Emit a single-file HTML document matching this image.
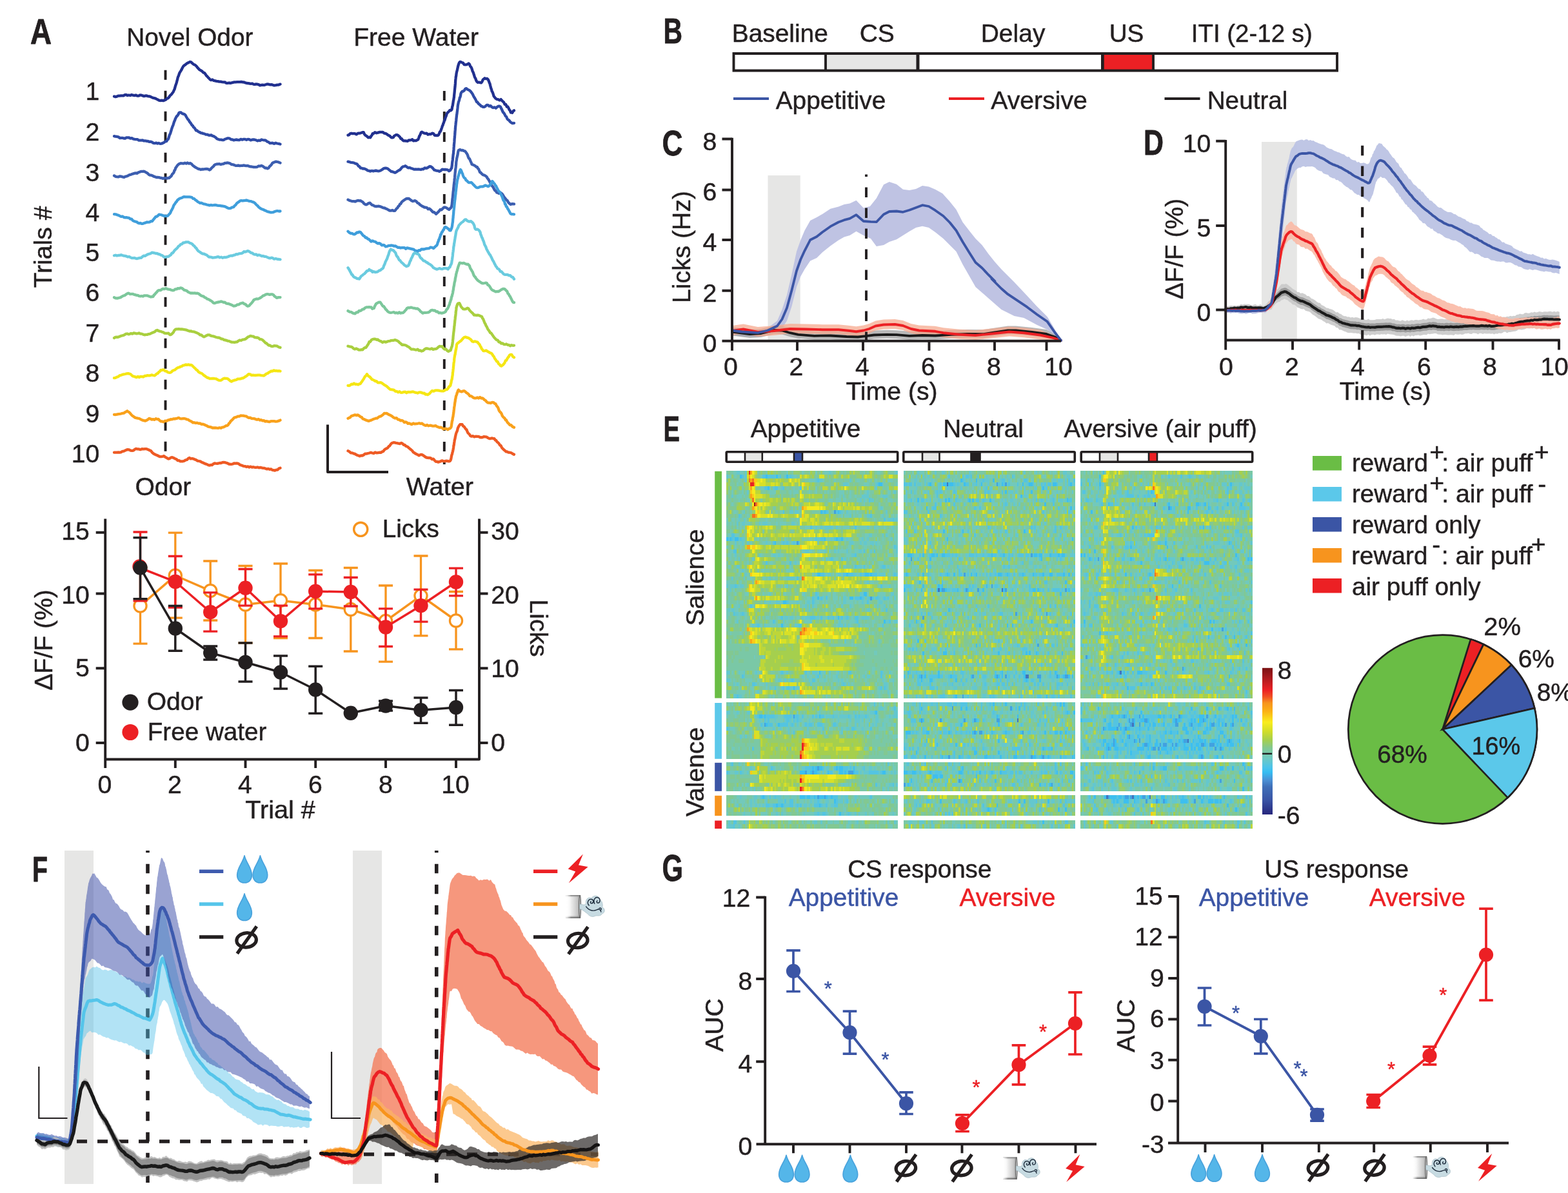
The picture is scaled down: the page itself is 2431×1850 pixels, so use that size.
<!DOCTYPE html>
<html lang="en"><head><meta charset="utf-8"><title>Figure</title>
<style>html,body{margin:0;padding:0;background:#fff;width:2431px;height:1850px}svg{display:block}</style>
</head><body>
<svg width="2431" height="1850" viewBox="0 0 2431 1850" font-family="'Liberation Sans', sans-serif" font-size="38" fill="#231f20" stroke-linejoin="round">
<rect width="2431" height="1850" fill="#fff"/>
<text x="47" y="67.5" font-size="55.8" font-weight="bold" textLength="33" lengthAdjust="spacingAndGlyphs" stroke="#231f20" stroke-width="0.8">A</text>
<text x="196.2" y="70.6" textLength="196.2" lengthAdjust="spacingAndGlyphs" stroke="#231f20" stroke-width="0.45">Novel Odor</text>
<text x="548.2" y="70.6" textLength="193.9" lengthAdjust="spacingAndGlyphs" stroke="#231f20" stroke-width="0.45">Free Water</text>
<text x="209.4" y="768.1" textLength="86.9" lengthAdjust="spacingAndGlyphs" stroke="#231f20" stroke-width="0.45">Odor</text>
<text x="629.7" y="768.1" textLength="104.2" lengthAdjust="spacingAndGlyphs" stroke="#231f20" stroke-width="0.45">Water</text>
<text transform="translate(80 383) rotate(-90)" x="-63.4" textLength="126.9" lengthAdjust="spacingAndGlyphs" stroke="#231f20" stroke-width="0.45">Trials #</text>
<text x="132.6" y="155.1" textLength="21.8" lengthAdjust="spacingAndGlyphs" stroke="#231f20" stroke-width="0.45">1</text>
<text x="132.6" y="218.1" textLength="21.8" lengthAdjust="spacingAndGlyphs" stroke="#231f20" stroke-width="0.45">2</text>
<text x="132.6" y="280.6" textLength="21.8" lengthAdjust="spacingAndGlyphs" stroke="#231f20" stroke-width="0.45">3</text>
<text x="132.6" y="343.1" textLength="21.8" lengthAdjust="spacingAndGlyphs" stroke="#231f20" stroke-width="0.45">4</text>
<text x="132.6" y="404.6" textLength="21.8" lengthAdjust="spacingAndGlyphs" stroke="#231f20" stroke-width="0.45">5</text>
<text x="132.6" y="467.1" textLength="21.8" lengthAdjust="spacingAndGlyphs" stroke="#231f20" stroke-width="0.45">6</text>
<text x="132.6" y="530.1" textLength="21.8" lengthAdjust="spacingAndGlyphs" stroke="#231f20" stroke-width="0.45">7</text>
<text x="132.6" y="592.1" textLength="21.8" lengthAdjust="spacingAndGlyphs" stroke="#231f20" stroke-width="0.45">8</text>
<text x="132.6" y="654.6" textLength="21.8" lengthAdjust="spacingAndGlyphs" stroke="#231f20" stroke-width="0.45">9</text>
<text x="110.8" y="717.1" textLength="43.5" lengthAdjust="spacingAndGlyphs" stroke="#231f20" stroke-width="0.45">10</text>
<line x1="256.5" y1="108.7" x2="256.5" y2="701.5" stroke="#231f20" stroke-width="3.9" stroke-dasharray="15 17"/>
<line x1="688.8" y1="141" x2="688.8" y2="720" stroke="#231f20" stroke-width="3.9" stroke-dasharray="15 17"/>
<path d="M508 658.5V732H602" fill="none" stroke="#231f20" stroke-width="4"/>
<polyline points="177,149.5 179.1,150.1 181.2,149.7 183.3,148.6 185.4,148.6 187.5,148.3 189.5,148.3 191.5,148.4 193.5,147.2 195.5,147 197.6,148 199.7,147.5 201.9,148 204.1,147 206.2,147.7 208.4,148.1 210.6,147.5 212.8,148.6 215,148.6 217.1,147.5 219.2,147.6 221.2,148.4 223.3,149.1 225.4,148.5 227.5,148.5 229.6,149.3 231.7,149.3 233.8,150.2 235.8,151.2 237.9,151.9 240,152.3 242.2,153.3 244.4,154.4 246.6,155.7 248.8,156 250.9,155.6 253.1,156.2 255.3,155.2 257.2,154.4 259,152.6 260.5,152.4 262,150.8 263.5,148.3 264.9,147.1 266.2,145.9 267.5,144 268.7,142.5 269.8,139.8 270.6,138.4 271.2,136.1 271.9,133.5 272.5,131.8 273.1,130.1 273.8,128 274.4,125.4 275,123.5 275.6,120.6 276.2,118.8 276.9,117.5 277.7,114.9 278.6,112.6 279.6,111.1 280.7,109.4 281.8,107.4 282.9,105 284,103.2 285.3,101.6 287,100.6 288.8,99.1 290.7,97.8 292.6,97 294.5,95.9 296.3,96.3 298.2,98.2 300,99.7 301.9,100.4 303.5,101.6 305.1,103.3 307.1,105.8 309.4,108.2 311.6,109.4 313.5,110.6 315.2,112.5 317,113.1 318.6,115.1 320,117.3 321.2,118.4 322.5,119.9 323.8,121.2 325.3,122.9 327.2,124.2 329.3,123.4 331.4,124.9 333.6,125.4 335.7,125.9 337.9,126.2 340,126.7 342.1,126.7 344.3,127.2 346.4,127.4 348.6,127.3 350.7,128.9 352.9,128.9 355,128.5 357.1,128.8 359.2,128.4 361.2,127.8 363.3,127.4 365.4,127.3 367.5,127.2 369.7,127.2 371.9,127.2 374.1,126.8 376.2,127.4 378.4,127.5 380.6,128.4 382.8,129 384.9,129.2 387,129.5 389,129.9 391,129.5 393,130.7 395,130.9 397,130.4 399,130.7 401,131.1 403,132.4 405.1,131.9 407.3,131.6 409.5,132 411.8,131.2 414,130.5 416.2,130.6 418.4,131.3 420.6,131.2 422.8,131.7 425.1,132.5 427.4,132.1 429.8,131.6 432.1,131.5 434.5,130.6" fill="none" stroke="#21308f" stroke-width="4.3" stroke-linejoin="round" stroke-linecap="round" />
<polyline points="177,211.1 179.2,211.7 181.3,211.9 183.5,212.3 185.7,214 187.8,213.9 189.9,213.8 192,214.5 194,214.6 196,213.4 198,213.3 200.1,213.5 202.2,214.6 204.3,214.2 206.4,215.4 208.6,215.9 210.7,216.1 212.9,216.1 215,217.6 217.1,217.7 219.2,217.6 221.2,217.5 223.3,218.4 225.4,218.3 227.5,218.9 229.6,219 231.7,219.9 233.8,219.6 235.8,220.5 237.9,221.9 240,222.1 242.1,221.6 244.2,222.5 246.2,221.9 248.3,222.9 250.4,222.6 252.4,221.9 254.4,220.8 256.2,219.3 258.1,219.2 259.6,216.6 260.6,216 261.4,214.3 262.1,211.8 262.8,209.3 263.5,208.3 264.2,206.5 264.9,204.2 265.6,202 266.2,199.8 266.9,197.8 267.6,195.7 268.3,194.4 269,192.1 269.7,189.8 270.4,187.8 271.1,186.6 271.8,184.2 272.7,182.6 273.8,180.5 275,179.5 276.2,177.8 277.5,175 279,174.3 280.7,174.5 282.5,176.1 284.3,176.6 286,177.2 287.5,178.5 288.8,181 290,183 291.2,185 292.5,186.1 293.8,188.7 295,190.2 296.2,191.7 297.5,194.1 298.8,194.8 300,197.2 301.2,198 302.5,199.8 304,202.3 305.7,202.5 307.5,204.2 309.4,204.9 311.2,206.1 313.1,206.4 315.1,207.1 317.1,207.5 319.2,208.7 321.2,208.6 323.3,209.5 325.4,209.8 327.4,209.3 329.2,210.7 331,211.1 332.8,212.2 334.5,213.3 336.4,215.3 338.5,216 340.6,216.7 342.8,216.6 344.9,217.1 346.9,217 348.8,215.7 350.6,215.2 352.5,214.4 354.5,214.3 356.5,215 358.5,216.4 360.5,216.5 362.6,217.4 364.7,216.8 366.9,216.5 369.1,217.1 371.2,217.1 373.4,215.8 375.6,216.7 377.8,215.8 380,215.8 382.1,216.9 384.3,215.8 386.4,216.2 388.6,217.4 390.7,216.7 392.9,216.4 395,216.7 397.1,217.3 399.2,218.4 401.2,217.6 403.3,218.1 405.4,216.5 407.4,217 409.3,217.3 411.1,217.4 412.9,218.4 414.6,219.8 416.4,220.3 418.3,222 420.3,221.8 422.5,221.7 425,222.8 427.4,221.7 429.8,222.5 432.2,222.9 434.5,223.5" fill="none" stroke="#2f4ba6" stroke-width="4.3" stroke-linejoin="round" stroke-linecap="round" />
<polyline points="177,272.4 179.2,273.8 181.4,274.1 183.6,274.3 185.9,273.3 188.1,273.7 190.3,274.4 192.4,274.8 194.5,273.7 196.5,273.3 198.5,272.5 200.5,271.2 202.5,270.9 204.5,270 206.5,269.4 208.5,268.7 210.5,268.4 212.6,268.8 214.7,267.2 216.9,266.6 219,265.8 221.1,265.9 223.1,265.6 225,266.5 226.9,267.6 228.8,268.7 230.6,270.6 232.5,271.7 234.5,271.7 236.5,272.5 238.5,273.6 240.5,274.3 242.5,275 244.5,275 246.5,275.1 248.5,275.8 250.5,276 252.5,276.9 254.5,276.2 256.5,276.1 258.5,276.7 260.5,276 262.3,276 264,274.3 265.6,273 267.1,270.1 268.5,268.7 269.6,267.2 270.5,264.2 271.4,263.5 272.3,260.4 273.2,259.3 274.2,257.7 275.6,255.9 277.6,254.2 280,253.2 282.3,253.3 284.6,253.6 286.7,252.7 288.8,253.6 290.8,252.5 292.9,253.7 294.9,252.9 296.9,254.3 298.8,256.4 300.6,257.7 302.5,259.2 304.2,260.2 306,261.1 307.8,262 309.5,262.2 311.4,263 313.4,262.3 315.4,262.5 317.7,262.1 320,261.8 322.4,262.2 324.6,263.5 326.4,262.5 327.9,260.7 329.4,259.2 330.8,258.1 332.3,256.1 334,255 336,254.5 338.1,254.4 340.3,254.2 342.4,255 344.5,254.3 346.5,254.1 348.5,252.9 350.5,252.9 352.6,252.4 354.7,252.8 356.8,253.6 358.9,255.1 361.1,255.2 363.2,255.9 365.4,256.9 367.5,256.8 369.6,256.5 371.7,257.1 373.8,256.9 375.8,256.9 377.9,256.4 380,256.8 382.1,257.2 384.2,257 386.2,257.9 388.3,258.4 390.4,258.5 392.5,259 394.6,259.1 396.7,259.2 398.8,258.8 400.8,257.5 402.9,257.7 405,256.9 407,257.5 409,259 411,260.5 413,260.3 414.8,261.3 416.4,260.6 417.9,258.2 419.4,256.9 420.8,255.3 422.3,252.9 424,252 425.9,251.3 427.9,250.6 430.1,251 432.3,251.6 434.5,252.6" fill="none" stroke="#3c5eb0" stroke-width="4.3" stroke-linejoin="round" stroke-linecap="round" />
<polyline points="177,332.1 179.2,332.3 181.3,333.1 183.5,333.7 185.7,334.9 187.8,335.9 189.9,335.5 192,336.8 194,337.3 196,337.1 198,337.7 200,337.8 202,339.5 204,339.7 206,342.1 208,343 210,343.7 211.9,344 213.8,345.6 215.7,346.3 217.6,345.8 219.5,346.9 221.5,346.8 223.5,346 225.5,345.4 227.6,344.5 229.7,344.7 231.9,344.4 234,343.1 235.9,343 237.4,341.2 238.8,339.3 240,338 241.3,336.1 242.8,335.8 244.6,334.7 246.7,332.6 248.8,333 250.8,333.4 252.9,334.2 255.2,335.1 257.5,334.9 259.9,334.9 261.9,332.6 263.3,331.2 264.4,329.6 265.3,327 266.2,325.8 267.2,323.7 268.1,322 269.1,319.1 270.1,317.3 271.3,315.9 272.5,313.8 273.8,312.6 275,310.5 276.3,309.5 277.8,308.3 279.5,307.4 281.5,307 283.5,305.8 285.5,305.1 287.5,305.4 289.5,305.3 291.5,305.3 293.5,305.4 295.5,305.6 297.4,306 299.3,307.9 301.1,308.1 302.9,310.1 304.6,311 306.4,312.8 308.2,313.7 310.1,314.9 312.2,314.6 314.3,315.7 316.4,316.4 318.6,316.7 320.7,317.5 322.8,317.9 324.9,318.5 327,317.9 329,318.4 331,318.2 333,317.9 335,318 337,318.7 339,318.9 341,318.9 343,319.4 345,319.5 347,319.9 349,320.3 351,321.4 353,322.5 355.2,323.2 357.5,322.8 359.9,321.5 362.1,321.1 363.9,318.9 365.5,317.7 367,315.4 368.5,314.2 370.2,313.2 372,311.6 374,311 376,311.4 378,311.1 380.1,310.8 382.3,310.5 384.6,311.3 386.9,311.8 389.2,312.1 391.4,313.2 393.4,313.6 395.2,315 396.7,316.7 398.1,318.1 399.6,319.3 401.1,321.2 402.7,322.4 404.5,323.6 406.5,324.5 408.5,325.1 410.5,326.3 412.6,327.1 414.7,328.2 416.9,328.6 419.1,329.3 421.2,329.4 423.3,329.2 425.4,328.3 427.6,327.5 429.8,327 432.2,327.5 434.5,327.5" fill="none" stroke="#3f9edb" stroke-width="4.3" stroke-linejoin="round" stroke-linecap="round" />
<polyline points="177,396.3 179.2,395.7 181.3,396.5 183.5,396 185.7,395.9 187.8,395.2 189.9,396 192,396.7 194,396.8 196,397.3 198,398.4 200.1,398 202.2,399.1 204.3,400.1 206.4,400.1 208.6,400 210.7,400.8 212.8,401 214.9,400.3 217,399.8 219,399.8 221,397.9 223,396.7 225,396.8 227.1,395.5 229.2,394.4 231.2,393.8 233.3,393.2 235.4,391.7 237.5,392 239.5,392.3 241.5,393 243.5,392.9 245.5,394 247.5,394.3 249.5,395.6 251.5,396 253.5,397.9 255.5,398.9 257.5,398.5 259.4,397.9 261.2,397.9 263.1,396.4 264.8,395.3 266.4,392.7 267.9,392.3 269.3,390.4 270.7,388.3 272.1,386.9 273.6,385.7 275.1,384.2 276.8,381.8 278.5,380.9 280.2,378.8 282,378.5 283.9,376.5 285.9,376.3 287.9,375.5 290,375.3 292,375.4 294,376.7 296,377.3 298,378.4 299.8,380.5 301.4,381.6 302.9,383.8 304.3,384.8 305.7,387.2 307.1,388.9 308.6,390 310.3,391.1 312.2,392.5 314.4,393.5 316.5,393.7 318.6,394.7 320.5,395.4 322.2,397.1 324,398.5 325.8,398.5 327.7,398.8 329.7,399.7 331.9,399.4 334.1,399.2 336.3,398.5 338.5,398.2 340.8,399.3 343,398.7 345.2,399.8 347.4,399 349.6,399.2 351.7,398.7 353.8,398 355.8,397 357.9,396.5 360,396.7 362.1,395.7 364.2,395.3 366.2,394.2 368.3,394.4 370.4,393.3 372.4,393.1 374.4,392.9 376.2,392.3 378.1,390.2 380,390.6 381.9,390.1 383.8,389.1 385.6,389.6 387.5,390.8 389.4,392.2 391.2,392.4 393.1,394 395.1,394.7 397.2,394.5 399.3,396.1 401.4,395.3 403.6,396 405.7,397.2 407.9,396.9 410,397.8 412.1,397.9 414.3,398.9 416.4,399.9 418.6,400.4 420.7,399.7 422.9,400.2 425.1,401.7 427.4,401 429.8,401.8 432.1,402 434.5,402.4" fill="none" stroke="#6acbdf" stroke-width="4.3" stroke-linejoin="round" stroke-linecap="round" />
<polyline points="177,461.3 179.7,462.4 182.2,462.5 184.3,461.9 186.2,461.5 188.1,460.5 190,459.2 191.9,458.5 193.8,457.9 195.6,456.4 197.5,455.2 199.5,454.7 201.5,456.1 203.5,455.9 205.5,455.8 207.5,456.6 209.5,457.1 211.5,457.8 213.5,457.9 215.5,459 217.5,459.4 219.5,459 221.5,459.5 223.5,458.4 225.5,458.3 227.6,458.3 229.7,458.9 231.9,459.7 234,460.5 235.9,459.9 237.4,460 238.8,457.3 240,456.6 241.3,454.8 242.8,453.3 244.6,451 246.7,450.1 248.8,450.2 250.8,448.8 252.9,447.8 255,448.2 257.1,447 259.2,448.2 261.2,448.7 263.3,448.8 265.4,449.7 267.5,450.3 269.6,450.2 271.7,448.4 273.8,448.4 275.8,447.1 277.9,447.5 279.9,446.3 281.9,446.8 283.8,448.2 285.6,449.8 287.5,450.2 289.5,450.9 291.5,452.7 293.5,453.6 295.5,454.5 297.6,454.3 299.7,454.7 301.9,454.4 304,454.8 306.1,454.7 308.1,455.5 310,457.1 311.9,458.5 313.8,459.1 315.6,459.6 317.5,461.3 319.4,462 321.2,463.6 323.1,464 325,465.2 326.9,466.3 328.8,467.5 330.6,469.4 332.5,470.2 334.5,469.5 336.5,468.8 338.5,468.5 340.5,468.2 342.5,467.4 344.5,468 346.5,468.8 348.5,468.7 350.5,470.4 352.5,470.8 354.4,471 356.2,471.7 358.1,472.5 360,473.3 361.9,474.5 363.9,474.3 366,473.8 368.1,472.3 370.3,472.3 372.5,470.6 374.6,470.2 376.7,469.7 378.7,471.4 380.7,471.9 382.6,474 384.3,474.8 386,474.3 387.5,472.6 389,471.1 390.5,469.4 392,467.5 393.6,465 395.4,464.3 397.6,463.5 400,463.6 402.2,462.6 404.2,461.5 406,460.3 407.8,458.6 409.5,458.2 411.4,456.9 413.5,456.2 415.8,456.2 418,456.9 420.2,456.4 422.2,456.3 424,457.3 425.6,459.4 427.3,460.5 429.2,461.9 431.7,461.1 434.5,461.1" fill="none" stroke="#7cc79b" stroke-width="4.3" stroke-linejoin="round" stroke-linecap="round" />
<polyline points="177,524.1 179,522.8 181,522.6 183,522.8 185,522 187,521.1 189,520.5 191,520.1 193,519.2 195,517.9 197.1,517.5 199.2,518.3 201.2,517.8 203.3,517 205.4,517.7 207.5,516.4 209.5,516.8 211.5,517.4 213.5,517.1 215.5,516.5 217.6,517.6 219.7,517.6 221.9,518.6 224.1,519.3 226.2,518.9 228.2,518.9 230.2,518.1 232.2,517.9 234.2,516.9 236.2,516 238.1,515.2 240,514.4 241.9,512.5 243.8,512 245.6,513 247.5,513.6 249.4,514 251.2,514.7 253.1,515.3 255.1,516.6 257.1,516.8 259.2,516.8 261.2,516.7 263.1,519 264.8,519.1 266.2,518.1 267.5,516.7 268.8,515.5 270,512.8 271.3,511.3 273,510.3 275,510.4 277.3,510.1 279.5,510.5 281.5,510.3 283.5,510.7 285.5,511 287.5,511.4 289.6,511.9 291.7,512.8 293.8,513.6 295.8,513.3 297.9,514.2 300,514.3 302.1,514.9 304.2,515.7 306.2,516.6 308.2,517.6 310.2,519.4 312.2,519.5 314.3,521.3 316.3,522.3 318.3,521.4 320.4,520.2 322.5,519.3 324.6,519.3 326.8,520.6 328.9,521.1 331.1,521.4 333.2,522.3 335.3,523 337.4,523.5 339.4,523.6 341.4,524.4 343.3,525.6 345.3,525.7 347.2,527 349.2,527.3 351.1,527.8 353.1,528.7 355.1,528.9 357.2,529.9 359.4,530.6 361.5,530.6 363.6,530.9 365.6,530.4 367.5,530.3 369.4,528.8 371.5,527.5 373.8,528 376.2,526.6 378.5,526.4 380.6,525.7 382.4,524.3 384.3,522.6 386.2,521.9 388.2,520.8 390.4,521.3 392.6,521.6 394.9,523.1 397,523.5 399,523.4 401,524.2 403,526.2 404.9,526.1 406.6,526.9 408.3,528.4 410,530 411.7,531.9 413.3,532.4 415,534.1 416.7,535.5 418.4,535.5 420.3,536.8 422.5,537.2 425,536.2 427.4,536.3 429.8,536.7 432.1,538.2 434.5,538.9" fill="none" stroke="#a9cf3f" stroke-width="4.3" stroke-linejoin="round" stroke-linecap="round" />
<polyline points="177,586.2 179.1,585.9 181.2,584.7 183.3,584.1 185.4,582.4 187.6,581.7 189.8,580.9 192,580.4 194.2,580 196.5,579.4 198.6,579.2 200.5,579.7 202.2,580 204,581.7 205.8,583.4 207.6,583.7 209.6,584.4 211.7,585.1 213.8,584 215.8,585 217.9,583.9 220,584.1 222.1,584.5 224.2,583 226.2,582.9 228.3,582.2 230.4,582.4 232.7,582.3 235,581.4 237.4,582 239.6,582.4 241.5,581.1 243.1,579.5 244.7,578.9 246.2,577 247.8,575.9 249.4,573.9 251,574.2 252.6,573.2 254.4,574.1 256.3,575.4 258.2,575.7 260.1,577.3 261.9,577.8 263.7,577.9 265.5,577.1 267.2,575.2 269,574.3 270.8,573.8 272.5,572.4 274.4,570.9 276.2,570 278.1,569.5 280,568.5 281.9,568 283.8,566.6 285.8,566.3 287.9,565.5 290,565.8 292.1,565.4 294.1,566 296.1,565.8 297.8,566.7 299.5,568.4 301.1,570.1 302.7,571.4 304.3,573.3 305.9,574.2 307.6,576.6 309.3,577.6 311,578.5 312.8,579 314.5,580.5 316.2,582.1 318,583.2 319.8,584.6 321.5,585.8 323.3,586 325.1,587.1 327,587.2 329,587 331,587 333,587.2 335,587.3 337.1,588.6 339.1,589.7 341.1,589.8 343,589.6 344.8,588.1 346.5,587.1 348.2,586.7 350,586.9 351.8,586.9 353.5,587.6 355.2,589 357,590.7 358.8,591.7 360.6,590.6 362.5,589.9 364.4,589.4 366.4,589 368.5,587.6 370.8,587.7 373,587.4 375.2,586.5 377.2,586.3 379,585 380.5,583.9 382,583.2 383.6,581.8 385.4,580.2 387.6,580.4 390,581.9 392.5,581.6 395,582 397.5,581.9 400,581.6 402.5,581.7 405,582.1 407.3,582.3 409.3,582.5 411.2,581.1 413.1,579.5 415,579 416.9,577.4 418.8,576.6 420.6,575.4 422.5,575.6 424.5,574.4 426.5,575.1 428.5,574.9 430.5,575.3 432.5,575.1 434.5,575.5" fill="none" stroke="#f5e614" stroke-width="4.3" stroke-linejoin="round" stroke-linecap="round" />
<polyline points="177,642.9 179.2,643 181.3,642.6 183.5,642.2 185.7,641.9 187.8,641.5 189.9,640.8 191.9,640.7 193.8,639.3 195.6,638.3 197.3,637.3 198.9,638.6 200.4,639.4 201.8,640.9 203.2,642.6 204.6,644.2 206.1,645.2 207.7,646.4 209.5,647.6 211.5,648.2 213.5,648.7 215.5,648.9 217.5,649.9 219.4,651 221.2,651.6 223.1,652.2 225.1,652.7 227.1,651.8 229.2,650.6 231.2,648.9 233.3,649.5 235.4,650.6 237.5,650.1 239.6,650.9 241.7,649.2 243.7,650.1 245.6,649.9 247.5,652.1 249.4,653.4 251.4,653.5 253.5,654.3 255.8,652.7 258,653 260.2,651.7 262.4,651.2 264.6,650.2 266.7,650.4 268.8,649.4 270.8,649.5 272.9,649.2 275,648.6 277.1,647.8 279.3,649.2 281.4,649.4 283.6,649.2 285.7,649 287.8,649.5 289.9,650.4 291.7,650.6 293.5,652.1 295.2,652.9 297,653.7 299,655.4 301.1,655.2 303.3,656 305.6,655.6 307.9,656.6 310.2,656.5 312.4,657.9 314.6,657.7 316.7,658.5 318.8,659.5 320.8,660.3 322.9,661.6 325,662 327.2,662.3 329.4,663.5 331.6,663.5 333.8,663.3 335.9,663.7 338.1,663.9 340.3,663.2 342.4,663.8 344.5,662.6 346.5,662.3 348.5,661.3 350.5,660.2 352.2,660.1 353.7,658.9 355,656.5 356.2,655.7 357.5,653.4 358.8,652.2 360,651.1 361.5,649.5 363.3,647.5 365.2,647.2 367.1,646.4 369.1,645.6 371.1,645.6 373,644.5 375.1,644.6 377.2,644.7 379.3,645.2 381.4,645.3 383.6,646.8 385.7,647.9 387.9,647.6 390,648.8 392.1,649.1 394.3,649.2 396.4,650.1 398.6,650.8 400.7,649.9 402.8,651.5 404.9,651.2 407,652.4 409,652.1 411,653.5 413,653.2 415.2,653.7 417.5,654.2 420,653.2 422.5,653.2 425,653.2 427.4,653.6 429.8,653.3 432.2,652.7 434.5,651.6" fill="none" stroke="#f9a11b" stroke-width="4.3" stroke-linejoin="round" stroke-linecap="round" />
<polyline points="177,701.6 179.2,701.7 181.3,701.6 183.5,701.4 185.7,701.6 187.8,701.2 189.9,699.8 192,699.6 194,698.6 196,697.7 198,697.2 200.2,697.3 202.5,698.6 204.8,698.8 206.8,698.6 208.8,697 210.7,695.8 212.7,696.4 215,696.4 217.5,697.2 220,696.2 222.5,696.4 224.9,696.2 227.2,696.1 229.1,697 230.8,697.6 232.5,698.6 234.2,699.3 235.9,701.7 237.6,703.2 239.5,704.3 241.5,705.2 243.5,706 245.5,707 247.7,708.2 250,708.1 252.2,707.8 254.2,707.1 256,708.7 257.8,709.7 259.5,710.6 261.2,711.5 262.9,711.1 264.6,709.8 266.3,709.2 268.1,709.6 270,710.5 271.9,711.6 273.8,712.3 275.6,714.2 277.6,714.1 279.6,715.4 281.7,715.3 283.7,715.3 285.7,714.7 287.8,713.4 289.8,713 291.8,710.9 293.8,710 295.8,711.4 297.9,711 300,711.6 302.1,712.4 304.2,713.3 306.2,714.6 308.3,715 310.4,715.4 312.5,716.7 314.6,717.5 316.7,718.5 318.8,719.4 320.8,720 322.9,721.2 324.9,721.6 326.9,721 328.8,721.1 330.6,719.5 332.6,718.5 334.5,718.7 336.6,718.8 338.6,718.5 340.6,718 342.7,718 344.7,717.2 346.7,716.8 348.7,717.1 350.7,717.7 352.8,718.4 354.8,719.5 356.8,719.8 358.8,719.9 360.8,719.5 362.9,718.5 364.9,718.7 366.9,718.5 368.8,718.6 370.6,719.7 372.5,721.1 374.4,721.5 376.2,722.3 378.1,722.8 380.1,723.1 382.2,724 384.3,723.4 386.4,724.5 388.6,723.6 390.7,724.6 392.9,724.2 395,724.8 397.1,724.9 399.3,724.5 401.4,725.3 403.6,724.9 405.7,725.4 407.8,725.8 409.9,725.9 412,726.7 414,727.4 416,726.8 418,727.8 420,727.4 422.1,728.8 424.2,729.2 426.2,729.7 428.3,728.6 430.4,728.6 432.4,726.5 434.5,725.7" fill="none" stroke="#ee5a24" stroke-width="4.3" stroke-linejoin="round" stroke-linecap="round" />
<polyline points="539.5,209.6 541.2,209.1 542.8,207.3 544.6,206.7 546.3,207.2 548.2,207.1 550.2,207.2 552.5,208.4 555,206.7 557.5,206.7 559.9,206 562,205.2 563.7,205.1 565,208.1 566.3,209.6 567.7,210.5 569.4,211.8 571.1,213.3 572.7,212.7 574.1,213.3 575.3,211.3 576.5,209.7 577.7,207.2 579.3,207 581.3,205.2 583.8,206.3 586.2,205.6 588.8,204.9 591.2,204.8 593.6,205 595.9,206.7 598.1,207 600.3,208.4 602.4,209.9 604.3,210.8 606.2,212.9 607.9,213.5 609.6,213.2 611.2,210.8 612.9,209.7 614.4,209.1 615.8,209.2 617.2,209.9 618.5,211.1 619.9,212.3 621.3,215 622.8,215.2 624.4,217.4 626,218.4 627.7,218.4 629.6,218.5 631.7,218.9 633.7,217.5 635.6,217.4 637.4,217.1 639.2,216.2 640.9,218.3 642.8,217.8 645,218.2 646.9,217 648.3,216.3 649.3,213.7 650.2,211 651.1,209.7 652,207.7 652.9,205.4 654.1,204.6 655.7,205.5 657.5,206.5 659.4,207 661.3,206.6 663.4,208.7 665.5,208 667.7,208.2 669.9,206.7 672,207.2 674,209.9 675.9,210 677.6,210 678.9,210 679.9,209.3 680.9,207.2 681.8,204.6 682.8,203.9 683.7,201.7 684.4,199.9 685.2,197.6 685.9,195.2 686.6,194.1 687.3,191.4 688,190.3 688.7,187.6 689.5,186.4 690.2,183.7 690.9,181.7 691.6,180.2 692.3,177.8 693.2,175.5 694.4,174.3 695.8,173 697.5,170.9 699.1,171.3 700.3,170.1 700.8,168.2 701.2,165.3 701.7,164.2 702.1,161.7 702.5,159.1 702.9,156.1 703.3,154.8 703.7,151.7 703.9,151.2 704.1,148.1 704.3,146.1 704.5,144.4 704.7,142.5 704.9,140.3 705.1,138.1 705.3,136.3 705.5,134.6 705.7,131.8 705.9,129.9 706,128.4 706.2,124.8 706.4,123.1 706.6,121.3 706.8,119 707.1,118.2 707.5,114.7 707.9,112.4 708.3,110.6 708.8,108.8 709.2,107.1 709.6,105.3 710.1,102.8 710.8,100.3 711.9,97.4 713.2,95.8 714.6,96.1 716.2,97 717.9,97.5 719.6,100.2 721.3,100.3 723.2,100.1 725,99.5 726.7,98.4 728,99.7 729.1,102.9 730.2,103.8 731.1,105.5 731.9,107.8 732.7,110.6 733.4,111.7 734.1,113.6 734.8,115.7 735.5,118 736.3,120.4 737.2,121.5 738.1,124.4 739.2,126.4 740.6,127.8 742.5,127.5 744.5,128.1 746.2,128.3 747.5,126.5 748.8,123.4 750.1,122.4 751.6,121.3 753.4,122.2 755.3,121.9 757,123.8 758.1,126.4 758.8,128.7 759.4,129.4 760.1,132.5 760.7,134.8 761.4,137.3 762,138.6 762.7,141.7 763.4,142.4 764.1,144.3 764.8,146.4 765.6,149.3 766.7,150.4 768.2,152.5 770.1,153.8 772.2,154.2 774.5,155.5 776.6,154.1 778.3,156.1 779.8,157.5 781.1,158.7 782.6,161.9 784.2,162 785.8,165.5 787.3,165.5 788.6,167.8 789.7,170.3 790.8,171.4 791.9,174.5 793.1,174.1 794.3,174.9 795.7,172.1 797,171.3" fill="none" stroke="#21308f" stroke-width="4.3" stroke-linejoin="round" stroke-linecap="round" />
<polyline points="539.5,250.7 541.9,251.2 544.2,251.9 546.5,252.1 548.8,252.5 550.9,253.7 552.7,253.9 554.2,255.2 555.8,257.5 557.3,258.2 558.9,260.5 560.6,260.6 562.5,261.5 564.4,261.4 566.2,262.1 568.1,263 570.1,264.5 572.2,264.9 574.4,265.6 576.6,264.8 578.8,265.4 580.9,264.8 583.1,264.5 585.3,265.1 587.4,265.3 589.4,264.7 591.2,263.8 593.2,262.4 595.2,261.1 597.5,260.7 599.6,261 601.5,261.8 603.1,263.3 604.7,264.4 606.4,266 608.4,266.2 610.4,267 612.4,267.8 614.4,266.9 616.2,265.5 618.1,264.3 619.9,263.5 621.5,261.7 623.1,259.6 624.7,258.3 626.5,258.1 628.5,257.2 630.6,258.7 632.8,260.3 635.1,259.9 637.5,260.9 640,261.8 642.3,262.7 644.5,262.5 646.5,262.6 648.5,262.4 650.5,262.6 652.5,263 654.5,262.1 656.5,262.3 658.5,260.3 660.5,261 662.5,260.4 664.6,259 666.6,257.9 668.5,258.6 670.2,260 671.8,261.8 673.2,263.6 674.8,263.9 676.6,264.7 678.8,264.8 681.2,265.9 683.5,264.6 685.6,262.7 687.6,262.8 689.6,263 691.8,263 694,263.4 696.1,265.2 698,264.1 699.4,261.7 700.1,260.9 700.5,258.3 700.8,256.4 701,253.9 701.2,251.7 701.5,249.9 701.8,248 702,245.8 702.2,244.4 702.5,240.9 702.7,239 703,238.3 703.1,235.7 703.3,233.7 703.5,231.7 703.6,228.9 703.8,227.2 703.9,224.8 704.1,222.7 704.2,222.2 704.4,219.7 704.5,217.9 704.7,214.3 704.9,213.6 705,210.8 705.2,209.2 705.3,207.5 705.5,204.3 705.6,202.9 705.8,201.2 705.9,199.7 706.1,197 706.3,194.7 706.5,193.2 706.7,191.1 707,188.5 707.2,187 707.4,184.4 707.7,181.9 707.9,180.4 708.1,178 708.4,176.7 708.6,174.7 708.8,173.3 709.1,171.1 709.3,169 709.5,167.4 709.8,164.1 710.1,162.3 710.6,159.9 711.1,157.6 711.7,156.3 712.2,154.2 712.8,151.4 713.3,150.8 713.9,148.8 714.5,145.1 715.4,143.1 716.7,141.7 718.2,141.5 719.8,140.3 721.4,137.7 723,137.1 724.7,138.6 726.3,139.4 727.9,140.2 729.6,141.6 731,143.5 732.3,145.2 733.4,147.3 734.5,149.7 735.5,151.2 736.6,153.1 737.7,155 738.9,158 740.2,158.4 741.6,160.5 743,161.7 744.5,162.9 745.9,164.5 747.4,165 748.9,165.8 750.7,165.9 752.6,164.8 754.5,162.9 756.5,162.8 758.5,164.7 760.5,164 762.5,166.1 764.6,167 766.7,166.4 768.8,167.8 770.8,165.8 772.9,164.6 774.6,164.7 776,165.8 777.1,168.1 778.1,169.9 779.2,172.6 780.2,174.4 781.3,175.4 782.5,177.4 783.8,180.2 785,180.8 786.3,184.1 787.6,185.6 789.1,186.4 790.6,188.4 792.3,190 794.4,191.2 797,190.8" fill="none" stroke="#2f4ba6" stroke-width="4.3" stroke-linejoin="round" stroke-linecap="round" />
<polyline points="539.5,309.7 541.8,310.9 544,311.5 546.2,312.2 548.5,312.2 550.8,312.5 553,311.5 555.2,310.9 557.3,311.3 559.1,311.2 560.8,312.4 562.5,313.3 564.2,315.6 565.9,316.8 567.7,317.4 569.6,316.5 571.6,315 573.6,314.6 575.4,316.6 577.1,318 578.9,318.4 580.8,319.7 582.8,320 584.8,320 586.7,319.6 588.7,320.1 590.6,320.6 592.5,321.5 594.4,322.4 596.2,322.5 598.1,323.5 600.1,324.2 602.1,325.5 604.2,326.5 606.2,326.6 608.3,326 610.4,326.9 612.2,326.9 613.7,325 615,323.3 616.2,322.5 617.5,320.1 618.8,319.2 620,316.6 621.3,316.1 622.6,313.5 624.1,312.1 625.7,310.8 627.3,309.9 628.9,308.7 630.6,307.9 632.3,308 634,308 635.8,309.4 637.6,310.8 639.6,312 641.6,311.7 643.6,311.2 645.5,312.4 647.3,314.7 649.1,315.2 650.9,317.2 652.7,318.5 654.5,319.7 656.3,320.5 658.1,321.5 660,321.7 661.9,322.1 663.8,324.3 665.6,323.5 667.5,324.9 669.2,326.8 671,328.8 672.8,329 674.5,330.3 676.2,331.9 677.8,330.2 679.4,328.8 681,327 682.6,324.9 684.4,325.3 686.2,323.7 688.1,321.6 690.1,321.5 692.1,322.2 694.2,323.7 696.2,325.1 698,323.1 699.4,321.8 700.1,320.1 700.4,318.4 700.7,317 700.9,314.3 701.1,312.9 701.3,310.2 701.5,308 701.8,306.7 702,304.1 702.2,301.9 702.4,299.9 702.6,297.5 702.9,295.6 703.1,292.9 703.3,291.1 703.5,290 703.7,286.8 704,284.9 704.2,282.7 704.4,281 704.6,278.4 704.8,276.8 705,275.2 705.2,273.2 705.4,271.5 705.6,268 705.8,266.9 706,264 706.2,262.2 706.5,260.6 706.7,258.9 706.9,256.6 707.1,255 707.3,251.2 707.6,249.7 707.9,247.9 708.3,245 708.8,242.9 709.2,241.4 709.6,239.7 710,236.8 710.4,234.6 710.9,233.2 711.8,232.7 713.3,232 715.2,233.1 717.2,232.9 719.2,234 720.9,234.4 722.1,235.7 723.1,237.3 724.1,238.6 725,240.5 725.9,243.4 726.9,245.6 727.8,246 728.8,248.2 729.7,250.3 730.6,252.2 731.6,254.9 732.9,255.3 734.7,256.2 736.6,257.1 738.4,258.8 739.8,259 740.9,261.3 742,262 743,264.5 744.1,267.2 745.3,267.6 746.8,269.4 748.8,271.1 751.2,271.8 753.2,273 754.8,274.6 755.9,276.6 757,277.8 758.1,279.7 759.2,281.7 760.3,283.8 761.4,285.7 762.6,288.1 763.8,289.1 765,291 766.2,293.5 767.5,295.5 768.8,296 770.1,298.5 771.6,298.7 773.4,299.9 775.4,298.5 777.2,299.6 778.7,300.9 780,302.9 781.2,305.1 782.5,306.8 783.8,308.2 785.1,310 786.6,311 788.1,313.8 789.8,315.6 791.7,317 794.2,316.1 797,316.4" fill="none" stroke="#3c5eb0" stroke-width="4.3" stroke-linejoin="round" stroke-linecap="round" />
<polyline points="539.5,358.7 541.6,360.8 543.7,361.8 545.8,361.9 547.9,363.1 549.9,363.3 551.7,362 553.5,360.5 555.2,360.6 556.9,359.5 558.6,359.8 560.2,361.6 561.8,363.8 563.4,365.6 565,366.3 566.7,368.5 568.3,368.4 570,370.4 571.7,370.9 573.4,372.5 575.3,374.5 577.5,373.3 579.8,374.5 582,374.9 584,376.6 586,377.6 588,377.1 590,378.2 592,380.4 594,379.9 596,380.4 598,382.4 600.2,382 602.5,380.9 604.8,380.8 607,380.5 609,380.9 611,381.6 613,381.4 615,382.7 617,383.8 619,383.7 621,384.5 623,384.1 625,384.2 627.1,384.1 629.2,385.9 631.2,384.3 633.3,384.8 635.4,385.3 637.5,385.8 639.5,386.3 641.5,386.9 643.5,388.6 645.5,388.8 647.5,389.9 649.4,388.1 651.2,388.5 653.2,386.5 655.2,386.5 657.5,386.5 660,385.7 662.5,385.3 665,385.2 667.5,383.5 669.9,383.9 672.2,385.1 674.1,383.1 675.8,381.5 677.1,380.6 678.1,378.5 678.9,375.5 679.6,374.3 680.3,371.6 681,370.8 681.7,368.4 682.4,366.9 683.1,363.7 683.9,363.3 684.8,360.3 685.8,359.6 686.9,357.1 687.9,356.2 689,353.2 690.5,352 692.3,352.7 694.1,354.4 695.6,355.2 696.8,357.1 697.8,357.4 698.6,357.4 699.3,355.6 699.9,354.5 700.6,352.3 701.1,349.9 701.4,347.3 701.7,345.2 701.9,344.6 702.1,341.9 702.3,339.1 702.5,338.1 702.7,334.9 702.9,333.3 703.1,331.9 703.3,328.5 703.5,326.4 703.8,324.2 704,322.3 704.2,320.6 704.4,318.4 704.6,316.3 704.8,313.7 705,312.5 705.2,310.4 705.5,308.9 705.7,306.1 705.9,304.5 706.2,302 706.4,300.8 706.6,297.7 706.9,296.2 707.1,294.1 707.3,292.1 707.6,290.2 707.8,288.2 708,285.8 708.3,284.6 708.5,282.8 708.9,280.1 709.3,278.2 709.9,276.4 710.4,273.7 711,272.2 711.5,269.9 712.1,268 712.6,265.8 713.2,264.3 713.9,263 714.6,263.7 715.4,265.4 716.2,268 717.1,269.4 717.9,272.3 718.9,274.4 720,275.9 721.2,276.8 722.5,279.5 723.8,280.1 725.1,281.7 726.7,283 728.8,283.2 730.8,282.9 732.4,284.5 733.8,286.3 735,287.2 736.3,288.8 737.9,290.3 739.7,291.2 741.9,290.9 744.1,289.7 746.2,289.4 748.3,289.4 750.4,288.5 752.5,287.4 754.6,288.2 756.6,289.2 758.3,288.3 759.5,287 760.5,286.2 761.3,283.8 762.2,282.6 763.1,281 764.2,281.9 765.4,284.1 766.5,284.6 767.7,287 768.9,288.3 770.1,290.8 771.3,293 772.5,295.4 773.8,297 775,297.9 776.2,300.4 777.3,302.5 778.3,304.6 779.1,306.6 779.8,309 780.6,310.8 781.4,311.4 782.2,313.1 783,316.5 783.9,316.9 784.8,320.3 785.9,320.7 787,323.5 788,324.7 789.1,326.7 790.2,328.9 791.6,331.3 793.2,332.1 795.1,332.1 797,332.3" fill="none" stroke="#3f9edb" stroke-width="4.3" stroke-linejoin="round" stroke-linecap="round" />
<polyline points="539.5,415.2 540.6,416.8 541.8,418.8 542.9,421.2 544.1,423.1 545.2,425.7 546.4,426.1 547.8,428.6 549.6,430.1 551.5,430.6 553.5,432.1 555.3,432 557.1,432.6 558.7,430.1 560.2,428 561.8,427 563.4,425.5 565.1,424.5 566.9,422.6 568.8,420.1 570.6,420 572.4,417.8 574.2,419.5 575.9,419.6 577.6,421.9 579.5,421.1 581.5,422 583.5,421.8 585.5,421.4 587.7,419.6 589.9,419.1 591.9,417.1 593.2,416.5 594.2,415.2 595,412.5 595.8,410.8 596.7,409 597.5,406.2 598.3,404.7 599.2,402.8 600,401.6 600.8,398.9 601.6,396.7 602.4,394.9 603.1,392.1 603.9,389.8 604.8,388.1 605.9,386.5 607.5,387.6 609.3,387.9 610.9,389.4 612.2,391 613.3,392.1 614.4,395.6 615.4,397.7 616.5,398.2 617.7,400.9 619,403.2 620.5,404.1 622,406.4 623.5,407.6 625.1,409 626.8,410.9 628.5,412.1 630.2,413 631.6,412.4 632.7,412.3 633.6,411.1 634.4,408.9 635.1,407.1 635.9,404.8 636.7,403.8 637.6,400.8 638.5,399.7 639.5,397.4 640.5,395.1 641.6,393.2 642.9,392.3 644.7,392.6 646.6,393.7 648.4,394 649.9,395.4 651.2,398.4 652.5,400.4 653.8,401 655.1,402.7 656.6,404.4 658.5,404.6 660.6,406.3 662.8,407.5 664.8,409.1 666.6,409.9 668.3,411.2 670,412.6 671.7,415.1 673.4,415.8 675.2,416.8 677.1,417.6 679.2,417 681.2,416.1 683.3,416.8 685.4,417.2 687.7,416.2 690,416 692.4,416.2 694.5,417.5 696.2,415 697.5,414.4 698.5,411.4 699.4,410 700.1,408.3 700.6,404.7 701,402.6 701.2,401 701.5,398.9 701.8,396.8 702,394.4 702.2,391.7 702.5,390.6 702.8,387.9 703,386.5 703.2,384.1 703.5,381.7 703.8,380.9 704.1,377.6 704.4,376.8 704.8,373.8 705.1,371.9 705.5,369.4 705.8,367.1 706.1,366.1 706.5,363.6 706.8,361.7 707.2,359 707.7,357.5 708.5,355.8 709.5,354 710.5,351.8 711.5,349.4 712.7,348.1 714.2,346.5 715.8,345 717.5,344 719.2,342.2 720.8,340.6 722.5,340.3 724.2,342.3 725.9,343.1 727.8,343.7 729.9,343 731.8,344.5 733.1,345.6 733.9,346.9 734.6,348.3 735.4,349.9 736.1,353.4 736.9,355.1 738.2,355.9 740,355.5 741.8,356.4 743.1,357.8 743.9,359 744.6,360.2 745.3,363.6 746,364.8 746.7,367.2 747.4,368.8 748.1,369.8 748.8,372.4 749.5,373.5 750.3,375.8 751.1,379 751.9,380.3 752.7,382 753.4,383.1 754.2,386 755.2,387.7 756.3,389.8 757.5,391.8 758.8,394.3 760,395.4 761.1,397.7 762.1,399.5 763,401.6 763.9,403.7 764.8,404.8 765.7,406.5 766.6,408.6 767.6,410.3 768.8,412.9 770,414 771.3,416.4 772.7,416.9 774.2,418.3 775.8,421.1 777.5,421.1 779.2,423.1 780.9,425.1 782.7,425.9 784.7,425.9 786.9,426 789,427 791.1,427.1 793.1,429.4 795.1,429.9 797,432.8" fill="none" stroke="#6acbdf" stroke-width="4.3" stroke-linejoin="round" stroke-linecap="round" />
<polyline points="539.5,482.1 542.2,483.7 544.5,483.8 546.5,485.2 548.3,485.9 550.4,486.3 552.6,484.3 554.8,484.3 556.7,481.9 558.5,482 560.2,481.3 562,479.6 563.9,479.4 566,477.4 568.1,476.4 570.3,476.4 572.3,476.2 574,476.4 575.6,476.5 577.2,478.8 578.6,478.1 579.8,478 580.8,475.3 581.9,473.2 582.9,471.4 584,470.4 585.5,469.7 587.5,468.6 589.5,468.6 591.2,471.1 592.5,473.2 593.8,474.9 595.1,475.2 596.5,477.3 597.9,479.5 599.4,480.7 600.8,482.6 602.3,483.8 604,484.6 606,484.9 608.2,484.5 610.5,484 612.7,485.4 614.9,484.9 617,485.7 619,484.3 621,485.6 623,485.2 624.8,485.1 626.5,483.7 628,481.7 629.5,480.2 631,478 632.7,477.2 634.7,477.4 636.8,476.7 638.9,477.2 641.1,477.8 643.2,477.9 645.3,478.7 647.3,478.4 649,479.7 650.5,480.9 652,483 653.6,484.1 655.4,485.7 657.6,484.8 660,484.8 662.3,484.7 664.3,484.4 666.2,483.2 668.1,481.3 670.1,480.8 672.1,481.5 674.2,481.4 676.2,483.3 678.3,483.1 680.4,485.4 682.5,484.9 684.7,485.7 686.9,485.1 689,484.5 690.8,483.3 692.2,480.2 693.2,479.6 694.2,478.2 695.2,476.1 696.1,473.6 696.9,472.2 697.5,469.3 698.1,468.2 698.8,465.5 699.4,464.4 700,460.7 700.6,459.7 701.2,456.8 701.6,455.9 702,454.1 702.4,451.1 702.8,449.7 703.2,446.4 703.6,444 703.9,443.2 704.3,440.4 704.7,437.7 705.1,436.7 705.5,435 705.9,431.4 706.3,430.2 706.8,427.7 707.2,425.2 707.8,423.2 708.2,421.2 708.8,419.7 709.2,417.7 709.8,416.1 710.2,414.2 710.8,412.6 711.5,410.7 712.6,407.7 714.2,407.7 716.3,408.3 718.8,407.8 721.2,408.9 723.6,409.8 725.6,409.7 727,411.2 728,412.3 728.9,415.5 729.8,417.2 730.7,418.3 731.6,420.2 732.6,421.6 733.6,424.3 734.6,426.9 735.6,428.6 736.7,429.4 737.8,431.4 739.1,433 740.7,434.7 742.5,436.1 744.4,437.3 746.5,438.8 748.8,439.4 751.2,439 753.3,438.6 754.9,439.1 756.2,441.7 757.5,442.2 758.8,443.7 760.1,445.7 761.6,448.3 763.1,449.7 764.7,450.5 766.5,451.3 768.5,452.3 770.6,451.9 772.8,452 774.9,450.9 776.9,449.4 778.8,448.4 780.6,447.8 782.3,448.1 783.7,449.4 785,450.8 786.2,451.7 787.5,455.2 788.7,456.2 789.7,458.3 790.8,459.7 791.8,461.8 792.8,463.7 794,466.3 795.4,468.6 797,469.1" fill="none" stroke="#7cc79b" stroke-width="4.3" stroke-linejoin="round" stroke-linecap="round" />
<polyline points="539.5,536.7 541.6,537.3 543.7,537.6 545.8,538.2 547.9,540.3 550,541.4 552.2,540.5 554.4,541.4 556.5,542.7 558.6,542.7 560.5,542.2 562.2,542.4 564,540.2 565.7,539.1 567.3,539.1 568.7,536.9 570,535.1 571.2,533.1 572.6,530 574.1,530 576,526.9 578.1,526.1 580.3,525.7 582.3,526 584,526.8 585.6,526.4 587.2,527.9 589,528.7 591,529.4 593.2,531 595.5,529.7 597.7,530.6 599.9,529.9 602.1,529.1 604.2,528.9 606.2,528.1 608.3,527.8 610.4,527.8 612.4,527.1 614.3,527.8 616.1,528.5 617.9,529.6 619.6,531.5 621.4,532.7 623.3,534.8 625.3,534.6 627.5,535 629.8,535.8 631.8,537.2 633.8,538.2 635.6,539.7 637.5,541.5 639.5,541.7 641.5,541.7 643.5,542.3 645.5,542.6 647.5,541.6 649.6,543.6 651.6,543.5 653.6,544.5 655.5,544 657.2,542.7 659,541.1 660.8,540.3 662.7,540.5 664.8,541 667,541.4 669.2,540.4 671.5,541.9 673.7,541.2 675.7,541.2 677.8,540.1 679.8,538.1 681.7,536.9 683.7,537.3 685.6,537.2 687.5,540 689.4,541.6 691.4,541.4 693.5,544 695.6,544.9 697.4,543.5 698.5,543.4 699.3,541.3 699.9,538.6 700.6,537.7 701.1,535.1 701.4,533.5 701.7,531.7 701.9,529.7 702.1,527.1 702.4,525.4 702.6,521.9 702.8,520.3 703,518.5 703.2,516.5 703.5,514.2 703.7,512.9 703.9,510.4 704.1,508.9 704.3,506.1 704.6,504.9 704.8,501.8 705,500.9 705.2,498.1 705.5,495.7 705.7,494.2 705.9,491.2 706.2,490.2 706.4,488.1 706.6,486.4 706.8,483.1 707.1,481.7 707.3,480 707.5,477 707.8,476.2 708.3,474.5 709.1,472.1 710.2,470.6 711.2,470.3 712.3,470.2 713.3,472 714.4,474.7 715.4,476.3 716.5,477.4 718,479.1 720.1,479.5 722.4,479.1 724.6,477.7 726.3,478.5 727.8,480.8 729.2,482.4 730.6,483.9 732,485 733.4,486.3 734.9,488.7 736.5,488.5 738.3,489 740.2,488.6 742.2,488.8 744.2,489.8 745.8,490.5 747.1,491 748.1,493.7 749,494.5 749.9,496.7 750.8,499.1 751.7,501.2 752.6,502.5 753.5,505 754.4,506.2 755.4,508.4 756.4,510.6 757.5,511.9 758.8,513.7 760,516.1 761.2,516.3 762.5,518.1 763.8,519.9 765.2,522 766.7,524 768.3,525.6 770,527.2 771.7,527.5 773.4,530.4 775.1,530.5 777,532.7 779,532.3 781,533.8 783,534.2 785,533.5 787,534.8 789,534.9 791,536.3 793,535.2 795,535.8 797,535.7" fill="none" stroke="#a9cf3f" stroke-width="4.3" stroke-linejoin="round" stroke-linecap="round" />
<polyline points="539.5,597.9 541.4,598 543.2,597.3 545,595.6 546.9,596 548.9,594.5 551,595.8 553.1,595.7 555.3,596.5 557.1,595.4 558.7,595.1 560,593.1 561.2,591.7 562.5,589.5 563.8,587.8 565,585.4 566.2,583.5 567.5,582.6 568.9,580.2 570.3,582.2 571.9,583.7 573.4,584.5 575.1,586.5 576.8,588.5 578.5,589 580.2,590 582,591 583.8,591.2 585.8,593.4 587.8,593.4 589.8,593.1 591.7,593.8 593.7,595.2 595.5,596.7 597.2,597.6 599,598.6 600.8,600.2 602.6,601.9 604.6,603.6 606.7,604.2 608.8,604.3 610.8,604.8 612.9,606.8 615,606.8 617.2,608.3 619.4,607.2 621.6,608.9 623.8,608.7 625.9,607.8 628.1,607.6 630.3,609.2 632.4,607.9 634.5,608 636.5,608.2 638.5,607.7 640.5,607.5 642.7,608.3 645,608.8 647.5,609.5 649.8,608.4 652.1,608.4 654.1,609.1 656.1,609.8 657.9,609.7 659.6,611.6 661.3,611.3 663,612.2 664.8,611 666.5,609.7 668.3,607.5 670.1,605.9 672.1,606.7 674.2,605.7 676.2,605.4 678.3,605.3 680.4,605.7 682.7,606.1 685,606.3 687.2,606.4 689.2,605.6 691,604.1 692.8,604.2 694.5,602.7 696.2,599.5 697.5,598.8 698.4,597.6 698.9,595 699.4,593.7 699.9,590.3 700.3,589.3 700.8,587.6 701.2,584.3 701.5,582.5 701.7,581.8 701.9,578.5 702.1,577.2 702.3,575.7 702.5,573.4 702.8,571.5 703,568.6 703.2,567.6 703.4,564.3 703.6,562.8 703.9,561 704.1,559.4 704.3,556.2 704.6,554.2 704.9,552.8 705.2,550.4 705.6,549.8 705.9,547 706.3,545.3 706.6,543 707,541.8 707.3,539.9 707.7,537.9 708,534.5 708.5,533.5 709.4,532.2 710.9,531.2 712.9,529.6 714.8,528.4 716.5,526.4 718.1,524.5 719.7,523 721.6,522.6 723.8,523.5 726,523.8 728.1,525.4 730,526.5 731.9,529.2 734,530.1 736.2,529.3 738.4,530 740.4,530.6 742,532.7 743.5,534.2 744.7,537 745.8,538.4 746.8,541.1 747.8,541.9 749.3,544.2 751.3,544.2 753.5,543.4 755.5,544.6 757.2,545.7 759,546.7 760.7,547.4 762.2,548.2 763.5,549.9 764.6,551.9 765.7,552.8 766.8,555.5 767.9,557.1 769,558.6 770.2,560.5 771.5,560.9 773,564.1 774.5,565.2 776,567.1 777.4,567.7 778.7,566.6 780,565.7 781.2,564.1 782.5,562.6 783.8,559.1 785,558.9 786.2,556.7 787.5,554.5 788.8,553 790,550.6 791.5,549.9 793.2,549.8 795.1,552.9 797,554.3" fill="none" stroke="#f5e614" stroke-width="4.3" stroke-linejoin="round" stroke-linecap="round" />
<polyline points="539.5,648.8 541.2,647.9 543,647.2 544.8,645 546.5,644.7 548.3,644 550.3,643.3 552.5,644.1 554.9,643.4 557.2,645.1 559.1,646.5 560.8,647.1 562.5,649.5 564.2,650 565.9,650.8 567.6,651.7 569.5,652.2 571.5,652.9 573.5,652.2 575.5,651.7 577.5,650.7 579.4,649.8 581.2,649.3 583.1,648.6 585,648.5 586.9,646.7 588.7,645.9 590.5,645.4 592.2,644.3 594,642.9 595.8,640.8 597.6,641.2 599.5,641 601.5,642.1 603.5,643.3 605.5,644.1 607.7,645.4 610,647.4 612.5,648.5 614.8,648.1 617,650.6 619,650.7 621,652.3 623,651.9 625,652.9 626.9,655 628.8,654.4 630.6,655 632.5,656.9 634.4,656.4 636.4,657.4 638.6,658.1 640.8,656.5 643.1,657.4 645.4,657.1 647.7,656.8 649.9,656.2 652,657 654,656.5 656,658 658,659.3 660.1,659.9 662.2,659 664.4,660.3 666.6,659.7 668.8,660 670.9,660.7 673.1,660.6 675.3,660.1 677.4,661.5 679.5,662.3 681.5,663.1 683.5,662.7 685.5,663.6 687.6,665.3 689.8,664.7 692,664.8 694.2,666.2 696.4,664.6 698,664.3 699,663 699.5,662.2 699.9,660.2 700.2,657.8 700.6,655.2 701,652.5 701.4,652 701.8,648.6 702.1,647.3 702.5,645.5 702.8,642.9 703.1,641.5 703.4,639.4 703.7,636.3 703.9,634.8 704.2,631.6 704.5,630.1 704.8,628.4 705.1,625.6 705.4,623.6 705.7,622.2 706,619.1 706.4,618.3 706.9,614.9 707.5,613.1 708.1,611.8 708.7,609.2 709.3,608.3 710,605.7 710.9,604.6 712.2,606.3 713.9,606.9 715.9,607.5 717.9,606.3 719.8,606.2 721.6,607.5 723.3,609.2 725,610.1 726.7,611.6 728.4,614.1 730.1,614.2 732,615.2 734,616.7 736,617.4 738,617.4 740,616.5 742.1,617.5 744.1,616 746.1,617.5 747.9,617.3 749.6,618.5 751.2,620.2 752.9,621.1 754.6,623.3 756.5,624.6 758.5,624.7 760.8,625 763,623.9 765.2,624.2 767,625.8 768.4,626.1 769.5,628.5 770.5,630 771.5,631.1 772.5,633 773.5,636.1 774.5,637.8 775.5,639.1 776.5,639.8 777.6,641.6 778.8,644.9 780,646.3 781.2,647.7 782.5,648.6 783.8,651.4 785,651.5 786.2,654.2 787.5,655.8 788.8,656.9 790.4,659.1 792.4,659.2 794.7,661.7 797,662.8" fill="none" stroke="#f9a11b" stroke-width="4.3" stroke-linejoin="round" stroke-linecap="round" />
<polyline points="539.5,699.2 541.8,700.4 544,702.3 546.2,702.4 548.3,703.4 550.4,703.9 552.3,705.1 554.1,706 555.9,706.5 557.7,707.3 559.6,706.4 561.7,706.5 563.8,705.5 566,703.7 568.2,703.6 570.5,703 572.7,702.5 575,701.7 577.2,702.5 579.4,703 581.6,701.4 583.8,702.3 585.9,702.2 588.1,701.6 590.3,701.9 592.3,700.6 594.2,699.9 596,697.5 597.8,696.1 599.5,695.4 601.1,694.4 602.7,692.2 604.2,691.4 605.6,689.1 607.1,687.4 608.6,686.7 610.2,686.2 611.9,686.4 613.8,686.9 615.7,687.1 617.7,687.7 620,688 622.2,686.9 624.1,687.9 625.8,689.8 627.5,689.9 629.2,691.8 630.8,692.3 632.5,693.2 634.2,694.9 635.8,696.2 637.5,697.5 639.2,699 640.8,701.4 642.5,702.2 644.2,703.5 645.9,704.3 647.7,705.2 649.6,706.3 651.7,705.2 653.8,704.9 655.9,706 658.1,707.6 660.3,709.1 662.6,709.9 665,710 667.5,710.1 669.8,712.2 671.9,711.7 673.8,713.9 675.7,715.8 677.6,715.8 679.5,716.7 681.3,716 683.2,715.4 685.1,714.3 687.2,715.1 689.3,715.4 691.5,714.7 693.7,714.8 695.7,715.3 697.4,715.1 698.4,714 699,712.6 699.5,710.2 700,707.3 700.5,705.2 701,704 701.5,701.4 701.9,700.5 702.3,698.4 702.7,696.4 703.1,694 703.4,691.1 703.8,690.1 704.1,687.1 704.5,684.8 704.8,682.5 705.2,681.1 705.5,680 705.9,677.4 706.4,675.3 707,672.6 707.7,670.6 708.4,669.3 709.1,667.3 709.8,664 710.6,662.3 711.7,660.2 713.2,658.2 714.9,658.2 716.5,658.1 718,660.7 719.5,661.6 721,663.7 722.3,665.6 723.5,666.4 724.6,669.6 725.6,671.5 726.7,672.5 727.8,673.5 729.2,675.9 731,676.7 733.1,676.2 735.3,677.4 737.5,676.7 739.7,676.9 741.9,676.8 744.1,678 746.2,678.3 748.3,678 750.4,677.1 752.5,677.3 754.6,677.7 756.7,679.1 758.8,680.1 760.8,680 762.9,679.4 764.8,680.1 766.4,680.2 767.9,682.5 769.3,683.1 770.7,685.3 772.1,686.3 773.6,687.9 775.1,690.5 776.6,691.1 778.1,694.3 779.7,695.9 781.3,697.5 782.9,698.8 784.6,700.4 786.4,700.5 788.4,701.7 790.5,701.7 792.7,702.3 794.9,703.7 797,704.7" fill="none" stroke="#ee5a24" stroke-width="4.3" stroke-linejoin="round" stroke-linecap="round" />
<path d="M217.5 880V998.2M206.5 880h22M206.5 998.2h22" stroke="#f7941e" stroke-width="3.3" fill="none"/>
<path d="M271.8 826.2V958.2M260.8 826.2h22M260.8 958.2h22" stroke="#f7941e" stroke-width="3.3" fill="none"/>
<path d="M326.2 870V962M315.2 870h22M315.2 962h22" stroke="#f7941e" stroke-width="3.3" fill="none"/>
<path d="M380.5 877.5V997M369.5 877.5h22M369.5 997h22" stroke="#f7941e" stroke-width="3.3" fill="none"/>
<path d="M435 874V989.5M424 874h22M424 989.5h22" stroke="#f7941e" stroke-width="3.3" fill="none"/>
<path d="M489.2 884.5V989.5M478.2 884.5h22M478.2 989.5h22" stroke="#f7941e" stroke-width="3.3" fill="none"/>
<path d="M543.8 880.5V1010M532.8 880.5h22M532.8 1010h22" stroke="#f7941e" stroke-width="3.3" fill="none"/>
<path d="M598 908V1026.2M587 908h22M587 1026.2h22" stroke="#f7941e" stroke-width="3.3" fill="none"/>
<path d="M652.5 862V985.8M641.5 862h22M641.5 985.8h22" stroke="#f7941e" stroke-width="3.3" fill="none"/>
<path d="M707 917.5V1006.8M696 917.5h22M696 1006.8h22" stroke="#f7941e" stroke-width="3.3" fill="none"/>
<polyline points="217.5,939.5 271.8,892.5 326.2,916.2 380.5,937.5 435,931.2 489.2,937.5 543.8,945 598,963 652.5,923.8 707,962.5" fill="none" stroke="#f7941e" stroke-width="3.5" stroke-linejoin="round" stroke-linecap="round" />
<circle cx="217.5" cy="939.5" r="9.6" fill="#fff" stroke="#f7941e" stroke-width="3.2"/>
<circle cx="271.8" cy="892.5" r="9.6" fill="#fff" stroke="#f7941e" stroke-width="3.2"/>
<circle cx="326.2" cy="916.2" r="9.6" fill="#fff" stroke="#f7941e" stroke-width="3.2"/>
<circle cx="380.5" cy="937.5" r="9.6" fill="#fff" stroke="#f7941e" stroke-width="3.2"/>
<circle cx="435" cy="931.2" r="9.6" fill="#fff" stroke="#f7941e" stroke-width="3.2"/>
<circle cx="489.2" cy="937.5" r="9.6" fill="#fff" stroke="#f7941e" stroke-width="3.2"/>
<circle cx="543.8" cy="945" r="9.6" fill="#fff" stroke="#f7941e" stroke-width="3.2"/>
<circle cx="598" cy="963" r="9.6" fill="#fff" stroke="#f7941e" stroke-width="3.2"/>
<circle cx="652.5" cy="923.8" r="9.6" fill="#fff" stroke="#f7941e" stroke-width="3.2"/>
<circle cx="707" cy="962.5" r="9.6" fill="#fff" stroke="#f7941e" stroke-width="3.2"/>
<path d="M217.5 825V931.8M206.5 825h22M206.5 931.8h22" stroke="#ec2024" stroke-width="3.3" fill="none"/>
<path d="M271.8 862.5V942M260.8 862.5h22M260.8 942h22" stroke="#ec2024" stroke-width="3.3" fill="none"/>
<path d="M326.2 918.8V979.2M315.2 918.8h22M315.2 979.2h22" stroke="#ec2024" stroke-width="3.3" fill="none"/>
<path d="M380.5 882.5V939.2M369.5 882.5h22M369.5 939.2h22" stroke="#ec2024" stroke-width="3.3" fill="none"/>
<path d="M435 939.2V986.8M424 939.2h22M424 986.8h22" stroke="#ec2024" stroke-width="3.3" fill="none"/>
<path d="M489.2 890.8V943.8M478.2 890.8h22M478.2 943.8h22" stroke="#ec2024" stroke-width="3.3" fill="none"/>
<path d="M543.8 895.5V940M532.8 895.5h22M532.8 940h22" stroke="#ec2024" stroke-width="3.3" fill="none"/>
<path d="M598 943.8V1002.5M587 943.8h22M587 1002.5h22" stroke="#ec2024" stroke-width="3.3" fill="none"/>
<path d="M652.5 914.2V964.2M641.5 914.2h22M641.5 964.2h22" stroke="#ec2024" stroke-width="3.3" fill="none"/>
<path d="M707 881.2V923.8M696 881.2h22M696 923.8h22" stroke="#ec2024" stroke-width="3.3" fill="none"/>
<polyline points="215.5,880 271.8,902 326.2,949.2 380.5,911.8 435,963.2 489.2,917 543.8,918 598,972.5 652.5,939.2 707,902.5" fill="none" stroke="#ec2024" stroke-width="3.5" stroke-linejoin="round" stroke-linecap="round" />
<circle cx="216.5" cy="878.5" r="11.2" fill="#ec2024" />
<circle cx="271.8" cy="902" r="11.2" fill="#ec2024" />
<circle cx="326.2" cy="949.2" r="11.2" fill="#ec2024" />
<circle cx="380.5" cy="911.8" r="11.2" fill="#ec2024" />
<circle cx="435" cy="963.2" r="11.2" fill="#ec2024" />
<circle cx="489.2" cy="917" r="11.2" fill="#ec2024" />
<circle cx="543.8" cy="918" r="11.2" fill="#ec2024" />
<circle cx="598" cy="972.5" r="11.2" fill="#ec2024" />
<circle cx="652.5" cy="939.2" r="11.2" fill="#ec2024" />
<circle cx="707" cy="902.5" r="11.2" fill="#ec2024" />
<path d="M217.5 833.8V928.8M206.5 833.8h22M206.5 928.8h22" stroke="#231f20" stroke-width="3.5" fill="none"/>
<path d="M271.8 939.5V1009.2M260.8 939.5h22M260.8 1009.2h22" stroke="#231f20" stroke-width="3.5" fill="none"/>
<path d="M326.2 1002V1023M315.2 1002h22M315.2 1023h22" stroke="#231f20" stroke-width="3.5" fill="none"/>
<path d="M380.5 997V1057M369.5 997h22M369.5 1057h22" stroke="#231f20" stroke-width="3.5" fill="none"/>
<path d="M435 1017V1068M424 1017h22M424 1068h22" stroke="#231f20" stroke-width="3.5" fill="none"/>
<path d="M489.2 1033.2V1106.2M478.2 1033.2h22M478.2 1106.2h22" stroke="#231f20" stroke-width="3.5" fill="none"/>
<path d="M598 1087V1102M587 1087h22M587 1102h22" stroke="#231f20" stroke-width="3.5" fill="none"/>
<path d="M652.5 1082V1121.2M641.5 1082h22M641.5 1121.2h22" stroke="#231f20" stroke-width="3.5" fill="none"/>
<path d="M707 1070.5V1124.2M696 1070.5h22M696 1124.2h22" stroke="#231f20" stroke-width="3.5" fill="none"/>
<polyline points="217.5,880.5 271.8,974.5 326.2,1012.5 380.5,1027 435,1042.5 489.2,1069.5 543.8,1105.8 598,1094.5 652.5,1101.2 707,1097" fill="none" stroke="#231f20" stroke-width="3.5" stroke-linejoin="round" stroke-linecap="round" />
<circle cx="217.5" cy="880.5" r="11.2" fill="#231f20" />
<circle cx="271.8" cy="974.5" r="11.2" fill="#231f20" />
<circle cx="326.2" cy="1012.5" r="11.2" fill="#231f20" />
<circle cx="380.5" cy="1027" r="11.2" fill="#231f20" />
<circle cx="435" cy="1042.5" r="11.2" fill="#231f20" />
<circle cx="489.2" cy="1069.5" r="11.2" fill="#231f20" />
<circle cx="543.8" cy="1105.8" r="11.2" fill="#231f20" />
<circle cx="598" cy="1094.5" r="11.2" fill="#231f20" />
<circle cx="652.5" cy="1101.2" r="11.2" fill="#231f20" />
<circle cx="707" cy="1097" r="11.2" fill="#231f20" />
<path d="M163.2 804.5V1191M161.5 1177.5H743V804.5" fill="none" stroke="#231f20" stroke-width="3.9"/>
<path d="M163.2 825.8h-14.5M743 825.8h13.5M163.2 920.5h-14.5M743 920.5h13.5M163.2 1036.2h-14.5M743 1036.2h13.5M163.2 1152h-14.5M743 1152h13.5M271.8 1177.5v13.5M380.5 1177.5v13.5M489.2 1177.5v13.5M598 1177.5v13.5M707 1177.5v13.5" fill="none" stroke="#231f20" stroke-width="3.9"/>
<text x="95.3" y="836.6" textLength="43.5" lengthAdjust="spacingAndGlyphs" stroke="#231f20" stroke-width="0.45">15</text>
<text x="95.3" y="935.6" textLength="43.5" lengthAdjust="spacingAndGlyphs" stroke="#231f20" stroke-width="0.45">10</text>
<text x="117.1" y="1049.1" textLength="21.8" lengthAdjust="spacingAndGlyphs" stroke="#231f20" stroke-width="0.45">5</text>
<text x="117.1" y="1164.9" textLength="21.8" lengthAdjust="spacingAndGlyphs" stroke="#231f20" stroke-width="0.45">0</text>
<text x="761.2" y="836.6" textLength="43.5" lengthAdjust="spacingAndGlyphs" stroke="#231f20" stroke-width="0.45">30</text>
<text x="761.2" y="935.6" textLength="43.5" lengthAdjust="spacingAndGlyphs" stroke="#231f20" stroke-width="0.45">20</text>
<text x="761.2" y="1050.1" textLength="43.5" lengthAdjust="spacingAndGlyphs" stroke="#231f20" stroke-width="0.45">10</text>
<text x="761.2" y="1165.1" textLength="21.8" lengthAdjust="spacingAndGlyphs" stroke="#231f20" stroke-width="0.45">0</text>
<text x="151.6" y="1230.2" textLength="21.8" lengthAdjust="spacingAndGlyphs" stroke="#231f20" stroke-width="0.45">0</text>
<text x="260.1" y="1230.2" textLength="21.8" lengthAdjust="spacingAndGlyphs" stroke="#231f20" stroke-width="0.45">2</text>
<text x="369.1" y="1230.2" textLength="21.8" lengthAdjust="spacingAndGlyphs" stroke="#231f20" stroke-width="0.45">4</text>
<text x="478.1" y="1230.2" textLength="21.8" lengthAdjust="spacingAndGlyphs" stroke="#231f20" stroke-width="0.45">6</text>
<text x="587.1" y="1230.2" textLength="21.8" lengthAdjust="spacingAndGlyphs" stroke="#231f20" stroke-width="0.45">8</text>
<text x="684.2" y="1230.2" textLength="43.5" lengthAdjust="spacingAndGlyphs" stroke="#231f20" stroke-width="0.45">10</text>
<text x="380.2" y="1269.2" textLength="108.7" lengthAdjust="spacingAndGlyphs" stroke="#231f20" stroke-width="0.45">Trial #</text>
<text transform="translate(81 992.5) rotate(-90)" x="-78.3" textLength="156.6" lengthAdjust="spacingAndGlyphs" stroke="#231f20" stroke-width="0.45">ΔF/F (%)</text>
<text transform="translate(821.5 974) rotate(90)" x="-44.6" textLength="89.2" lengthAdjust="spacingAndGlyphs" stroke="#231f20" stroke-width="0.45">Licks</text>
<circle cx="559.2" cy="820.8" r="10.6" fill="#fff" stroke="#f7941e" stroke-width="3.4"/>
<text x="592.7" y="832.9" textLength="88.2" lengthAdjust="spacingAndGlyphs" stroke="#231f20" stroke-width="0.45">Licks</text>
<circle cx="202" cy="1089.2" r="12.6" fill="#231f20" />
<text x="227.7" y="1100.6" textLength="86.9" lengthAdjust="spacingAndGlyphs" stroke="#231f20" stroke-width="0.45">Odor</text>
<circle cx="202" cy="1135.5" r="12.6" fill="#ec2024" />
<text x="228.7" y="1147.6" textLength="184.7" lengthAdjust="spacingAndGlyphs" stroke="#231f20" stroke-width="0.45">Free water</text>
<text x="1028.5" y="67" font-size="55.1" font-weight="bold" textLength="29.5" lengthAdjust="spacingAndGlyphs" stroke="#231f20" stroke-width="0.8">B</text>
<text x="1134.7" y="65.1" textLength="149.2" lengthAdjust="spacingAndGlyphs" stroke="#231f20" stroke-width="0.45">Baseline</text>
<text x="1332.7" y="65.1" textLength="54.2" lengthAdjust="spacingAndGlyphs" stroke="#231f20" stroke-width="0.45">CS</text>
<text x="1520.7" y="65.1" textLength="99.7" lengthAdjust="spacingAndGlyphs" stroke="#231f20" stroke-width="0.45">Delay</text>
<text x="1719.7" y="65.1" textLength="53.7" lengthAdjust="spacingAndGlyphs" stroke="#231f20" stroke-width="0.45">US</text>
<text x="1846.7" y="65.1" textLength="188.2" lengthAdjust="spacingAndGlyphs" stroke="#231f20" stroke-width="0.45">ITI (2-12 s)</text>
<rect x="1280" y="83" width="143" height="26.5" fill="#e6e6e5" />
<rect x="1709" y="83" width="79" height="26.5" fill="#ec2024" />
<path d="M1137.5 83H2073V109.5H1137.5ZM1280 83V109.5M1709 83V109.5M1788 83V109.5" fill="none" stroke="#231f20" stroke-width="3.9" stroke-linejoin="miter"/>
<line x1="1423" y1="83" x2="1423" y2="109.5" stroke="#231f20" stroke-width="5" />
<line x1="1709.5" y1="83" x2="1709.5" y2="109.5" stroke="#231f20" stroke-width="4.5" />
<line x1="1137" y1="153" x2="1192" y2="153" stroke="#3b55a5" stroke-width="3.8" />
<text x="1202.7" y="169.1" textLength="170.7" lengthAdjust="spacingAndGlyphs" stroke="#231f20" stroke-width="0.45">Appetitive</text>
<line x1="1471" y1="153" x2="1526" y2="153" stroke="#ec2024" stroke-width="3.8" />
<text x="1536.2" y="169.1" textLength="149.7" lengthAdjust="spacingAndGlyphs" stroke="#231f20" stroke-width="0.45">Aversive</text>
<line x1="1805.5" y1="153" x2="1860.5" y2="153" stroke="#231f20" stroke-width="3.8" />
<text x="1871.7" y="169.1" textLength="124.7" lengthAdjust="spacingAndGlyphs" stroke="#231f20" stroke-width="0.45">Neutral</text>
<text x="1026.5" y="240.5" font-size="55.8" font-weight="bold" textLength="32" lengthAdjust="spacingAndGlyphs" stroke="#231f20" stroke-width="0.8">C</text>
<rect x="1190.5" y="272" width="50.2" height="256.8" fill="#e6e6e5" />
<polygon points="1135,507.5 1150,508.8 1175,511.2 1190,508.8 1205,497.5 1212.5,480 1220,457.5 1227.5,425 1235,390 1241.2,372.5 1247.5,357.5 1256.2,342 1266.2,337 1275,332 1287.5,323.8 1300,320.5 1308.8,317 1317.5,315.5 1327.5,310.8 1338.8,322.5 1348.8,320 1358.8,307.5 1370,286.2 1378.8,282 1390,285.8 1400,293.8 1410,295 1420,293 1430,288 1440,289.5 1450,293.8 1461.2,300 1472.5,312.5 1482.5,325 1492.5,344.5 1502.5,357.5 1512.5,370 1522.5,380 1532.5,393.8 1542.5,406.2 1552.5,417.5 1572.5,437.5 1592.5,458.8 1607.5,475 1623.8,491.2 1635,510 1645,527.5 1645,528 1635,521.2 1623.8,511.2 1607.5,503.8 1587.5,493 1572.5,490 1552.5,480 1542.5,471.2 1532.5,462.5 1522.5,453.8 1512.5,445 1502.5,427.5 1492.5,410 1482.5,390 1472.5,380 1462.5,370 1450,360 1440,353 1430,350.8 1420,353 1410,358.8 1400,365 1390,371.2 1378.8,375 1370,380 1358.8,382 1350,370 1338.8,365 1327.5,358.8 1317.5,365 1308.8,367.5 1300,372.5 1287.5,381.2 1275,391.2 1266.2,400 1256.2,404.5 1247.5,417.5 1241.2,428.8 1235,445 1227.5,475 1220,497.5 1212.5,508.8 1205,514.5 1190,518.8 1175,522.5 1150,521.2 1135,518.8" fill="#bcc0e2" fill-opacity="0.95"/>
<polygon points="1135,507.5 1162.5,511 1180,510 1200,505 1212.5,505.5 1225,509.2 1237.5,511.8 1262.5,513.8 1287.5,513.5 1312.5,515 1330,515.5 1342.5,514.2 1355,512.5 1375,511.8 1390,512.2 1410,513.8 1430,513 1450,513.5 1475,511.8 1500,511 1525,511.2 1537.5,509.2 1562.5,505.5 1575,505.5 1600,508 1622.5,511 1635,519 1645,528 1645,528 1635,525.5 1622.5,524 1600,521 1575,518.5 1562.5,518.5 1537.5,522.2 1525,524.2 1500,524 1475,524.8 1450,526.5 1430,526 1410,526.8 1390,525.2 1375,524.8 1355,525.5 1342.5,527.2 1330,528.5 1312.5,528 1287.5,526.5 1262.5,526.8 1237.5,524.8 1225,522.2 1212.5,518.5 1200,518 1180,523 1162.5,524 1135,520.5" fill="#9a9a9a" fill-opacity="0.7"/>
<polygon points="1135,505 1152.5,502.5 1175,507 1200,505 1225,502 1250,502.5 1275,503.2 1300,503.2 1317.5,505 1327.5,506.2 1338.8,504.5 1347.5,502 1357.5,497.5 1370,495.5 1387.5,495 1400,497 1412.5,502 1425,504.5 1450,505.8 1462.5,508.2 1487.5,510.8 1512.5,512 1532.5,510 1537.5,509.5 1565,506.5 1587.5,508.2 1612.5,511.5 1632.5,519.8 1645,528 1645,528 1632.5,527.2 1612.5,526.5 1587.5,523.2 1565,521.5 1537.5,524.5 1532.5,525 1512.5,527 1487.5,525.8 1462.5,523.2 1450,520.8 1425,519.5 1412.5,517 1400,512 1387.5,510 1370,510.5 1357.5,512.5 1347.5,517 1338.8,519.5 1327.5,521.2 1317.5,520 1300,518.2 1275,518.2 1250,517.5 1225,517 1200,520 1175,522 1152.5,517.5 1135,520" fill="#f6a98f" fill-opacity="0.75"/>
<line x1="1343" y1="270.5" x2="1343" y2="528.8" stroke="#231f20" stroke-width="3.9" stroke-dasharray="15.5 16.5" stroke-dashoffset="12"/>
<polyline points="1135,514.5 1162.5,518 1180,517 1200,512 1212.5,512.5 1225,516.2 1237.5,518.8 1262.5,520.8 1287.5,520.5 1312.5,522 1330,522.5 1342.5,521.2 1355,519.5 1375,518.8 1390,519.2 1410,520.8 1430,520 1450,520.5 1475,518.8 1500,518 1525,518.2 1537.5,516.2 1562.5,512.5 1575,512.5 1600,515 1622.5,518 1635,522.5 1645,528" fill="none" stroke="#1a1a1a" stroke-width="3.8" stroke-linejoin="round" stroke-linecap="round" />
<polyline points="1135,513 1152.5,510.5 1175,515 1200,513 1225,510 1250,510.5 1275,511.2 1300,511.2 1317.5,513 1327.5,514.2 1338.8,512.5 1347.5,510 1357.5,505.5 1370,503.5 1387.5,503 1400,505 1412.5,510 1425,512.5 1450,513.8 1462.5,516.2 1487.5,518.8 1512.5,520 1532.5,518 1537.5,517.5 1565,514.5 1587.5,516.2 1612.5,519.5 1632.5,523.8 1645,528" fill="none" stroke="#ec2024" stroke-width="3.9" stroke-linejoin="round" stroke-linecap="round" />
<polyline points="1135,512.5 1150,514.5 1175,516.2 1190,512.5 1205,505.5 1212.5,495 1220,477.5 1227.5,450 1235,420 1241.2,402.5 1247.5,388.8 1256.2,372 1266.2,367 1275,360 1287.5,351.2 1300,344.5 1308.8,341.2 1317.5,338.8 1327.5,333.2 1338.8,343 1350,343.8 1358.8,344.2 1370,332.5 1378.8,328 1390,327.5 1400,328.8 1410,325.8 1420,322 1430,318.2 1440,320 1450,326.2 1462.5,335 1472.5,345 1482.5,357.5 1492.5,375 1502.5,391.2 1512.5,407 1522.5,415.5 1532.5,426.2 1542.5,436.2 1537.5,432.5 1552.5,447.5 1562.5,456.2 1577.5,466.2 1592.5,476.2 1607.5,487.5 1623.8,498.8 1635,515 1645,528" fill="none" stroke="#3b55a5" stroke-width="3.8" stroke-linejoin="round" stroke-linecap="round" />
<path d="M1135 213.8V543.75M1119.5 528.8H1645" fill="none" stroke="#231f20" stroke-width="3.9"/>
<path d="M1135 215.5h-15.5M1135 294.5h-15.5M1135 372h-15.5M1135 450.8h-15.5M1236 528.8v15M1338 528.8v15M1440.5 528.8v15M1542 528.8v15M1622.5 528.8v15" fill="none" stroke="#231f20" stroke-width="3.9"/>
<text x="1089.6" y="232.6" textLength="21.8" lengthAdjust="spacingAndGlyphs" stroke="#231f20" stroke-width="0.45">8</text>
<text x="1089.6" y="311.1" textLength="21.8" lengthAdjust="spacingAndGlyphs" stroke="#231f20" stroke-width="0.45">6</text>
<text x="1089.6" y="389.1" textLength="21.8" lengthAdjust="spacingAndGlyphs" stroke="#231f20" stroke-width="0.45">4</text>
<text x="1089.6" y="467.6" textLength="21.8" lengthAdjust="spacingAndGlyphs" stroke="#231f20" stroke-width="0.45">2</text>
<text x="1089.6" y="545.6" textLength="21.8" lengthAdjust="spacingAndGlyphs" stroke="#231f20" stroke-width="0.45">0</text>
<text x="1122.1" y="581.6" textLength="21.8" lengthAdjust="spacingAndGlyphs" stroke="#231f20" stroke-width="0.45">0</text>
<text x="1223.6" y="581.6" textLength="21.8" lengthAdjust="spacingAndGlyphs" stroke="#231f20" stroke-width="0.45">2</text>
<text x="1326.1" y="581.6" textLength="21.8" lengthAdjust="spacingAndGlyphs" stroke="#231f20" stroke-width="0.45">4</text>
<text x="1428.1" y="581.6" textLength="21.8" lengthAdjust="spacingAndGlyphs" stroke="#231f20" stroke-width="0.45">6</text>
<text x="1530.1" y="581.6" textLength="21.8" lengthAdjust="spacingAndGlyphs" stroke="#231f20" stroke-width="0.45">8</text>
<text x="1619.2" y="581.6" textLength="43.5" lengthAdjust="spacingAndGlyphs" stroke="#231f20" stroke-width="0.45">10</text>
<text x="1311.4" y="619.6" textLength="142.2" lengthAdjust="spacingAndGlyphs" stroke="#231f20" stroke-width="0.45">Time (s)</text>
<text transform="translate(1069.5 383) rotate(-90)" x="-87" textLength="174" lengthAdjust="spacingAndGlyphs" stroke="#231f20" stroke-width="0.45">Licks (Hz)</text>
<text x="1773" y="240" font-size="55.1" font-weight="bold" textLength="31" lengthAdjust="spacingAndGlyphs" stroke="#231f20" stroke-width="0.8">D</text>
<rect x="1956" y="220" width="54.8" height="307.5" fill="#e6e6e5" />
<polygon points="1900.2,475.7 1902.9,475.5 1905.5,476.2 1908.1,475.8 1910.7,475.7 1913.3,476.4 1915.9,477.5 1918.5,477.3 1921.2,477.3 1923.8,476.3 1926.4,477 1929,476.5 1931.5,476.3 1934,476.1 1936.5,476.3 1939,477.6 1941.5,477.4 1944,477.3 1946.5,477.2 1949,475.9 1951.5,476.1 1954,476.7 1956.5,476.8 1959,477 1961.3,476.6 1963.2,473.5 1964.8,472.7 1966.5,471 1968.2,468.8 1969.8,466.2 1971.2,464.8 1971.8,461.7 1972.1,460.9 1972.4,458.2 1972.7,455.1 1972.9,452.1 1973.2,450.8 1973.5,447.6 1973.8,445.8 1974.1,443.2 1974.4,440 1974.7,437.3 1975,435.2 1975.2,432.4 1975.5,429.3 1975.8,427.1 1976.1,425.6 1976.4,421.6 1976.7,419.1 1977,417.8 1977.3,414.6 1977.6,412.6 1977.8,409.9 1978.1,407.2 1978.4,406 1978.7,401.9 1979,399.8 1979.2,396.9 1979.5,395.3 1979.7,392.1 1979.9,389.7 1980.2,388 1980.4,384.6 1980.6,382.6 1980.9,380.8 1981.1,376.7 1981.3,374.1 1981.6,372 1981.8,370.5 1982,367.7 1982.3,364.5 1982.5,362.2 1982.8,359.4 1983,357.4 1983.2,354.1 1983.5,352.9 1983.7,350.8 1983.9,348.4 1984.2,345.5 1984.4,343.4 1984.6,339 1984.9,337.1 1985.1,335.9 1985.3,333.1 1985.6,329.8 1985.8,328.4 1986,325.2 1986.3,323.1 1986.5,319.6 1986.8,316.9 1987.2,314.9 1987.5,311.8 1987.8,309.8 1988.1,308.4 1988.5,304.7 1988.8,301.5 1989.1,299.1 1989.4,296.8 1989.8,295.6 1990.1,292.2 1990.4,289.6 1990.7,286.7 1991.1,286 1991.4,282.3 1991.7,279.4 1992,276.6 1992.4,274.1 1992.7,271.8 1993,270.4 1993.3,266.8 1993.7,264.1 1994.1,262.5 1994.6,259.5 1995.2,258.5 1995.9,254.2 1996.5,252.6 1997.1,250.5 1997.8,247.3 1998.4,246 1999,242.5 1999.6,239.5 2000.2,237.3 2000.9,234.1 2001.7,232.3 2003,229.5 2004.5,228.3 2006,225.7 2007.5,222.5 2009.2,219.4 2011.5,218.5 2014,217.5 2016.5,216.7 2019,216.5 2021.5,217.7 2024,216.3 2026.5,216.1 2029,217.9 2031.5,217.1 2034,218.3 2036.5,217.9 2039,220.1 2041.5,220.7 2044,222.1 2046.5,223.1 2049,223.8 2051.5,224.2 2054,225.7 2056.5,228.2 2059,229.5 2061.5,230.8 2064,230.9 2066.5,232.6 2069,233.9 2071.5,234.7 2074,236 2076.5,236.5 2079,237.9 2081.5,239.1 2084,239.5 2086.5,242.1 2089,243.4 2091.5,243 2094,246.2 2096.5,247.7 2099,248.6 2101.5,248.8 2104,251.8 2106.5,250.9 2109,253.1 2111.5,252.9 2114,252.2 2116.5,253 2119,254.6 2121.1,254.3 2122.6,253 2123.6,250.9 2124.7,246.9 2125.8,244 2126.9,243.3 2127.9,239 2129,238.3 2130,234.4 2131.1,233.5 2132.1,231.2 2133.2,229.1 2134.2,226.1 2135.6,224.8 2137.8,221.9 2140.1,222.4 2142.3,223 2144.4,226.2 2146.4,228 2148.2,229.5 2149.8,231.7 2151.5,232.8 2153.2,234.9 2154.8,238.1 2156.5,240 2158.2,242.8 2159.8,244.4 2161.5,245.5 2163.2,248.1 2164.8,251 2166.5,252.6 2168.1,253.7 2169.6,257.6 2171.2,259.7 2172.8,260.4 2174.3,263.5 2175.9,265.4 2177.4,268.4 2179.1,269.6 2180.8,271.6 2182.6,274.3 2184.4,277.4 2186.1,277.8 2187.9,279.9 2189.7,283.1 2191.6,285.7 2193.6,286.9 2195.7,288.6 2197.8,291.3 2199.8,293.1 2201.9,293.5 2203.9,297 2205.8,297.6 2207.6,299.8 2209.4,302.8 2211.1,304 2212.9,306.7 2214.7,307.4 2216.6,310.7 2218.6,311 2220.7,312.6 2222.8,315 2224.8,316.3 2226.9,318.4 2229.1,320.8 2231.5,321.9 2234,322 2236.5,324.1 2239,326.1 2241.5,327.3 2244,328.7 2246.5,329 2249,328.9 2251.5,330 2254,332.1 2256.5,332.2 2259,334.3 2261.5,336 2264,336.5 2266.5,337.9 2269,339.2 2271.5,340.1 2274,342.8 2276.5,343.4 2279,345.6 2281.5,345.4 2284,347.2 2286.5,347.8 2289,348.2 2291.4,348.9 2293.6,349.9 2295.7,353 2297.8,354.1 2299.8,356.6 2301.9,357.4 2304.1,359 2306.5,360.5 2309,363.1 2311.5,363.1 2314,365.8 2316.4,366 2318.6,367.9 2320.7,368.9 2322.8,370.9 2324.8,371.3 2326.9,373.3 2329.1,375.8 2331.5,375.6 2334,377.8 2336.5,378.4 2339,379.6 2341.5,380.3 2344,381.5 2346.5,384.6 2349,385.7 2351.5,386.9 2354,388.1 2356.5,389.7 2359,389.3 2361.5,391.4 2364,392.3 2366.5,393.1 2369,394.2 2371.5,394.3 2374,395.1 2376.5,393.8 2379,395.4 2381.5,396.4 2384,397.5 2386.5,398.2 2389,399.7 2391.5,399.5 2394,401.4 2396.5,400.8 2399,401.7 2401.5,402.8 2404.1,402.9 2406.8,402.6 2409.5,403 2412.2,403.7 2415,404.8 2417.8,406 2417.8,425.1 2415,423.9 2412.2,423 2409.5,423.6 2406.8,422.9 2404.1,421.5 2401.5,421.6 2399,420.9 2396.5,420.6 2394,421.5 2391.5,420.8 2389,420.6 2386.5,419.8 2384,419.1 2381.5,418.3 2379,418.1 2376.5,419.1 2374,418.2 2371.5,417.2 2369,418.4 2366.5,417.9 2364,417.4 2361.5,416.5 2359,414.4 2356.5,413.8 2354,413.5 2351.5,411.5 2349,411.3 2346.5,409.6 2344,408.1 2341.5,406.9 2339,407.1 2336.5,407.5 2334,407.3 2331.5,405.6 2329,405.5 2326.5,405.9 2324,405.5 2321.5,405.4 2319,405 2316.5,404.1 2314,403.8 2311.5,403.4 2309,401.6 2306.5,400.1 2304,400 2301.5,399.9 2299,398.5 2296.5,397.7 2294,395.4 2291.5,394.1 2289,393.4 2286.5,394 2284,391.7 2281.5,390.4 2279.1,390.7 2276.9,388.5 2274.8,386 2272.8,384.1 2270.7,382.7 2268.6,380 2266.4,379.1 2264,377 2261.5,375.7 2259,374.3 2256.5,372.8 2254,373.1 2251.5,372.4 2249,371.5 2246.5,370 2244,369.6 2241.5,368.7 2239,367.2 2236.5,365 2234,363.6 2231.5,362 2229.1,361.9 2226.9,360.1 2224.8,358.7 2222.8,357.7 2220.7,354.5 2218.6,354.9 2216.5,352.9 2214.4,351.9 2212.3,350.5 2210.2,347.6 2208.2,346 2206.1,346.2 2204.1,343.4 2202.2,342 2200.4,340.8 2198.6,337.5 2196.9,335.5 2195.1,333 2193.3,331.4 2191.5,329.4 2189.7,328.6 2187.9,325.1 2186.1,324.5 2184.4,321.5 2182.6,320.9 2180.8,317.4 2179.1,317 2177.4,314.5 2175.9,312.3 2174.3,309.7 2172.8,309.1 2171.2,305.3 2169.6,304.7 2168.1,301.5 2166.5,299.3 2164.8,298.7 2163.2,295.3 2161.5,292.8 2159.8,290.1 2158.2,288.5 2156.4,287.1 2154.5,284.6 2152.5,283.1 2150.5,279.7 2148.5,277.4 2146.2,275.8 2143.4,276 2140.5,273.8 2138.2,276.3 2136.1,277.2 2134.4,280.9 2133.4,282.1 2132.8,284.5 2132.1,286.6 2131.5,290 2130.9,292 2130.2,295.2 2129.6,297.1 2128.9,300.6 2128,302.5 2126.9,304.4 2125.9,307.4 2124.8,308.7 2123.8,312.3 2122.5,313.5 2120.6,310.9 2118.4,309.3 2116.2,308 2113.9,306.8 2111.5,305.6 2109,304.1 2106.5,302.1 2104.1,301.9 2101.9,300.3 2099.8,299.3 2097.8,296.7 2095.7,294.5 2093.6,294.2 2091.5,292.2 2089.4,290.4 2087.3,289.8 2085.2,288 2083.2,286.6 2081.1,283.9 2078.9,281.9 2076.5,281.2 2074,279.1 2071.5,279.2 2069,276.5 2066.5,276.5 2064,275.2 2061.5,274.2 2059,271.1 2056.5,270.6 2054,269.8 2051.5,268.7 2049,265.5 2046.5,265.3 2044,264.3 2041.5,262.7 2039,259.9 2036.5,258.8 2034,257.9 2031.5,258.3 2029,258.3 2026.5,258.3 2024,258.9 2021.5,257.7 2019,258.3 2016.5,260 2014,260.1 2011.5,261.5 2009.3,263.2 2007.8,265.3 2006.5,268.3 2005.2,270.8 2004,273.3 2002.8,275.7 2001.7,277.2 2001,280.3 2000.4,283.3 1999.9,284.6 1999.4,287.8 1998.8,290.7 1998.3,292 1997.8,295.3 1997.2,296.6 1996.7,300.2 1996.1,303.3 1995.6,305.3 1995.1,307.1 1994.5,310.8 1994.1,312.7 1993.7,314.2 1993.4,317.7 1993.2,320.7 1992.9,323.2 1992.6,324.8 1992.3,328.4 1992.1,330.8 1991.8,332.9 1991.5,336 1991.2,338.2 1990.9,339.4 1990.7,342.9 1990.4,345 1990.1,347.6 1989.8,349.5 1989.6,353.1 1989.3,355.7 1989,356.8 1988.7,359.3 1988.4,363.4 1988.2,364 1987.9,368.3 1987.6,369.1 1987.3,372.3 1987.1,374.8 1986.8,377.2 1986.5,380.7 1986.2,382.9 1986,384.8 1985.7,387 1985.4,390.7 1985.2,391.8 1984.9,394.1 1984.6,397.5 1984.4,400.7 1984.1,401.8 1983.8,405 1983.6,407.6 1983.3,410.4 1983,412.9 1982.8,415.1 1982.5,417.9 1982.2,420.8 1981.9,423.4 1981.7,425.3 1981.4,428 1981.1,430.4 1980.9,433.3 1980.6,434.6 1980.3,438.5 1980.1,439.1 1979.8,441.7 1979.5,444.6 1979.3,446.6 1978.9,449.2 1978.2,451.8 1977.5,455 1976.8,457 1976,460.9 1975.2,462.6 1974.5,465.4 1973.8,468.1 1973,469.3 1972.2,473.4 1971.2,474.5 1969.5,476.5 1967.5,478.3 1965.5,481.6 1963.5,483.8 1961.4,485.4 1959,484.5 1956.5,484.7 1954,484.5 1951.5,485 1949,485.7 1946.5,486.4 1944,486.6 1941.5,486.7 1939,485 1936.5,485.3 1934,486.3 1931.5,487.1 1929,485.9 1926.4,486.4 1923.8,486.4 1921.2,486 1918.5,485.2 1915.9,484.7 1913.3,485.4 1910.7,485 1908.1,486 1905.5,485 1902.9,484.9 1900.2,485.8" fill="#bcc3e4" fill-opacity="0.95"/>
<polygon points="1900.2,475.8 1903,475 1905.8,474.5 1908.5,473.8 1911.2,474.2 1913.9,473.6 1916.5,474.3 1919,473.4 1921.5,473.4 1924,471.5 1926.5,472.5 1929,471.4 1931.5,471.7 1934,471.8 1936.5,471.7 1939,472.8 1941.5,473.6 1944,472.6 1946.5,472.1 1949,473.6 1951.5,473.4 1954,472.1 1956.5,473.8 1959,474.4 1961.5,472.9 1964,470.7 1966.5,467.6 1969,465.6 1971.2,463.9 1973,461.7 1974.5,458.2 1976,454.9 1977.5,452.7 1979.2,449.2 1981.5,447.6 1984,443.9 1986.5,440.8 1989,440.5 1991.5,440.7 1994,440 1996.5,441.4 1999,443.4 2001.5,445.5 2004,447.8 2006.5,449.3 2009,450.5 2011.5,452.9 2014,453.1 2016.5,455 2019,454.2 2021.5,455.5 2024,456.4 2026.5,459 2028.9,459 2031.1,460.7 2033.2,463 2035.2,463.6 2037.3,464.7 2039.4,466.1 2041.6,468 2044,469.5 2046.5,469.8 2049,473.1 2051.5,473.9 2054,475.6 2056.5,477.4 2059,477.7 2061.5,478.9 2064,479.6 2066.5,480.6 2069,482.2 2071.5,484.4 2074,483.9 2076.5,486.3 2079,486.9 2081.5,488.9 2084,490.2 2086.5,490.2 2089,491.4 2091.5,491.2 2094,492.4 2096.5,491.8 2099,492.8 2101.5,492.1 2104,492.3 2106.5,492.9 2109,493.9 2111.5,495.1 2114,494.3 2116.5,495.9 2119,496 2121.5,494.5 2124,496.3 2126.5,496.3 2129,496.3 2131.5,496 2134,494.9 2136.5,495 2139,495.1 2141.5,495 2144,494.1 2146.5,495.2 2149,494.3 2151.5,493.6 2154,493.9 2156.5,493.9 2159,495.3 2161.5,494.8 2164,496.7 2166.5,496.6 2169,497.3 2171.5,497.8 2174,496.2 2176.5,497.3 2179,497.9 2181.5,496.5 2184,497.7 2186.5,496.7 2189,496.3 2191.5,497.1 2194,495.9 2196.5,496 2199,496.4 2201.5,495.9 2204,495.7 2206.5,494.4 2209,495.6 2211.5,495.6 2214,493.4 2216.5,493.9 2219,493.6 2221.5,492.5 2224,493 2226.5,494.2 2229,494.9 2231.5,494.7 2234,494.5 2236.5,494.5 2239,495.2 2241.5,494.9 2244,495.4 2246.5,495.1 2249,494.2 2251.5,495.6 2254,495.6 2256.5,495.4 2259,495.3 2261.5,495 2264,494 2266.5,493.9 2269,494.4 2271.5,494.2 2274,494.6 2276.5,494.3 2279,493.3 2281.5,493.4 2284,494 2286.5,492.6 2289,493.3 2291.5,493.6 2294,493.7 2296.5,493.1 2299,492.6 2301.5,493.5 2304,492.5 2306.5,493.5 2309,492.4 2311.5,493.5 2314,494 2316.5,493.5 2319,492.6 2321.5,492.8 2324,492.6 2326.5,491.9 2329,491.7 2331.5,491.5 2334,491.8 2336.5,490.7 2339,491 2341.5,489.7 2344,490.6 2346.5,489.7 2349,490 2351.5,488 2354,487.7 2356.5,486.6 2359,487.3 2361.5,487.3 2364,485.3 2366.5,484.9 2369,485.8 2371.5,485.4 2374,484.3 2376.5,484.7 2379,483.5 2381.5,484.4 2384,483.9 2386.5,482.9 2389,483.6 2391.5,483.9 2394,483.2 2396.5,483.3 2399,483.5 2401.5,483.1 2404.1,482.8 2406.8,483.7 2409.5,482.8 2412.2,483.8 2415,482.7 2417.8,483.7 2417.8,508.1 2415,507.1 2412.2,507.1 2409.5,507 2406.8,508 2404.1,506.7 2401.5,507.6 2399,506.5 2396.5,507.5 2394,506.3 2391.5,506.8 2389,507.8 2386.5,507.9 2384,508.1 2381.5,508.4 2379,507.8 2376.5,509.6 2374,508.6 2371.5,509.5 2369,509.3 2366.5,509 2364,510.5 2361.5,510.9 2359,511.6 2356.5,511.1 2354,510.9 2351.5,513.1 2349,513.7 2346.5,514 2344,514.5 2341.5,515.1 2339,515 2336.5,516.4 2334,514.6 2331.5,514.8 2329,516.4 2326.5,517.1 2324,516.4 2321.5,517.7 2319,517.2 2316.5,518.4 2314,517.2 2311.5,517.8 2309,517.2 2306.5,517.4 2304,517.4 2301.5,516.9 2299,517.9 2296.5,517 2294,516.8 2291.5,518.4 2289,516.9 2286.5,516.7 2284,516.4 2281.5,518 2279,517.7 2276.5,516.8 2274,517.3 2271.5,517.2 2269,518.6 2266.5,519 2264,518.3 2261.5,518.7 2259,518.8 2256.5,518.1 2254,519.9 2251.5,519.4 2249,519.3 2246.5,519.5 2244,519.6 2241.5,519.1 2239,518.9 2236.5,519.6 2234,518.7 2231.5,518.8 2229,518.4 2226.5,516.9 2224,516.9 2221.5,517.6 2219,517.8 2216.5,518.3 2214,517.5 2211.5,519.5 2209,518.9 2206.5,519.2 2204,519.9 2201.5,520.5 2199,519.4 2196.5,520.1 2194,519.9 2191.5,521.5 2189,520.3 2186.5,521.9 2184,520.2 2181.5,520.9 2179,522 2176.5,520.7 2174,520.7 2171.5,521.4 2169,520.8 2166.5,520.7 2164,520.4 2161.5,519.3 2159,518.8 2156.5,518.6 2154,518.2 2151.5,517.6 2149,519.1 2146.5,518.3 2144,518.5 2141.5,518.2 2139,519.1 2136.5,518.5 2134,518.5 2131.5,519.7 2129,518.8 2126.5,519 2124,520.6 2121.5,518.7 2119,520.2 2116.5,519.6 2114,519.2 2111.5,519.1 2109,518.5 2106.5,516.9 2104,517.3 2101.5,516.5 2099,516.8 2096.5,516.2 2094,516.1 2091.5,516.3 2089,515.7 2086.5,514.4 2084,513.7 2081.5,512.5 2079,511.2 2076.5,511.6 2074,508.3 2071.5,507.9 2069,505.3 2066.5,504.4 2064,503.7 2061.5,502.4 2059,501.1 2056.5,501.5 2054,499.3 2051.5,497.9 2049,496.1 2046.5,494.9 2044,494.3 2041.6,492.3 2039.4,490.6 2037.3,489.1 2035.2,488 2033.2,485.9 2031.1,484 2028.9,482.9 2026.5,482.4 2024,481.8 2021.5,479.3 2019,479.6 2016.5,478.7 2014,477.5 2011.5,476.7 2009,473.9 2006.5,472.5 2004,472.3 2001.5,469.4 1999,468.1 1996.5,465.5 1994,464.7 1991.5,463.4 1989,464.7 1986.5,465.6 1984,468.1 1981.5,468.3 1979.2,470 1977.5,470.9 1976,473.2 1974.5,474.3 1973,476.9 1971.2,479.9 1969,480.3 1966.5,480.8 1964,481 1961.5,482 1959,483.4 1956.5,482.9 1954,482.5 1951.5,482 1949,482.6 1946.5,482.5 1944,481.8 1941.5,481.3 1939,480.1 1936.5,482.4 1934,482.2 1931.5,480.5 1929,480.8 1926.5,480.4 1924,481.8 1921.5,482.6 1919,481.6 1916.5,482.9 1913.9,481.3 1911.2,483.4 1908.5,483.1 1905.8,483 1903,484.1 1900.2,484.1" fill="#c9c9c9" fill-opacity="0.9"/>
<polygon points="1900.2,477.3 1903,476.8 1905.8,477 1908.5,476 1911.2,476 1913.9,475.4 1916.5,475.8 1919,475.3 1921.5,475.4 1924,474.2 1926.5,474.5 1929,474.2 1931.5,473.7 1934,474.6 1936.5,474.8 1939,474.2 1941.5,475.2 1944,475.2 1946.5,475.2 1949,475.3 1951.5,475.1 1954,475 1956.5,475.5 1959,476 1961.5,475 1964,473.7 1966.5,471.4 1969,469.7 1971.2,467.8 1973,465.3 1974.5,462.2 1976,459.9 1977.5,457 1979.2,455 1981.5,452.8 1984,450.3 1986.5,447.7 1989,447.1 1991.5,446.2 1994,446.5 1996.5,448.2 1999,449.5 2001.5,451.8 2004,453.6 2006.5,455.2 2009,456.1 2011.5,458.2 2014,459.4 2016.5,460.7 2019,460.9 2021.5,461.9 2024,463.2 2026.5,464.3 2028.9,465.3 2031.1,466.3 2033.2,468.3 2035.2,469.8 2037.3,471.2 2039.4,472.6 2041.6,474.1 2044,475.7 2046.5,476.6 2049,478.4 2051.5,479.6 2054,481 2056.5,482.8 2059,483.3 2061.5,484.3 2064,485.3 2066.5,486.7 2069,487.6 2071.5,489.6 2074,490.6 2076.5,493 2079,493.5 2081.5,495 2084,495.5 2086.5,496.2 2089,496.8 2091.5,497.5 2094,498.3 2096.5,498.3 2099,498.5 2101.5,498.5 2104,499.2 2106.5,499.1 2109,499.8 2111.5,500.4 2114,500.7 2116.5,501.2 2119,501.5 2121.5,501.1 2124,501.8 2126.5,501.5 2129,501.5 2131.5,501.7 2134,501.1 2136.5,500.9 2139,500.9 2141.5,500.8 2144,500.7 2146.5,500.5 2149,500.3 2151.5,500.4 2154,500.2 2156.5,500.6 2159,501.4 2161.5,501.6 2164,502.6 2166.5,502.9 2169,502.7 2171.5,503.3 2174,502.7 2176.5,502.8 2179,503.8 2181.5,502.9 2184,502.9 2186.5,503.6 2189,502.5 2191.5,502.9 2194,502.6 2196.5,502 2199,501.7 2201.5,502.2 2204,501.4 2206.5,500.9 2209,500.8 2211.5,500.7 2214,500 2216.5,499.4 2219,499.9 2221.5,499.3 2224,499.6 2226.5,499.8 2229,501 2231.5,500.7 2234,501.2 2236.5,501.1 2239,501.5 2241.5,500.8 2244,500.8 2246.5,501.2 2249,500.5 2251.5,500.9 2254,501.2 2256.5,500.9 2259,500.7 2261.5,501.1 2264,500.4 2266.5,500.6 2269,500.1 2271.5,499.7 2274,499.9 2276.5,499.6 2279,499.3 2281.5,499.4 2284,499.1 2286.5,499.4 2289,499.6 2291.5,499.5 2294,499.6 2296.5,498.9 2299,499.2 2301.5,499.5 2304,499.1 2306.5,499.7 2309,498.9 2311.5,499.8 2314,499.8 2316.5,499.7 2319,499.2 2321.5,498.8 2324,498.3 2326.5,498.3 2329,498.1 2331.5,497.6 2334,497.5 2336.5,497.5 2339,496.7 2341.5,496.5 2344,495.9 2346.5,496.3 2349,495.4 2351.5,494.8 2354,493.7 2356.5,493.1 2359,492.8 2361.5,492.8 2364,492 2366.5,491.7 2369,491.4 2371.5,491.5 2374,490.5 2376.5,490.9 2379,489.8 2381.5,490.2 2384,490.1 2386.5,489.6 2389,489.7 2391.5,489 2394,488.7 2396.5,488.9 2399,488.8 2401.5,489.2 2404.1,489.1 2406.8,489.2 2409.5,489.5 2412.2,489.3 2415,489.3 2417.8,489.5 2417.8,501.5 2415,501.3 2412.2,501.3 2409.5,501.5 2406.8,501.2 2404.1,501.1 2401.5,501.2 2399,500.8 2396.5,500.9 2394,500.7 2391.5,501 2389,501.7 2386.5,501.6 2384,502.1 2381.5,502.2 2379,501.8 2376.5,502.9 2374,502.5 2371.5,503.5 2369,503.4 2366.5,503.7 2364,504 2361.5,504.8 2359,504.8 2356.5,505.1 2354,505.7 2351.5,506.8 2349,507.4 2346.5,508.3 2344,507.9 2341.5,508.5 2339,508.7 2336.5,509.5 2334,509.5 2331.5,509.6 2329,510.1 2326.5,510.3 2324,510.3 2321.5,510.8 2319,511.2 2316.5,511.7 2314,511.8 2311.5,511.8 2309,510.9 2306.5,511.7 2304,511.1 2301.5,511.5 2299,511.2 2296.5,510.9 2294,511.6 2291.5,511.5 2289,511.6 2286.5,511.4 2284,511.1 2281.5,511.4 2279,511.3 2276.5,511.6 2274,511.9 2271.5,511.7 2269,512.1 2266.5,512.6 2264,512.4 2261.5,513.1 2259,512.7 2256.5,512.9 2254,513.2 2251.5,512.9 2249,512.5 2246.5,513.2 2244,512.8 2241.5,512.8 2239,513.5 2236.5,513.1 2234,513.2 2231.5,512.7 2229,513 2226.5,511.8 2224,511.6 2221.5,511.3 2219,511.9 2216.5,511.4 2214,512 2211.5,512.7 2209,512.8 2206.5,512.9 2204,513.4 2201.5,514.2 2199,513.7 2196.5,514 2194,514.6 2191.5,514.9 2189,514.5 2186.5,515.6 2184,514.9 2181.5,514.9 2179,515.8 2176.5,514.8 2174,514.7 2171.5,515.3 2169,514.7 2166.5,514.9 2164,514.6 2161.5,513.6 2159,513.4 2156.5,512.6 2154,512.2 2151.5,512.4 2149,512.3 2146.5,512.5 2144,512.7 2141.5,512.8 2139,512.9 2136.5,512.9 2134,513.1 2131.5,513.7 2129,513.5 2126.5,513.5 2124,513.8 2121.5,513.1 2119,513.5 2116.5,513.2 2114,512.7 2111.5,512.4 2109,511.8 2106.5,511.1 2104,511.2 2101.5,510.5 2099,510.5 2096.5,510.3 2094,510.3 2091.5,509.5 2089,508.8 2086.5,508.2 2084,507.5 2081.5,507 2079,505.5 2076.5,505 2074,502.6 2071.5,501.6 2069,499.6 2066.5,498.7 2064,497.3 2061.5,496.3 2059,495.3 2056.5,494.8 2054,493 2051.5,491.6 2049,490.4 2046.5,488.6 2044,487.7 2041.6,486.1 2039.4,484.6 2037.3,483.2 2035.2,481.8 2033.2,480.3 2031.1,478.3 2028.9,477.3 2026.5,476.3 2024,475.2 2021.5,473.9 2019,472.9 2016.5,472.7 2014,471.4 2011.5,470.2 2009,468.1 2006.5,467.2 2004,465.6 2001.5,463.8 1999,461.5 1996.5,460.2 1994,458.5 1991.5,458.2 1989,459.1 1986.5,459.7 1984,462 1981.5,463.7 1979.2,465.1 1977.5,466.5 1976,468.9 1974.5,470.8 1973,473.4 1971.2,475.3 1969,476.5 1966.5,477.4 1964,478.9 1961.5,479.5 1959,480.5 1956.5,480 1954,479.5 1951.5,479.6 1949,479.8 1946.5,479.7 1944,479.7 1941.5,479.7 1939,478.7 1936.5,479.3 1934,479.1 1931.5,478.2 1929,478.7 1926.5,479 1924,478.7 1921.5,479.9 1919,479.8 1916.5,480.3 1913.9,479.9 1911.2,480.5 1908.5,480.5 1905.8,481.5 1903,481.3 1900.2,481.8" fill="#8f8f8f" fill-opacity="0.8"/>
<polygon points="1900.2,476.3 1902.8,476.6 1905.4,477.1 1907.9,476.6 1910.5,476.4 1913,476 1915.6,475.7 1918.1,477.1 1920.7,477 1923.2,476.5 1925.8,476.5 1928.3,476.7 1930.9,476.8 1933.4,476.4 1936,476.1 1938.5,477.1 1941.1,477.1 1943.6,476.9 1946.2,476.7 1948.7,476.6 1951.3,476.4 1953.8,477.2 1956.4,477.3 1958.9,476.6 1961.4,476.5 1963.5,474.7 1965.5,471.8 1967.5,469 1969.5,465.8 1971.1,463.6 1972,460.6 1972.6,458.5 1973.1,454.8 1973.6,453.3 1974.2,450.1 1974.7,446.8 1975.2,444.3 1975.8,440.6 1976.3,439 1976.9,436.6 1977.4,433.5 1977.9,430.4 1978.5,427.2 1979,424.3 1979.4,422.6 1979.8,419.4 1980.1,417.3 1980.5,414.3 1980.9,411.1 1981.2,409.5 1981.6,406.8 1982,404.2 1982.4,401 1982.8,398.9 1983.1,394.9 1983.5,392.7 1983.9,390.1 1984.2,387.4 1984.6,385.2 1985,382.9 1985.4,379.9 1985.8,377 1986.1,375.3 1986.6,373.2 1987.3,370 1988.2,367.3 1989,365.7 1989.8,361.8 1990.7,359.7 1991.5,357.9 1992.3,355.4 1993.2,352.6 1994.3,349.4 1995.9,348.7 1997.8,345.9 1999.6,344.7 2001.5,343.3 2003.4,344.3 2005.2,346.7 2007.1,349.2 2009.2,349.8 2011.5,351.2 2014,353.5 2016.5,355.5 2019,356.2 2021.5,357.1 2024,359.2 2026.5,359.2 2029,360.6 2031.5,361.7 2033.7,362.3 2035.2,364 2036.5,366.9 2037.8,368.1 2039,370.9 2040.2,374.2 2041.5,376 2042.8,377 2044,379.7 2045.1,383 2046.3,385 2047.4,386.4 2048.5,388.2 2049.7,391.7 2050.8,393.5 2052,396.3 2053.1,398.9 2054.2,400.4 2055.4,402 2056.7,404.8 2058.3,406.2 2060.1,408.5 2061.9,410.9 2063.6,411.8 2065.4,414.7 2067.2,416.2 2069,417.8 2070.7,420.2 2072.3,420.6 2074,422.5 2075.7,424.6 2077.3,426.5 2079.2,429.5 2081.5,430.9 2084,432.6 2086.5,433.2 2089,435.5 2091.4,436.7 2093.6,438.8 2095.7,440.6 2097.8,442 2099.8,442.7 2101.9,445.4 2104.1,446.8 2106.5,449 2109,450.8 2111.5,452.6 2113.6,452.1 2114.7,451.5 2115.4,447.7 2116.1,446.4 2116.9,442.5 2117.6,440.3 2118.3,437.6 2119,434.4 2119.6,432.8 2120.2,430 2120.9,427.4 2121.5,424 2122.1,422.4 2122.8,419.3 2123.4,417.2 2124.2,414.3 2125.2,412.8 2126.5,409.7 2127.8,407.2 2129,404.1 2130.2,402.3 2131.9,400.5 2134.4,399.2 2137.3,397.6 2140.3,398.2 2143.4,398.5 2146.2,399.9 2148.5,402.8 2150.5,404.4 2152.5,405.2 2154.5,407.7 2156.5,410 2158.5,412.5 2160.5,414.1 2162.5,414.5 2164.5,416 2166.4,418.8 2168.3,420.8 2170.1,421.8 2171.9,424.2 2173.6,425.3 2175.4,427.4 2177.2,429.2 2179.1,431.6 2181.1,433.3 2183.2,434.5 2185.2,435.5 2187.3,438 2189.4,439.9 2191.5,441.2 2193.6,442.4 2195.7,445.1 2197.8,446.1 2199.8,447.4 2201.9,449.4 2204.1,450.8 2206.5,450.7 2209,452.7 2211.5,452.7 2214,453.9 2216.5,454.4 2219,455.7 2221.5,457.9 2224,458.7 2226.5,460.5 2229,461.9 2231.5,462.5 2234,464.1 2236.5,465.5 2239,466.1 2241.5,467.6 2244,469.2 2246.5,469.5 2249,470.8 2251.5,471 2254,471.8 2256.5,472.9 2259,474 2261.5,475.3 2264,475 2266.5,476.8 2269,477.7 2271.5,477.3 2274,478.6 2276.5,478 2279,478.4 2281.5,478.7 2284,479.1 2286.5,480.3 2289,481.7 2291.5,482.1 2294,481.9 2296.5,482 2299,482.3 2301.5,483.1 2304,484 2306.5,484.4 2309,485.2 2311.5,487.1 2314,487.2 2316.5,487.2 2319,489.4 2321.5,488.8 2324,491 2326.5,490.3 2329,491.9 2331.5,492 2334,492.6 2336.5,492.6 2339,494.3 2341.5,493.9 2344,494.5 2346.5,494.3 2349,493.2 2351.5,493.3 2354,493 2356.5,493.6 2359,493.1 2361.5,492.9 2364,492.3 2366.5,492.1 2369,493.1 2371.5,492.2 2374,492.1 2376.5,491.9 2379,492.6 2381.5,492.7 2384,492.1 2386.5,493 2389,492.5 2391.5,492.8 2394,492.9 2396.5,493 2399,493.6 2401.5,493.1 2404.1,494.5 2406.8,493 2409.5,492.2 2412.2,492.2 2415,491 2417.8,491.3 2417.8,508.4 2415,508.9 2412.2,508.4 2409.5,509.2 2406.8,509.3 2404.1,511 2401.5,510.1 2399,510.8 2396.5,509.7 2394,510.3 2391.5,510.7 2389,510.7 2386.5,509.4 2384,510.2 2381.5,510.5 2379,508.9 2376.5,508.9 2374,509.3 2371.5,509.1 2369,508.8 2366.5,509.2 2364,509.4 2361.5,509 2359,509.8 2356.5,510.3 2354,510.4 2351.5,510.9 2349,511.3 2346.5,512.1 2344,511.7 2341.5,511.4 2339,512.3 2336.5,510.7 2334,512 2331.5,511.1 2329,511 2326.5,510.1 2324,509.9 2321.5,509.6 2319,509 2316.5,507.9 2314,508.5 2311.5,507 2309,507.2 2306.5,506.9 2304,505.9 2301.5,504.6 2299,504.6 2296.5,505.5 2294,504.3 2291.5,504.4 2289,505.1 2286.5,504.4 2284,504 2281.5,502.9 2279,503.3 2276.5,503 2274,502.5 2271.5,502.5 2269,501.3 2266.5,501.4 2264,501.3 2261.5,500.4 2259,499.8 2256.5,500.2 2254,498.9 2251.5,498.4 2249,497.8 2246.5,496.6 2244,495.9 2241.5,494.3 2239,492.7 2236.5,492 2234,490.9 2231.5,489.5 2229,487.9 2226.5,486.1 2224,485.2 2221.5,484.6 2219,483.7 2216.5,481.7 2214,480.3 2211.5,479.8 2209,479.6 2206.5,478.4 2204.1,476.6 2201.9,476.4 2199.8,474.4 2197.8,472.6 2195.7,471.5 2193.6,470.3 2191.5,467.9 2189.4,466.4 2187.3,464.9 2185.2,463.1 2183.2,461.5 2181.1,460.5 2179.1,457.4 2177.2,456.5 2175.4,453.7 2173.6,452.7 2171.9,451.5 2170.1,449.7 2168.3,447.1 2166.4,445.8 2164.5,443.9 2162.5,442.8 2160.5,440 2158.5,439.1 2156.5,437.8 2154.5,434.1 2152.5,432.8 2150.5,430.8 2148.5,429.6 2146.2,426.8 2143.4,424.9 2140.3,424.8 2137.3,424.9 2134.4,426.8 2131.9,427.7 2130.2,430.3 2129,431.2 2127.8,435 2126.5,436.7 2125.2,439.1 2124.2,442.5 2123.4,444.8 2122.8,446.3 2122.1,448.5 2121.5,452 2120.9,455.1 2120.2,456.2 2119.6,460.4 2119,461.8 2118.3,464.9 2117.6,467.9 2116.9,469.8 2116.1,472.2 2115.4,475.5 2114.7,477 2113.6,479.8 2111.5,479.4 2109,477.5 2106.5,476.2 2104.1,474.2 2101.9,472.7 2099.8,471 2097.8,468.3 2095.7,466.3 2093.6,465.1 2091.4,463 2089,462.3 2086.5,459.7 2084,459 2081.5,458 2079.2,456.1 2077.3,453.3 2075.7,452.7 2074,450.8 2072.3,447.6 2070.7,446.9 2069,444.5 2067.2,443.5 2065.4,441.5 2063.6,438.3 2061.9,437.6 2060.1,435.9 2058.3,433.8 2056.7,431.8 2055.4,429.6 2054.2,427.1 2053.1,426 2052,423.4 2050.8,421.6 2049.7,418.4 2048.5,415 2047.4,413.6 2046.3,411.3 2045.1,408.8 2044,407.2 2042.8,404.5 2041.5,402.7 2040.2,400.1 2039,398 2037.8,395.3 2036.5,394.6 2035.2,392.1 2033.7,390 2031.5,388.9 2029,387.3 2026.5,385.5 2024,385.9 2021.5,383.3 2019,383.3 2016.5,382.6 2014,379.5 2011.5,378.9 2009.2,378 2007.1,374.8 2005.2,373.9 2003.4,370.9 2001.5,370.8 1999.6,371.9 1997.8,372.7 1995.9,374.9 1994.3,377.6 1993.2,378.5 1992.3,382.4 1991.5,384.8 1990.7,387.1 1989.8,389.3 1989,391.6 1988.2,394.8 1987.3,397.3 1986.6,400.3 1986.1,401.7 1985.8,403.9 1985.4,407.6 1985,410 1984.6,412.3 1984.2,413.7 1983.9,416.6 1983.5,420 1983.1,421.5 1982.8,423.9 1982.4,425.8 1982,429.6 1981.6,431 1981.2,433.9 1980.9,434.9 1980.5,437.5 1980.1,440.7 1979.8,442.3 1979.4,444.6 1979,447.1 1978.5,448.8 1977.9,452.4 1977.4,453.4 1976.9,456.8 1976.3,458.6 1975.8,460.1 1975.2,463 1974.7,465.9 1974.2,467.4 1973.6,469.7 1973.1,471.3 1972.6,473.4 1972,476.3 1971.1,478.5 1969.5,479.1 1967.5,481 1965.5,480.5 1963.5,482.4 1961.4,482.3 1958.9,482.1 1956.4,482.6 1953.8,483.5 1951.3,482.1 1948.7,482.2 1946.2,483.4 1943.6,482.4 1941.1,483.2 1938.5,482.6 1936,482.1 1933.4,482.6 1930.9,481.7 1928.3,482.1 1925.8,481.6 1923.2,482.8 1920.7,483.2 1918.1,482.6 1915.6,482.9 1913,482.7 1910.5,482.6 1907.9,482.9 1905.4,483.1 1902.8,482.5 1900.2,482.7" fill="#f9b9a5" fill-opacity="0.9"/>
<line x1="2112.2" y1="225.8" x2="2112.2" y2="527.5" stroke="#231f20" stroke-width="4.2" stroke-dasharray="15.5 16.3"/>
<polyline points="1900.2,479.5 1903,479.1 1905.8,479.3 1908.5,478.3 1911.2,478.3 1913.9,477.6 1916.5,478.1 1919,477.5 1921.5,477.6 1924,476.5 1926.5,476.8 1929,476.5 1931.5,476 1934,476.9 1936.5,477.1 1939,476.5 1941.5,477.5 1944,477.5 1946.5,477.4 1949,477.5 1951.5,477.4 1954,477.3 1956.5,477.8 1959,478.3 1961.5,477.3 1964,476.3 1966.5,474.4 1969,473.1 1971.2,471.6 1973,469.4 1974.5,466.5 1976,464.4 1977.5,461.8 1979.2,460.1 1981.5,458.3 1984,456.2 1986.5,453.7 1989,453.1 1991.5,452.2 1994,452.5 1996.5,454.2 1999,455.5 2001.5,457.8 2004,459.6 2006.5,461.2 2009,462.1 2011.5,464.2 2014,465.4 2016.5,466.7 2019,466.9 2021.5,467.9 2024,469.2 2026.5,470.3 2028.9,471.3 2031.1,472.3 2033.2,474.3 2035.2,475.8 2037.3,477.2 2039.4,478.6 2041.6,480.1 2044,481.7 2046.5,482.6 2049,484.4 2051.5,485.6 2054,487 2056.5,488.8 2059,489.3 2061.5,490.3 2064,491.3 2066.5,492.7 2069,493.6 2071.5,495.6 2074,496.6 2076.5,499 2079,499.5 2081.5,501 2084,501.5 2086.5,502.2 2089,502.8 2091.5,503.5 2094,504.3 2096.5,504.3 2099,504.5 2101.5,504.5 2104,505.2 2106.5,505.1 2109,505.8 2111.5,506.4 2114,506.7 2116.5,507.2 2119,507.5 2121.5,507.1 2124,507.8 2126.5,507.5 2129,507.5 2131.5,507.7 2134,507.1 2136.5,506.9 2139,506.9 2141.5,506.8 2144,506.7 2146.5,506.5 2149,506.3 2151.5,506.4 2154,506.2 2156.5,506.6 2159,507.4 2161.5,507.6 2164,508.6 2166.5,508.9 2169,508.7 2171.5,509.3 2174,508.7 2176.5,508.8 2179,509.8 2181.5,508.9 2184,508.9 2186.5,509.6 2189,508.5 2191.5,508.9 2194,508.6 2196.5,508 2199,507.7 2201.5,508.2 2204,507.4 2206.5,506.9 2209,506.8 2211.5,506.7 2214,506 2216.5,505.4 2219,505.9 2221.5,505.3 2224,505.6 2226.5,505.8 2229,507 2231.5,506.7 2234,507.2 2236.5,507.1 2239,507.5 2241.5,506.8 2244,506.8 2246.5,507.2 2249,506.5 2251.5,506.9 2254,507.2 2256.5,506.9 2259,506.7 2261.5,507.1 2264,506.4 2266.5,506.6 2269,506.1 2271.5,505.7 2274,505.9 2276.5,505.6 2279,505.3 2281.5,505.4 2284,505.1 2286.5,505.4 2289,505.6 2291.5,505.5 2294,505.6 2296.5,504.9 2299,505.2 2301.5,505.5 2304,505.1 2306.5,505.7 2309,504.9 2311.5,505.8 2314,505.8 2316.5,505.7 2319,505.2 2321.5,504.8 2324,504.3 2326.5,504.3 2329,504.1 2331.5,503.6 2334,503.5 2336.5,503.5 2339,502.7 2341.5,502.5 2344,501.9 2346.5,502.3 2349,501.4 2351.5,500.8 2354,499.7 2356.5,499.1 2359,498.8 2361.5,498.8 2364,498 2366.5,497.7 2369,497.4 2371.5,497.5 2374,496.5 2376.5,496.9 2379,495.8 2381.5,496.2 2384,496.1 2386.5,495.6 2389,495.7 2391.5,495 2394,494.7 2396.5,494.9 2399,494.8 2401.5,495.2 2404.1,495.1 2406.8,495.2 2409.5,495.5 2412.2,495.3 2415,495.3 2417.8,495.5" fill="none" stroke="#1a1a1a" stroke-width="4.2" stroke-linejoin="round" stroke-linecap="round" />
<polyline points="1900.2,481.4 1902.8,481.1 1905.4,481 1907.9,481.4 1910.5,481.2 1913,481 1915.6,480.9 1918.1,481.4 1920.7,481.4 1923.2,481.5 1925.8,480.9 1928.3,481.2 1930.9,481 1933.4,481.3 1936,481 1938.5,481 1941.1,481.3 1943.6,481 1946.2,481.5 1948.7,481 1951.3,481.1 1953.8,481.5 1956.4,481.1 1958.9,481.1 1961.4,481 1963.5,479.6 1965.5,478 1967.5,476.3 1969.5,474.6 1971.1,472 1972,469.9 1972.6,467.5 1973.1,464.8 1973.6,462.8 1974.2,459.9 1974.7,457.8 1975.2,454.7 1975.8,452.5 1976.3,450.1 1976.9,447.7 1977.4,445 1977.9,442.8 1978.5,439.8 1979,437.4 1979.4,434.8 1979.8,432.3 1980.1,430 1980.5,427.7 1980.9,424.8 1981.2,422.5 1981.6,419.9 1982,417.9 1982.4,415 1982.8,412.7 1983.1,409.8 1983.5,407.8 1983.9,404.6 1984.2,402.2 1984.6,400.1 1985,397.5 1985.4,395 1985.8,392.6 1986.1,389.9 1986.6,387.6 1987.3,384.9 1988.2,382.6 1989,380.2 1989.8,377.3 1990.7,375.2 1991.5,372.8 1992.3,370.4 1993.2,367.2 1994.3,365.1 1995.9,363 1997.8,361.2 1999.6,359.7 2001.5,359.1 2003.4,359.5 2005.2,361.7 2007.1,363.5 2009.2,365.3 2011.5,366.8 2014,367.9 2016.5,369.9 2019,371.2 2021.5,372.1 2024,373.6 2026.5,374.2 2029,375.7 2031.5,376.8 2033.7,377.7 2035.2,379.4 2036.5,382.1 2037.8,383.8 2039,385.9 2040.2,388.7 2041.5,390.4 2042.8,392.6 2044,394.9 2045.1,397.5 2046.3,399.3 2047.4,401.7 2048.5,403.7 2049.7,406.2 2050.8,408.8 2052,411 2053.1,413.3 2054.2,415.8 2055.4,417.4 2056.7,419.7 2058.3,421.9 2060.1,423.5 2061.9,425.7 2063.6,426.9 2065.4,429.3 2067.2,430.9 2069,432.7 2070.7,434.7 2072.3,436.2 2074,438 2075.7,439.9 2077.3,442.1 2079.2,443.9 2081.5,445.4 2084,447 2086.5,448.4 2089,450 2091.4,451 2093.6,453.4 2095.7,455 2097.8,456.7 2099.8,458.5 2101.9,460.7 2104.1,462.2 2106.5,464 2109,465.7 2111.5,467 2113.6,467.5 2114.7,465.7 2115.4,463.3 2116.1,461 2116.9,457.8 2117.6,455.2 2118.3,452.4 2119,450.1 2119.6,447.7 2120.2,444.7 2120.9,442.8 2121.5,439.6 2122.1,437.2 2122.8,434.7 2123.4,432.7 2124.2,429.7 2125.2,427.7 2126.5,424.8 2127.8,422.3 2129,419.7 2130.2,417.7 2131.9,415.3 2134.4,414.3 2137.3,413.2 2140.3,412.7 2143.4,413.5 2146.2,415.2 2148.5,417.1 2150.5,419.4 2152.5,420.8 2154.5,422.7 2156.5,425.3 2158.5,426.9 2160.5,428.6 2162.5,430.2 2164.5,431.6 2166.4,433.5 2168.3,435.8 2170.1,437.1 2171.9,439.2 2173.6,440.9 2175.4,442.4 2177.2,444.1 2179.1,445.9 2181.1,448.1 2183.2,449.4 2185.2,451.3 2187.3,453 2189.4,454.8 2191.5,455.9 2193.6,457.6 2195.7,459.4 2197.8,460.8 2199.8,462.1 2201.9,463.7 2204.1,465.1 2206.5,466.3 2209,467 2211.5,467.7 2214,468.7 2216.5,470.2 2219,471.4 2221.5,472.5 2224,473.9 2226.5,474.8 2229,476.2 2231.5,477.4 2234,478.9 2236.5,480.4 2239,481.1 2241.5,482.1 2244,483.4 2246.5,484.8 2249,485.9 2251.5,486.1 2254,487.3 2256.5,488.1 2259,489 2261.5,489.4 2264,489.8 2266.5,490.8 2269,491 2271.5,491.4 2274,491.6 2276.5,492.1 2279,492.2 2281.5,492.7 2284,493 2286.5,493.6 2289,494.4 2291.5,494.8 2294,495.2 2296.5,495.3 2299,495.5 2301.5,495.8 2304,496.3 2306.5,497.4 2309,497.9 2311.5,498.7 2314,499.4 2316.5,499.6 2319,500.5 2321.5,500.9 2324,501.9 2326.5,502.2 2329,502.4 2331.5,502.9 2334,503.6 2336.5,503.8 2339,504.3 2341.5,504.5 2344,504.7 2346.5,504.7 2349,503.8 2351.5,503.6 2354,503.3 2356.5,503.2 2359,502.6 2361.5,502.5 2364,502.6 2366.5,502.3 2369,502.4 2371.5,502.2 2374,502 2376.5,502.7 2379,502.2 2381.5,502.8 2384,502.5 2386.5,503 2389,503 2391.5,503 2394,503.1 2396.5,503.1 2399,503.8 2401.5,503.6 2404.1,504 2406.8,502.9 2409.5,502.4 2412.2,502 2415,501.6 2417.8,501.6" fill="none" stroke="#ec2024" stroke-width="4.2" stroke-linejoin="round" stroke-linecap="round" />
<polyline points="1900.2,481.5 1902.9,481.6 1905.5,481.2 1908.1,481.8 1910.7,481.9 1913.3,481.6 1915.9,482.2 1918.5,481.7 1921.2,482 1923.8,482.4 1926.4,482.6 1929,482.8 1931.5,482.5 1934,482.5 1936.5,482.6 1939,482.5 1941.5,481.9 1944,481.9 1946.5,482 1949,481.7 1951.5,481.3 1954,481.9 1956.5,481.4 1959,481.1 1961.3,480.7 1963.2,479 1964.8,477.8 1966.5,475.3 1968.2,473.4 1969.8,472.2 1971.2,469.7 1971.9,467.6 1972.3,464.9 1972.8,462.4 1973.2,460.3 1973.6,457.7 1974,454.9 1974.4,452.8 1974.8,450.2 1975.2,447.8 1975.7,444.9 1976.1,442.4 1976.5,440.3 1976.9,437.5 1977.3,434.9 1977.8,432.6 1978.2,430.2 1978.6,427.5 1979,424.7 1979.2,422.9 1979.5,419.7 1979.8,417.6 1980,414.9 1980.2,412.1 1980.5,409.8 1980.8,407.4 1981,404.6 1981.2,402.2 1981.5,400 1981.8,397.4 1982,394.6 1982.2,392.4 1982.5,389.8 1982.8,387.8 1983,385.3 1983.2,382.8 1983.5,380.3 1983.8,377.5 1984,374.8 1984.2,372.6 1984.5,369.8 1984.8,367.8 1985,364.8 1985.2,362.6 1985.5,360.1 1985.8,357.2 1986,355.2 1986.2,352.5 1986.5,350.2 1986.8,347.5 1987.1,345.2 1987.4,342.2 1987.7,339.8 1988,337.6 1988.3,334.7 1988.6,332.4 1988.9,330.2 1989.2,327.2 1989.5,324.9 1989.8,322.7 1990.1,319.8 1990.4,317.3 1990.7,315 1991,312.8 1991.3,310 1991.6,307.8 1991.9,305 1992.2,302.2 1992.5,300.3 1992.8,297.4 1993.1,294.7 1993.4,292.6 1993.7,290 1994.1,287.1 1994.6,284.8 1995.2,282.2 1995.7,279.9 1996.3,277.4 1996.9,275.4 1997.5,272.1 1998,269.8 1998.6,267.1 1999.2,264.9 1999.8,262.4 2000.3,259.9 2000.9,257.3 2001.7,254.9 2003,252.8 2004.5,250.3 2006,247.5 2007.5,245.1 2009.2,242.5 2011.5,241.4 2014,239.1 2016.5,238.4 2019,237.9 2021.5,237.9 2024,238.1 2026.5,237.8 2029,237.3 2031.5,237.3 2034,237.9 2036.5,238.4 2039,239.9 2041.5,241.5 2044,242.5 2046.5,244.1 2049,245 2051.5,246.3 2054,247.6 2056.5,249.3 2059,250.8 2061.5,252.5 2064,253.7 2066.5,255.1 2069,255.8 2071.5,256.8 2074,257.6 2076.5,259.2 2079,260 2081.5,261.5 2084,263.1 2086.5,264.5 2089,265.7 2091.5,267.6 2094,268.7 2096.5,270.8 2099,272.4 2101.5,273.9 2104,274.9 2106.5,276.1 2109,277.6 2111.5,279 2113.9,279.8 2116.2,281.4 2118.4,282.4 2120.6,283.7 2122.5,283.7 2123.8,282.7 2124.8,279.9 2125.9,277.5 2126.9,275 2128,272.8 2128.9,270.1 2129.8,267.5 2130.7,264.9 2131.5,262.1 2132.3,258.9 2133.2,256.8 2134.3,254.2 2136.1,251.4 2138.2,249.4 2140.5,248.7 2143.4,249.7 2146.1,250.9 2148.2,253.3 2149.8,255.3 2151.5,256.8 2153.2,258.5 2154.8,260.4 2156.5,262.3 2158.2,264.9 2159.8,266.9 2161.5,268.6 2163.2,271 2164.8,273.2 2166.5,274.8 2168.1,277.5 2169.6,279.5 2171.2,281.2 2172.8,283.7 2174.3,285.8 2175.9,287.9 2177.4,290.4 2179.1,292.4 2180.8,295 2182.6,296.7 2184.4,299 2186.1,301.4 2187.9,302.8 2189.7,305.2 2191.5,307.7 2193.3,309.4 2195.1,311.3 2196.9,312.5 2198.6,314.9 2200.4,316.2 2202.2,318.1 2204.1,319.9 2206.1,321.7 2208.2,323.6 2210.2,325.1 2212.3,326.8 2214.4,328.1 2216.5,330.2 2218.6,331.6 2220.7,333.6 2222.8,335.1 2224.8,336.4 2226.9,338.2 2229.1,340.1 2231.5,341.6 2234,342.8 2236.5,344.3 2239,346.2 2241.5,347 2244,348.3 2246.5,349.2 2249,349.5 2251.5,350.1 2254,351.7 2256.5,352.8 2259,353.9 2261.5,355.2 2264,356.5 2266.5,357.5 2269,359.3 2271.5,360.9 2274,362.2 2276.5,363.7 2279,364.6 2281.5,366 2284,367.5 2286.5,369 2289,369.6 2291.5,371.6 2294,373.1 2296.5,373.9 2299,375.9 2301.5,377.4 2304,378.5 2306.5,380.1 2309,381 2311.5,382.4 2314,384.1 2316.5,384.9 2319,386 2321.5,386.9 2324,388.1 2326.5,389 2329,389.8 2331.5,390.8 2334,391.6 2336.5,392.6 2339,392.8 2341.5,393.6 2344,394.8 2346.5,396.1 2349,397.5 2351.5,398.4 2354,399.7 2356.5,401.2 2359,402.1 2361.5,403.7 2364,405.1 2366.5,405.2 2369,405.9 2371.5,406.4 2374,406.8 2376.5,407.5 2379,407.6 2381.5,408 2384,409.2 2386.5,409.5 2389,410.4 2391.5,410.8 2394,411.3 2396.5,411.6 2399,412.1 2401.5,412.6 2404.1,412.2 2406.8,413.4 2409.5,413.4 2412.2,413.8 2415,414.1 2417.8,414.8" fill="none" stroke="#3b55a5" stroke-width="4" stroke-linejoin="round" stroke-linecap="round" />
<path d="M1900.2 216.9V542.5M1900.2 527.5H2418.7" fill="none" stroke="#231f20" stroke-width="3.9"/>
<path d="M1900.2 218.8h-15M1900.2 350h-15M1900.2 480.5h-15M2004 527.5v15M2107.2 527.5v15M2210.2 527.5v15M2314.5 527.5v15M2417 527.5v15" fill="none" stroke="#231f20" stroke-width="3.9"/>
<text x="1833.8" y="235.6" textLength="43.5" lengthAdjust="spacingAndGlyphs" stroke="#231f20" stroke-width="0.45">10</text>
<text x="1855.6" y="367.1" textLength="21.8" lengthAdjust="spacingAndGlyphs" stroke="#231f20" stroke-width="0.45">5</text>
<text x="1855.6" y="497.6" textLength="21.8" lengthAdjust="spacingAndGlyphs" stroke="#231f20" stroke-width="0.45">0</text>
<text x="1890.1" y="581.6" textLength="21.8" lengthAdjust="spacingAndGlyphs" stroke="#231f20" stroke-width="0.45">0</text>
<text x="1992.1" y="581.6" textLength="21.8" lengthAdjust="spacingAndGlyphs" stroke="#231f20" stroke-width="0.45">2</text>
<text x="2094.1" y="581.6" textLength="21.8" lengthAdjust="spacingAndGlyphs" stroke="#231f20" stroke-width="0.45">4</text>
<text x="2197.1" y="581.6" textLength="21.8" lengthAdjust="spacingAndGlyphs" stroke="#231f20" stroke-width="0.45">6</text>
<text x="2299.1" y="581.6" textLength="21.8" lengthAdjust="spacingAndGlyphs" stroke="#231f20" stroke-width="0.45">8</text>
<text x="2388.2" y="581.6" textLength="43.5" lengthAdjust="spacingAndGlyphs" stroke="#231f20" stroke-width="0.45">10</text>
<text x="2076.7" y="619.6" textLength="142.2" lengthAdjust="spacingAndGlyphs" stroke="#231f20" stroke-width="0.45">Time (s)</text>
<text transform="translate(1834 386) rotate(-90)" x="-78.3" textLength="156.6" lengthAdjust="spacingAndGlyphs" stroke="#231f20" stroke-width="0.45">ΔF/F (%)</text>
<text x="1028.5" y="683.8" font-size="56.2" font-weight="bold" textLength="25.5" lengthAdjust="spacingAndGlyphs" stroke="#231f20" stroke-width="0.8">E</text>
<text x="1163.7" y="677.9" textLength="170.7" lengthAdjust="spacingAndGlyphs" stroke="#231f20" stroke-width="0.45">Appetitive</text>
<text x="1462.2" y="677.9" textLength="124.7" lengthAdjust="spacingAndGlyphs" stroke="#231f20" stroke-width="0.45">Neutral</text>
<text x="1649.4" y="677.9" textLength="299.4" lengthAdjust="spacingAndGlyphs" stroke="#231f20" stroke-width="0.45">Aversive (air puff)</text>
<rect x="1155" y="700.8" width="26.8" height="15.5" fill="#e6e6e5" />
<rect x="1231.5" y="700.8" width="12" height="15.5" fill="#3b55a5" />
<rect x="1126.2" y="700.8" width="265.5" height="15.5" rx="1.5" fill="none" stroke="#231f20" stroke-width="3.6"/>
<path d="M1155 700.8V716.2M1181.8 700.8V716.2M1231 700.8V716.2M1244 700.8V716.2" fill="none" stroke="#231f20" stroke-width="2.6"/>
<rect x="1430" y="700.8" width="26.5" height="15.5" fill="#e6e6e5" />
<rect x="1506" y="700.8" width="13" height="15.5" fill="#231f20" />
<rect x="1400.8" y="700.8" width="265.5" height="15.5" rx="1.5" fill="none" stroke="#231f20" stroke-width="3.6"/>
<path d="M1430 700.8V716.2M1456.5 700.8V716.2M1505.5 700.8V716.2M1519.5 700.8V716.2" fill="none" stroke="#231f20" stroke-width="2.6"/>
<rect x="1705" y="700.8" width="28" height="15.5" fill="#e6e6e5" />
<rect x="1781.5" y="700.8" width="12" height="15.5" fill="#ec2024" />
<rect x="1676.2" y="700.8" width="265.5" height="15.5" rx="1.5" fill="none" stroke="#231f20" stroke-width="3.6"/>
<path d="M1705 700.8V716.2M1733 700.8V716.2M1781 700.8V716.2M1794 700.8V716.2" fill="none" stroke="#231f20" stroke-width="2.6"/>
<g transform="translate(1126.2 733.04) scale(2.6550 6.0776)" shape-rendering="crispEdges" fill="none" stroke-width="1.03" stroke-linejoin="miter">
<path d="M0 28.5H100" stroke="#7ac8a6" stroke-width="58"/>
<path d="M63 10h1M41 18h1M84 32h1" stroke="#42a1e0"/>
<path d="M8 1h1m14 0h1m5 0h1m5 0h1M89 3h2M24 4h1M55 10h1m1 0h1m7 0h1M0 17h1m1 0h1m2 0h2m50 0h1m6 0h1m2 0h1M28 18h1M53 26h2m15 0h1m10 0h2m1 0h1M80 31h2M53 32h1m18 0h2m4 0h1M33 33h2M65 37h1M92 38h1M32 39h1M54 51h1M39 55h1" stroke="#3dbfef"/>
<path d="M9 1h1m11 0h2m1 0h4m3 0h1m5 0h1M53 2h1M88 3h1M22 4h2m4 0h2m3 0h1m9 0h1M83 7h1M33 10h1m22 0h1m1 0h1m5 0h1m1 0h1M7 11h1m76 0h1M92 12h1m4 0h1M49 14h1m25 0h1M3 16h2M1 17h1m1 0h1m4 0h1m43 0h1m2 0h2m6 0h1m1 0h2M27 18h1m5 0h1m1 0h1m3 0h1m2 0h1M98 19h1M4 20h2m74 0h1m5 0h1M75 21h1M61 22h1m5 0h1M23 23h1m13 0h1M75 24h1m4 0h1m10 0h2M55 26h2m11 0h2m1 0h3m4 0h1m1 0h1m2 0h1m1 0h3m10 0h1M41 27h1M5 29h1m84 0h1M52 31h1M50 32h1m4 0h1m2 0h1m16 0h3m1 0h1m3 0h1m1 0h1m1 0h2m3 0h1m1 0h1M35 33h1m14 0h1m31 0h1M14 34h1M93 35h1M4 36h1m4 0h1M32 37h1m16 0h3m3 0h1m3 0h1m2 0h1m4 0h1m2 0h1m4 0h2M27 38h1m48 0h1m18 0h1M18 39h1m23 0h2m33 0h1m13 0h1M32 51h1m13 0h1m24 0h2m17 0h1M9 52h1m43 0h1m36 0h1M38 53h1m11 0h2M15 54h2m51 0h1M28 55h1m4 0h1m1 0h2m53 0h1m1 0h1M6 57h1" stroke="#54c4e1"/>
<path d="M6 0h2m3 0h1m48 0h1m38 0h1M0 1h1m10 0h1m16 0h1m1 0h1m3 0h1m1 0h1m1 0h1M11 2h1m40 0h1m1 0h2m16 0h1M68 3h3m16 0h1m3 0h1M27 4h1m4 0h1m54 0h1M12 5h1m69 0h1m15 0h1M3 6h1m64 0h1m10 0h4m8 0h3M78 7h1m1 0h1m3 0h2M90 9h1M10 10h1m26 0h2m1 0h2m17 0h1m7 0h1m2 0h1m22 0h1M8 11h1m63 0h1m9 0h2m7 0h1M7 12h1m2 0h1m83 0h3m1 0h2M6 13h1m2 0h2m8 0h1m1 0h3m14 0h2M52 14h1m2 0h1m1 0h5m2 0h1m17 0h1m3 0h1m10 0h1M83 16h2m6 0h1m1 0h1M4 17h1m2 0h1m1 0h2m40 0h1m1 0h2m6 0h1m6 0h1m1 0h1m8 0h1m2 0h1m13 0h1M5 18h1m3 0h1m2 0h1m10 0h1m8 0h1m1 0h1m1 0h1m1 0h1m1 0h1m31 0h2m4 0h1m1 0h2m2 0h2m1 0h1M99 19h1M46 20h2m9 0h1m5 0h1m1 0h1m4 0h1m6 0h2m5 0h1m14 0h1M5 21h1m13 0h1m7 0h2m1 0h1m42 0h2M7 22h1m7 0h1m42 0h1m1 0h1m1 0h1m6 0h1M40 23h1M6 24h2m68 0h3m4 0h1m6 0h1m3 0h1M9 25h1M11 26h1m40 0h1m4 0h1m1 0h2m4 0h2m7 0h2m3 0h1m9 0h4m4 0h1m1 0h1M3 27h1m6 0h1m14 0h1m9 0h5M82 28h1M0 29h1m1 0h3m1 0h1m1 0h2m25 0h1m59 0h1M2 30h1M25 31h1m19 0h1m7 0h1m24 0h2m16 0h2M51 32h2m1 0h1m1 0h1m11 0h2m10 0h1m1 0h1m6 0h1m1 0h1m1 0h1m4 0h1M22 33h1m2 0h1m3 0h2m1 0h1m3 0h1m4 0h1m5 0h2m2 0h1m16 0h2m9 0h1m9 0h2M7 34h1m38 0h1m1 0h1m1 0h1m16 0h1m4 0h1m15 0h1m3 0h1M1 35h1m1 0h2m43 0h1m33 0h2m7 0h1M5 36h2m1 0h1m1 0h1M31 37h1m2 0h2m1 0h2m5 0h1m1 0h3m3 0h2m6 0h2m2 0h1m1 0h1m2 0h1m1 0h1m7 0h4M6 38h1m21 0h1m4 0h1m15 0h1m16 0h1m8 0h1m17 0h2m3 0h2M15 39h1m1 0h1m1 0h1m2 0h1m10 0h1m6 0h2m23 0h3m1 0h1m1 0h1M69 43h1m19 0h1M0 51h2m5 0h1m2 0h1m6 0h1m13 0h1m1 0h1m1 0h1m12 0h1m1 0h3m2 0h1m1 0h1m2 0h1m4 0h1m25 0h1m3 0h1M10 52h1m33 0h1m2 0h1m4 0h1m2 0h1m8 0h1m15 0h1m1 0h2M0 53h2m28 0h2m2 0h1m2 0h1m1 0h1m8 0h1m8 0h1m7 0h1m1 0h1m23 0h1m5 0h1M4 54h1m1 0h1m10 0h1m5 0h1m25 0h1m17 0h1m1 0h1m1 0h1m20 0h2M25 55h1m6 0h1m4 0h2m1 0h2m47 0h1m3 0h1M18 56h1m75 0h1M4 57h2m1 0h2" stroke="#64c7ce"/>
<path d="M4 0h2m2 0h2m25 0h1m8 0h1m7 0h1m4 0h3m1 0h1m18 0h1m7 0h2m8 0h1M1 1h2m2 0h1m4 0h1m9 0h1m18 0h2M7 2h1m40 0h4m4 0h1m6 0h1m12 0h2m5 0h1m3 0h1m6 0h3M6 3h1m64 0h1m8 0h3m16 0h1M20 4h2m3 0h1m4 0h2m7 0h1m2 0h1m9 0h1m41 0h1M3 5h1m5 0h1m15 0h4m8 0h1m1 0h3m6 0h1m3 0h1m4 0h1m1 0h1m6 0h3m3 0h1m8 0h1m1 0h1m10 0h2m1 0h1M6 6h3m1 0h1m55 0h1m5 0h1m2 0h1m14 0h1m3 0h1M7 7h1m4 0h2m46 0h2m2 0h3m1 0h2m6 0h2m3 0h1m12 0h3M3 8h1m76 0h1m8 0h1M42 9h1m46 0h1m1 0h1M4 10h2m3 0h1m21 0h2m9 0h1m19 0h1m5 0h1m2 0h2m1 0h1m1 0h1M12 11h1m54 0h1m1 0h3m2 0h1m2 0h2m11 0h1m2 0h1m3 0h1m1 0h1M0 12h1m2 0h2m1 0h1m4 0h1m11 0h1m17 0h1m44 0h1m6 0h1M0 13h1m1 0h1m1 0h1m3 0h1m2 0h3m6 0h1m3 0h2m3 0h1m1 0h4m5 0h1m1 0h1M6 14h1m1 0h1m1 0h1m35 0h3m1 0h2m1 0h2m1 0h1m5 0h1m2 0h2m1 0h4m2 0h1m1 0h1m1 0h4m1 0h1m3 0h2m3 0h1m3 0h1M2 15h1m91 0h2m1 0h2M1 16h2m2 0h2m74 0h2m11 0h1m3 0h2M18 17h1m15 0h1m13 0h2m8 0h3m1 0h1m6 0h1m1 0h2m5 0h1m2 0h1m6 0h1m2 0h1m3 0h1m2 0h2M7 18h2m1 0h1m3 0h1m6 0h2m1 0h2m48 0h1m4 0h1m2 0h2m2 0h1m1 0h2m9 0h1M0 19h1m4 0h1m2 0h1m62 0h2m7 0h2m6 0h1m1 0h1m6 0h1M2 20h2m40 0h2m2 0h2m4 0h3m3 0h1m3 0h1m1 0h4m2 0h1m2 0h2m2 0h1m14 0h1m3 0h1M1 21h2m1 0h1m15 0h1m5 0h1m2 0h1m1 0h2m37 0h3m10 0h1m10 0h2m2 0h2M2 22h1m2 0h1m50 0h1m2 0h1m3 0h2m3 0h1m2 0h1m5 0h1m4 0h1M12 23h1m12 0h2m8 0h2m2 0h1m1 0h2m42 0h1m3 0h3M1 24h1m35 0h1m31 0h1m4 0h1m4 0h1m1 0h1m2 0h1m4 0h1m3 0h1m1 0h1m1 0h1m1 0h1M7 25h2m1 0h1m10 0h1m13 0h4m49 0h1m8 0h2M7 26h1m4 0h1m37 0h1m7 0h1m3 0h1m1 0h1m2 0h1m8 0h2m10 0h1m6 0h1M12 27h3m6 0h2m1 0h1m2 0h1m5 0h2m5 0h1M0 28h2m6 0h1m72 0h1m2 0h2M1 29h1m5 0h1m26 0h1m54 0h1m1 0h4m3 0h1M1 30h1m2 0h1M5 31h1m5 0h2m8 0h1m2 0h1m9 0h1m9 0h1m14 0h2m1 0h2m4 0h1m13 0h1m6 0h4M1 32h1m45 0h2m10 0h1m2 0h3m1 0h1m3 0h1m3 0h1m11 0h1m3 0h1m4 0h2M1 33h1m4 0h1m1 0h2m13 0h2m1 0h3m2 0h1m5 0h4m1 0h2m2 0h1m2 0h1m2 0h2m2 0h1m1 0h1m4 0h1m2 0h1m3 0h4m1 0h1m1 0h2m1 0h2m1 0h1m4 0h1m2 0h1m2 0h1m1 0h1M5 34h2m6 0h1m1 0h1m28 0h2m5 0h2m8 0h1m2 0h1m8 0h1m12 0h1m3 0h2m2 0h1m3 0h2M0 35h1m1 0h1m2 0h2m51 0h1m2 0h1m8 0h1m19 0h1m8 0h1M0 36h2m5 0h1m3 0h1m13 0h1m70 0h1M0 37h1m5 0h2m3 0h1m7 0h1m3 0h2m5 0h1m2 0h1m2 0h1m2 0h1m1 0h2m2 0h1m8 0h1m1 0h3m4 0h1m4 0h1m4 0h1m3 0h2m4 0h1m6 0h1M5 38h1m4 0h1m14 0h2m8 0h1m10 0h3m16 0h1m2 0h2m2 0h3m10 0h2m10 0h1M10 39h1m3 0h1m1 0h1m3 0h1m2 0h6m1 0h2m2 0h1m29 0h1m7 0h1m5 0h1m2 0h2m2 0h1m2 0h3M83 40h1m14 0h1M2 41h1m5 0h1m74 0h1m1 0h1m5 0h1M98 42h1M2 43h1m57 0h1M73 44h1m1 0h1M80 46h1m5 0h2M16 47h1m4 0h1M85 50h2M3 51h1m4 0h2m6 0h1m1 0h2m14 0h1m12 0h1m5 0h1m2 0h1m7 0h1m3 0h1m12 0h1m3 0h1m10 0h1M0 52h1m7 0h1m20 0h1m15 0h1m2 0h2m8 0h1m1 0h1m1 0h2m15 0h1m12 0h1M2 53h1m1 0h1m6 0h4m3 0h1m10 0h1m2 0h1m3 0h1m8 0h1m3 0h1m2 0h1m1 0h3m1 0h1m3 0h3m1 0h1m1 0h1m1 0h1m10 0h1m6 0h1m3 0h1m2 0h2M5 54h1m1 0h1m4 0h1m6 0h3m39 0h1m3 0h1m7 0h1m8 0h1m4 0h1m6 0h1m2 0h1M7 55h1m6 0h2m7 0h1m2 0h2m1 0h1m4 0h1m7 0h1m20 0h1m24 0h1m5 0h1M6 56h5m4 0h1m1 0h1m63 0h1m3 0h1m2 0h2m1 0h1m3 0h1m3 0h1M9 57h1m15 0h1m1 0h1m12 0h1m17 0h1m15 0h1m14 0h1m5 0h1" stroke="#72c9bb"/>
<path d="M1 0h1m17 0h1m1 0h2m5 0h1m1 0h2m5 0h1m5 0h1m2 0h2m5 0h1m12 0h1m1 0h1m1 0h2m9 0h1m4 0h1m4 0h1m2 0h1M18 1h1m32 0h1m1 0h1m7 0h1m4 0h1m5 0h4m3 0h1m6 0h1m1 0h2M0 2h1m1 0h1m1 0h2m3 0h1m34 0h2m11 0h3m1 0h1m6 0h1m11 0h1M5 3h1m26 0h1m19 0h1m1 0h1m2 0h1m3 0h2m3 0h1m5 0h2m1 0h2m7 0h1m9 0h1m1 0h2M1 4h1m4 0h1m3 0h1m6 0h2m7 0h1m7 0h1m2 0h1m15 0h1m1 0h1m4 0h1m3 0h1m11 0h1M2 5h1m1 0h1m1 0h1m3 0h1m9 0h1m2 0h1m11 0h1m6 0h1m1 0h3m3 0h1m2 0h2m1 0h1m4 0h3m5 0h1m1 0h1m2 0h1m1 0h1m2 0h1m11 0h1m1 0h1m2 0h1M1 6h1m26 0h2m3 0h4m1 0h1m1 0h1m18 0h2m2 0h1m6 0h1m14 0h3m8 0h1m1 0h2M3 7h1m6 0h1m21 0h1m8 0h2m2 0h2m2 0h3m1 0h1m3 0h2m8 0h1m7 0h1m10 0h1m2 0h1m1 0h1m1 0h1M0 8h1m4 0h1m37 0h1m13 0h1m17 0h1m1 0h2m2 0h2m3 0h3m1 0h3m1 0h1m1 0h1M1 9h5m7 0h1m23 0h1m50 0h1m3 0h4m2 0h1M0 10h1m2 0h1m4 0h1m2 0h1m1 0h1m9 0h2m1 0h1m1 0h1m1 0h1m3 0h3m12 0h1m10 0h1m18 0h2m3 0h1m2 0h3m1 0h1m2 0h2m1 0h3M0 11h4m1 0h1m4 0h1m32 0h1m16 0h1m3 0h1m3 0h1m4 0h1m12 0h4M2 12h1m9 0h1m6 0h1m5 0h1m2 0h1m4 0h2m2 0h1m19 0h1m24 0h1m1 0h1m3 0h1M7 13h1m6 0h1M3 14h1m1 0h1m23 0h3m40 0h1m12 0h1m8 0h1M0 15h2m5 0h1m2 0h2m16 0h1m8 0h1m1 0h1m17 0h1m9 0h1m10 0h3m5 0h2m5 0h1M9 16h1m68 0h1m9 0h2m2 0h1m3 0h1M11 17h1m7 0h1m1 0h2m1 0h1m7 0h1m3 0h2m46 0h2m3 0h1m3 0h1m3 0h1M1 18h1m9 0h1m3 0h1m3 0h1m46 0h1m3 0h1m22 0h1m2 0h1M2 19h1m1 0h1m2 0h1m2 0h1m52 0h1m2 0h1m1 0h2m4 0h1m2 0h2m5 0h1m1 0h1m4 0h2m1 0h1M7 20h1m1 0h1m3 0h1m11 0h1m3 0h2m12 0h1m7 0h1m35 0h1m3 0h3M0 21h1m7 0h1m9 0h1m3 0h4m8 0h1m1 0h2m1 0h1m1 0h1m19 0h3m3 0h2m8 0h2m2 0h1m2 0h1m4 0h2m6 0h1M8 22h1m1 0h2m2 0h1m1 0h1m11 0h1m1 0h2m7 0h1m2 0h1m10 0h3m10 0h1m5 0h2m4 0h2m1 0h1m3 0h1M2 23h1m1 0h1m3 0h1m4 0h1m14 0h1m41 0h2m3 0h1m1 0h2m2 0h1m2 0h1m2 0h1m4 0h4m2 0h1M0 24h1m3 0h1m3 0h1m2 0h1m10 0h1m11 0h1m17 0h1m13 0h1m6 0h1m13 0h2M1 25h3m8 0h1m12 0h2m3 0h1m1 0h1m1 0h1m4 0h1m2 0h1m43 0h1m3 0h1m2 0h1M5 26h1m2 0h1m4 0h1m49 0h1M0 27h1m3 0h1m2 0h3m1 0h1m4 0h1m15 0h1m30 0h1m4 0h1M9 28h2m67 0h1m12 0h3m2 0h1M29 29h1m1 0h1m4 0h1m4 0h2M0 30h1m4 0h1m3 0h1m10 0h2m1 0h1m13 0h1m3 0h1m28 0h1m4 0h1m3 0h4m2 0h1m11 0h1m1 0h1M3 31h1m2 0h1m2 0h1m8 0h1m1 0h1m7 0h1m2 0h1m8 0h1m6 0h2m1 0h1m3 0h2m5 0h1m3 0h2m3 0h1m4 0h3m8 0h1m6 0h2M0 32h1m3 0h1m1 0h2m1 0h1m1 0h2m1 0h1m21 0h1m7 0h1m16 0h1m3 0h1m1 0h1m29 0h1M16 33h4m1 0h1m23 0h1m39 0h3M0 34h1m11 0h1m3 0h1m32 0h1m3 0h3m1 0h1m5 0h1m2 0h1m2 0h3m3 0h2m6 0h1m9 0h1m1 0h1m1 0h1M7 35h1m3 0h1m6 0h1m8 0h1m1 0h2m2 0h1m1 0h1m8 0h1m5 0h1m1 0h1m1 0h2m1 0h1m1 0h2m1 0h1m6 0h1m1 0h1m1 0h1m1 0h3m2 0h1m3 0h1m12 0h1M2 36h1m9 0h1m4 0h1m4 0h3m2 0h3m3 0h2m1 0h1m1 0h2m1 0h1m8 0h1m2 0h1m7 0h1m7 0h2m2 0h1m15 0h1m3 0h2m4 0h1M3 37h2m4 0h1m3 0h1m2 0h1m1 0h1m3 0h1m3 0h1m1 0h1m14 0h1m40 0h1m7 0h2M3 38h2m2 0h1m4 0h2m5 0h2m1 0h1m1 0h1m7 0h1m5 0h1m1 0h1m11 0h2m1 0h1m1 0h1m6 0h1m14 0h1m1 0h1m7 0h1M0 39h4m1 0h2m1 0h2m1 0h1m9 0h1m16 0h2m22 0h1m11 0h2m10 0h2m7 0h1m1 0h2M1 40h1m2 0h4m76 0h3m1 0h1m2 0h1m1 0h3m3 0h1M0 41h1m76 0h2m3 0h1m4 0h1m1 0h1m3 0h4M1 42h3m2 0h2m1 0h1m12 0h1m2 0h1m15 0h2m34 0h1m4 0h1m4 0h3m1 0h6M1 43h1m1 0h2m1 0h1m49 0h3m3 0h1m2 0h3m4 0h1m1 0h1m5 0h3m1 0h1m1 0h2m4 0h3m2 0h1M18 44h1m41 0h1m20 0h2m1 0h4m2 0h1m5 0h4M8 45h1m2 0h2m5 0h1m57 0h1M0 46h4m1 0h2m11 0h1m47 0h3m3 0h3m21 0h1m1 0h2M1 47h2m1 0h1m17 0h1m55 0h3M0 48h1m2 0h1m3 0h3m9 0h1m56 0h2m7 0h1m6 0h1m4 0h1m1 0h1M0 49h1m72 0h1m1 0h5m7 0h1m10 0h2M18 50h1m57 0h1m13 0h2m1 0h1m2 0h1M2 51h1m8 0h1m1 0h1m6 0h1m4 0h1m2 0h2m8 0h1m10 0h1m9 0h1m7 0h1m2 0h1m3 0h1m1 0h2m4 0h1m11 0h1m4 0h1M5 52h3m7 0h1m2 0h1m11 0h1m1 0h2m23 0h1m9 0h1m2 0h1m4 0h1m9 0h1m1 0h2m5 0h1m1 0h2M6 53h1m1 0h1m1 0h1m6 0h1m24 0h2m9 0h1m5 0h1m12 0h2m2 0h2m1 0h1m3 0h5m11 0h1M8 54h1m4 0h1m12 0h4m17 0h2m5 0h1m3 0h1m1 0h1m1 0h1m12 0h5m6 0h1m1 0h1m1 0h1m4 0h2m1 0h2M3 55h1m1 0h2m5 0h2m5 0h2m29 0h1m5 0h1m8 0h2m7 0h2m11 0h1m7 0h2m2 0h1M1 56h1m14 0h1m3 0h1m9 0h1m2 0h1m3 0h1m32 0h1m7 0h3m1 0h1m3 0h1m9 0h1M11 57h1m1 0h1m2 0h1m7 0h1m3 0h2m4 0h1m4 0h1m2 0h1m1 0h1m3 0h1m8 0h1m4 0h1m3 0h2m7 0h1m1 0h2m4 0h2m1 0h1m4 0h3" stroke="#82c892"/>
<path d="M20 0h1m4 0h1m1 0h1m1 0h1m6 0h1m2 0h4m7 0h2m3 0h1m8 0h1m8 0h1m1 0h3m5 0h1m1 0h1m6 0h1M3 1h1m13 0h1m31 0h1m7 0h2m1 0h1m1 0h1m2 0h1m2 0h2m6 0h2m7 0h1m1 0h1m2 0h2M24 2h1m2 0h1m6 0h2m7 0h1m30 0h1m6 0h1m3 0h1m4 0h1m2 0h1M1 3h1m9 0h1m19 0h1m8 0h2m7 0h1m1 0h1m3 0h2m7 0h1m30 0h1M7 4h1m3 0h2m32 0h2m2 0h3m2 0h1m4 0h1m12 0h3m2 0h2m3 0h2m4 0h3m6 0h1M0 5h1m4 0h1m7 0h1m15 0h2m44 0h1m1 0h1m8 0h3m3 0h1M31 6h1m9 0h1m3 0h1m11 0h2m2 0h1m35 0h1M19 7h1m1 0h2m14 0h1m2 0h1m7 0h1m3 0h1m37 0h1M1 8h1m4 0h1m1 0h3m2 0h2m15 0h5m1 0h1m2 0h1m2 0h1m1 0h1m14 0h1m1 0h1m2 0h1m5 0h1m5 0h1m7 0h2m9 0h1m1 0h1M0 9h1m8 0h2m13 0h3m2 0h2m4 0h2m2 0h1m1 0h1m18 0h2m6 0h1m16 0h3m8 0h2M1 10h1m5 0h1m7 0h2m10 0h1m18 0h3m37 0h1m3 0h1m5 0h1M49 11h1m5 0h3m4 0h2m15 0h1m15 0h1M1 12h1m15 0h2m16 0h2m17 0h3m3 0h1m1 0h2m1 0h1m1 0h5m1 0h1m3 0h1m2 0h2M15 13h2m70 0h1m11 0h1M18 14h1M4 15h1m1 0h1m10 0h1m6 0h2m1 0h1m1 0h2m10 0h1m3 0h2m4 0h3m2 0h1m3 0h2m3 0h2m9 0h2m3 0h5m3 0h2m1 0h1M8 16h1m2 0h1m55 0h1m5 0h3m21 0h1M25 17h1m4 0h1m2 0h1m5 0h1m3 0h1m30 0h3m10 0h1M0 18h1m15 0h1m1 0h1m24 0h2m11 0h1m2 0h1m5 0h1m1 0h2m25 0h1M22 19h1m35 0h1m1 0h1m1 0h1m1 0h1m8 0h1m19 0h1M0 20h1m5 0h1m11 0h1m1 0h3m1 0h1m1 0h1m5 0h3m4 0h1m12 0h1m29 0h1m12 0h2M11 21h1m4 0h1m21 0h1m1 0h1m18 0h2m19 0h1m4 0h2m1 0h1m2 0h1m1 0h1M0 22h1m12 0h1m12 0h2m4 0h2m3 0h2m8 0h1m1 0h2m1 0h1m4 0h1m16 0h2m12 0h4m3 0h1m2 0h2M1 23h1m5 0h1m1 0h1m5 0h1m4 0h1m8 0h3m34 0h1m5 0h1m6 0h2m2 0h1m2 0h1m10 0h1M3 24h1m6 0h1m13 0h1m4 0h1m6 0h1m3 0h2m9 0h1m2 0h3m29 0h1M0 25h1m5 0h1m7 0h1m2 0h1m1 0h1m9 0h1m3 0h1m28 0h1m11 0h1m1 0h1m8 0h1m8 0h1M0 26h5m24 0h1m13 0h1m1 0h1m1 0h3m43 0h1M20 27h1m9 0h1m30 0h1m5 0h1m27 0h1M6 28h1m5 0h3m61 0h2m1 0h1m9 0h1m4 0h2M12 29h1m6 0h1m13 0h1m5 0h2m45 0h2M11 30h1m10 0h1m1 0h1m2 0h1m1 0h3m3 0h2m2 0h1m2 0h1m4 0h2m3 0h2m3 0h1m3 0h2m6 0h1m3 0h1m2 0h1m6 0h2m5 0h2M7 31h2m5 0h1m2 0h1m9 0h1m10 0h2m2 0h2m28 0h3m8 0h3m1 0h1M5 32h1m2 0h1m4 0h1m21 0h1m1 0h1m1 0h1m2 0h2M10 33h1m4 0h1M10 34h2m12 0h1m1 0h1m4 0h1m5 0h1m21 0h1m21 0h2m2 0h1m10 0h1M16 35h2m3 0h4m9 0h1m1 0h2m2 0h2m9 0h1m1 0h1m13 0h1m10 0h1m6 0h1m1 0h1m1 0h1M19 36h1m6 0h1m3 0h1m4 0h1m1 0h1m2 0h1m1 0h1m4 0h3m1 0h1m2 0h4m2 0h1m3 0h1m6 0h1m4 0h1m1 0h1m2 0h1m4 0h2m2 0h1m1 0h1m4 0h2M15 37h1m4 0h1m64 0h1m13 0h1M0 38h1m13 0h1m6 0h1m1 0h1m6 0h2m7 0h1m1 0h1m2 0h1m5 0h1m3 0h1m1 0h1m3 0h2M13 39h1m33 0h1m3 0h1m4 0h3m2 0h1m37 0h1M8 40h1m2 0h1m8 0h1m50 0h1m10 0h1m7 0h1M10 41h1m1 0h2m78 0h1m4 0h3M0 42h1m7 0h1m1 0h2m6 0h2m1 0h1m1 0h1m4 0h1m44 0h3m8 0h2m4 0h1M5 43h1m2 0h1m2 0h2m12 0h1m15 0h1m5 0h1m1 0h2m2 0h2m6 0h1m1 0h2m3 0h1m7 0h3m6 0h1m5 0h1m7 0h1M33 44h1m2 0h3m18 0h3M28 45h1m1 0h5m3 0h1m34 0h3M62 46h4M76 47h2M37 48h2m34 0h3M19 49h1m12 0h11m29 0h1m1 0h1M73 50h1m1 0h1M5 51h1m6 0h1m1 0h1m9 0h1m14 0h1m1 0h1m16 0h1m28 0h1M28 52h1m5 0h1m2 0h1m1 0h1m2 0h1m29 0h1m4 0h1m15 0h1M20 53h1m4 0h1m1 0h1m47 0h1m18 0h1M0 54h1m29 0h1m10 0h1m4 0h1m16 0h1m16 0h1m3 0h2M0 55h1m9 0h1m5 0h1m1 0h1m32 0h1m6 0h1m1 0h1m15 0h1m1 0h1m7 0h1M13 56h1m13 0h1m3 0h2m3 0h1m3 0h1m1 0h1m25 0h2m1 0h1m3 0h1M2 57h2m18 0h2m9 0h1m1 0h2m8 0h2m6 0h1m1 0h1m5 0h1m1 0h3m4 0h1m2 0h1m8 0h1m2 0h1m11 0h1" stroke="#94cc70"/>
<path d="M24 0h1m1 0h1m22 0h1m15 0h1m6 0h1m20 0h1M44 1h1m3 0h1m1 0h1m13 0h1m5 0h1m7 0h1m14 0h2m2 0h3M1 2h1m21 0h1m1 0h2m1 0h1m1 0h1m1 0h2M0 3h1m9 0h1m1 0h1m23 0h2m5 0h1m4 0h1m1 0h1m14 0h1M0 4h1m1 0h1m5 0h1m54 0h1m1 0h2m1 0h1m2 0h1m3 0h1m4 0h2m2 0h2m9 0h2M89 5h1M13 6h1m9 0h2m21 0h2m1 0h1m1 0h5M17 7h2m4 0h2m2 0h2m1 0h2m3 0h1m8 0h1M7 8h1m18 0h4m5 0h1m1 0h1m11 0h2m5 0h1m3 0h1m4 0h1m1 0h1m4 0h1m1 0h1m23 0h1M6 9h3m5 0h1m5 0h1m2 0h1m9 0h2m23 0h2m3 0h2m13 0h1m2 0h2m16 0h1M22 10h1m58 0h1m1 0h1m1 0h1M14 11h1m15 0h2m4 0h4m2 0h1m5 0h1m1 0h2m2 0h1m3 0h2m1 0h1M14 12h3m31 0h1m3 0h1m6 0h1m1 0h1m2 0h1m1 0h1m5 0h1m1 0h1m4 0h1M44 13h3m7 0h2m13 0h2m3 0h1m11 0h1m11 0h1M11 14h1m4 0h1m3 0h1m6 0h2m3 0h1m2 0h1m5 0h1M5 15h1m3 0h1m6 0h1m1 0h1m1 0h1m1 0h1m3 0h1m4 0h6m3 0h1m1 0h1m1 0h1m17 0h1m1 0h1m3 0h2m5 0h1m15 0h1M15 16h2m2 0h1m1 0h1m1 0h3m2 0h2m6 0h1m15 0h1m12 0h2M26 17h2m1 0h1m1 0h1m6 0h1m1 0h3M17 18h1m27 0h1m8 0h2m4 0h3M3 19h1m17 0h1m4 0h2m3 0h1m4 0h1m22 0h1m1 0h1M14 20h1m2 0h1m1 0h1m3 0h1m4 0h1m7 0h1m1 0h1m2 0h1m17 0h1M12 21h1m2 0h1m41 0h1M20 22h2m2 0h2m8 0h1m8 0h1m2 0h1m4 0h1m44 0h2M6 23h1m12 0h1m29 0h1m3 0h2m2 0h1m4 0h2m3 0h1m8 0h1M9 24h1m7 0h1m2 0h2m1 0h1m1 0h2m3 0h4m1 0h1m3 0h1m2 0h1m6 0h1m3 0h1m7 0h1m5 0h1m17 0h1M16 25h1m14 0h1m8 0h2m14 0h1m4 0h1m1 0h1m11 0h1m1 0h2m1 0h2M9 26h1m12 0h1m2 0h1m1 0h2m2 0h1m2 0h3m3 0h2m4 0h1M18 27h2m36 0h1m2 0h1m2 0h1m1 0h1m6 0h2m1 0h1m1 0h1m1 0h1m15 0h1m2 0h1m1 0h1M29 28h1m4 0h2m4 0h1m1 0h2m14 0h3m14 0h1m14 0h1M18 29h1m1 0h1m1 0h4m1 0h2m14 0h1m9 0h1m1 0h1m16 0h1m12 0h1M28 30h1m4 0h1m4 0h1m10 0h2m3 0h1m1 0h1m1 0h1m7 0h3m2 0h2m1 0h1m3 0h1m10 0h1m2 0h3m1 0h1M13 31h1m15 0h2m1 0h1m16 0h1M20 32h1m1 0h1m8 0h1m2 0h1m3 0h1M12 33h1M3 34h1m21 0h1m1 0h1m11 0h1m1 0h1m14 0h1m27 0h1M12 35h1m7 0h1m10 0h1m6 0h1m4 0h1m1 0h1m18 0h1M14 36h1m1 0h1m1 0h1m1 0h2m9 0h2m19 0h1m6 0h1m5 0h1m2 0h1m3 0h1m2 0h1m3 0h2m2 0h2m6 0h1M17 37h1m78 0h3M16 38h1m34 0h1m7 0h1m2 0h1M37 39h1m6 0h1m1 0h1m3 0h1m1 0h4m3 0h2M2 40h2m23 0h1m1 0h2m1 0h2m8 0h2m9 0h2m8 0h1m1 0h1m1 0h1m7 0h1m1 0h1m1 0h1m1 0h1m7 0h1M20 41h2m4 0h1m6 0h1m8 0h1m23 0h1m5 0h1m3 0h1M12 42h1m7 0h1m3 0h1m7 0h4m47 0h1M7 43h1m2 0h1m9 0h1m3 0h1m3 0h1m1 0h1m15 0h1m1 0h1m2 0h2m30 0h1M21 44h12m1 0h2m3 0h4m13 0h1M23 45h5m1 0h1m5 0h3m1 0h4m8 0h1m1 0h3m2 0h2m1 0h3m5 0h4M22 46h1m3 0h17m8 0h1m1 0h2m2 0h3m1 0h1M25 47h5m1 0h1m1 0h11m30 0h2M23 48h5m1 0h8m2 0h4m27 0h3M22 49h10m11 0h1m8 0h1m9 0h1m6 0h3M23 50h3m1 0h4m5 0h4m1 0h1m1 0h1m28 0h1m1 0h1M40 51h1m1 0h3m38 0h1M22 52h1m12 0h1m2 0h1m1 0h2M22 53h1M43 54h1M1 55h2m8 0h1m5 0h1m27 0h1m1 0h1m1 0h1m4 0h1m2 0h1m1 0h1m7 0h1m1 0h1m2 0h1m4 0h1m7 0h1M24 56h2m2 0h1m5 0h2m2 0h2m12 0h1m8 0h2m1 0h2m1 0h1M19 57h3m29 0h2m1 0h1m14 0h1m1 0h2m6 0h2m15 0h1" stroke="#a5cf4e"/>
<path d="M12 0h1m4 0h1m56 0h1m9 0h1M16 1h1m28 0h1m1 0h1m15 0h1m3 0h1m3 0h1m8 0h1m1 0h3m7 0h1M12 2h1m16 0h1m1 0h1m4 0h1m1 0h2m1 0h1M23 3h3m2 0h1m1 0h1m2 0h3m3 0h1m6 0h2m15 0h1M47 4h1m8 0h3m2 0h2m4 0h1m2 0h1m27 0h2M17 5h3M21 6h2m25 0h1m1 0h1M14 7h1m10 0h2m2 0h1m3 0h2m1 0h1m1 0h2m3 0h1M12 8h1m12 0h1m12 0h1m1 0h2m3 0h3m3 0h1m2 0h2m7 0h1m2 0h1m2 0h1m3 0h1M18 9h1m3 0h1m8 0h2m29 0h1m4 0h1m1 0h5m1 0h1m3 0h2m2 0h2M2 10h1m17 0h2m23 0h1M27 11h3m2 0h1m1 0h2m4 0h1m4 0h1m7 0h1M13 12h1m33 0h1m3 0h1m1 0h1m4 0h1m16 0h2m1 0h1M47 13h3m1 0h1m1 0h1m2 0h1m3 0h1m1 0h2m2 0h3m2 0h1m4 0h3m5 0h2m2 0h1m2 0h1m5 0h1M17 14h1m1 0h1m1 0h2m1 0h1m8 0h2m1 0h5m1 0h1M14 15h1m4 0h1m3 0h1m23 0h2m5 0h1m8 0h1m6 0h4M17 16h1m4 0h1m4 0h1m2 0h3m1 0h2m2 0h1m1 0h5m11 0h1m2 0h1m2 0h2m4 0h2M13 17h2m13 0h1M46 18h1m10 0h1m5 0h2M11 19h1m8 0h1m2 0h2m3 0h3m1 0h4m1 0h6m5 0h1m2 0h5m1 0h1M27 20h1m7 0h1m1 0h1m2 0h1m1 0h1M13 21h2m2 0h1m38 0h1m1 0h1M19 22h1m3 0h1M5 23h1m10 0h3m25 0h5m2 0h2m5 0h1m6 0h1m2 0h2M12 24h1m2 0h2m2 0h1m7 0h2m16 0h1m4 0h1m6 0h4m1 0h3M43 25h1m3 0h2m2 0h1m1 0h3m1 0h2m1 0h1m6 0h2m4 0h1m5 0h1m2 0h2M21 26h1m1 0h2m1 0h1m3 0h1m1 0h2m5 0h1m2 0h1m1 0h1M17 27h1m32 0h1m6 0h1m2 0h1m5 0h1m2 0h2m2 0h1m3 0h1m1 0h4m2 0h1m1 0h1m8 0h1m1 0h1M16 28h1m5 0h4m2 0h1m1 0h4m2 0h4m5 0h1m1 0h1m2 0h1m1 0h3m2 0h1m3 0h1m1 0h1m9 0h2M15 29h1m1 0h1m3 0h1m23 0h2m1 0h1m5 0h1m1 0h3m5 0h1m9 0h1m4 0h3m2 0h1M12 30h1m4 0h3m5 0h2m5 0h1m1 0h1m16 0h1m3 0h1m3 0h1m3 0h3m11 0h1m8 0h3m6 0h1M15 31h2M21 32h1m3 0h3m1 0h1m2 0h2M13 33h2M23 34h1m5 0h2m4 0h2m3 0h1m1 0h1m15 0h1M42 35h1m22 0h2m19 0h1M13 36h1m1 0h1m28 0h2m12 0h1m3 0h2m2 0h2m14 0h1m5 0h1M42 38h1m15 0h1M12 39h1m32 0h1m2 0h1M15 40h2m1 0h1m2 0h2m3 0h1m4 0h1m2 0h1m1 0h1m4 0h1m13 0h1m4 0h1m3 0h1m3 0h3m3 0h1m1 0h1m3 0h1M18 41h2m2 0h2m3 0h5m6 0h1m1 0h2m16 0h1m4 0h3m1 0h1m2 0h1m3 0h2M16 42h2m8 0h2m1 0h3m4 0h2m2 0h1m25 0h1m9 0h1M9 43h1m3 0h1m7 0h1m4 0h1m2 0h1m5 0h2m3 0h1m1 0h2m1 0h1m29 0h1M20 44h1m34 0h1M20 45h3m24 0h4m1 0h1m3 0h2m2 0h1m3 0h5M20 46h2m1 0h3m20 0h5m1 0h1m2 0h2m3 0h1M24 47h1m5 0h1m1 0h1m12 0h3m1 0h5m2 0h16m1 0h1M20 48h3m5 0h1m18 0h8m2 0h4m1 0h8M20 49h2m26 0h4m1 0h9m1 0h6M20 50h3m3 0h1m4 0h5m4 0h1m1 0h1m25 0h4M23 51h1M21 52h1m1 0h5m8 0h1m36 0h1m21 0h1M23 53h2m1 0h1M36 54h1m8 0h1M9 55h1m34 0h1m1 0h1m1 0h1m4 0h1m1 0h1m12 0h1m1 0h2m1 0h1m5 0h4m1 0h1M23 56h1m2 0h1m14 0h1m11 0h1m1 0h1m2 0h1m4 0h1m2 0h1M68 57h1" stroke="#bdd639"/>
<path d="M16 0h1M12 1h1m2 0h1m27 0h1m2 0h1m7 0h3m24 0h1m13 0h2M18 2h2m1 0h2m17 0h1m1 0h1M13 3h1m5 0h4m3 0h2m1 0h1m8 0h1m3 0h1M13 4h1m2 0h1m27 0h1m34 0h1M43 5h1M17 6h4m23 0h1M11 8h1m9 0h1m1 0h2m23 0h1m3 0h2m8 0h1m5 0h1m2 0h1M19 9h1m1 0h1m32 0h1m1 0h2m8 0h1m7 0h1m1 0h2M19 10h1m5 0h1M20 11h4m1 0h1m7 0h1m12 0h2m4 0h1M44 12h3m2 0h2M50 13h1m1 0h1m4 0h3m1 0h1m2 0h2m6 0h2m1 0h1m3 0h5m6 0h1m1 0h5M15 14h1m7 0h1m1 0h2M15 15h1m27 0h1m5 0h2m4 0h1m18 0h1M14 16h1m5 0h1m5 0h1m6 0h1m3 0h1m1 0h1m6 0h2m1 0h2m2 0h1m1 0h1m1 0h2m1 0h2m2 0h1m5 0h3M12 17h1m2 0h1M47 18h2m1 0h1m1 0h1m5 0h1M18 19h2m5 0h1m21 0h1m1 0h2m5 0h1M16 20h1M49 21h3m1 0h2M17 22h1m4 0h1m21 0h2M50 23h1m4 0h2m2 0h3m2 0h1M46 24h3m16 0h1M13 25h1m1 0h1m28 0h3m2 0h2m1 0h1m6 0h1m4 0h1m1 0h1m2 0h1m1 0h1m12 0h1M19 26h1m17 0h2M47 27h3m1 0h1m3 0h1m2 0h1m16 0h1m7 0h1m2 0h1m5 0h1M20 28h2m4 0h2m13 0h1m2 0h1m1 0h1m1 0h2m1 0h1m3 0h2m5 0h1m1 0h3m1 0h5M16 29h1m9 0h1m17 0h1m2 0h1m1 0h2m1 0h1m6 0h5m2 0h2m1 0h1m3 0h1m1 0h1m1 0h2m3 0h2M16 30h1m27 0h1m1 0h1m13 0h1M16 32h1m2 0h1m3 0h2m3 0h1m1 0h1m9 0h2M19 34h2m1 0h1m5 0h1m3 0h3m3 0h1M14 35h2M43 36h1m2 0h1M14 37h1M15 38h1M14 40h1m2 0h1m1 0h1m3 0h3m2 0h1m8 0h1m12 0h3m3 0h2m1 0h1m1 0h2m3 0h1m5 0h2m4 0h1M16 41h2m6 0h2m6 0h1m1 0h4m1 0h1m14 0h1m1 0h2m1 0h1m8 0h2m1 0h1m1 0h1M15 42h1m22 0h1m8 0h1m1 0h1m1 0h11m3 0h1m3 0h1m1 0h2M18 43h2m2 0h2m3 0h1m4 0h3m2 0h3m4 0h1M19 44h1m28 0h7M19 45h1m25 0h2M19 46h1m25 0h1M23 47h1m20 0h1m3 0h1m5 0h2m16 0h1M43 48h4m8 0h2m4 0h1M46 49h2M19 50h1m29 0h19M22 51h1M21 53h1M34 54h2m1 0h4m1 0h1m1 0h1M21 56h2m23 0h6m4 0h2m1 0h2M17 57h2" stroke="#d8e027"/>
<path d="M15 0h1M14 1h1M20 2h1m16 0h1M17 3h2m25 0h1M15 4h1m53 0h1M15 5h2M16 6h1m26 0h1M16 7h1M15 8h1m3 0h2m1 0h1M17 9h1m29 0h7m1 0h1m9 0h1M17 10h1m26 0h1M18 11h2m4 0h1m1 0h1m14 0h1M43 12h1M43 13h1m45 0h1M13 14h2M12 15h2M13 16h1m4 0h1m26 0h1m2 0h1m2 0h1m2 0h1M49 18h1m1 0h1M14 19h1m2 0h1m26 0h3M15 20h1M45 21h4m3 0h1m2 0h1M18 22h1M43 23h1M14 24h1m3 0h1m25 0h1M65 25h1m4 0h1m1 0h1M15 26h4m1 0h1M46 27h1m5 0h3m10 0h1m18 0h1m3 0h3m2 0h1M19 28h1m47 0h1M14 29h1m36 0h1m13 0h1m2 0h1m1 0h2m4 0h1M14 30h2m27 0h1M18 32h1M17 34h2m2 0h1M43 38h1M49 39h1M35 40h1m2 0h3m17 0h1M15 41h1m33 0h2m2 0h1m1 0h1m4 0h2M14 42h1m24 0h1m4 0h3m1 0h1m1 0h1m11 0h3m2 0h2m1 0h1M17 43h1m13 0h1M45 44h3M43 45h2M43 46h2M45 49h1M45 50h4M21 51h1M20 52h1M32 54h1M43 55h1m39 0h1M45 56h1m8 0h1" stroke="#f4eb1e"/>
<path d="M16 2h2M45 3h1M14 5h1M15 6h1M18 8h1M16 9h1m28 0h2M18 10h1M44 11h1M12 14h1M12 16h1M15 19h2m26 0h1M44 21h1M13 24h1M14 26h1M91 27h1M18 28h1M13 29h1M13 30h1m31 0h1M13 35h1M13 40h1m33 0h3M14 41h1m31 0h3m2 0h2m9 0h1M13 42h1m29 0h1M15 43h2M43 44h2M44 49h1M44 50h1M19 52h1M31 54h1m1 0h1M44 56h1" stroke="#facc19"/>
<path d="M14 0h1M13 1h1M14 2h1M16 3h1M14 4h1M14 6h1M15 9h1m28 0h1M17 11h1M12 19h2M43 24h1M45 27h1M17 28h1M17 32h1M12 40h1m31 0h1m1 0h1M44 41h2M14 43h1M43 56h1" stroke="#f9a518"/>
<path d="M13 2h1m1 0h1M15 7h1M17 8h1M15 11h2M44 27h1M45 40h1M43 41h1" stroke="#f37121"/>
<path d="M13 0h1M14 3h2" stroke="#e92024"/>
<path d="M16 8h1" stroke="#98171a"/>
</g>
<g transform="translate(1401.2 733.04) scale(2.6575 6.0776)" shape-rendering="crispEdges" fill="none" stroke-width="1.03" stroke-linejoin="miter">
<path d="M0 28.5H100" stroke="#7ac8a6" stroke-width="58"/>
<path d="M25 3h1M20 30h1m36 0h1M71 52h2" stroke="#4174bd"/>
<path d="M54 3h1m4 0h1M74 21h1M4 22h1M35 26h1M51 29h1M22 30h2m12 0h1m6 0h1m15 0h1m34 0h1M65 36h1m17 0h1M11 37h1M78 44h1M10 52h1m29 0h1m13 0h1m4 0h1m18 0h2m9 0h1m4 0h2M34 57h1" stroke="#42a1e0"/>
<path d="M33 2h1m8 0h1m9 0h1M15 3h1m7 0h2m1 0h3m6 0h1m9 0h1m11 0h1m11 0h1m3 0h2m12 0h2m8 0h1M81 4h1M59 5h1m14 0h1M68 6h1M8 7h1m15 0h1m1 0h1m11 0h1m1 0h1m9 0h1m44 0h1M82 8h1M13 9h1m83 0h1M23 15h1m10 0h1m35 0h1M25 17h1m72 0h1M2 21h3m6 0h1m4 0h2m1 0h1m2 0h2m27 0h1m6 0h1m17 0h2m1 0h2m4 0h1m4 0h1m1 0h2M15 22h1m64 0h1M1 26h1m9 0h1m13 0h1m3 0h1m9 0h1m2 0h1m12 0h2m3 0h1m8 0h1m5 0h1m5 0h1m3 0h2m6 0h1m2 0h1M9 28h1m84 0h1M11 29h1m8 0h1m1 0h1m25 0h1M0 30h1m9 0h1m8 0h1m1 0h1m2 0h1m6 0h1m5 0h1m8 0h1m11 0h1m16 0h2m1 0h1m17 0h1M91 31h1M26 35h1M7 38h1m66 0h1m24 0h1M10 39h1m33 0h1m15 0h1m2 0h1m25 0h1M8 43h1M42 44h1M11 46h1m11 0h2m30 0h1m15 0h1m1 0h1m3 0h1m14 0h1M2 51h1m17 0h1m36 0h1m11 0h2m17 0h1M9 52h1m2 0h1m7 0h1m6 0h1m11 0h1m13 0h1m1 0h1m1 0h1m12 0h1m19 0h1m2 0h1m2 0h1m1 0h1M10 53h1m4 0h2m13 0h1m40 0h1m7 0h1M30 57h1m52 0h1" stroke="#3dbfef"/>
<path d="M26 1h1m7 0h1m1 0h2m1 0h1m23 0h1M34 2h1m11 0h1m10 0h2m11 0h2m24 0h1m2 0h1M0 3h2m1 0h2m1 0h1m7 0h1m6 0h1m7 0h1m1 0h1m4 0h2m4 0h1m12 0h1m2 0h1m2 0h1m4 0h1m5 0h1m2 0h1m4 0h1m1 0h1m1 0h2m3 0h1m6 0h1M25 4h1m22 0h1m34 0h1M4 5h1m14 0h1m1 0h1m7 0h1m17 0h1m1 0h1m7 0h1M19 6h1M4 7h1m5 0h2m18 0h1m6 0h1m4 0h2m2 0h1m30 0h1m2 0h1m6 0h1m8 0h2M18 8h1m10 0h1m29 0h1m27 0h1M17 9h2m22 0h1m2 0h1m45 0h1M0 10h2m12 0h1m66 0h1m14 0h1M21 11h1M49 14h1m24 0h1m1 0h1m11 0h1m2 0h1M1 15h1m4 0h1m30 0h1m21 0h1m28 0h1M41 16h1m49 0h1M15 18h1M55 20h1M5 21h1m3 0h1m5 0h1m2 0h1m5 0h3m1 0h1m1 0h1m7 0h3m1 0h1m3 0h1m2 0h2m1 0h2m2 0h2m3 0h1m1 0h1m3 0h3m1 0h2m2 0h1m2 0h1m7 0h4m1 0h1M8 22h1m23 0h1m28 0h1m17 0h1m9 0h1m1 0h1M3 23h1m65 0h1M15 24h1m15 0h1m26 0h1m2 0h1M32 25h1M2 26h1m5 0h1m5 0h1m6 0h1m2 0h1m1 0h1m5 0h2m3 0h1m3 0h1m6 0h1m1 0h1m2 0h1m3 0h1m1 0h1m1 0h1m2 0h1m2 0h2m1 0h1m5 0h2m1 0h2m8 0h4m5 0h1M22 28h1m59 0h2M0 29h4m17 0h1m16 0h1m1 0h1m12 0h2m18 0h1M7 30h1m8 0h1m8 0h2m1 0h3m4 0h1m3 0h1m23 0h1m9 0h2m4 0h1m1 0h1m2 0h1m2 0h4m1 0h1m2 0h1m2 0h2M44 31h1M42 34h1m6 0h1m35 0h1m2 0h1M79 35h1M10 36h1m3 0h1m9 0h1m9 0h1m21 0h2m27 0h1m11 0h1M16 37h1m20 0h1m57 0h1M3 39h1m20 0h1m63 0h1m8 0h1M75 40h1M12 43h1m42 0h1m21 0h1M10 44h1m14 0h1m18 0h1m21 0h1m19 0h2m1 0h1M3 45h1m1 0h1m1 0h1m16 0h1m27 0h1m3 0h1m12 0h3M29 46h1m31 0h1m7 0h1m8 0h1m5 0h1M80 49h1M3 51h1m3 0h1m4 0h1m20 0h2m8 0h1m9 0h1m2 0h1m3 0h1m4 0h1m8 0h1m10 0h1m3 0h1m4 0h1M0 52h1m1 0h1m2 0h1m2 0h1m2 0h1m3 0h5m1 0h2m3 0h1m1 0h3m3 0h1m11 0h2m13 0h1m2 0h1m2 0h1m17 0h1m2 0h1m3 0h1M8 53h1m24 0h1m2 0h1m17 0h1m1 0h1m3 0h1m9 0h1m1 0h1m1 0h2M8 54h2m5 0h1m12 0h1m5 0h1m12 0h1m6 0h2m1 0h2m1 0h1m2 0h1m12 0h1m1 0h1m2 0h1m7 0h2m1 0h1m2 0h1M15 55h3m1 0h1m34 0h1m18 0h1m15 0h1m8 0h1M75 56h1M7 57h1m5 0h1m2 0h1m4 0h3m5 0h1m7 0h1m12 0h1m1 0h1m15 0h1m9 0h2m6 0h2m2 0h1m6 0h1" stroke="#54c4e1"/>
<path d="M8 0h1m9 0h1m3 0h2m14 0h1m31 0h1m6 0h1m15 0h2M7 1h1m3 0h1m2 0h1m23 0h1m4 0h1m4 0h1m5 0h1m5 0h1m3 0h1m30 0h2M6 2h2m4 0h1m3 0h1m18 0h1m3 0h1m4 0h2m1 0h3m6 0h1m4 0h1m13 0h1m11 0h2m1 0h3m1 0h1M2 3h1m5 0h2m2 0h1m3 0h1m3 0h1m9 0h1m1 0h1m7 0h2m2 0h1m4 0h1m6 0h1m3 0h1m10 0h1m9 0h1m12 0h1m3 0h2M7 4h1m12 0h2m4 0h2m1 0h1m3 0h1m13 0h1m2 0h2m16 0h1m1 0h1m5 0h2m2 0h1m1 0h1m10 0h1m1 0h1M1 5h1m4 0h1m5 0h1m1 0h1m3 0h1m1 0h1m1 0h1m7 0h1m17 0h1m1 0h1m10 0h3m1 0h1m4 0h1m1 0h1m7 0h1m3 0h1m4 0h1m2 0h1m5 0h1M1 6h1m29 0h1m2 0h1m35 0h2m14 0h1M1 7h1m1 0h1m2 0h1m6 0h1m1 0h1m4 0h2m3 0h1m1 0h1m3 0h2m14 0h1m3 0h2m4 0h1m1 0h1m2 0h2m8 0h1m2 0h1m3 0h1m1 0h1m1 0h1m1 0h2m3 0h3m1 0h1M8 8h1m12 0h1m13 0h1m22 0h1m1 0h1m3 0h1m2 0h1m7 0h1M10 9h1m5 0h1m13 0h1m11 0h1m15 0h1m11 0h1m6 0h1m15 0h1m5 0h1M50 10h1m43 0h1m2 0h1M3 11h1m18 0h1m33 0h1M7 12h1m40 0h1m20 0h1m7 0h1M5 13h1m74 0h1m1 0h1M13 14h1m1 0h1m26 0h1m7 0h1m24 0h1m16 0h1m1 0h1M7 15h1m25 0h1m11 0h1m7 0h2m1 0h1m3 0h1m10 0h1m4 0h1m1 0h1m4 0h1m3 0h1m4 0h1M3 16h1m7 0h1m14 0h1m5 0h2m14 0h1m11 0h1m4 0h2m12 0h1m6 0h1M0 17h2m22 0h1m9 0h1m10 0h1m8 0h1m7 0h1m12 0h1m12 0h1m1 0h1m2 0h1M1 18h1m8 0h1m14 0h1m6 0h1m11 0h1m5 0h1m44 0h1M16 19h1M7 20h1m73 0h1m4 0h1m11 0h1M0 21h2m12 0h1m6 0h1m5 0h1m1 0h1m1 0h1m4 0h1m4 0h1m1 0h3m1 0h2m6 0h1m3 0h1m2 0h1m3 0h1m6 0h1m8 0h3m9 0h1m2 0h3M6 22h1m20 0h1m5 0h1m23 0h1m2 0h1m10 0h1m20 0h1M22 23h1m4 0h2m39 0h1m4 0h2m8 0h1M1 24h1m12 0h1m11 0h1m32 0h2m4 0h1m10 0h2m1 0h1m3 0h1m12 0h1m2 0h1M25 25h1m11 0h1m2 0h2m10 0h2m17 0h1m21 0h1M0 26h1m14 0h1m6 0h2m12 0h1m3 0h1m3 0h1m1 0h1m4 0h2m1 0h1m3 0h1m3 0h1m10 0h2m3 0h1m3 0h3m2 0h1m6 0h1m4 0h1M16 27h1m32 0h1m11 0h1m1 0h1M8 28h1m9 0h1m42 0h1m3 0h1m33 0h1M4 29h1m14 0h1m7 0h1m5 0h1m7 0h2m4 0h1m1 0h1m2 0h1m2 0h1m2 0h1m2 0h1m2 0h2m3 0h1m1 0h1m23 0h1M1 30h1m1 0h2m22 0h1m4 0h1m5 0h1m1 0h1m3 0h2m2 0h1m4 0h1m2 0h1m5 0h1m6 0h1m10 0h1m5 0h1m4 0h1m1 0h1M48 31h1M4 32h1m4 0h1m17 0h1m8 0h1m10 0h1m9 0h1m33 0h1M10 33h1m18 0h1m9 0h1M15 34h1m16 0h1m3 0h1m54 0h1M27 35h1m15 0h1M6 36h1m5 0h1m2 0h1m7 0h1m6 0h2m9 0h2m1 0h1m1 0h2m4 0h1m2 0h1m6 0h2m2 0h1m1 0h1m11 0h1m1 0h1m1 0h1m2 0h1m5 0h1M21 37h1m17 0h1m20 0h1M4 38h2m2 0h1m16 0h1m1 0h1m1 0h1m25 0h1m17 0h1m1 0h1m6 0h1M9 39h1m1 0h1m5 0h1m20 0h1m3 0h2m11 0h1m29 0h1m13 0h1M27 40h1m23 0h1m2 0h2m35 0h2M7 42h1m73 0h2m5 0h1M53 43h1m6 0h1m7 0h1m11 0h1m8 0h1M0 44h1m26 0h1m36 0h2m1 0h1m9 0h1m5 0h2M2 45h1m10 0h1m2 0h3m2 0h1m7 0h1m9 0h1m8 0h1m6 0h1m3 0h1m8 0h1m7 0h1m2 0h1m17 0h1M15 46h1m5 0h1m5 0h1m14 0h1m4 0h1m4 0h3m4 0h1m4 0h1m5 0h1m1 0h1m3 0h1m4 0h1m8 0h1M60 48h1m16 0h1M2 49h1m4 0h1m35 0h1m39 0h1m1 0h1M5 51h2m1 0h2m6 0h1m5 0h1m6 0h1m5 0h1m1 0h1m7 0h1m3 0h1m11 0h3m4 0h1m2 0h3m5 0h1m2 0h1M14 52h1m9 0h2m11 0h1m3 0h1m1 0h1m4 0h1m7 0h1m3 0h1m7 0h2m10 0h1m3 0h1m1 0h2m3 0h1M9 53h1m1 0h1m1 0h1m3 0h1m8 0h1m2 0h1m9 0h1m2 0h1m3 0h2m13 0h1m3 0h1m1 0h1m1 0h1m6 0h1m9 0h2m1 0h1m4 0h1m1 0h1m2 0h1M2 54h1m8 0h4m8 0h2m1 0h2m4 0h1m2 0h1m5 0h1m4 0h1m1 0h1m4 0h1m11 0h1m3 0h1m2 0h1m11 0h1m6 0h1M3 55h1m25 0h2m9 0h3m3 0h3m9 0h2m1 0h1m7 0h1m8 0h1m5 0h1m1 0h1m3 0h1M2 57h1m6 0h1m2 0h1m7 0h1m3 0h1m10 0h2m2 0h1m1 0h2m3 0h2m3 0h1m1 0h1m6 0h1m5 0h1m13 0h1m1 0h1m2 0h1m2 0h1" stroke="#64c7ce"/>
<path d="M0 0h1m4 0h1m3 0h3m1 0h1m17 0h1m7 0h1m14 0h1m2 0h1m18 0h1m2 0h1m5 0h1m1 0h2m6 0h2m2 0h1M2 1h1m1 0h1m4 0h1m3 0h1m11 0h1m4 0h1m4 0h1m11 0h1m1 0h3m4 0h1m1 0h1m2 0h1m6 0h2m11 0h2m11 0h1m2 0h1M0 2h1m3 0h2m2 0h1m4 0h3m1 0h1m6 0h1m2 0h1m1 0h1m1 0h1m5 0h1m2 0h1m2 0h1m15 0h1m2 0h1m3 0h2m1 0h1m2 0h1m1 0h1m11 0h1m10 0h2M5 3h1m1 0h1m2 0h1m6 0h1m4 0h1m10 0h2m8 0h1m2 0h1m1 0h1m3 0h2m8 0h4m1 0h2m1 0h1m5 0h1m1 0h1m7 0h1m3 0h3M0 4h1m2 0h4m21 0h1m1 0h1m6 0h1m2 0h1m3 0h1m1 0h1m18 0h2M3 5h1m3 0h1m3 0h1m1 0h1m10 0h1m3 0h1m7 0h1m1 0h2m1 0h1m1 0h1m7 0h4m11 0h1m4 0h1m15 0h2m1 0h1m2 0h1m1 0h1M0 6h1m3 0h2m12 0h1m9 0h1m32 0h1m1 0h2m1 0h2m4 0h1m4 0h1m7 0h1m2 0h1M0 7h1m1 0h1m2 0h1m3 0h1m2 0h1m1 0h1m2 0h3m3 0h1m4 0h1m4 0h1m2 0h1m8 0h1m2 0h2m6 0h1m1 0h1m2 0h1m2 0h2m2 0h2m3 0h1m10 0h1m3 0h1m4 0h1M1 8h1m4 0h2m1 0h1m9 0h1m24 0h2m6 0h3m1 0h1m5 0h1m2 0h1m26 0h1m4 0h1m1 0h1M5 9h1m1 0h3m4 0h1m10 0h1m17 0h1m1 0h1m5 0h1m14 0h1m9 0h1m2 0h1m6 0h1m9 0h1m1 0h1M7 10h1m1 0h1m25 0h1m15 0h1m4 0h1m1 0h1m9 0h1m3 0h1m4 0h1m4 0h1m9 0h1M1 11h1m4 0h2m8 0h1m7 0h1m6 0h1m6 0h1m1 0h1m33 0h1m7 0h1m15 0h1M8 12h1m1 0h2m9 0h1m13 0h2m5 0h1m7 0h3M12 13h1m27 0h1m7 0h1M4 14h1m1 0h2m6 0h1m2 0h1m5 0h1m2 0h2m1 0h2m2 0h2m1 0h1m3 0h2m1 0h1m9 0h1m3 0h1m4 0h2m3 0h1m2 0h1m6 0h2m1 0h2m3 0h1m1 0h1m2 0h1m4 0h1M18 15h2m1 0h2m1 0h1m10 0h2m1 0h1m7 0h1m2 0h1m2 0h1m4 0h1m5 0h1m1 0h1m6 0h1m2 0h1m3 0h1m13 0h1m2 0h1M15 16h1m11 0h1m1 0h1m8 0h1m3 0h1m4 0h1m2 0h1m3 0h1m1 0h1m4 0h3m14 0h1m1 0h1m1 0h1m7 0h1m2 0h2M11 17h1m3 0h1m3 0h1m8 0h2m2 0h1m2 0h1m2 0h1m1 0h1m10 0h1m3 0h1m1 0h1m1 0h1m9 0h1m14 0h2m3 0h1m4 0h2m1 0h1M0 18h1m13 0h1m8 0h1m5 0h1m5 0h1m5 0h1m11 0h1m4 0h1m8 0h1m3 0h1m3 0h4m12 0h2M8 19h1m56 0h1m10 0h2m14 0h1M17 20h1m5 0h1m21 0h1m1 0h1m8 0h1m6 0h2m23 0h1M6 21h3m1 0h1m22 0h1m3 0h1m16 0h1m5 0h1m3 0h1m16 0h1M0 22h1m1 0h2m3 0h1m8 0h3m6 0h1m4 0h1m3 0h1m6 0h2m21 0h1m8 0h3m2 0h1m7 0h1m3 0h1m2 0h1m2 0h1M2 23h1m11 0h1m6 0h1m15 0h1m10 0h1m7 0h1m4 0h1m5 0h1m14 0h1m2 0h1M2 24h1m2 0h4m14 0h1m8 0h2m2 0h1m4 0h1m7 0h2m6 0h1m5 0h2m8 0h2m3 0h1m1 0h1m3 0h2m2 0h4m2 0h1M5 25h1m1 0h1m16 0h1m3 0h1m1 0h1m2 0h1m5 0h1m2 0h2m3 0h1m19 0h3m6 0h1m6 0h2m9 0h1m2 0h1m1 0h1M3 26h4m3 0h1m5 0h2m2 0h1m6 0h2m1 0h1m3 0h1m3 0h1m4 0h1m3 0h1m1 0h1m15 0h1m5 0h2m15 0h1m6 0h1M17 27h1m4 0h1m31 0h1m2 0h1m4 0h1m10 0h2m17 0h1m4 0h1M23 28h1m5 0h2m11 0h1m6 0h1m3 0h2m4 0h1m2 0h1m3 0h1m5 0h2m4 0h1m8 0h2m1 0h1M5 29h1m19 0h1m3 0h1m5 0h1m3 0h1m10 0h1m12 0h1m2 0h1m3 0h1m1 0h1m4 0h2m5 0h1m2 0h5m1 0h1m2 0h1m1 0h1M5 30h1m2 0h2m4 0h2m1 0h1m15 0h1m7 0h1m18 0h2m2 0h2m1 0h2m2 0h2m24 0h1M1 31h1m4 0h1m4 0h1m2 0h1m1 0h1m3 0h1m7 0h1m23 0h4m2 0h1m14 0h2m6 0h1m6 0h1m5 0h1M1 32h1m15 0h1m3 0h1m9 0h2m4 0h2m1 0h1m2 0h1m7 0h1m7 0h2m3 0h1m5 0h1m2 0h1m6 0h1M6 33h1m1 0h1m17 0h1m3 0h1m6 0h1m17 0h2m8 0h1m17 0h1m3 0h1m10 0h1M1 34h1m2 0h1m17 0h2m6 0h2m1 0h1m1 0h1m12 0h1m16 0h1m1 0h1m8 0h1m5 0h2m3 0h1M9 35h2m8 0h1m1 0h1m3 0h1m3 0h1m1 0h1m3 0h2m2 0h2m3 0h1m2 0h1m1 0h1m6 0h1m10 0h2m9 0h1m14 0h2M0 36h1m2 0h1m3 0h1m1 0h1m1 0h1m4 0h1m5 0h1m9 0h1m3 0h1m2 0h1m3 0h1m6 0h1m7 0h2m1 0h1m9 0h1m6 0h2m8 0h1m3 0h1m3 0h1m2 0h1M2 37h1m14 0h3m5 0h1m1 0h1m2 0h1m5 0h1m1 0h1m5 0h1m4 0h2m12 0h1m4 0h1m30 0h1M0 38h1m2 0h1m5 0h1m4 0h1m4 0h2m3 0h1m1 0h1m3 0h1m9 0h1m2 0h1m3 0h1m1 0h1m2 0h1m6 0h1m1 0h1m5 0h2m2 0h2m16 0h1m2 0h1m5 0h1M0 39h1m3 0h3m16 0h1m1 0h1m5 0h1m3 0h1m11 0h1m9 0h1m3 0h1m2 0h1m7 0h1m11 0h1m1 0h2m3 0h4M3 40h2m11 0h1m11 0h1m8 0h2m4 0h1m1 0h1m14 0h1m15 0h1m17 0h4M5 42h2m13 0h2m23 0h1m4 0h1m1 0h1m15 0h1m10 0h1m4 0h1m6 0h1M7 43h1m13 0h4m21 0h1m1 0h1m3 0h1m1 0h1m1 0h2m17 0h1m2 0h1m6 0h3m7 0h1m2 0h2M1 44h1m3 0h2m6 0h1m2 0h2m22 0h1m18 0h1m2 0h1m8 0h2m1 0h1m6 0h1m11 0h1m2 0h1M0 45h1m3 0h1m1 0h1m16 0h1m2 0h2m4 0h3m5 0h2m4 0h2m2 0h1m2 0h2m5 0h1m11 0h1m4 0h1m2 0h2m3 0h1m8 0h3m1 0h1M2 46h1m7 0h1m8 0h2m4 0h1m2 0h1m4 0h1m1 0h2m12 0h2m5 0h3m8 0h1m6 0h1m8 0h1M11 47h1M4 49h2m6 0h1m7 0h1m5 0h2m4 0h1m5 0h2m4 0h1m3 0h1m1 0h1m6 0h1m2 0h1m13 0h1m4 0h1m1 0h1M69 50h1m20 0h1m3 0h1M4 51h1m8 0h2m4 0h1m3 0h1m3 0h1m4 0h1m11 0h1m9 0h2m2 0h1m5 0h1m1 0h1m9 0h2m2 0h2m2 0h1m2 0h1m2 0h1m2 0h1m4 0h1M33 52h1m1 0h2m1 0h1m6 0h1m3 0h1m2 0h1m5 0h1m3 0h2m1 0h2m9 0h2m3 0h1m1 0h1m13 0h1M1 53h1m3 0h1m1 0h1m4 0h1m1 0h1m3 0h1m6 0h1m11 0h2m1 0h1m3 0h2m5 0h1m7 0h1m4 0h1m8 0h1m6 0h6m2 0h1m1 0h1m2 0h1m1 0h1m1 0h2M6 54h1m3 0h1m6 0h2m2 0h2m6 0h3m1 0h1m2 0h1m1 0h1m1 0h1m2 0h2m4 0h1m1 0h2m3 0h1m5 0h1m3 0h2m3 0h1m3 0h1m1 0h1m1 0h1m2 0h1m3 0h2m5 0h2m1 0h1m1 0h2M1 55h1m4 0h1m2 0h1m1 0h2m5 0h1m3 0h2m3 0h2m5 0h1m2 0h1m1 0h1m10 0h1m5 0h2m2 0h1m13 0h2m1 0h1m9 0h1m4 0h4m3 0h1M45 56h1M8 57h1m5 0h1m10 0h1m2 0h1m2 0h3m4 0h1m6 0h1m2 0h2m4 0h1m3 0h2m3 0h3m3 0h1m3 0h1m1 0h1m1 0h1m16 0h3m1 0h1" stroke="#72c9bb"/>
<path d="M1 0h1m2 0h1m2 0h1m4 0h1m20 0h1m1 0h1m1 0h1m3 0h1m5 0h1m5 0h1m6 0h2m3 0h1m1 0h1m3 0h2m1 0h1m7 0h1m1 0h1m4 0h1m7 0h2M0 1h2m16 0h1m21 0h1m4 0h1m7 0h1m8 0h1m2 0h2m4 0h1m1 0h1m17 0h1M3 2h1m5 0h1m9 0h1m1 0h1m1 0h1m2 0h1m1 0h1m25 0h1m8 0h1m1 0h1m2 0h1m12 0h4m10 0h1M19 3h1m19 0h1m10 0h1m26 0h1M1 4h1m7 0h1m1 0h1m1 0h1m5 0h1m21 0h1m16 0h1m12 0h2m2 0h1m11 0h1m9 0h1M8 5h1m8 0h1m5 0h1m11 0h1m4 0h1m5 0h1m8 0h1m4 0h1m6 0h2m7 0h2m3 0h1m12 0h1m4 0h1M2 6h2m7 0h1m12 0h1m2 0h1m5 0h1m9 0h1m3 0h1m2 0h1m1 0h1m5 0h2m2 0h1m27 0h1m3 0h1m1 0h1m1 0h2M29 7h1m14 0h1m8 0h3m15 0h1m6 0h1m3 0h1m15 0h1M2 8h2m1 0h1m8 0h3m3 0h1m3 0h1m6 0h1m2 0h1m3 0h1m4 0h1m2 0h1m10 0h1m3 0h1m4 0h1m1 0h2m1 0h1m4 0h1m2 0h1m1 0h1m1 0h2m1 0h1m1 0h2m6 0h1M0 9h1m1 0h1m12 0h1m5 0h1m5 0h1m1 0h1m3 0h1m1 0h1m2 0h1m8 0h1m5 0h2m5 0h2m2 0h2m2 0h1m2 0h1m2 0h1m5 0h1m2 0h3m3 0h1M3 10h1m2 0h1m6 0h1m1 0h1m5 0h1m3 0h1m1 0h2m7 0h1m5 0h2m11 0h1m5 0h1m4 0h2m2 0h1m2 0h1m6 0h1m2 0h1m2 0h3m1 0h1M8 11h1m16 0h1m13 0h1m4 0h1m1 0h1m4 0h1m1 0h1m9 0h1m3 0h1m7 0h1m1 0h2m7 0h2m2 0h1m5 0h1m2 0h1M14 12h3m3 0h1m1 0h2m1 0h1m2 0h1m4 0h2m9 0h2m1 0h1m1 0h1m7 0h2m4 0h1m3 0h2m3 0h2m1 0h1m7 0h1m2 0h2m2 0h1m6 0h2M0 13h1m2 0h1m3 0h1m1 0h1m27 0h1m21 0h1m7 0h1m8 0h2m7 0h1m2 0h1m8 0h1m1 0h1M1 14h1m3 0h1m10 0h1m2 0h1m11 0h1m3 0h1m2 0h1m9 0h1m2 0h1m2 0h3m3 0h2m7 0h1m3 0h1m9 0h1m14 0h2M8 15h1m1 0h1m2 0h3m10 0h1m4 0h1m18 0h1m13 0h1m3 0h1m5 0h1m2 0h1m4 0h1m1 0h1m4 0h1m8 0h1M2 16h1m6 0h1m4 0h1m8 0h1m10 0h1m4 0h1m4 0h1m4 0h1m3 0h1m1 0h1m8 0h1m5 0h2m1 0h1m2 0h1m4 0h1m1 0h1m3 0h2m8 0h1M12 17h1m1 0h1m1 0h1m4 0h1m20 0h1m4 0h1m1 0h1m10 0h1m2 0h1m1 0h1m1 0h1m4 0h1m3 0h1m1 0h1m7 0h1M4 18h1m12 0h1m2 0h1m3 0h1m3 0h1m1 0h1m5 0h1m1 0h1m4 0h1m1 0h1m3 0h1m1 0h1m3 0h1m6 0h1m5 0h2m10 0h3m2 0h2m7 0h1m1 0h1m2 0h1M6 19h1m2 0h1m1 0h1m3 0h1m1 0h1m2 0h1m3 0h1m5 0h5m3 0h1m5 0h2m3 0h1m4 0h1m1 0h1m7 0h1m1 0h1m5 0h2m7 0h1m3 0h1m4 0h1m2 0h1m1 0h1m3 0h1M13 20h2m5 0h1m4 0h1m15 0h2m3 0h1m1 0h1m2 0h1m5 0h2m8 0h1m9 0h1m1 0h1m4 0h1m7 0h1m2 0h2M12 21h2M1 22h1m3 0h1m13 0h2m1 0h1m5 0h1m11 0h1m2 0h2m2 0h2m1 0h2m2 0h2m3 0h1m2 0h1m3 0h1m1 0h1m1 0h1m1 0h1m4 0h1m3 0h2m2 0h1m1 0h1M4 23h1m5 0h1m7 0h1m4 0h2m4 0h3m1 0h1m9 0h1m1 0h1m5 0h1m6 0h1m5 0h1m5 0h3m3 0h1m1 0h1m5 0h1m3 0h1m2 0h1m4 0h2M4 24h1m14 0h1m2 0h1m6 0h1m7 0h2m5 0h2m1 0h2m2 0h2m1 0h3m12 0h1m1 0h1m9 0h2m3 0h1m6 0h1M1 25h1m6 0h2m1 0h2m1 0h2m2 0h1m4 0h1m3 0h1m1 0h1m1 0h1m2 0h2m12 0h1m6 0h2m2 0h1m13 0h2m3 0h1m7 0h3m3 0h1m2 0h1M12 26h1m6 0h1m11 0h1m34 0h1m30 0h1M0 27h1m4 0h1m12 0h2m7 0h1m2 0h1m4 0h1m2 0h1m2 0h1m2 0h3m3 0h1m1 0h1m5 0h3m6 0h1m4 0h1m7 0h1m4 0h1m2 0h2m3 0h1m1 0h1m2 0h1M6 28h1m3 0h1m5 0h1m2 0h1m16 0h3m5 0h1m6 0h1m3 0h1m4 0h1m7 0h1m5 0h1m5 0h2m9 0h2m2 0h1M6 29h1m1 0h1m4 0h1m9 0h2m5 0h1m1 0h1m3 0h1m6 0h2m1 0h1m27 0h1m1 0h1m2 0h2M6 30h1m5 0h1m5 0h1m31 0h1m4 0h1m21 0h1M3 31h3m1 0h1m17 0h3m1 0h1m1 0h1m5 0h1m8 0h1m2 0h2m5 0h1m2 0h1m1 0h3m4 0h1m1 0h1m18 0h2m1 0h1m4 0h1M0 32h1m2 0h1m2 0h1m4 0h2m1 0h1m5 0h1m13 0h1m9 0h1m4 0h2m1 0h2m11 0h1m1 0h2m2 0h1m2 0h2m3 0h1m3 0h1m1 0h1m1 0h1m5 0h4m2 0h1M2 33h1m1 0h1m2 0h1m1 0h1m6 0h2m1 0h1m2 0h1m5 0h1m12 0h1m3 0h1m3 0h1m1 0h2m9 0h2m9 0h2m1 0h1m7 0h1m1 0h1m1 0h1M0 34h1m4 0h1m2 0h2m7 0h1m6 0h1m1 0h2m1 0h1m7 0h1m1 0h2m6 0h1m4 0h2m2 0h1m2 0h1m4 0h1m1 0h1m2 0h3m1 0h1m18 0h1m1 0h2m1 0h2M2 35h1m1 0h2m6 0h1m1 0h1m3 0h1m4 0h2m13 0h1m2 0h1m4 0h1m3 0h2m2 0h2m2 0h1m3 0h2m1 0h1m10 0h2m2 0h1m1 0h1m3 0h2m8 0h1M2 36h1m14 0h2m6 0h2m2 0h1m18 0h1m18 0h1m7 0h1m5 0h1m9 0h1M3 37h1m1 0h1m3 0h2m2 0h1m1 0h1m4 0h1m13 0h1m10 0h2m4 0h1m7 0h1m4 0h3m4 0h1m2 0h1m4 0h1m1 0h1m1 0h1m1 0h1m1 0h1m2 0h1m5 0h3M2 38h1m3 0h1m6 0h1m1 0h1m2 0h1m9 0h1m5 0h2m1 0h2m6 0h1m4 0h1m2 0h1m2 0h3m20 0h1m11 0h1M8 39h1m4 0h1m4 0h4m7 0h1m7 0h1m3 0h1m4 0h1m5 0h2m2 0h1m1 0h1m6 0h1m2 0h1m1 0h1m2 0h1m1 0h1m2 0h1m3 0h1m12 0h1m2 0h1M0 40h3m2 0h1m3 0h1m1 0h1m1 0h3m6 0h2m2 0h1m4 0h3m8 0h1m3 0h1m1 0h3m8 0h1m1 0h1m4 0h1m2 0h1m1 0h1m2 0h1m10 0h1m7 0h1m4 0h1M7 41h1m13 0h1m13 0h1m12 0h1m3 0h1m4 0h1m9 0h1m10 0h1m19 0h1M2 42h2m5 0h1m4 0h1m3 0h1m5 0h1m2 0h1m7 0h2m2 0h1m1 0h1m2 0h1m4 0h1m14 0h1m9 0h1m2 0h2m4 0h1m5 0h2m5 0h2m1 0h1M2 43h2m27 0h1m3 0h3m5 0h2m16 0h1m2 0h1m11 0h1m13 0h1m1 0h1M4 44h1m2 0h1m1 0h1m9 0h2m1 0h2m9 0h1m1 0h2m1 0h2m1 0h1m4 0h2m1 0h1m5 0h1m17 0h1m1 0h1m14 0h1m3 0h2M10 45h1m8 0h1m16 0h1m6 0h3m17 0h1m11 0h1m2 0h1m4 0h2m1 0h1m2 0h2m2 0h1m5 0h1M0 46h2m1 0h1m2 0h1m2 0h1m3 0h2m11 0h1m3 0h2m2 0h1m3 0h1m1 0h1m22 0h1m4 0h1m13 0h1m2 0h1m10 0h1M0 47h1m16 0h1m15 0h1m6 0h1m3 0h1m5 0h1m5 0h1m9 0h1m1 0h1m6 0h1m7 0h1m7 0h1M0 48h3m4 0h1m1 0h1m1 0h1m23 0h1m9 0h2m5 0h2m1 0h2m2 0h1m6 0h1m3 0h1M10 49h1m3 0h1m6 0h1m2 0h2m2 0h1m2 0h1m2 0h2m9 0h2m12 0h1m4 0h2m4 0h1m4 0h2m9 0h1m3 0h2m1 0h1m2 0h1M3 50h1m16 0h1m12 0h1m3 0h1m1 0h2m11 0h1m10 0h1m7 0h2m14 0h1m3 0h1m1 0h1m3 0h1M15 51h1m1 0h2m9 0h1m9 0h2m1 0h1m5 0h2m3 0h1m22 0h1m2 0h1m12 0h1m7 0h1M3 52h2m8 0h1m37 0h1m21 0h2M6 53h1m15 0h1m4 0h1m3 0h1m17 0h1m3 0h1m3 0h1m8 0h1M16 54h1m2 0h2m18 0h1m5 0h1m15 0h1m2 0h1m9 0h1m10 0h1M8 55h1m5 0h1m29 0h1m4 0h1m2 0h2m8 0h1m8 0h1m7 0h1m1 0h1m14 0h2M12 56h1m9 0h1m33 0h1m8 0h1m1 0h2m3 0h1m14 0h1m8 0h2M1 57h1m3 0h1m5 0h1m6 0h1m25 0h1m12 0h1m3 0h1m5 0h1m8 0h1" stroke="#82c892"/>
<path d="M6 0h1m8 0h1m9 0h1m4 0h1m11 0h1m6 0h1m1 0h1m6 0h1m16 0h1m5 0h1m1 0h1M21 1h2m1 0h1m16 0h1m28 0h1m5 0h2m5 0h1m1 0h2m1 0h2m2 0h1M1 2h2m17 0h1m1 0h1m30 0h1m19 0h1m3 0h1m1 0h2m4 0h1M2 4h1m9 0h1m1 0h2m26 0h1m2 0h1m3 0h1m2 0h2m3 0h1m3 0h3m5 0h1m8 0h2m4 0h1m1 0h1m1 0h1m9 0h2M0 5h1m9 0h1m4 0h2m10 0h1m4 0h3m7 0h1m1 0h2m33 0h1m2 0h1M13 6h1m2 0h1m15 0h1m2 0h2m7 0h1m4 0h1m3 0h1m2 0h1m17 0h1m7 0h1m1 0h1m6 0h2M16 7h1m53 0h1m18 0h1M0 8h1m24 0h1m7 0h1m3 0h1m2 0h1m8 0h1m5 0h1m16 0h1m1 0h1m15 0h1m2 0h3M1 9h1m1 0h1m2 0h1m5 0h1m7 0h1m1 0h1m1 0h1m6 0h1m4 0h1m26 0h1m9 0h1m21 0h1M4 10h1m3 0h1m7 0h3m4 0h2m4 0h2m2 0h1m5 0h2m3 0h1m8 0h2m4 0h1m4 0h2m8 0h2m2 0h1m6 0h1M10 11h1m1 0h2m1 0h1m2 0h1m14 0h3m5 0h1m1 0h1m4 0h1m5 0h1m3 0h2m5 0h1m5 0h1m1 0h1m5 0h1m1 0h1m1 0h1m4 0h1m2 0h1M0 12h2m1 0h3m7 0h1m3 0h1m1 0h1m4 0h1m5 0h1m1 0h1m6 0h1m3 0h1m10 0h2m6 0h1m2 0h2m3 0h2m8 0h1m14 0h1M1 13h1m4 0h1m11 0h3m8 0h2m1 0h1m6 0h1m1 0h1m15 0h1m5 0h3m4 0h2m2 0h1m4 0h1m4 0h1m5 0h1m1 0h1M0 14h1m1 0h1m6 0h2m7 0h1m2 0h1m2 0h1m14 0h1m42 0h1m13 0h1M3 15h1m1 0h1m3 0h1m18 0h1m1 0h1m1 0h1m10 0h1m17 0h1m4 0h1m14 0h1m15 0h1M6 16h2m20 0h1m8 0h1m2 0h1m4 0h1m11 0h1m9 0h2m23 0h1m3 0h1m2 0h1M9 17h1m8 0h1m3 0h2m12 0h1m11 0h1m1 0h1m7 0h1m2 0h1m6 0h1m11 0h1m6 0h1m4 0h1M3 18h1m1 0h1m5 0h1m6 0h1m3 0h1m3 0h2m9 0h1m9 0h2m10 0h1m1 0h1m2 0h3m3 0h1m2 0h1m13 0h1m9 0h1M1 19h1m1 0h2m14 0h1m2 0h1m5 0h1m11 0h1m2 0h1m2 0h1m6 0h1m1 0h1m1 0h3m1 0h3m10 0h1m4 0h1m4 0h1m1 0h4m6 0h1m1 0h1M1 20h2m6 0h2m8 0h1m2 0h1m5 0h1m4 0h5m1 0h1m9 0h1m4 0h1m5 0h1m9 0h2m3 0h1m2 0h1m1 0h1m1 0h1m4 0h1m1 0h1m3 0h2M10 22h3m18 0h1m3 0h1m2 0h1m6 0h1m3 0h1m6 0h1m8 0h1m28 0h2m1 0h2M7 23h1m8 0h1m8 0h1m6 0h1m2 0h1m8 0h1m14 0h1m2 0h2m1 0h1m24 0h1m1 0h3m4 0h1M39 24h2m1 0h1m3 0h1M0 25h1m15 0h1m2 0h1m1 0h1m24 0h1m2 0h1m1 0h1m2 0h1m8 0h1m13 0h1m1 0h2m8 0h2m5 0h1m1 0h1M1 27h2m3 0h3m6 0h1m4 0h1m5 0h1m2 0h1m2 0h1m22 0h1m8 0h1m10 0h1m2 0h1m8 0h1m2 0h2m2 0h1m4 0h1M3 28h1m11 0h1m10 0h1m4 0h1m3 0h1m4 0h1m11 0h1m3 0h1m7 0h1m6 0h1M9 29h1m4 0h1m1 0h3m38 0h1m1 0h2m14 0h1m5 0h1m10 0h1m1 0h1M2 31h1m5 0h1m9 0h1m2 0h1m2 0h1m8 0h2m32 0h1m1 0h1m1 0h1m5 0h1m2 0h1m2 0h4m8 0h1m2 0h1M5 32h1m1 0h1m7 0h2m2 0h1m6 0h1m1 0h1m13 0h1m11 0h2m5 0h2m6 0h1m8 0h1m5 0h1m3 0h1m1 0h1m6 0h1M0 33h1m2 0h1m1 0h1m7 0h2m3 0h1m15 0h1m1 0h1m3 0h1m1 0h2m2 0h1m1 0h1m1 0h1m3 0h1m4 0h2m7 0h1m1 0h1m6 0h1m3 0h2m6 0h1m1 0h1M7 34h1m6 0h1m3 0h1m2 0h1m6 0h1m9 0h1m18 0h2m2 0h1m12 0h1m9 0h1m4 0h1m6 0h1M0 35h1m7 0h1m4 0h1m31 0h1m6 0h1m11 0h1m6 0h3m9 0h1m1 0h1m4 0h1m7 0h2M13 36h1m5 0h2m12 0h1m1 0h1m1 0h1m26 0h1m4 0h1m2 0h1m1 0h1m14 0h1M1 37h1m5 0h1m14 0h3m4 0h1m3 0h1m7 0h1m6 0h1m6 0h1m6 0h1m6 0h2m5 0h1m5 0h1m5 0h1m3 0h3M12 38h1m3 0h2m3 0h2m13 0h1m11 0h1m2 0h1m2 0h1m5 0h1m2 0h1m12 0h3m1 0h1m7 0h1m4 0h1M15 39h1m6 0h1m7 0h1m1 0h1m3 0h1m8 0h1m13 0h1m2 0h1m8 0h1m2 0h1M8 40h1m9 0h1m5 0h2m9 0h1m3 0h2m3 0h1m2 0h1m5 0h1m2 0h3m3 0h2m6 0h1m1 0h1m4 0h1m1 0h1m1 0h2m1 0h1m14 0h1M1 41h1m4 0h1m7 0h1m5 0h1m1 0h2m9 0h1m2 0h2m1 0h1m3 0h1m2 0h2m5 0h2m1 0h1m5 0h1m3 0h1m2 0h1m2 0h1m2 0h2m5 0h1m2 0h1m2 0h1m1 0h1m2 0h1m3 0h1m1 0h1M0 42h1m10 0h1m1 0h1m5 0h1m3 0h1m5 0h1m1 0h3m3 0h2m9 0h1m4 0h1m1 0h1m1 0h2m2 0h2m2 0h1m5 0h2m2 0h1m18 0h2M13 43h1m1 0h1m1 0h1m7 0h3m5 0h2m6 0h1m3 0h1m1 0h1m1 0h1m1 0h1m17 0h1m1 0h2m8 0h1m2 0h1m6 0h1m2 0h1m2 0h1M2 44h2m4 0h1m2 0h1m22 0h1m15 0h1m17 0h2m12 0h1m2 0h1m6 0h1m5 0h1M11 45h1m23 0h1m15 0h1m9 0h1m30 0h1M44 46h1m1 0h1m41 0h1m5 0h1m3 0h2M1 47h1m2 0h1m2 0h2m1 0h1m7 0h1m2 0h2m2 0h2m2 0h2m1 0h1m6 0h1m3 0h1m3 0h1m3 0h1m2 0h2m3 0h1m2 0h1m6 0h2m3 0h1m2 0h2m2 0h1m2 0h1m2 0h1m1 0h1m3 0h2M3 48h3m2 0h1m4 0h1m9 0h1m5 0h3m1 0h1m6 0h1m8 0h1m15 0h1m2 0h1m2 0h1m2 0h2m4 0h1m2 0h2m1 0h1m2 0h1m3 0h1m2 0h2M11 49h1m3 0h1m1 0h1m4 0h2m13 0h1m4 0h1m4 0h1m10 0h1m10 0h1m1 0h1m5 0h1m4 0h1m5 0h2M5 50h3m3 0h2m5 0h1m4 0h1m1 0h1m2 0h1m2 0h1m3 0h2m6 0h1m4 0h4m5 0h1m2 0h2m6 0h1m5 0h1m3 0h1m1 0h1m4 0h1m3 0h1m5 0h1M42 51h1m8 0h1m43 0h2M44 52h1M41 53h1m50 0h1M0 54h1m2 0h1M2 55h1m7 0h1m52 0h3m19 0h1M2 56h1m2 0h1m5 0h1m9 0h1m2 0h1m9 0h1m7 0h1m1 0h1m17 0h1m3 0h1m9 0h2m3 0h1m3 0h1m4 0h1m3 0h1M43 57h1m26 0h1" stroke="#94cc70"/>
<path d="M27 0h2m19 0h1m1 0h1m1 0h1m2 0h2m2 0h1m8 0h1m21 0h1M3 1h1m6 0h1m6 0h1m5 0h1m9 0h1m10 0h1m1 0h1m8 0h1m22 0h1m5 0h1m14 0h1M76 2h1M18 3h1M22 4h1m31 0h1m4 0h1m30 0h2M31 5h1m37 0h1m8 0h1m6 0h1M21 6h2m6 0h1m8 0h1m3 0h1m30 0h1m5 0h3m7 0h1m3 0h1M13 8h1m8 0h2m17 0h2m4 0h2m1 0h1m26 0h2M19 9h1m3 0h1m4 0h1m20 0h2m1 0h1m22 0h1m6 0h1m4 0h1M31 10h2m8 0h1m3 0h1m2 0h1m13 0h1m26 0h1m5 0h1m3 0h1M11 11h1m5 0h1m1 0h2m6 0h1m2 0h1m5 0h1m8 0h1m14 0h2m7 0h2m9 0h1m8 0h1m2 0h1m1 0h2m1 0h1M9 12h1m17 0h1m18 0h1m12 0h3m17 0h1m2 0h1m1 0h1m6 0h2M2 13h1m1 0h1m5 0h1m3 0h1m1 0h1m4 0h2m2 0h1m2 0h1m2 0h1m2 0h2m7 0h1m5 0h3m1 0h1m1 0h2m3 0h3m3 0h1m1 0h2m8 0h1m10 0h1m4 0h2m2 0h1M25 14h1m32 0h1M2 15h1m1 0h1m20 0h1m13 0h1m2 0h1m24 0h1M8 16h1m1 0h1m6 0h1m2 0h1m14 0h2m15 0h1m42 0h1m2 0h1M3 17h2m1 0h2m31 0h1m12 0h2M7 18h1m44 0h1m7 0h1m2 0h1m8 0h1m11 0h1m13 0h1M5 19h1m4 0h1m12 0h1m2 0h1m2 0h1m5 0h3m3 0h1m8 0h2m18 0h1m12 0h1m7 0h1M0 20h1m2 0h1m1 0h1m2 0h1m7 0h1m4 0h1m2 0h1m2 0h1m1 0h2m1 0h1m7 0h1m3 0h1m5 0h1m8 0h1m2 0h1m3 0h1m1 0h1m4 0h1M53 22h1m9 0h1m19 0h2M0 23h1m5 0h1m1 0h1m3 0h1m21 0h1m6 0h1m15 0h1m2 0h1m34 0h1M9 24h3m1 0h1M2 25h2m6 0h1m11 0h1m39 0h1m2 0h1M3 27h1m7 0h1m9 0h1m1 0h3m5 0h1m7 0h2m12 0h1m16 0h2m10 0h1m1 0h1M0 28h1m1 0h1m1 0h1m7 0h1m8 0h1m5 0h1m4 0h3m10 0h1m1 0h1m2 0h1m7 0h1m4 0h1m13 0h1m1 0h1m16 0h1M45 29h1M66 30h1M15 31h1m1 0h1m22 0h1m10 0h1m12 0h1m7 0h1m3 0h1m2 0h1m7 0h1m11 0h1M13 32h1m4 0h1m62 0h1M11 33h1m11 0h1m1 0h1m1 0h1m3 0h3m10 0h1m16 0h1m2 0h1m2 0h1m1 0h1m5 0h1m2 0h1m11 0h1m2 0h1m1 0h2m2 0h1M6 34h1m4 0h2m47 0h1m1 0h2m15 0h1M42 35h1m31 0h1m6 0h1m2 0h1M1 36h1m19 0h1m6 0h1m48 0h1m12 0h1m7 0h1M0 37h1m3 0h1m7 0h1m19 0h1m7 0h1m11 0h2m13 0h1M10 38h2m19 0h1m1 0h1m35 0h1m14 0h1m1 0h2m7 0h1M34 39h1m13 0h1m1 0h1m16 0h1m13 0h1M29 40h1m11 0h1m41 0h1m4 0h2M2 41h1m2 0h1m2 0h3m2 0h1m3 0h2m6 0h2m3 0h1m18 0h3m6 0h1m1 0h2m2 0h1m5 0h2m1 0h2m2 0h1m2 0h1m3 0h1m1 0h1m5 0h1M12 42h1m12 0h1m8 0h1m7 0h2m10 0h1m1 0h1m16 0h1m18 0h2M0 43h1m3 0h1m4 0h1m1 0h1m2 0h1m4 0h1m9 0h1m10 0h1m1 0h1m15 0h1m7 0h2m6 0h1M12 44h1m11 0h1m1 0h1m5 0h1m12 0h1m7 0h1m43 0h1M20 45h1m16 0h1M37 46h1m1 0h1m57 0h1M2 47h1m9 0h1m3 0h1m6 0h2m3 0h1m2 0h1m2 0h1m1 0h1m4 0h1m10 0h2m9 0h1m1 0h1m1 0h1m4 0h1m3 0h1m2 0h2m4 0h2m3 0h1m5 0h4M10 48h1m1 0h1m5 0h1m8 0h1m9 0h1m3 0h1m6 0h1m2 0h1m2 0h1m3 0h1m2 0h2m9 0h2m7 0h1m13 0h1M0 49h2m7 0h1m3 0h1m2 0h1m2 0h1m9 0h1m23 0h1m2 0h1m9 0h2m5 0h1m20 0h2M1 50h1m6 0h1m4 0h5m1 0h1m1 0h2m6 0h1m2 0h1m5 0h1m5 0h2m7 0h3m2 0h1m3 0h1m3 0h2m8 0h1m4 0h1m1 0h2m1 0h1m1 0h1m9 0h2M52 53h1m38 0h1M55 55h1M0 56h2m4 0h3m7 0h3m1 0h1m12 0h1m1 0h1m5 0h1m1 0h1m7 0h2m2 0h1m3 0h2m10 0h1m6 0h2m2 0h1m3 0h1m1 0h2m3 0h1m4 0h2" stroke="#a5cf4e"/>
<path d="M14 0h1M79 1h1m10 0h1M12 6h1m27 0h1m5 0h1m4 0h1m13 0h1m12 0h1M26 8h1M47 10h1m31 0h1M9 11h1m18 0h1m20 0h2m17 0h1m3 0h1m11 0h2m7 0h1M12 12h1m16 0h1m26 0h1m17 0h1m18 0h1m5 0h1M13 13h1m12 0h1m6 0h1m4 0h1m6 0h3m4 0h1m1 0h1m36 0h1m1 0h1m2 0h1M3 14h1m4 0h1M51 15h1M12 16h1m5 0h1m2 0h1m52 0h1m9 0h1M5 17h1m7 0h1M19 18h1M0 19h1m1 0h1m15 0h1m6 0h1m13 0h1m7 0h2m22 0h1m8 0h1M15 20h1m15 0h1m11 0h1m8 0h2m15 0h1m13 0h1m6 0h1M46 22h1M36 23h1m2 0h2m8 0h1M85 25h1M10 27h1m22 0h2M57 28h1m9 0h1M13 30h1M57 31h1m2 0h1m14 0h1M2 32h1M58 33h1m20 0h1M16 34h1M73 36h1M8 37h1m38 0h1m8 0h1m15 0h1m4 0h2m5 0h1M64 38h2m30 0h1M12 39h1m27 0h1m39 0h1M12 40h1m7 0h1m44 0h1m20 0h1M0 41h1m2 0h2m7 0h1m3 0h1m2 0h1m4 0h1m2 0h2m2 0h2m5 0h1m2 0h1m2 0h1m10 0h1m3 0h1m3 0h1m1 0h1m2 0h1m10 0h1m7 0h1m1 0h1m4 0h2M15 42h1m1 0h1m8 0h1m1 0h1m18 0h1m18 0h1m31 0h1M1 43h1m8 0h1m5 0h1m1 0h1m9 0h1m3 0h1m29 0h1m7 0h1m2 0h1M21 44h1m26 0h1m3 0h1m4 0h1M3 47h1m1 0h2m2 0h1m5 0h1m11 0h1m14 0h1m3 0h1m1 0h2m7 0h2m1 0h2m9 0h1m1 0h1m8 0h1m5 0h1m6 0h1M25 48h2m1 0h1m5 0h1m1 0h1m10 0h1m16 0h1m4 0h1m8 0h2m10 0h1m1 0h1m1 0h1m3 0h1M18 49h1m49 0h1M2 50h1m6 0h2m13 0h1m1 0h1m7 0h1m6 0h2m13 0h1m2 0h1m13 0h1m5 0h1m2 0h1m13 0h1M97 51h1M3 56h2m4 0h2m14 0h1m2 0h2m1 0h2m3 0h1m1 0h1m1 0h1m8 0h1m3 0h2m2 0h1m3 0h1m2 0h1m15 0h1m3 0h1m10 0h1" stroke="#bdd639"/>
<path d="M23 4h1M39 6h1m1 0h1m3 0h1m2 0h1m5 0h2M48 9h1m32 0h1M46 10h1m13 0h1m15 0h1M37 11h1m14 0h1m4 0h1M17 13h1m5 0h1m18 0h1m15 0h1m14 0h1M20 14h1m38 0h1M12 15h1m60 0h1M13 16h1m5 0h1M13 18h1M13 19h1M4 20h1m1 0h1m65 0h1m18 0h1M52 22h1M13 23h1M9 27h1m3 0h1M5 28h1m40 0h1m50 0h1M13 31h1m24 0h2m38 0h1M80 37h1M85 38h1m8 0h1M51 39h1M11 41h1m3 0h1m18 0h1m5 0h1m1 0h1m2 0h1m45 0h1m4 0h1M82 43h2M51 44h1M35 47h1M6 48h1m10 0h1m2 0h2m2 0h1m7 0h1m5 0h2m4 0h1m12 0h1m5 0h1m12 0h1m8 0h1m13 0h1M0 50h1m26 0h1m2 0h1m15 0h2M13 56h3m11 0h1m2 0h1m8 0h1m10 0h1m18 0h1m3 0h2m8 0h1m8 0h1" stroke="#d8e027"/>
<path d="M14 11h1M27 13h1m16 0h1M12 19h1M13 25h1M12 27h1M12 31h1M12 33h1M10 34h1m2 0h1M29 41h1m53 0h1M14 48h3M26 56h1m10 0h1m20 0h1m4 0h1m27 0h1" stroke="#f4eb1e"/>
<path d="M12 20h1M13 28h1" stroke="#facc19"/>
</g>
<g transform="translate(1675 733.04) scale(2.6700 6.0776)" shape-rendering="crispEdges" fill="none" stroke-width="1.03" stroke-linejoin="miter">
<path d="M0 28.5H100" stroke="#7ac8a6" stroke-width="58"/>
<path d="M43 8h1M23 51h1" stroke="#4174bd"/>
<path d="M51 9h1M10 22h1m48 0h1M40 30h1M82 40h1M3 47h1M59 50h1" stroke="#42a1e0"/>
<path d="M13 0h1M11 1h1M11 3h1m75 0h1M41 5h1M16 8h1m34 0h1m15 0h2m3 0h1m12 0h1m7 0h1M52 9h1m9 0h2m10 0h1M6 10h1m55 0h1M30 14h1m40 0h1M49 18h1m36 0h1M29 19h1m20 0h1M8 20h1M0 21h1m1 0h1m87 0h1M5 22h1m23 0h1m19 0h1m8 0h1m38 0h1m1 0h1M35 23h1m36 0h3M26 26h1m13 0h1M53 29h1M69 34h1M2 38h1m72 0h1m1 0h1M76 40h1M11 41h1M74 42h1m9 0h1m4 0h1M91 44h1m4 0h1M22 51h1m2 0h1m7 0h3m13 0h1M86 52h1M35 54h1m5 0h1M27 55h1" stroke="#3dbfef"/>
<path d="M51 1h1m6 0h1m4 0h1M4 2h1m6 0h1M0 3h1m4 0h1M11 4h1m19 0h1m53 0h1m1 0h1M1 5h2m24 0h1m11 0h1m2 0h1m42 0h1M27 6h4m2 0h1m3 0h1m1 0h2M3 7h2m4 0h1m69 0h1m14 0h1m3 0h1M12 8h1m4 0h2m11 0h1m3 0h1m2 0h1m4 0h1m7 0h1m5 0h1m12 0h1m1 0h1m2 0h1m13 0h1M48 9h1m5 0h1m12 0h1m7 0h1m3 0h1m2 0h1m9 0h4M73 10h1m2 0h1M19 12h1M8 14h2m22 0h1m11 0h1m1 0h1m22 0h1m5 0h1m7 0h1m1 0h1M90 15h2M23 16h1m13 0h1m1 0h4m50 0h1M49 17h1M29 18h1m15 0h2m7 0h1m32 0h1M5 19h1m12 0h1m7 0h2m39 0h1m5 0h1m1 0h1m12 0h1M98 20h1M4 21h1m20 0h1m57 0h1m14 0h1M6 22h1m1 0h1m11 0h1m1 0h1m1 0h2m4 0h1m15 0h1m1 0h1m2 0h1m8 0h1m3 0h2m1 0h1m2 0h2m3 0h1m2 0h1m12 0h1m6 0h1M53 23h1m23 0h1m5 0h2M45 24h1m5 0h1m5 0h2m22 0h2m7 0h1M11 25h1m30 0h1M3 26h1m5 0h2m18 0h1m9 0h1m1 0h1m30 0h1m19 0h1M9 27h1m21 0h1M43 28h1m13 0h1m17 0h1M81 29h1M19 30h3m4 0h1m4 0h1m4 0h1m4 0h1m7 0h1m5 0h1m8 0h1m33 0h1M9 31h1m1 0h1M7 32h1M5 33h1m93 0h1M5 34h1m2 0h2M66 35h1m9 0h1m4 0h2m7 0h1m3 0h2M2 36h1m21 0h1m5 0h1m4 0h1M92 38h1m4 0h1M2 39h1m2 0h2m28 0h1m24 0h2M51 40h1m3 0h1m9 0h1m14 0h1m3 0h1M15 41h1m76 0h1m6 0h1M1 42h1m63 0h1m30 0h1M65 43h1m1 0h1M1 44h1m88 0h1M68 45h1m17 0h1m5 0h1M25 46h1m1 0h1m5 0h1m61 0h1M4 47h1m13 0h1m5 0h1M52 48h1m11 0h2m21 0h1m6 0h1M15 49h1m4 0h1m6 0h2m11 0h1M6 50h1m53 0h1m27 0h1m3 0h1m3 0h1M15 51h1m2 0h1m2 0h1m2 0h1m2 0h1m2 0h1m5 0h3m4 0h1m12 0h1m2 0h1m14 0h1m12 0h1M23 52h1m1 0h2m13 0h1M7 54h1m2 0h1m4 0h1m5 0h1m4 0h1m11 0h1m3 0h1m42 0h2M19 55h1m9 0h3m14 0h1m2 0h1m1 0h1m4 0h1m3 0h1m5 0h1m2 0h1M52 56h1m15 0h1m27 0h1" stroke="#54c4e1"/>
<path d="M7 0h1M35 1h1m11 0h1m14 0h1m1 0h1m4 0h1M0 2h1m4 0h1M9 3h1m2 0h2m15 0h1m5 0h1m3 0h1m23 0h1m6 0h1m11 0h3m1 0h1m1 0h1m3 0h2m1 0h1M67 4h1m4 0h1m13 0h1m5 0h1m2 0h4M6 5h1m3 0h1m2 0h1m7 0h3m2 0h1m3 0h1m3 0h1m29 0h1m6 0h1m2 0h1m9 0h1m5 0h1m1 0h2m2 0h1m1 0h1M9 6h1m9 0h2m1 0h3m1 0h1m9 0h1m1 0h1m3 0h2m19 0h1m3 0h1m26 0h1M0 7h1m4 0h2m3 0h2m8 0h1m40 0h1m12 0h1m2 0h2m2 0h1m3 0h1m1 0h4m4 0h1m1 0h1M11 8h1m8 0h2m2 0h1m16 0h1m13 0h1m7 0h1m6 0h1m12 0h2m4 0h1m2 0h1m1 0h1M0 9h1m26 0h1m2 0h1m1 0h1m11 0h1m4 0h1m3 0h1m6 0h1m4 0h1m5 0h1m6 0h1m4 0h1m6 0h1m5 0h2M31 10h1m18 0h5m17 0h1m1 0h1m4 0h1m8 0h1m6 0h1M43 11h1m12 0h1m38 0h1M0 12h1m3 0h2M34 14h1m1 0h1m4 0h1m3 0h1m2 0h1m4 0h1m16 0h1m2 0h1m20 0h1m2 0h3M2 15h1m26 0h1m46 0h1M0 16h1m5 0h1m11 0h1m2 0h2m3 0h1m4 0h1m3 0h1m2 0h1m18 0h1m22 0h1m2 0h1m1 0h1m4 0h3M8 17h2m1 0h2m67 0h1m7 0h1m4 0h1m2 0h1M2 18h1m1 0h1m4 0h1m16 0h2m2 0h1m1 0h1m7 0h1m6 0h2m1 0h1m7 0h2m12 0h1m4 0h4m4 0h1m4 0h1m8 0h1M1 19h1m17 0h1m5 0h1m2 0h1m1 0h3m4 0h1m2 0h1m12 0h1m16 0h2m10 0h3m6 0h1M33 20h2m1 0h1m8 0h2m7 0h1m13 0h1m3 0h1m3 0h1m12 0h1m3 0h2M1 21h1m14 0h1m26 0h2m3 0h1m42 0h1m4 0h1M4 22h1m4 0h1m1 0h1m15 0h2m2 0h1m6 0h3m2 0h3m6 0h3m6 0h2m5 0h2m11 0h1m7 0h2m5 0h1M1 23h1m6 0h1m2 0h1m21 0h2m9 0h1m1 0h1m3 0h1m3 0h1m1 0h2m3 0h1m4 0h3m2 0h1m3 0h2m2 0h1m2 0h1m3 0h1m4 0h2m3 0h2M3 24h1m3 0h1m41 0h1m2 0h1m30 0h1m3 0h1m1 0h1M0 25h1m23 0h1m10 0h1m4 0h1m9 0h1m19 0h1m6 0h1m12 0h1m4 0h3M2 26h1m1 0h1m11 0h1m1 0h2m2 0h1m9 0h1m1 0h1m29 0h1m4 0h1M3 27h1m32 0h2m1 0h1m9 0h1m1 0h1m3 0h1m42 0h1M21 28h1m1 0h1m12 0h1m7 0h3m2 0h1m21 0h1m27 0h1M51 29h2m3 0h1m5 0h1M0 30h1m17 0h1m8 0h1m2 0h1m1 0h1m2 0h1m2 0h2m2 0h1m10 0h2m41 0h1M5 31h2m1 0h1m1 0h1m10 0h1m10 0h1m14 0h1m1 0h1m2 0h3m4 0h1m4 0h1m15 0h2m1 0h3m1 0h1m3 0h1M71 32h1m5 0h3M0 33h1m1 0h1m27 0h1m31 0h1m8 0h1m9 0h1m2 0h3M1 34h1m8 0h1m80 0h1M1 35h2m1 0h1m2 0h1m1 0h2m3 0h1m10 0h1m14 0h2m5 0h2m6 0h2m1 0h1m1 0h1m8 0h2m3 0h2m1 0h1m6 0h2m1 0h2m10 0h1M1 36h1m1 0h2m20 0h2m4 0h1m4 0h1m2 0h2m13 0h1m24 0h2m16 0h1M7 37h2m63 0h1m1 0h1M10 38h1m21 0h1m2 0h1m1 0h2m1 0h1m6 0h1m5 0h1m6 0h1m15 0h1m1 0h2m8 0h1m1 0h1m2 0h1M0 39h1m33 0h1m27 0h1m6 0h1m14 0h1m6 0h1m6 0h1M50 40h1m1 0h1m5 0h1m8 0h1m4 0h1m1 0h2m2 0h2m1 0h1m1 0h1m4 0h1m3 0h1M14 41h1m2 0h1m2 0h1m6 0h3m4 0h2m51 0h1m1 0h1m1 0h1m5 0h1M35 42h1m31 0h1m8 0h2m7 0h1m2 0h1m6 0h1M9 43h1m52 0h1m30 0h1m5 0h1M0 44h1m2 0h1m21 0h1m6 0h1m1 0h1m5 0h1m1 0h1m42 0h1m6 0h1m5 0h1M12 45h1m56 0h1m15 0h1m3 0h1M31 46h1m3 0h1m2 0h2M5 47h1m11 0h1m5 0h1m18 0h1M0 48h1m41 0h1m5 0h1m8 0h1m2 0h1m6 0h1m10 0h1m1 0h1m18 0h1M21 49h1m4 0h1m6 0h1m1 0h1m3 0h1m13 0h2m18 0h1m10 0h1m3 0h1m5 0h1m3 0h1M7 50h2m1 0h1m1 0h1m7 0h1m8 0h1m15 0h2m30 0h1m13 0h1m2 0h1M4 51h1m8 0h1m2 0h2m21 0h4m7 0h1m9 0h1m11 0h2m3 0h1m10 0h1m1 0h1M4 52h1m15 0h2m7 0h1m2 0h2m4 0h1m2 0h1M46 53h1m37 0h1M3 54h1m1 0h1m10 0h1m1 0h3m6 0h1m4 0h3m1 0h2m1 0h1m5 0h1m20 0h1M24 55h2m2 0h1m11 0h1m2 0h1m8 0h1m4 0h1m3 0h1m1 0h1m6 0h2m22 0h1M27 56h1m2 0h1m16 0h1m7 0h1m13 0h1m4 0h1m5 0h1M9 57h2m85 0h1" stroke="#64c7ce"/>
<path d="M2 0h1m1 0h1m5 0h1m1 0h1m15 0h1m53 0h1m1 0h4M33 1h2m5 0h1m7 0h1m1 0h1m1 0h1m4 0h1m2 0h2m3 0h2m3 0h2m4 0h1m2 0h1m19 0h1M1 2h2m3 0h1m1 0h2m12 0h1m10 0h1m3 0h1m19 0h1m15 0h3m3 0h1m5 0h1m10 0h1M2 3h1m4 0h2m1 0h1m11 0h2m13 0h1m16 0h1m2 0h1m1 0h1m1 0h2m4 0h1m12 0h1m8 0h3m2 0h1m1 0h1m1 0h2M1 4h1m1 0h1m1 0h1m3 0h1m2 0h2m8 0h2m6 0h1m29 0h1m8 0h2m7 0h2m3 0h2m6 0h1m2 0h1M0 5h1m2 0h1m3 0h1m23 0h3m1 0h3m2 0h1m22 0h1m1 0h1m9 0h1m2 0h1m12 0h1m3 0h1m3 0h1M0 6h3m2 0h1m12 0h1m2 0h1m3 0h1m5 0h1m2 0h2m5 0h1m14 0h1m7 0h3m2 0h2m1 0h1M2 7h1m4 0h1m4 0h1m9 0h1m24 0h1m3 0h1m3 0h2m7 0h1m7 0h2m1 0h2m3 0h1m1 0h3m1 0h1m5 0h2M1 8h1m5 0h4m4 0h1m6 0h1m6 0h1m1 0h1m4 0h1m1 0h3m3 0h1m7 0h2m21 0h1m3 0h1m2 0h1m3 0h1m4 0h1M1 9h1m24 0h1m4 0h1m11 0h1m6 0h1m7 0h2m4 0h1m1 0h1m3 0h1m2 0h1m3 0h1m2 0h1m3 0h3m1 0h1M1 10h1m1 0h1m3 0h1m16 0h2m4 0h1m2 0h1m2 0h1m2 0h1m5 0h2m1 0h2m7 0h1m1 0h1m1 0h1m2 0h1m10 0h1m1 0h1m2 0h1m2 0h1m6 0h1m1 0h1m6 0h1M0 11h2m2 0h1m40 0h1m11 0h1m9 0h1m16 0h1m9 0h1M7 12h1m3 0h2m10 0h3m2 0h1m3 0h1m18 0h1M4 13h1m1 0h1m1 0h1m1 0h1M1 14h1m1 0h1m3 0h1m21 0h1m3 0h1m6 0h1m11 0h1m1 0h1m3 0h1m2 0h1m2 0h1m1 0h1m7 0h1m4 0h1M8 15h4m18 0h1m10 0h1m8 0h1m13 0h1m3 0h1m9 0h1m10 0h1M4 16h2m2 0h3m1 0h1m6 0h2m3 0h1m9 0h1m14 0h1m23 0h1m2 0h1m9 0h2m1 0h1m5 0h1M1 17h4m5 0h1m14 0h1m24 0h1m8 0h1m1 0h2m2 0h2m20 0h1m2 0h1m1 0h1M3 18h1m4 0h1m2 0h1m6 0h1m9 0h1m4 0h3m3 0h1m11 0h2m3 0h2m8 0h1m8 0h2m4 0h2m1 0h1m7 0h1m2 0h1m2 0h1M0 19h1m1 0h2m19 0h1m9 0h1m2 0h1m1 0h1m12 0h1m5 0h2m3 0h4m6 0h1m1 0h1m3 0h4m4 0h2m4 0h1m1 0h1M9 20h1m8 0h1m10 0h1m7 0h1m6 0h1m2 0h1m1 0h1m17 0h1m5 0h1m22 0h1M3 21h1m1 0h2m1 0h1m2 0h2m13 0h1m7 0h1m3 0h1m1 0h1m4 0h1m1 0h1m1 0h1m10 0h1m31 0h1m2 0h1M3 22h1m10 0h1m1 0h1m4 0h1m4 0h1m10 0h1m9 0h1m15 0h1m2 0h1m9 0h2m2 0h1m7 0h1m3 0h1M4 23h1m2 0h1m1 0h2m13 0h1m3 0h1m3 0h1m3 0h1m3 0h3m4 0h2m2 0h2m10 0h1m6 0h1m7 0h1m1 0h1m6 0h4m2 0h1m1 0h1m3 0h1M0 24h1m1 0h1m1 0h1m41 0h1m1 0h1m1 0h1m2 0h1m1 0h1m5 0h1m1 0h1m1 0h1m9 0h1m4 0h1m7 0h1m2 0h2M5 25h1m3 0h1m13 0h1m9 0h1m2 0h2m1 0h1m1 0h1m9 0h1m9 0h1m16 0h1m9 0h1m10 0h1M0 26h1m10 0h1m2 0h2m5 0h1m2 0h2m1 0h1m3 0h1m1 0h1m1 0h1m1 0h1m4 0h1m27 0h1m2 0h1m8 0h1m7 0h2M4 27h1m2 0h1m25 0h1m4 0h1m11 0h1m1 0h2m3 0h2m21 0h3m1 0h2m7 0h2M7 28h1m3 0h1m14 0h2m5 0h3m2 0h1m3 0h1m4 0h2m1 0h1m1 0h1m5 0h1m4 0h1m1 0h1m3 0h2m20 0h2m3 0h2M29 29h1m19 0h1m4 0h2m4 0h2m1 0h1m5 0h1m6 0h1m3 0h1m10 0h1m6 0h1M1 30h1m3 0h2m8 0h3m5 0h3m2 0h1m5 0h1m13 0h1m7 0h1m2 0h1m3 0h1m2 0h2m4 0h3m1 0h1m7 0h1m2 0h1m11 0h1M0 31h1m3 0h1m2 0h1m5 0h1m6 0h1m3 0h5m1 0h1m3 0h2m7 0h1m4 0h1m14 0h1m3 0h3m2 0h1m4 0h3m6 0h1m5 0h1m4 0h1m1 0h1M6 32h1m14 0h1m31 0h1m18 0h1m1 0h3m3 0h2m5 0h4m2 0h2M1 33h1m1 0h1m2 0h1m1 0h1m6 0h1m15 0h2m1 0h1m2 0h1m19 0h2m4 0h2m13 0h1m13 0h1m3 0h3M0 34h1m1 0h3m21 0h2m4 0h1m16 0h1m10 0h1m2 0h1m6 0h3m2 0h2m1 0h2m1 0h1m7 0h2m1 0h1m2 0h1m1 0h1M3 35h1m1 0h1m2 0h1m2 0h1m11 0h1m2 0h1m4 0h2m1 0h1m10 0h2m2 0h1m7 0h1m7 0h1m2 0h1m2 0h2m5 0h1m4 0h1m2 0h1m5 0h1M5 36h1m1 0h1m2 0h1m8 0h1m13 0h1m9 0h1m8 0h2m6 0h1m3 0h1m1 0h1m4 0h2m8 0h2m4 0h2m5 0h1m1 0h1m2 0h1M2 37h1m6 0h2m22 0h1m13 0h1m10 0h1m16 0h1m6 0h1m13 0h2M3 38h1m5 0h1m12 0h1m10 0h2m4 0h1m2 0h2m2 0h1m14 0h1m8 0h1m9 0h2m12 0h1m3 0h1M1 39h1m1 0h1m15 0h1m2 0h2m12 0h1m8 0h1m4 0h1m6 0h3m11 0h1m2 0h1m2 0h1m14 0h2m5 0h1M2 40h1m39 0h1m4 0h1m1 0h1m3 0h1m3 0h1m1 0h6m1 0h1m1 0h1m4 0h1m3 0h1m7 0h3m1 0h2m4 0h1m1 0h2M3 41h1m3 0h3m6 0h1m1 0h2m2 0h1m3 0h1m9 0h2m1 0h3m10 0h1m3 0h1m1 0h1m11 0h1m5 0h2m1 0h1m3 0h2m1 0h1m1 0h1m1 0h1m2 0h2m3 0h1M5 42h1m4 0h1m5 0h1m8 0h1m18 0h1m10 0h1m8 0h1m5 0h1m2 0h1m1 0h1m6 0h2m10 0h1m3 0h1M0 43h1m3 0h1m13 0h1m24 0h1m9 0h1m1 0h1m12 0h1m4 0h1m2 0h1m3 0h1m2 0h1m7 0h1m2 0h1M2 44h1m2 0h1m4 0h1m1 0h2m7 0h1m2 0h1m10 0h2m4 0h1m5 0h1m32 0h1m3 0h1m1 0h1m1 0h2m4 0h1M8 45h1m11 0h2m11 0h2m6 0h1m23 0h1m21 0h1m2 0h1m5 0h1m1 0h2M5 46h1m3 0h1m13 0h2m1 0h1m1 0h2m2 0h1m1 0h1m6 0h1m1 0h1m8 0h1m23 0h1m2 0h1m6 0h2M2 47h1m4 0h1m17 0h2m1 0h1m3 0h1m10 0h1M2 48h1m4 0h1m35 0h1m2 0h2m1 0h1m1 0h1m1 0h1m4 0h1m4 0h1m2 0h1m1 0h2m4 0h1m1 0h2m1 0h1m1 0h1m9 0h1m4 0h1m1 0h1M7 49h1m1 0h1m7 0h1m5 0h1m1 0h1m8 0h1m2 0h1m3 0h2m8 0h1m5 0h2m9 0h1m26 0h3M1 50h1m3 0h1m3 0h1m8 0h1m5 0h1m19 0h1m3 0h1m2 0h2m9 0h1m15 0h1m3 0h1m3 0h1m3 0h1m2 0h1m1 0h1m1 0h1m1 0h1M2 51h2m3 0h2m2 0h2m1 0h1m5 0h1m5 0h1m1 0h1m3 0h1m13 0h1m4 0h2m2 0h1m5 0h2m3 0h1m8 0h2m3 0h1m1 0h2m5 0h1m3 0h3M6 52h1m10 0h2m3 0h1m1 0h1m2 0h2m1 0h1m3 0h1m2 0h1m61 0h1M1 53h1m6 0h1m16 0h1m5 0h2m3 0h2m3 0h2m1 0h1m2 0h1m14 0h3m2 0h1m22 0h1m1 0h2m5 0h1M4 54h1m6 0h1m1 0h2m8 0h1m4 0h4m8 0h1m8 0h1m2 0h1m1 0h1m2 0h1m1 0h1m5 0h1m1 0h1m9 0h1m1 0h2m10 0h1M17 55h2m2 0h3m8 0h1m2 0h1m2 0h1m3 0h1m5 0h1m10 0h1m5 0h1m2 0h1m3 0h1m11 0h1m1 0h1m1 0h1m9 0h1M13 56h1m8 0h1m6 0h1m13 0h1m1 0h1m11 0h1m1 0h1m1 0h1m11 0h1m1 0h2m6 0h1m7 0h1m3 0h1m1 0h1M11 57h1m67 0h1m15 0h1" stroke="#72c9bb"/>
<path d="M3 0h1m5 0h1m1 0h1m17 0h3m1 0h1m1 0h1m1 0h3m1 0h1m23 0h1m12 0h1m9 0h1m1 0h2m3 0h1m1 0h1M0 1h1m2 0h2m1 0h1m1 0h2m10 0h1m4 0h1m1 0h1m1 0h1m1 0h2m5 0h1m2 0h1m1 0h2m22 0h1m5 0h1m3 0h2m4 0h1m3 0h1m3 0h2m4 0h1M3 2h1m3 0h1m9 0h2m4 0h2m1 0h1m4 0h2m7 0h2m1 0h1m1 0h1m1 0h3m2 0h2m7 0h1m1 0h1m1 0h1m3 0h1m7 0h1m2 0h3m1 0h1m2 0h3m5 0h1m3 0h1M3 3h1m2 0h1m9 0h2m8 0h1m1 0h1m4 0h1m30 0h1m1 0h1m1 0h1m3 0h1m1 0h4m1 0h1m1 0h1m3 0h1M2 4h1m11 0h1m5 0h2m6 0h1m5 0h1m1 0h1m17 0h1m1 0h1m7 0h2m2 0h1m5 0h2m5 0h1m7 0h2M4 5h2m8 0h1m5 0h1m3 0h1m21 0h1m2 0h1m18 0h1m1 0h1m1 0h1m3 0h2m2 0h1m1 0h1m3 0h1M13 6h1m2 0h1m41 0h1m1 0h1m12 0h1m2 0h1m1 0h2m2 0h3m4 0h2m7 0h2M1 7h1m16 0h1m6 0h1m10 0h1m1 0h1m2 0h1m8 0h1m7 0h1m1 0h1m1 0h1m4 0h1M0 8h1m1 0h1m3 0h1m6 0h1m5 0h1m8 0h1m4 0h1m14 0h1m9 0h1m1 0h1m1 0h1m32 0h1M4 9h3m2 0h1m24 0h1m1 0h4m1 0h1m4 0h1m8 0h3m3 0h1m10 0h1m25 0h1M0 10h1m9 0h1m1 0h1m10 0h1m5 0h1m2 0h1m7 0h1m2 0h2m15 0h1m4 0h2m3 0h1m10 0h1m5 0h1m5 0h1m2 0h1M3 11h1m1 0h4m21 0h1m10 0h2m1 0h1m2 0h3m4 0h1m3 0h2m2 0h2m1 0h1m7 0h1m3 0h2m6 0h3m2 0h1m2 0h1M21 12h2m3 0h1m4 0h1m1 0h1m5 0h1m1 0h1m4 0h1m3 0h1m1 0h1m10 0h1m28 0h1m1 0h1M1 13h2m2 0h1m24 0h2m1 0h1m4 0h2m1 0h2m2 0h3m4 0h2m6 0h1m10 0h1m3 0h2m3 0h2m1 0h1m10 0h1m3 0h2M0 14h1m10 0h1m9 0h1m2 0h1m10 0h1m3 0h1m3 0h1m11 0h1m6 0h2m1 0h1m1 0h1m4 0h1m3 0h1m1 0h1m3 0h1m1 0h1m3 0h1m6 0h2M0 15h1m11 0h1m3 0h1m1 0h1m3 0h2m4 0h1m2 0h2m2 0h3m11 0h1m1 0h1m3 0h1m1 0h1m1 0h1m1 0h3m3 0h1m7 0h1m12 0h1m3 0h4M7 16h1m3 0h1m4 0h1m11 0h1m1 0h1m1 0h1m13 0h2m2 0h1m3 0h1m4 0h1m2 0h3m1 0h4m1 0h2m1 0h1m2 0h1m1 0h1m1 0h2m5 0h1M6 17h1m20 0h1m3 0h1m3 0h2m1 0h1m6 0h1m1 0h1m3 0h2m10 0h1m6 0h1m1 0h1m2 0h1m3 0h1m2 0h1m2 0h2m8 0h1M1 18h1m4 0h2m11 0h1m16 0h1m4 0h2m17 0h1m1 0h1m7 0h1m18 0h1m4 0h1m2 0h1M8 19h1m2 0h2m3 0h2m2 0h2m2 0h1m17 0h1m11 0h1m4 0h2m7 0h2m7 0h1m20 0h2M1 20h1m1 0h1m6 0h2m4 0h2m6 0h1m16 0h1m6 0h1m1 0h1m1 0h1m3 0h1m2 0h1m4 0h2m4 0h2m3 0h1m1 0h1m1 0h2m4 0h1m1 0h1m4 0h1M7 21h1m1 0h1m5 0h1m4 0h1m3 0h1m2 0h2m10 0h1m1 0h2m8 0h1m6 0h1m9 0h1m2 0h1m5 0h2m2 0h2m1 0h1m3 0h1m4 0h2m4 0h1M1 22h1m13 0h1m17 0h1m1 0h1m14 0h1m5 0h1m16 0h2m8 0h1m1 0h3m5 0h1M12 23h1m6 0h2m2 0h1m1 0h1m1 0h1m10 0h2m29 0h1M5 24h1m4 0h1m1 0h1m5 0h1m5 0h1m4 0h1m6 0h1m3 0h1m23 0h1m9 0h1m1 0h1m8 0h1m9 0h1m1 0h1M1 25h3m4 0h1m7 0h1m2 0h1m7 0h2m23 0h1m9 0h2m7 0h1m2 0h1m5 0h1m3 0h3m5 0h1M12 26h1m4 0h1m10 0h1m7 0h1m23 0h1m4 0h2m10 0h2m6 0h2m1 0h1m6 0h1m3 0h1M6 27h1m12 0h2m2 0h2m4 0h1m15 0h1m1 0h1m6 0h1m1 0h1m8 0h1m2 0h2m7 0h1m5 0h1m4 0h1M1 28h1m1 0h1m1 0h2m3 0h1m5 0h1m1 0h1m3 0h1m1 0h1m4 0h1m21 0h1m1 0h3m6 0h1m1 0h1m8 0h2m2 0h3m3 0h1m1 0h1m7 0h1m4 0h1M7 29h1m1 0h1m10 0h1m9 0h1m1 0h1m6 0h2m6 0h1m11 0h1m6 0h3m4 0h2m8 0h3m2 0h1m1 0h1m1 0h4m1 0h1M2 30h2m4 0h1m1 0h1m1 0h1m1 0h1m32 0h1m2 0h1m30 0h1m1 0h1m1 0h1m3 0h1m1 0h1m1 0h1m1 0h1M12 31h1m5 0h1m4 0h1m7 0h1m6 0h3m1 0h1m3 0h1m14 0h1m4 0h1m4 0h1m23 0h1M1 32h1m6 0h1m11 0h1m8 0h4m1 0h1m1 0h1m4 0h1m1 0h1m8 0h1m1 0h1m9 0h1m1 0h2m15 0h1m1 0h1m10 0h2m1 0h1M14 33h1m1 0h1m2 0h2m5 0h2m16 0h1m10 0h1m3 0h1m5 0h1m6 0h1m1 0h1m2 0h1m16 0h1M18 34h3m2 0h1m1 0h1m4 0h1m3 0h2m1 0h4m5 0h2m7 0h1m2 0h2m5 0h1m2 0h1m4 0h2m5 0h1m1 0h3m14 0h1M6 35h1m5 0h2m6 0h2m5 0h2m1 0h1m4 0h1m1 0h1m14 0h1m6 0h1m3 0h2m8 0h1m6 0h1M6 36h1m1 0h2m7 0h1m3 0h1m5 0h1m1 0h1m4 0h1m7 0h1m19 0h1m6 0h1m5 0h1m2 0h1m4 0h1m1 0h1m6 0h1M0 37h2m1 0h1m14 0h1m2 0h1m1 0h1m2 0h4m7 0h3m1 0h1m2 0h1m3 0h3m2 0h1m11 0h1m2 0h1m2 0h1m5 0h1m2 0h1m2 0h3m4 0h1m3 0h1M11 38h1m5 0h1m6 0h2m15 0h1m8 0h1m1 0h1m1 0h3m7 0h1m7 0h3m7 0h3m14 0h1M4 39h1m10 0h4m5 0h1m2 0h1m3 0h2m4 0h1m9 0h1m1 0h1m1 0h1m2 0h2m7 0h1m1 0h1m2 0h1m4 0h1m4 0h1m1 0h1m1 0h2m5 0h2m4 0h1m1 0h1M3 40h2m4 0h1m10 0h1m8 0h2m1 0h1m2 0h1m2 0h1m1 0h2m4 0h1m1 0h1m21 0h1m25 0h1M1 41h1m2 0h2m7 0h1m16 0h1m1 0h1m9 0h1m6 0h1m4 0h1m4 0h1m8 0h1m9 0h1m1 0h1M3 42h2m2 0h1m11 0h1m4 0h1m2 0h1m4 0h1m4 0h1m2 0h2m8 0h1m3 0h1m7 0h1m3 0h1m2 0h1m2 0h1m5 0h2m1 0h1m4 0h1m6 0h1M17 43h1m3 0h1m1 0h1m4 0h1m5 0h4m3 0h1m2 0h1m2 0h1m1 0h1m1 0h2m3 0h1m1 0h4m7 0h1m1 0h1m17 0h1m5 0h1M4 44h1m4 0h1m9 0h2m1 0h1m31 0h1m13 0h1m8 0h1m4 0h1M2 45h1m2 0h2m2 0h1m1 0h1m1 0h1m2 0h1m5 0h1m4 0h2m10 0h2m3 0h1m1 0h1m2 0h1m8 0h1m1 0h1m6 0h1m7 0h1m8 0h1m8 0h1M0 46h1m1 0h2m2 0h3m9 0h3m1 0h1m13 0h2m2 0h1m5 0h1m3 0h2m6 0h1m5 0h1m2 0h1m1 0h1m1 0h1m5 0h1m4 0h3m3 0h1m1 0h1m3 0h1m1 0h1M6 47h1m1 0h1m6 0h2m2 0h2m14 0h1m5 0h1m7 0h1m2 0h1m6 0h2m8 0h1m3 0h2m19 0h3M4 48h1m3 0h1m9 0h3m3 0h1m9 0h3m1 0h1m1 0h1m29 0h2m1 0h1m8 0h1m1 0h2m3 0h1m2 0h2m3 0h1M4 49h1m1 0h1m1 0h1m5 0h1m4 0h1m9 0h1m13 0h1m11 0h1m4 0h1m2 0h1m7 0h1m3 0h1m4 0h1m2 0h1m2 0h1m4 0h2m6 0h1M4 50h1m10 0h1m17 0h1m6 0h1m6 0h1m7 0h1m1 0h1m8 0h1m2 0h1m15 0h1M1 51h1m8 0h1m18 0h1m23 0h1m9 0h1m4 0h1m15 0h1m6 0h1m5 0h2M3 52h1m1 0h1m5 0h1m3 0h1m3 0h1m15 0h1m29 0h3m7 0h2m3 0h1m2 0h1m3 0h1m1 0h3m3 0h1m1 0h1M3 53h1m3 0h1m3 0h2m4 0h1m20 0h2m3 0h1m7 0h3m2 0h2m1 0h2m5 0h1m4 0h1m1 0h1m5 0h1m3 0h1m13 0h1M8 54h2m2 0h1m11 0h1m21 0h1m1 0h1m6 0h1m2 0h1m12 0h1m1 0h1m2 0h1m4 0h1m1 0h1m3 0h3m5 0h1m1 0h1M0 55h1m3 0h1m2 0h1m1 0h1m31 0h1m5 0h1m7 0h1m20 0h1m3 0h1m4 0h1m10 0h1M15 56h1m1 0h2m9 0h1m2 0h1m6 0h2m2 0h1m5 0h1m15 0h1m2 0h1m2 0h1m18 0h1m4 0h1M0 57h1m1 0h4m1 0h2m15 0h3m2 0h1m3 0h2m2 0h2m10 0h1m10 0h1m20 0h2m4 0h1m3 0h3" stroke="#82c892"/>
<path d="M6 0h1m14 0h1m3 0h3m4 0h1m7 0h1m10 0h1m1 0h1m1 0h1m7 0h1m12 0h2m1 0h1m14 0h1M12 1h1m8 0h1m1 0h2m20 0h2m27 0h1m9 0h1m1 0h1m1 0h1m1 0h1m2 0h1m1 0h2M12 2h1m3 0h1m3 0h2m5 0h2m5 0h1m9 0h1m1 0h1m8 0h1m6 0h1m1 0h1m1 0h1m1 0h1m1 0h1M14 3h1m9 0h1m15 0h1m4 0h1m1 0h2m1 0h1m7 0h1M7 4h1m9 0h2m5 0h2m3 0h1m5 0h1m1 0h1m9 0h3m3 0h1m1 0h1m1 0h3m1 0h1m9 0h1m1 0h1M17 5h1m1 0h1m27 0h1m4 0h3m4 0h1m2 0h1m3 0h1m14 0h1m1 0h1m4 0h1M4 6h1m44 0h2m4 0h1m3 0h1m1 0h2m11 0h1m12 0h2m7 0h2M23 7h1m2 0h1m1 0h2m3 0h1m1 0h1m4 0h1m16 0h1M3 8h1m10 0h1m8 0h1m33 0h1m1 0h1m1 0h1m2 0h1m32 0h1M17 9h2m5 0h2m14 0h1m1 0h1M4 10h1m16 0h1m19 0h2m4 0h1m8 0h1m1 0h1m25 0h2m11 0h1M27 11h1m3 0h1m3 0h1m1 0h1m13 0h1m1 0h1m6 0h1m3 0h1m4 0h1m1 0h1m3 0h1m3 0h1m3 0h1m5 0h1M13 12h1m2 0h1m18 0h3m4 0h1m11 0h1m14 0h1m3 0h1m5 0h2m9 0h1m2 0h1m1 0h2M3 13h1m8 0h1m9 0h1m3 0h1m1 0h1m6 0h1m4 0h1m3 0h1m4 0h2m7 0h2m2 0h3m3 0h1m1 0h1m6 0h3m2 0h1m1 0h3m1 0h1m1 0h1m2 0h1m3 0h1M15 14h1m1 0h4m4 0h2m11 0h1m8 0h1m9 0h1m1 0h1m8 0h1m11 0h1m8 0h1M3 15h2m1 0h1m12 0h2m3 0h1m8 0h1m5 0h1m3 0h1m2 0h1m11 0h1m6 0h2m4 0h1m2 0h1m8 0h3m1 0h1m8 0h1m2 0h1M13 16h2m10 0h1m22 0h1m4 0h1m16 0h1m7 0h1M7 17h1m5 0h1m4 0h6m4 0h1m1 0h1m6 0h1m3 0h1m12 0h2m1 0h2m12 0h1m1 0h2m3 0h1m15 0h1M20 18h2m1 0h2m12 0h2m32 0h1m21 0h1M9 19h2m2 0h1m1 0h1m27 0h2m1 0h1m1 0h1m6 0h1m5 0h1m31 0h1m3 0h1M23 20h1m4 0h1m3 0h1m6 0h1m2 0h1m8 0h1m5 0h1m23 0h2m3 0h1m4 0h1m3 0h1M17 21h1m1 0h1m9 0h2m25 0h2m6 0h1m1 0h2m2 0h1m1 0h1m2 0h2m8 0h1M12 22h1m4 0h3m12 0h1m3 0h1m4 0h1m42 0h1m9 0h2M17 23h2m2 0h1m59 0h1m3 0h1m8 0h1M19 24h2m1 0h1m2 0h3m2 0h1m2 0h2m2 0h2m29 0h1m29 0h2M4 25h1m1 0h1m14 0h2m26 0h1m4 0h1m2 0h1m9 0h1m8 0h1m2 0h1m13 0h1M7 26h1m5 0h1m6 0h1m34 0h1m5 0h2m24 0h1M8 27h1m1 0h1m7 0h1m6 0h3m2 0h1m3 0h2m8 0h1m15 0h1m1 0h1m1 0h1m5 0h1m24 0h2M2 28h1m1 0h1m3 0h1m6 0h1m14 0h2m7 0h2m25 0h3m3 0h1m7 0h1m1 0h1M21 29h3m2 0h2m3 0h1m4 0h1m4 0h1m3 0h1m2 0h1m8 0h1m13 0h2m6 0h1m16 0h1M4 30h1m8 0h1m31 0h2m15 0h1m29 0h1M15 31h3m1 0h1m2 0h1m13 0h2m6 0h2m28 0h1M10 32h2m5 0h1m1 0h1m3 0h2m1 0h1m1 0h1m6 0h1m4 0h1m21 0h1m2 0h1m2 0h1m13 0h1m1 0h1m1 0h1M10 33h3m4 0h1m18 0h1m4 0h1m4 0h1m2 0h1m3 0h2m11 0h1m8 0h1m13 0h2M11 34h1m3 0h1m1 0h1m4 0h1m8 0h1m20 0h1m4 0h1m8 0h1m31 0h1M44 35h1m9 0h1m6 0h2m16 0h1m17 0h2M16 36h1m11 0h1m3 0h1m13 0h1m2 0h1m8 0h1m6 0h1m1 0h2m1 0h1m5 0h2m12 0h1M4 37h2m5 0h1m5 0h1m2 0h1m4 0h1m14 0h1m5 0h1m4 0h2m3 0h1m2 0h2m2 0h1m2 0h1m11 0h2m6 0h1m1 0h2m3 0h1m1 0h1M12 38h1m1 0h2m2 0h1m4 0h1m2 0h1m9 0h1m11 0h2m13 0h1m1 0h1m2 0h1m26 0h1M7 39h1m5 0h2m6 0h1m3 0h2m2 0h1m3 0h1m5 0h3m1 0h1m26 0h1m5 0h1m4 0h1M7 40h1m2 0h1m5 0h1m4 0h1M31 41h1m1 0h1m11 0h3m7 0h1m1 0h1m2 0h2m1 0h1m3 0h1m1 0h1m4 0h1m10 0h1M6 42h1m8 0h1m1 0h2m3 0h1m8 0h1m2 0h1m1 0h1m5 0h1m2 0h1m2 0h1m7 0h1m4 0h1m29 0h1m7 0h1M8 43h1m10 0h1m4 0h1m6 0h2m5 0h3m1 0h1m5 0h1m1 0h1m3 0h1m2 0h1m8 0h1m3 0h1m1 0h1m5 0h1m3 0h1m5 0h1m3 0h1m5 0h1M18 44h1m25 0h1m3 0h1m3 0h2m1 0h1m5 0h1m4 0h1m2 0h1m1 0h2m2 0h1m2 0h2m1 0h1M0 45h1m17 0h1m5 0h3m2 0h2m1 0h1m5 0h1m4 0h1m4 0h1m1 0h1m1 0h2m1 0h1m6 0h2m2 0h1m4 0h1m1 0h2m1 0h1m3 0h2m1 0h1M10 46h1m4 0h3m3 0h1m22 0h1m2 0h1m7 0h3m1 0h2m5 0h1m6 0h3m4 0h2m7 0h1m3 0h1m3 0h1M1 47h1m8 0h3m24 0h1m1 0h1m8 0h1m1 0h2M5 48h1m3 0h3m4 0h2m7 0h1m2 0h1m3 0h2m3 0h1m3 0h1m2 0h1m9 0h2M1 49h1m10 0h2m30 0h1m2 0h3m26 0h1m2 0h1m1 0h2m6 0h1M11 50h1m10 0h2m2 0h2m6 0h1m4 0h1m2 0h1m6 0h1m4 0h1m13 0h1m2 0h1m3 0h1m3 0h1M5 51h1m61 0h1m11 0h1m12 0h1m3 0h1M8 52h1m4 0h1m2 0h1m30 0h1m4 0h1m1 0h2m12 0h6m4 0h1m6 0h1m6 0h2m4 0h1M0 53h1m13 0h2m5 0h1m5 0h2m5 0h2m9 0h1m3 0h1m4 0h1m10 0h1m2 0h2m2 0h1m2 0h1m4 0h1m5 0h1m1 0h1m2 0h1m3 0h1M25 54h1m17 0h1m12 0h1m4 0h1m1 0h1m6 0h1m3 0h1m18 0h2m3 0h1M1 55h2m2 0h1m5 0h1m3 0h1m17 0h1m19 0h2m9 0h1m10 0h1m3 0h1m1 0h1m11 0h1m3 0h1m1 0h1M6 56h3m11 0h1m3 0h1m7 0h1m1 0h3m21 0h1m4 0h1m2 0h1m31 0h1M12 57h1m15 0h1m2 0h2m2 0h2m8 0h1m1 0h1m2 0h2m1 0h1m2 0h4m1 0h1m2 0h2m2 0h1m2 0h1m4 0h1m6 0h3m8 0h1m4 0h1" stroke="#94cc70"/>
<path d="M17 0h2m5 0h1m9 0h1m7 0h1m1 0h6m8 0h2m2 0h1m1 0h1m7 0h1m7 0h1m11 0h2m2 0h1M18 1h1m3 0h1m71 0h1M19 2h1m15 0h1m31 0h1M4 3h1m10 0h1m2 0h3m11 0h1m11 0h1m1 0h1m9 0h1m8 0h1m7 0h1M52 4h1m23 0h1m3 0h1M16 5h1m33 0h2m5 0h2M14 6h1m33 0h1m2 0h2m1 0h1m25 0h2M19 7h1m4 0h1m2 0h1m2 0h2m5 0h1m1 0h1m3 0h2M3 9h1m8 0h1m6 0h1m2 0h1m12 0h1M9 10h1m6 0h1m1 0h2m6 0h2m40 0h1M14 11h1m3 0h1m3 0h1m2 0h2m1 0h1m4 0h2m1 0h1m2 0h1m12 0h1m19 0h1m3 0h1m20 0h1M6 12h1m2 0h1m20 0h1m3 0h1m9 0h2m2 0h2m7 0h1m4 0h1m1 0h2m6 0h1m1 0h1m2 0h1m8 0h1m10 0h1M29 13h1m4 0h1m1 0h2m18 0h2m9 0h1m1 0h1m17 0h1M14 14h1m13 0h1M21 15h1m5 0h1m10 0h1m8 0h2m3 0h1m16 0h2m1 0h2M15 16h1m35 0h2m46 0h1M5 17h1m9 0h2m7 0h1m19 0h1m31 0h1m6 0h2M14 18h2m6 0h1m2 0h1m5 0h1M47 19h1M0 20h1m4 0h1m9 0h1m6 0h1m35 0h1M13 21h1m7 0h2m9 0h1m17 0h1m11 0h2m1 0h1m3 0h1m16 0h1M16 23h1m5 0h1M28 24h1m2 0h2m2 0h1m3 0h1m29 0h1m7 0h1M7 25h1m4 0h1m4 0h1m2 0h1m4 0h1m8 0h1m13 0h1m6 0h1m3 0h2m5 0h1m1 0h1m12 0h2M5 26h1m45 0h2m1 0h1m2 0h2m17 0h1m6 0h1M1 27h1m9 0h1m5 0h1m3 0h2m5 0h1m11 0h2m17 0h1m1 0h1m1 0h1m27 0h1M9 28h1m3 0h1m3 0h1m1 0h2m4 0h1m2 0h1m30 0h1m1 0h1M17 29h2m5 0h1m3 0h1m4 0h2m2 0h2m5 0h1m1 0h1m31 0h1M79 30h1M16 32h1m1 0h1m3 0h1m10 0h1m3 0h1m18 0h1m1 0h1m2 0h1m1 0h1M21 33h1m17 0h2m2 0h1m4 0h1m2 0h1m9 0h1m5 0h2m7 0h1M16 34h1m26 0h1m9 0h1M16 35h2m15 0h1m16 0h2M48 36h1m7 0h2m31 0h1M13 37h1m2 0h1m18 0h1m9 0h1m9 0h1m1 0h1M13 38h1m13 0h1m2 0h2m13 0h1M64 39h1m1 0h1M12 40h1m5 0h2m2 0h1m1 0h1m2 0h1m3 0h1m1 0h2m1 0h2m5 0h2M44 41h1m5 0h1m11 0h1m8 0h1m3 0h1M14 42h1m13 0h2m13 0h1m3 0h1m1 0h1m3 0h1m5 0h2m19 0h1M1 43h3m1 0h1m1 0h1m2 0h1m5 0h1m9 0h1m18 0h1m41 0h1m2 0h1m5 0h1M16 44h2m5 0h1m4 0h3m14 0h1m4 0h1m5 0h1m1 0h1m1 0h1m1 0h3m2 0h1m5 0h1m2 0h1m10 0h1M4 45h1m2 0h1m6 0h1m8 0h1m7 0h1m5 0h1m9 0h1m3 0h1m4 0h1m2 0h1m22 0h1M14 46h1m33 0h1m4 0h2m6 0h2m2 0h1m4 0h1m21 0h1M0 47h1m33 0h1m3 0h1m25 0h1m1 0h1m3 0h1m1 0h1m3 0h2m1 0h1m1 0h4m13 0h1M6 48h1m8 0h1m6 0h1m3 0h1m61 0h1M46 49h1m18 0h1m12 0h1M3 50h1m10 0h1m1 0h2m38 0h1m26 0h1M45 51h1M0 52h2m5 0h1m38 0h1m1 0h1m25 0h1m7 0h1m13 0h1M16 53h1m6 0h2m36 0h1m8 0h1m11 0h1M99 54h1M12 55h1m1 0h1m1 0h1m56 0h1m18 0h1M14 56h1m6 0h1m11 0h1m12 0h1m6 0h1m17 0h1m5 0h1m14 0h1m6 0h1M18 57h3m9 0h1m8 0h2m5 0h1m5 0h1m2 0h1m6 0h1m3 0h2m4 0h2m16 0h1" stroke="#a5cf4e"/>
<path d="M19 0h1m3 0h1m28 0h1m1 0h1m5 0h1m5 0h1m3 0h2m1 0h2M16 1h2m24 0h1M15 2h1m26 0h1M21 3h1m9 0h1M19 4h1m6 0h1m19 0h1m4 0h1M48 5h1m7 0h1m3 0h2M15 6h1m37 0h1m32 0h1m4 0h1M14 7h1m27 0h1m16 0h1M2 9h1M14 10h2m1 0h1m2 0h1m1 0h1m5 0h1m8 0h2m47 0h1M19 11h1m3 0h1m8 0h1m5 0h1m1 0h1m29 0h1m3 0h1M10 12h1m3 0h2m24 0h1m14 0h1m3 0h1m7 0h1m8 0h1m5 0h1m1 0h2m2 0h2m1 0h1m7 0h1M16 13h1m3 0h2m1 0h1m1 0h1m6 0h1m10 0h1m4 0h1m6 0h1m16 0h1m16 0h1M12 14h1m3 0h1m10 0h1M40 15h1m4 0h1m7 0h2m43 0h1M17 17h1m21 0h1m3 0h1M12 18h1M45 19h1M12 20h1M14 21h1m16 0h1m1 0h1M13 22h1M14 23h1M15 24h1m1 0h1m3 0h1m1 0h1M46 25h2m5 0h1m2 0h1m18 0h1M46 26h2m2 0h1M5 27h1m6 0h1m3 0h1m26 0h1m42 0h2M14 28h1M15 29h2m2 0h1m5 0h1m17 0h1M11 30h1m32 0h1M15 32h1m9 0h1m12 0h2m7 0h1m1 0h3m3 0h1M18 33h1m19 0h1m3 0h1m2 0h1m14 0h1M13 34h2m6 0h1m23 0h1M29 35h1M13 36h2m44 0h1m26 0h1M12 37h1m2 0h1m18 0h1m34 0h1M28 38h1M12 39h1m29 0h1M14 40h2m1 0h1m10 0h1M72 41h1M33 42h1m12 0h1m4 0h1M11 43h1m3 0h1m6 0h1m6 0h1m56 0h1M14 44h1m12 0h1m21 0h1m1 0h1m5 0h1m1 0h1m5 0h1m4 0h1M15 45h1m1 0h1m17 0h1m18 0h1m2 0h1m3 0h1m8 0h1M11 46h1m56 0h1m9 0h1M14 47h1m32 0h1m5 0h1m1 0h2m1 0h1m2 0h1m1 0h1m1 0h1m1 0h2m2 0h1m3 0h1m4 0h1m18 0h1M14 48h1m12 0h1m2 0h1M11 49h1M30 50h1m7 0h1M12 52h1m31 0h1m8 0h1m2 0h1m24 0h1M87 53h1M74 55h1m7 0h2M10 56h2m25 0h1M15 57h3m3 0h1m1 0h1m19 0h1m4 0h1m20 0h2m4 0h1m1 0h1m2 0h1" stroke="#bdd639"/>
<path d="M15 0h2m3 0h1m22 0h1m6 0h1m5 0h2m3 0h1m5 0h3m5 0h1M13 1h1m5 0h1M43 3h1M16 4h1m22 0h1m1 0h1m3 0h1m4 0h1M43 5h1m1 0h1m9 0h1M46 6h2M13 7h1M14 9h1m1 0h1m3 0h2M13 10h1M17 11h1m2 0h2m2 0h1M17 12h1m25 0h1m12 0h1m3 0h2m4 0h1m1 0h1m1 0h1m4 0h1m2 0h1m2 0h1m1 0h1m3 0h1m10 0h1M14 13h1m2 0h3m4 0h1m36 0h1m11 0h2M13 14h1M14 15h2M45 16h1M13 18h1M14 20h1M15 23h1M14 24h1M13 25h2m30 0h1M48 26h2m3 0h1M13 27h1m1 0h1M12 29h2M43 30h1M12 32h2m34 0h1m11 0h1M12 34h1M47 36h1M14 37h1M16 38h1M44 39h1m3 0h1M73 41h1M12 42h2m6 0h2m30 0h1M12 43h1m1 0h1M36 45h1M13 46h1M46 47h1m15 0h1m15 0h1m8 0h4m1 0h2M13 48h1m15 0h1M35 50h1M44 51h1M42 52h2m13 0h2m2 0h2m1 0h1M91 55h1M42 57h1m11 0h1m19 0h1m3 0h1" stroke="#d8e027"/>
<path d="M22 0h1M14 1h2M15 4h1m22 0h1m1 0h1m3 0h1M15 5h1m28 0h1M13 9h1M15 11h2M47 12h1m10 0h1m12 0h1M15 13h1M13 15h1M43 16h2M14 17h1M13 24h1m2 0h1M44 25h1M14 27h1M14 29h1M14 32h1m31 0h1m10 0h1m1 0h1M44 34h1M45 36h1M43 37h1M13 40h1M43 41h1M13 43h1M46 44h1M12 46h1M13 47h1m30 0h2m8 0h1m2 0h1m27 0h2m4 0h1M12 48h1M45 52h1m13 0h2m2 0h1M14 57h1m29 0h1" stroke="#f4eb1e"/>
<path d="M13 2h2M42 3h1M43 4h1M45 6h1M13 13h1M42 17h1M13 20h1M13 23h1M45 26h1M42 29h1M45 32h1M44 36h1M13 57h1" stroke="#facc19"/>
<path d="M44 6h1M44 15h1M43 25h1M44 26h1M42 37h1" stroke="#f9a518"/>
<path d="M42 4h1M43 26h1M44 32h1" stroke="#f37121"/>
</g>
<g transform="translate(1126.2 1092.38) scale(2.6550 6.2500)" shape-rendering="crispEdges" fill="none" stroke-width="1.03" stroke-linejoin="miter">
<path d="M0 6.5H100" stroke="#7ac8a6" stroke-width="14"/>
<path d="M39 3h1M22 5h1" stroke="#42a1e0"/>
<path d="M87 2h1M19 3h2m1 0h1m31 0h1M23 5h1m6 0h1" stroke="#3dbfef"/>
<path d="M86 0h1M98 1h1M86 2h1M18 3h1m2 0h1m1 0h5m6 0h4m2 0h2m2 0h1m5 0h1m1 0h1m2 0h2m5 0h1m8 0h1m3 0h1m1 0h1m3 0h1M22 4h1m1 0h1m10 0h2m2 0h1m1 0h1M20 5h1m3 0h3m4 0h5m2 0h1m7 0h1m1 0h2m3 0h3m6 0h2M0 6h1m55 0h1m16 0h2m9 0h1M39 7h1M15 11h1" stroke="#54c4e1"/>
<path d="M45 0h1M89 1h3m5 0h1M0 2h2m4 0h1m5 0h2m40 0h1m19 0h1m9 0h2m12 0h2M17 3h1m10 0h2m3 0h1m4 0h1m3 0h1m10 0h1m4 0h4m1 0h2m1 0h5m1 0h1m3 0h1m1 0h3m1 0h1m4 0h2m6 0h1m1 0h3M19 4h1m3 0h1m4 0h1m5 0h1m2 0h1m2 0h1m1 0h2m4 0h1m16 0h1m6 0h1m2 0h3m1 0h1m3 0h1m3 0h2M21 5h1m7 0h1m7 0h1m1 0h1m1 0h1m3 0h1m1 0h1m2 0h1m5 0h1m7 0h1m10 0h1m1 0h1m4 0h1m2 0h1m1 0h1m3 0h1m6 0h1M1 6h1m19 0h1m5 0h1m3 0h1m4 0h1m10 0h1m19 0h1m2 0h2m3 0h1m3 0h1M36 7h1m30 0h1M8 8h1m2 0h1" stroke="#64c7ce"/>
<path d="M1 0h1m1 0h1m3 0h1m4 0h1m14 0h1m33 0h1m3 0h1m11 0h1m6 0h2m1 0h1m1 0h1m2 0h1M4 1h1m77 0h1m9 0h1m3 0h1m2 0h1M4 2h2m1 0h1m33 0h1m11 0h1m9 0h3m1 0h1m8 0h1m1 0h2m2 0h2m4 0h1M0 3h1m4 0h1m10 0h1m13 0h3m10 0h1m1 0h2m1 0h2m1 0h1m5 0h1m7 0h1m7 0h2m8 0h3m7 0h2m1 0h1M11 4h1m1 0h1m4 0h1m1 0h1m4 0h3m1 0h4m5 0h1m5 0h1m2 0h1m1 0h1m12 0h1m1 0h1m1 0h4m1 0h1m6 0h1m2 0h2m2 0h2m2 0h1m2 0h3M19 5h1m7 0h1m8 0h1m5 0h1m1 0h1m7 0h1m18 0h2m5 0h2m1 0h1m2 0h1m1 0h1m5 0h1m1 0h2m1 0h1M2 6h3m6 0h1m8 0h1m1 0h5m1 0h1m1 0h1m1 0h1m2 0h1m2 0h6m7 0h1m1 0h3m4 0h2m3 0h1m2 0h2m6 0h3m1 0h4m5 0h4M4 7h1m9 0h1m23 0h1m8 0h1m7 0h1m1 0h1m8 0h1m13 0h1m2 0h1m11 0h2M9 8h1m4 0h1m10 0h1m56 0h1m4 0h2m8 0h3M3 11h2m2 0h1m5 0h1m67 0h1m5 0h1" stroke="#72c9bb"/>
<path d="M4 0h2m2 0h1m1 0h1m10 0h1m2 0h1m1 0h1m2 0h1m8 0h1m3 0h1m5 0h1m3 0h1m1 0h2m1 0h1m1 0h2m1 0h1m1 0h1m5 0h1m1 0h1m1 0h1m6 0h2m5 0h1m6 0h1m1 0h1M1 1h1m1 0h1m5 0h1m12 0h1m1 0h1m4 0h1m2 0h1m1 0h2m4 0h1m11 0h1m9 0h1m1 0h1m15 0h1m4 0h1m1 0h1M8 2h1m1 0h1m7 0h3m1 0h2m2 0h2m9 0h2m5 0h1m1 0h1m5 0h1m5 0h1m1 0h1m16 0h1m11 0h3m1 0h2m1 0h1M7 3h1m2 0h1m79 0h2M0 4h1m3 0h3m3 0h1m41 0h1m2 0h1m2 0h1m1 0h1m19 0h1m3 0h1m12 0h1m1 0h1M1 5h1m2 0h1m2 0h1m8 0h1m26 0h1m7 0h1m7 0h1m6 0h1m3 0h1m28 0h1M6 6h1m1 0h1m10 0h1m9 0h1m3 0h1m11 0h2m10 0h1m6 0h1m21 0h1m1 0h1m6 0h1m3 0h1M2 7h1m3 0h2m7 0h1m4 0h2m2 0h1m8 0h2m5 0h1m7 0h1m4 0h1m2 0h1m2 0h3m8 0h1m1 0h2m2 0h1m1 0h1m2 0h1m2 0h2m1 0h2m2 0h1m2 0h1m3 0h2M0 8h6m16 0h1m3 0h1m2 0h1m7 0h1m1 0h1m3 0h1m2 0h1m2 0h4m6 0h1m6 0h3m1 0h1m1 0h2m1 0h1m5 0h1m2 0h3m4 0h1m2 0h1M0 9h2m3 0h3m1 0h4m1 0h2m3 0h1m60 0h1m1 0h3m5 0h1m5 0h1m2 0h1M4 10h1m6 0h1m7 0h1m61 0h4m8 0h1m1 0h1m1 0h2M0 11h1m1 0h1m5 0h1m3 0h1m1 0h1m14 0h1m5 0h1m1 0h1m47 0h1m2 0h1m1 0h4m4 0h1M0 12h2m1 0h1m11 0h1m3 0h1m63 0h2m1 0h1m1 0h1m3 0h2M3 13h5m2 0h4m1 0h3m1 0h1m60 0h3m14 0h2" stroke="#82c892"/>
<path d="M6 0h1m12 0h1m2 0h1m5 0h1m4 0h3m13 0h2m18 0h1m3 0h1m6 0h1m10 0h1m4 0h1m2 0h1M0 1h1m4 0h2m1 0h1m1 0h1m6 0h1m3 0h1m1 0h1m4 0h1m1 0h1m6 0h1m3 0h1m2 0h4m1 0h1m1 0h1m4 0h2m1 0h3m5 0h1m4 0h5m1 0h1m15 0h1M14 2h1m10 0h1m3 0h1m5 0h1m4 0h1m1 0h1m5 0h4m9 0h1M16 4h1m40 0h1m1 0h1m38 0h1M0 5h1m1 0h2m1 0h2m1 0h2m1 0h1m1 0h1m1 0h1m44 0h1m22 0h1M7 6h1m1 0h1m5 0h1m1 0h1m41 0h1m36 0h2M8 7h1m2 0h2m6 0h1m2 0h2m1 0h2m2 0h1m2 0h1m16 0h1m2 0h1m1 0h1m7 0h4m2 0h2m1 0h1m2 0h1m11 0h1m6 0h1m3 0h1M15 8h1m5 0h1m6 0h1m1 0h3m3 0h1m3 0h1m1 0h1m1 0h1m11 0h1m3 0h2m7 0h1m6 0h4M24 9h14m4 0h2m33 0h1m1 0h1m1 0h1M23 10h1m1 0h1m4 0h1m3 0h1m3 0h2m33 0h1m5 0h2M21 11h2m5 0h1m1 0h1m11 0h1m46 0h1m4 0h2m1 0h1M27 12h1m1 0h2m5 0h4m37 0h3m1 0h2M25 13h6m1 0h1m2 0h3m1 0h4m12 0h6m4 0h1m1 0h1m2 0h1m5 0h4" stroke="#94cc70"/>
<path d="M13 0h1m3 0h1m2 0h1m2 0h1m6 0h1m1 0h1m3 0h2m20 0h1m4 0h1m3 0h1m3 0h1m7 0h1M7 1h1m3 0h1m14 0h2m14 0h2m9 0h1m9 0h1m1 0h2m1 0h1m2 0h1m7 0h1m1 0h1M16 2h1m4 0h1m6 0h1m1 0h2m7 0h1m7 0h1M14 3h2M56 4h1M10 5h1M0 7h1m29 0h1m10 0h4m5 0h2m6 0h1m16 0h1m6 0h1M20 8h1m6 0h1m5 0h1m1 0h1m2 0h1m2 0h1m11 0h3m6 0h2m1 0h1m8 0h1M21 9h3m14 0h4m11 0h13m3 0h8m1 0h1M21 10h2m1 0h1m1 0h4m1 0h3m1 0h3m2 0h4m10 0h1m2 0h1m4 0h11m1 0h5M20 11h1m2 0h3m1 0h1m3 0h1m1 0h1m2 0h1m2 0h1m1 0h1m1 0h1m10 0h3m3 0h2m1 0h1m8 0h3m4 0h1m3 0h1m15 0h1M22 12h5m1 0h1m2 0h5m4 0h3m8 0h13m1 0h12m3 0h1M21 13h4m6 0h1m1 0h2m3 0h1m13 0h3m6 0h4m1 0h1m1 0h2m1 0h5" stroke="#a5cf4e"/>
<path d="M15 0h2m14 0h1M12 1h2m4 0h3m12 0h1m24 0h1M17 2h1m15 0h2m1 0h1M15 4h1M14 5h1M16 6h1M27 7h1m3 0h1M19 8h1m14 0h1m29 0h1M20 9h1m28 0h4m13 0h3M20 10h1m30 0h1m1 0h1m1 0h2m1 0h4M26 11h1m5 0h1m1 0h1m3 0h1m1 0h1m12 0h1m5 0h1m2 0h1m4 0h1m7 0h1m2 0h1m5 0h1m11 0h1M20 12h2m26 0h3m13 0h1M20 13h1m29 0h2" stroke="#bdd639"/>
<path d="M14 0h1m3 0h1M16 1h1m52 0h2M32 2h1M16 7h3M17 8h2M48 9h1M49 10h2m1 0h1M48 11h1m1 0h3m4 0h2m5 0h3m1 0h4m4 0h2M46 12h2M48 13h2" stroke="#d8e027"/>
<path d="M14 1h2M15 2h1M46 9h2M48 10h1M49 11h1M45 12h1M47 13h1" stroke="#f4eb1e"/>
<path d="M16 8h1M45 9h1M47 10h1M45 11h3M45 13h2" stroke="#facc19"/>
<path d="M44 9h1M46 10h1M44 12h1M44 13h1" stroke="#f9a518"/>
<path d="M45 10h1M43 12h1" stroke="#f37121"/>
<path d="M44 10h1M44 11h1M43 13h1" stroke="#e92024"/>
</g>
<g transform="translate(1401.2 1092.38) scale(2.6575 6.2500)" shape-rendering="crispEdges" fill="none" stroke-width="1.03" stroke-linejoin="miter">
<path d="M0 6.5H100" stroke="#72c9bb" stroke-width="14"/>
<path d="M66 4h1" stroke="#4174bd"/>
<path d="M28 1h1m33 0h1M10 4h1m10 0h1m13 0h1m5 0h1m12 0h2M41 7h1m2 0h2m23 0h1M26 13h1m47 0h1m6 0h1" stroke="#42a1e0"/>
<path d="M52 0h1m6 0h1m31 0h1m1 0h1M10 1h1m22 0h1m2 0h1m30 0h1M95 2h1m3 0h1M54 3h1m11 0h1M9 4h1m1 0h1m30 0h1M33 5h1m21 0h1M1 7h3m9 0h2m11 0h1m13 0h1m1 0h1m8 0h1m7 0h1m8 0h1m13 0h1m5 0h2m1 0h1m2 0h1M13 9h1m41 0h1M19 10h1m10 0h1M81 11h1m4 0h1M7 12h1m33 0h2m12 0h1M12 13h1m9 0h1m9 0h1m14 0h2m7 0h1m7 0h2m9 0h2m3 0h1m3 0h1m6 0h1m6 0h1" stroke="#3dbfef"/>
<path d="M9 0h1m6 0h1m2 0h1m5 0h3m1 0h2m2 0h4m8 0h1m4 0h1m17 0h1m1 0h1m7 0h1m10 0h1M9 1h1m9 0h1m22 0h1m2 0h1m17 0h1m1 0h1m4 0h1m1 0h1m10 0h1M2 2h2m5 0h1m42 0h1m28 0h1m12 0h1m1 0h1M3 3h1m30 0h1m20 0h1M4 4h3m15 0h1m11 0h1m5 0h1m2 0h1m2 0h1m16 0h1m15 0h1m3 0h1m8 0h1M68 5h1m9 0h1m3 0h1M11 6h1m83 0h1M5 7h1m1 0h1m3 0h2m8 0h1m1 0h2m2 0h1m2 0h1m2 0h1m2 0h1m1 0h1m7 0h1m1 0h1m3 0h1m5 0h1m1 0h2m10 0h2m11 0h1m6 0h1m3 0h1M1 8h1M45 9h1m22 0h1m22 0h1M12 10h1m22 0h1m1 0h1m35 0h1M0 11h1m2 0h1m1 0h1m2 0h1m9 0h1m21 0h2m4 0h1m4 0h1m11 0h5m14 0h1m1 0h2M29 12h1m4 0h1m30 0h1M0 13h2m2 0h3m9 0h1m4 0h1m2 0h2m3 0h1m3 0h2m2 0h2m10 0h2m1 0h1m7 0h1m7 0h3m2 0h1m3 0h1m1 0h1m2 0h2m1 0h1m7 0h2m4 0h1" stroke="#54c4e1"/>
<path d="M5 0h2m4 0h3m1 0h1m1 0h2m2 0h4m7 0h1m15 0h2m1 0h1m2 0h1m1 0h1m1 0h1m1 0h1m4 0h1m5 0h1m15 0h1m2 0h1m3 0h1M3 1h1m7 0h1m11 0h1m11 0h1m1 0h2m8 0h1m1 0h2m1 0h1m4 0h1m17 0h1m1 0h1m8 0h1m3 0h1m3 0h1M0 2h2m2 0h1m6 0h2m15 0h1m15 0h1m6 0h1m1 0h1m2 0h2m2 0h1m1 0h1m4 0h1m6 0h2m7 0h1m9 0h1M2 3h1m16 0h1m8 0h1m12 0h1m5 0h1m3 0h3m20 0h1m1 0h1M32 4h2m2 0h1m10 0h1m9 0h2m2 0h2m14 0h1m3 0h2m2 0h3M5 5h1m12 0h2m7 0h1m2 0h3m20 0h1m15 0h1m9 0h1m11 0h1m1 0h1M9 6h1m2 0h1m10 0h2m2 0h1m1 0h1m7 0h1m1 0h1m19 0h1m2 0h1m10 0h1m20 0h1M4 7h1m1 0h1m1 0h1m11 0h1m4 0h1m5 0h2m1 0h2m1 0h1m12 0h1m2 0h1m3 0h1m4 0h2m2 0h1m8 0h2m2 0h1m1 0h1m4 0h2m2 0h1m4 0h1m3 0h1M13 8h1m5 0h1m8 0h1m11 0h2m49 0h1m5 0h1M9 9h1m8 0h2m1 0h1m11 0h1m10 0h1m28 0h1m7 0h2m10 0h1M0 10h2m9 0h1m6 0h1m1 0h1m6 0h2m2 0h1m2 0h1m11 0h1m10 0h3m8 0h1m2 0h1m2 0h1m3 0h1m9 0h2m3 0h2m1 0h1M1 11h1m21 0h1m8 0h1m1 0h1m8 0h1m3 0h2m12 0h1m11 0h1m6 0h1m2 0h1m4 0h1m2 0h1M8 12h1m4 0h1m42 0h1m1 0h1m1 0h1m9 0h1m2 0h1m2 0h1M7 13h1m1 0h1m1 0h1m2 0h1m4 0h1m3 0h1m3 0h2m7 0h1m6 0h4m4 0h1m1 0h3m1 0h2m3 0h1m3 0h2m3 0h2m5 0h1m8 0h1m1 0h1m5 0h3" stroke="#64c7ce"/>
<path d="M0 0h3m7 0h1m26 0h1m2 0h1m6 0h1m5 0h1m9 0h2m4 0h1m4 0h1m1 0h1m2 0h2m3 0h1m3 0h1M1 1h1m13 0h1m1 0h2m6 0h1m5 0h2m11 0h1m3 0h1m7 0h1m1 0h1m7 0h1m4 0h1m1 0h2m6 0h2m6 0h1m9 0h1M5 2h2m3 0h1m3 0h1m1 0h1m3 0h2m2 0h1m4 0h1m1 0h1m1 0h1m8 0h1m2 0h1m2 0h1m1 0h1m3 0h1m8 0h1m2 0h1m6 0h1m3 0h4m1 0h1m1 0h1m4 0h2m1 0h1M4 3h2m2 0h1m2 0h2m3 0h3m1 0h1m1 0h2m5 0h1m1 0h1m3 0h2m2 0h1m10 0h1m5 0h1m1 0h1m1 0h1m1 0h1m1 0h1m2 0h2m1 0h1m2 0h1m3 0h1m2 0h1m2 0h2m1 0h1m6 0h2m3 0h1M0 4h2m6 0h1m4 0h1m4 0h1m7 0h1m4 0h1m5 0h1m10 0h1m3 0h1m11 0h2m5 0h2m1 0h2m23 0h1M0 5h3m23 0h1m2 0h1m17 0h2m2 0h1m2 0h1m2 0h2m6 0h1m7 0h2m5 0h2m1 0h1m2 0h1m1 0h1m9 0h2M4 6h1m10 0h1m2 0h1m1 0h1m1 0h1m10 0h1m2 0h1m8 0h1m1 0h2m2 0h1m8 0h1m4 0h1m1 0h1m6 0h1m6 0h1m1 0h1m2 0h1m10 0h1M0 7h1m9 0h1m6 0h1m1 0h1m27 0h1m6 0h1m9 0h1m2 0h1m10 0h1M0 8h1m3 0h1m5 0h1m5 0h1m3 0h1m1 0h1m2 0h1m1 0h1m5 0h1m9 0h2m10 0h1m5 0h1m8 0h1m1 0h1m6 0h1m2 0h1m4 0h2m10 0h1M4 9h1m1 0h1m9 0h1m3 0h1m3 0h1m3 0h1m2 0h1m2 0h1m3 0h1m3 0h1m3 0h2m9 0h1m2 0h1m2 0h1m10 0h1m1 0h1m6 0h1m4 0h1m1 0h1m3 0h1M4 10h1m8 0h2m6 0h2m1 0h3m2 0h1m13 0h1m1 0h1m2 0h1m3 0h1m2 0h1m19 0h1m1 0h1m2 0h1m1 0h1m12 0h1m2 0h1M9 11h1m1 0h1m2 0h1m1 0h2m1 0h3m2 0h1m4 0h1m1 0h1m1 0h1m1 0h1m8 0h2m12 0h2m10 0h1m3 0h1m4 0h1m14 0h3M3 12h1m6 0h1m1 0h1m2 0h3m12 0h3m10 0h1m3 0h1m14 0h1m4 0h2m2 0h1m5 0h1m12 0h1m6 0h1M8 13h1m11 0h1m10 0h1m7 0h2m1 0h1m18 0h1" stroke="#7ac8a6"/>
<path d="M7 0h1m12 0h1m20 0h1m15 0h1m27 0h1m10 0h2M4 1h2m10 0h1m3 0h1m1 0h1m7 0h1m8 0h1m6 0h1m4 0h1m3 0h1m3 0h2m19 0h1m15 0h2M8 2h1m9 0h1m4 0h1m3 0h1m6 0h2m10 0h2m20 0h1m2 0h1m16 0h1m8 0h1M0 3h2m11 0h1m1 0h1m8 0h1m7 0h2m10 0h2m3 0h1m9 0h1m3 0h1m8 0h1m6 0h1m8 0h2m1 0h1m3 0h1M3 4h1m3 0h1m4 0h1m3 0h1m6 0h1m3 0h4m13 0h1m6 0h1m4 0h1m11 0h1m9 0h1m15 0h1M3 5h1m7 0h5m9 0h1m13 0h1m1 0h3m2 0h1m3 0h1m12 0h1m6 0h3m2 0h3m7 0h1m1 0h1m4 0h1M5 6h1m2 0h1m4 0h1m16 0h1m10 0h1m1 0h2m1 0h1m9 0h1m4 0h1m1 0h1m2 0h1m2 0h1m1 0h1m8 0h1m4 0h1m3 0h1m3 0h1m5 0h1M16 7h1m5 0h1m61 0h1m8 0h1M5 8h3m3 0h1m2 0h2m2 0h1m11 0h3m3 0h1m1 0h2m2 0h1m3 0h1m3 0h1m5 0h1m2 0h1m2 0h3m4 0h1m1 0h1m4 0h1m3 0h1m2 0h1m5 0h1m6 0h1M2 9h2m8 0h1m10 0h1m2 0h1m2 0h1m2 0h1m15 0h2m1 0h1m6 0h1m8 0h1m1 0h1m5 0h1m8 0h1m1 0h2m7 0h1m1 0h1m1 0h1M5 10h1m3 0h2m12 0h1m15 0h1m1 0h1m7 0h3m2 0h1m7 0h1m1 0h1m5 0h1m10 0h1m1 0h1m13 0h1M25 11h1m16 0h1m7 0h1m2 0h1m2 0h1m11 0h1m2 0h1m4 0h1m1 0h1m8 0h1M0 12h1m5 0h1m2 0h1m4 0h1m4 0h2m3 0h1m1 0h1m6 0h1m1 0h2m2 0h2m9 0h1m1 0h2m7 0h1m2 0h1m9 0h1m6 0h2m1 0h3m1 0h1" stroke="#82c892"/>
<path d="M42 0h1m34 0h1m3 0h1M2 1h1m26 0h1m13 0h1m10 0h1m23 0h2m7 0h2m3 0h1M7 3h1m1 0h1m4 0h1m6 0h1m3 0h2m10 0h1m5 0h1m13 0h1m11 0h1m20 0h1m1 0h1m3 0h1M2 4h1m12 0h1m1 0h1m1 0h1m25 0h1m21 0h1m16 0h1m3 0h1m7 0h2M8 5h2m7 0h1m5 0h1m21 0h1m3 0h1m9 0h1m6 0h1m22 0h1m4 0h1m1 0h1M0 6h1m1 0h2m3 0h1m2 0h1m8 0h1m6 0h1m8 0h1m4 0h1m12 0h2m9 0h1m3 0h1m1 0h1m1 0h1m3 0h1m13 0h2M12 8h1m13 0h1m2 0h1m15 0h1m6 0h2m12 0h1m6 0h1m3 0h1m3 0h1m2 0h3m3 0h1m1 0h1M15 9h1m14 0h1m4 0h3m15 0h1m11 0h2m3 0h2m13 0h1m3 0h1m6 0h1M3 10h1m12 0h1m15 0h1m9 0h1m10 0h1m18 0h1m3 0h1m2 0h1m4 0h1m1 0h1m5 0h1M13 11h1m46 0h1M4 12h1m13 0h1m3 0h2m1 0h1m1 0h1m10 0h1m5 0h1m1 0h1m16 0h1m5 0h1m8 0h1m8 0h1m1 0h1m1 0h1m1 0h1m4 0h1" stroke="#94cc70"/>
<path d="M24 1h1m16 0h1m11 0h1m44 0h1M17 2h1m8 0h1M6 3h1M73 4h1m21 0h1M24 5h1m10 0h1m8 0h1m15 0h1m3 0h1m32 0h1M14 6h1m1 0h1m4 0h1m9 0h1m2 0h1m15 0h1m4 0h1m32 0h1m3 0h1m3 0h1m1 0h1M21 8h1m26 0h1m25 0h1m19 0h1m3 0h1M5 9h1m4 0h1m14 0h1m14 0h1m23 0h1m12 0h1M15 10h1m71 0h1m3 0h1M49 12h1m29 0h1m3 0h1m11 0h2" stroke="#a5cf4e"/>
<path d="M14 1h1m6 0h1M82 3h1M90 4h1M22 5h1m13 0h1m24 0h1m33 0h1M1 6h1m50 0h1M47 8h1m9 0h2m8 0h1m7 0h1M14 9h1m2 0h1m9 0h1m11 0h1m58 0h1M65 10h1M66 12h1m8 0h1m16 0h1m1 0h1" stroke="#bdd639"/>
<path d="M21 5h1m40 0h1M42 6h1m44 0h1M54 8h1m13 0h1M17 10h1m15 0h1" stroke="#d8e027"/>
<path d="M20 5h1M49 8h1M59 9h1" stroke="#f4eb1e"/>
</g>
<g transform="translate(1675 1092.38) scale(2.6700 6.2500)" shape-rendering="crispEdges" fill="none" stroke-width="1.03" stroke-linejoin="miter">
<path d="M0 6.5H100" stroke="#54c4e1" stroke-width="14"/>
<path d="M30 5h1M62 9h1" stroke="#4174bd"/>
<path d="M25 3h1m8 0h1m22 0h1m15 0h1M28 4h1m1 0h1m6 0h2m16 0h1m15 0h1M22 5h1m6 0h1m4 0h1m20 0h2m7 0h1m11 0h2m6 0h1m3 0h1M13 6h1m7 0h1m4 0h1M28 8h1M19 9h1m11 0h1m2 0h1m25 0h2m24 0h1M19 10h1m17 0h2m7 0h1m1 0h2m3 0h1m1 0h1m14 0h2m3 0h3M16 11h1m25 0h2m1 0h1m32 0h1m2 0h1M70 13h1" stroke="#42a1e0"/>
<path d="M10 1h1m53 0h1m8 0h1m6 0h1m4 0h1m3 0h1M35 2h1M18 3h1m3 0h1m1 0h1m1 0h1m9 0h1m8 0h2m1 0h1m3 0h1m5 0h1m10 0h3m6 0h1m9 0h1m1 0h1M0 4h1m13 0h1m16 0h1m3 0h2m2 0h1m14 0h1m1 0h2m6 0h1m1 0h1m2 0h2m1 0h1m7 0h1m7 0h1m4 0h1M16 5h2m13 0h1m5 0h1m2 0h1m1 0h2m4 0h1m11 0h1m2 0h1m4 0h2m5 0h1m4 0h1m1 0h1m4 0h1M14 6h1m1 0h5m2 0h1m1 0h1m1 0h2m5 0h1m4 0h1m19 0h3m3 0h1m7 0h1m1 0h1M25 7h1m23 0h1m2 0h1m3 0h1m4 0h2m8 0h2m8 0h2M27 8h1m5 0h1m6 0h1m27 0h1m11 0h1m2 0h1M13 9h2m5 0h1m3 0h1m7 0h1m7 0h1m3 0h1m6 0h2m4 0h1m1 0h1m5 0h1m3 0h2m1 0h1m3 0h3m1 0h1m4 0h1m1 0h1m4 0h1M13 10h1m1 0h2m1 0h1m1 0h1m5 0h1m9 0h1m2 0h1m3 0h2m11 0h1m3 0h1m3 0h1m2 0h2m3 0h1m6 0h1m1 0h1m3 0h1m1 0h2M4 11h1m10 0h1m1 0h1m2 0h2m11 0h4m2 0h1m1 0h1m5 0h3m2 0h1m1 0h1m5 0h3m1 0h1m1 0h1m1 0h2m12 0h1M29 12h1m16 0h1m3 0h1M13 13h1m25 0h2m15 0h1m12 0h1m1 0h1m7 0h1m2 0h1" stroke="#3dbfef"/>
<path d="M56 0h2m2 0h1m11 0h1m18 0h1m5 0h1M3 1h1m7 0h1m4 0h1m8 0h1m13 0h1m2 0h3m1 0h1m3 0h4m3 0h1m3 0h2m4 0h1m6 0h1m8 0h1M26 2h1m4 0h1m8 0h2m10 0h1m3 0h1m4 0h1m2 0h2m1 0h1m5 0h1m11 0h3m6 0h1M8 3h2m5 0h2m10 0h1m7 0h1m1 0h1m12 0h1m11 0h2m2 0h1m5 0h1m3 0h1m2 0h1m5 0h2m12 0h1M8 4h1m7 0h1m15 0h1m7 0h1m2 0h2m4 0h1m10 0h2m5 0h1m8 0h1m8 0h1m1 0h1m2 0h1m4 0h1M7 5h1m5 0h1m4 0h1m8 0h1m7 0h1m5 0h1m2 0h1m1 0h1m5 0h1m6 0h1m1 0h2m8 0h1m13 0h1m3 0h2m5 0h1M5 6h2m5 0h1m9 0h1m8 0h1m6 0h1m1 0h2m8 0h2m1 0h4m6 0h2m2 0h1m1 0h2m5 0h1m5 0h1m3 0h1m1 0h1m10 0h1M13 7h1m12 0h1m3 0h1m2 0h1m1 0h1m2 0h2m4 0h2m1 0h1m2 0h1m9 0h1m2 0h1m3 0h1m10 0h2m3 0h2m3 0h2M22 8h1m1 0h1m6 0h1m3 0h1m5 0h4m5 0h1m8 0h1m2 0h4m1 0h1m10 0h2m6 0h1m1 0h2m2 0h1M2 9h1m6 0h2m1 0h1m2 0h1m6 0h1m10 0h1m3 0h1m3 0h1m1 0h1m1 0h1m3 0h1m4 0h1m1 0h1m16 0h1m8 0h1m1 0h1m4 0h2m5 0h1M1 10h1m1 0h1m3 0h2m13 0h2m4 0h1m2 0h2m1 0h2m15 0h1m22 0h1m7 0h1m6 0h1m7 0h1M1 11h2m8 0h2m13 0h1m1 0h1m1 0h3m4 0h1m6 0h1m8 0h1m29 0h1m3 0h1m2 0h1m3 0h1M14 12h1m5 0h1m15 0h2m1 0h1m7 0h2m4 0h1m3 0h1m2 0h1m3 0h1m1 0h1m1 0h1m2 0h1m1 0h1m6 0h2M12 13h1m4 0h1m1 0h1m7 0h2m3 0h1m1 0h1m2 0h1m3 0h3m1 0h1m2 0h1m3 0h1m5 0h2m1 0h1m3 0h1m7 0h2m2 0h1m11 0h1m2 0h1" stroke="#64c7ce"/>
<path d="M3 0h1m1 0h1m6 0h1m5 0h1m2 0h1m2 0h1m14 0h1m1 0h1m7 0h1m5 0h1m2 0h2m3 0h1m5 0h1m1 0h1m5 0h2m4 0h1m9 0h1m2 0h1M1 1h1m2 0h1m4 0h1m8 0h1m8 0h3m1 0h1m1 0h3m9 0h1m1 0h1m10 0h1m9 0h1m6 0h1m6 0h1m3 0h1m5 0h1m1 0h2m3 0h1M3 2h1m1 0h1m18 0h2m6 0h3m1 0h1m6 0h1m6 0h1m3 0h2m12 0h1m9 0h1m4 0h2m3 0h1m4 0h1m4 0h1M0 3h1m4 0h1m5 0h1m18 0h1m24 0h2m18 0h1m6 0h1m8 0h1M7 4h1m2 0h1m1 0h1m2 0h1m2 0h1m3 0h1m1 0h3m19 0h1m27 0h1m3 0h1m5 0h1m4 0h1m4 0h1m2 0h1m1 0h1M1 5h1m6 0h1m1 0h1m3 0h1m9 0h1m7 0h2m15 0h1m7 0h1m16 0h1m6 0h1m4 0h1m4 0h1m1 0h1M1 6h1m2 0h1m38 0h1m1 0h3m9 0h2m3 0h1m8 0h1m6 0h1m4 0h2m4 0h4m2 0h1M0 7h1m1 0h1m1 0h1m1 0h1m3 0h1m5 0h1m6 0h1m5 0h1m1 0h1m8 0h2m15 0h1m7 0h2m8 0h1m4 0h1m5 0h1m3 0h1m1 0h1m4 0h1M0 8h1m4 0h1m2 0h2m11 0h1m4 0h1m5 0h1m4 0h1m7 0h1m6 0h2m1 0h1m1 0h1m2 0h2m8 0h1m1 0h1m3 0h1m4 0h1m3 0h1m4 0h1M0 9h1m2 0h1m21 0h1m9 0h1m6 0h1m3 0h1m17 0h1m28 0h1m1 0h1m1 0h3M4 10h3m2 0h3m2 0h1m9 0h1m17 0h1m52 0h2m2 0h1M6 11h1m1 0h1m4 0h1m4 0h1m21 0h1m5 0h1m10 0h1m5 0h1m3 0h1m4 0h1m1 0h1m2 0h1m7 0h1m2 0h1m6 0h2M1 12h1m6 0h2m6 0h4m2 0h1m1 0h1m1 0h1m1 0h1m5 0h1m6 0h3m11 0h2m1 0h2m2 0h1m9 0h1m2 0h1m1 0h3m3 0h4m2 0h1m3 0h1m3 0h2M14 13h1m1 0h1m5 0h3m8 0h1m10 0h1m4 0h3m5 0h1m2 0h1m5 0h2m4 0h1m7 0h2m1 0h2m1 0h2m2 0h1m3 0h1m4 0h1" stroke="#72c9bb"/>
<path d="M0 0h1m1 0h1m7 0h1m6 0h1m1 0h2m1 0h1m3 0h1m5 0h2m2 0h1m3 0h1m3 0h1m1 0h3m1 0h1m17 0h1m1 0h1m2 0h1m10 0h1m4 0h2m1 0h1m2 0h1m3 0h1M14 1h1m7 0h1m3 0h1m3 0h1m6 0h2m1 0h2m6 0h1m5 0h1m1 0h1m3 0h1m2 0h1m1 0h2m5 0h1m6 0h1m10 0h1m2 0h1m4 0h1M4 2h1m1 0h1m1 0h2m2 0h1m3 0h1m6 0h1m14 0h1m3 0h1m1 0h1m2 0h2m2 0h1m1 0h1m6 0h1m1 0h1m8 0h1m2 0h1m1 0h2m2 0h3m9 0h1m4 0h1M4 3h1m7 0h1m40 0h1m38 0h1m3 0h1m1 0h1M9 4h1m1 0h1m11 0h1m26 0h2m7 0h1m32 0h1m5 0h1M3 5h1m8 0h1m12 0h1m10 0h1m21 0h1m13 0h1m19 0h1m6 0h1M2 6h2m3 0h1m1 0h1m1 0h1m32 0h1m3 0h1m28 0h1m7 0h1m10 0h1m1 0h1M5 7h1m3 0h1m4 0h2m1 0h2m17 0h2m4 0h1m16 0h1m10 0h1m5 0h2m16 0h2M7 8h1m3 0h1m2 0h1m1 0h2m2 0h1m28 0h1m1 0h1m4 0h1m14 0h1m1 0h1m3 0h1m4 0h1m8 0h1m1 0h1m1 0h5M6 9h3m12 0h1m14 0h1m37 0h1m6 0h1m1 0h1m10 0h1M0 10h1m92 0h2m3 0h1M5 11h1m65 0h1m12 0h1m6 0h3m3 0h2M0 12h1m1 0h3m1 0h2m17 0h1m18 0h1m9 0h1m21 0h1m5 0h1m4 0h2m1 0h2m3 0h2M0 13h1m1 0h1m2 0h3m1 0h2m7 0h1m6 0h1m10 0h1m9 0h2m6 0h1m7 0h1m13 0h1m8 0h1m2 0h1m2 0h1m1 0h1m4 0h1" stroke="#7ac8a6"/>
<path d="M4 0h1m2 0h3m5 0h1m7 0h1m1 0h1m1 0h3m4 0h2m7 0h1m1 0h1m7 0h2m6 0h2m1 0h2m8 0h1m4 0h3m4 0h1m7 0h1m3 0h1M2 1h1m9 0h1m2 0h1m1 0h1m1 0h1m1 0h1m33 0h1m3 0h1m9 0h1m6 0h1m1 0h1m9 0h1m2 0h1m4 0h1M1 2h1m5 0h1m2 0h1m4 0h1m1 0h1m1 0h1m2 0h1m7 0h1m6 0h1m1 0h1m5 0h1m3 0h1m7 0h1m1 0h1m9 0h1m20 0h2m4 0h1M1 3h3m2 0h2m2 0h1m2 0h2m14 0h1m63 0h3M47 4h1m4 0h1M0 5h1m1 0h1m8 0h1m85 0h1M0 6h1m96 0h1M11 7h1m7 0h1m1 0h2m5 0h1m14 0h1m14 0h1m10 0h1m15 0h1m5 0h1m1 0h1M1 8h2m1 0h1m8 0h1m1 0h1m58 0h2m11 0h1m6 0h1M4 9h1M33 10h1m57 0h1M0 11h1m6 0h1m81 0h1M5 12h1m7 0h1m78 0h1M3 13h2m3 0h1m26 0h1m17 0h1m21 0h1m19 0h1" stroke="#82c892"/>
<path d="M11 0h1m1 0h2m1 0h1m14 0h1m5 0h2m13 0h1m14 0h1m7 0h2m5 0h1m2 0h1m2 0h1M5 1h1m2 0h1m4 0h1m6 0h1m15 0h1m12 0h1m20 0h2M2 2h1m8 0h1m2 0h1m3 0h1m1 0h1m7 0h2m49 0h1M97 3h1M68 4h1M4 5h2m3 0h1M8 6h1m85 0h1M1 7h1m5 0h1m19 0h1m59 0h1m8 0h1m1 0h1M6 8h1m3 0h1m1 0h1M5 9h1M11 12h2m81 0h1m4 0h1M1 13h1m9 0h1m84 0h1" stroke="#94cc70"/>
<path d="M6 0h1m23 0h1m11 0h1m23 0h1m20 0h1M6 1h2m15 0h1M13 2h1m44 0h1m11 0h1m1 0h1m2 0h1m19 0h1M45 4h1M6 5h1M93 6h1M20 7h1m47 0h1m30 0h1M99 11h1" stroke="#a5cf4e"/>
<path d="M77 1h1M21 2h1m24 0h1M8 7h1M3 8h1M10 12h1M97 13h1" stroke="#bdd639"/>
<path d="M51 0h1" stroke="#d8e027"/>
</g>
<g transform="translate(1126.2 1185.20) scale(2.6550 6.3929)" shape-rendering="crispEdges" fill="none" stroke-width="1.03" stroke-linejoin="miter">
<path d="M0 3H100" stroke="#7ac8a6" stroke-width="7"/>
<path d="M53 1h1M46 2h1m3 0h1m20 0h3" stroke="#42a1e0"/>
<path d="M50 1h1m1 0h1m1 0h2m8 0h1m1 0h2m6 0h1M43 2h3m3 0h1m1 0h2m6 0h1m6 0h2m1 0h1m4 0h1m16 0h2" stroke="#3dbfef"/>
<path d="M3 0h1m90 0h1M26 1h1m19 0h4m1 0h1m4 0h1m6 0h1m1 0h1m2 0h3m1 0h1m7 0h1M0 2h1m7 0h1m38 0h2m4 0h1m6 0h2m6 0h1m1 0h1m4 0h2m6 0h6m1 0h1M87 5h1m9 0h1" stroke="#54c4e1"/>
<path d="M2 0h1m4 0h1M14 1h1m12 0h1m16 0h2m12 0h2m11 0h1m1 0h1m1 0h1m3 0h1m3 0h2m1 0h1M1 2h1m3 0h2m2 0h1m2 0h1m41 0h1m1 0h1m1 0h1m6 0h1m12 0h1m1 0h3m6 0h1m3 0h1m2 0h1m1 0h1M12 5h1m55 0h1m26 0h2m2 0h1M16 6h1m74 0h1m2 0h1" stroke="#64c7ce"/>
<path d="M8 0h1m1 0h1m11 0h2m1 0h1m22 0h1m23 0h1m15 0h2m2 0h1m2 0h1m1 0h1M9 1h2m2 0h1m1 0h2m8 0h1m2 0h1m2 0h1m7 0h1m1 0h1m15 0h1m4 0h1m13 0h3m2 0h2m2 0h1m1 0h1m2 0h1m1 0h1m4 0h2M2 2h3m5 0h2m50 0h1m14 0h1m1 0h1m14 0h2m1 0h1m1 0h1M9 5h1m1 0h1m55 0h1m1 0h2m1 0h1m15 0h2m3 0h2m3 0h1M4 6h1m2 0h2m5 0h1m77 0h1m4 0h1" stroke="#72c9bb"/>
<path d="M20 0h1m6 0h3m1 0h1m2 0h2m2 0h3m1 0h2m5 0h4m2 0h1m3 0h1m4 0h1m2 0h1m3 0h1m7 0h1m2 0h1m1 0h1m8 0h1M4 1h2m1 0h2m25 0h3m5 0h1m18 0h1m34 0h1M13 2h1m10 0h1m3 0h1m9 0h2m1 0h1m22 0h1M2 3h3m1 0h2m9 0h2m59 0h2m1 0h1m2 0h4m7 0h2m2 0h1M7 4h7m4 0h1m51 0h2m1 0h1m1 0h2m3 0h1m4 0h2m4 0h1m1 0h1m1 0h1M0 5h1m1 0h3m3 0h1m1 0h1m2 0h1m9 0h1m15 0h1m1 0h1m6 0h1m7 0h1m3 0h3m2 0h1m8 0h1m1 0h1m3 0h2m4 0h1m3 0h1m1 0h1M1 6h3m5 0h1m1 0h1m5 0h1m2 0h1m64 0h2m3 0h1" stroke="#82c892"/>
<path d="M11 0h1m2 0h2m1 0h1m18 0h2m6 0h3m13 0h1m7 0h3m3 0h1m1 0h1m8 0h2M0 1h2m4 0h1m30 0h2m56 0h1M25 2h1m14 0h1M76 3h2M69 4h1M1 5h1m4 0h1m12 0h4m3 0h1m13 0h1m1 0h1m6 0h1m1 0h3m3 0h1m5 0h1m15 0h1m2 0h1m1 0h1M21 6h1m8 0h2m22 0h1m20 0h3m4 0h1" stroke="#94cc70"/>
<path d="M18 0h2m27 0h1m8 0h1m1 0h1m2 0h3M17 1h1m1 0h5M18 2h1m1 0h1m2 0h1m2 0h2m1 0h1m1 0h1m4 0h1M35 3h1m39 0h1M31 4h1m1 0h1m1 0h3m1 0h2m24 0h4M16 5h3m10 0h1m2 0h1m4 0h1m7 0h1m1 0h1m2 0h1m3 0h2m8 0h1m8 0h1m1 0h1m7 0h1M27 6h1m1 0h1m2 0h1m1 0h2m5 0h1m8 0h4m5 0h2m1 0h1m9 0h3" stroke="#a5cf4e"/>
<path d="M13 0h1m2 0h1M21 2h2m7 0h1m1 0h2m1 0h1m1 0h1M21 3h1m1 0h12m1 0h7m30 0h2M21 4h10m1 0h1m1 0h1m3 0h1m2 0h2m13 0h1m6 0h2M25 5h1m1 0h2m2 0h1m1 0h1m1 0h2m1 0h1m5 0h1m1 0h1M24 6h2m2 0h1m4 0h1m6 0h1m1 0h1m6 0h1m5 0h3m6 0h2m1 0h1m1 0h3" stroke="#bdd639"/>
<path d="M15 2h3m16 0h1M20 3h1m1 0h1m31 0h5m5 0h6m1 0h2M19 4h2m26 0h1m1 0h7m1 0h6M15 5h1m14 0h1m3 0h1m8 0h1M23 6h1m2 0h1m9 0h4m7 0h1m10 0h1m2 0h1m1 0h1m2 0h1m1 0h1" stroke="#d8e027"/>
<path d="M19 3h1m26 0h8m5 0h5m6 0h1M46 4h1m1 0h1M14 5h1M22 6h1m23 0h1m1 0h1" stroke="#f4eb1e"/>
<path d="M12 0h1M18 1h1M14 2h1M44 3h2M45 4h1M45 6h1" stroke="#facc19"/>
<path d="M43 3h1M44 4h1" stroke="#f9a518"/>
<path d="M44 6h1" stroke="#f37121"/>
<path d="M43 4h1M43 6h1" stroke="#e92024"/>
</g>
<g transform="translate(1401.2 1185.20) scale(2.6575 6.3929)" shape-rendering="crispEdges" fill="none" stroke-width="1.03" stroke-linejoin="miter">
<path d="M0 3H100" stroke="#82c892" stroke-width="7"/>
<path d="M32 4h1M0 5h1m85 0h1" stroke="#42a1e0"/>
<path d="M34 1h1M0 2h2m3 0h2m8 0h1m16 0h2m10 0h1m6 0h1m4 0h1m32 0h1m7 0h2M17 3h3m1 0h2m19 0h1M4 4h1m11 0h1m16 0h1m19 0h1M2 5h1m76 0h1m5 0h1" stroke="#3dbfef"/>
<path d="M2 0h1m9 0h1m13 0h1m61 0h1m2 0h1M24 1h1m8 0h1m26 0h1m27 0h1M2 2h3m2 0h1m1 0h1m4 0h1m1 0h1m1 0h4m12 0h1m2 0h1m2 0h1m1 0h1m4 0h1m2 0h1m1 0h1m4 0h3m2 0h2m1 0h1m1 0h2m5 0h1m5 0h1m1 0h2m4 0h1m2 0h1M20 3h1m78 0h1M25 4h1m18 0h1m21 0h1m25 0h1m3 0h1M3 5h1m20 0h1m16 0h1m21 0h2m17 0h1m7 0h1" stroke="#54c4e1"/>
<path d="M1 0h1m8 0h1m16 0h1m1 0h1m2 0h1M0 1h1m27 0h2m31 0h1m18 0h1m1 0h1m1 0h1m1 0h1m2 0h1m3 0h1M8 2h1m1 0h1m1 0h1m4 0h1m10 0h1m1 0h2m11 0h1m1 0h2m2 0h1m4 0h1m5 0h2m17 0h1m1 0h1m3 0h1m6 0h1m1 0h1m4 0h1M11 3h1m13 0h1m3 0h1m4 0h1m15 0h1m10 0h2m2 0h1m4 0h1m7 0h1M3 4h1m1 0h1m1 0h1m7 0h1m8 0h1m6 0h1m7 0h1m9 0h1m17 0h1m1 0h1m2 0h1M1 5h1m3 0h1m1 0h1m4 0h1m5 0h1m1 0h1m7 0h3m3 0h1m11 0h1m3 0h1m6 0h1m1 0h1m7 0h1m12 0h2m2 0h1m2 0h1m4 0h1M8 6h1m5 0h1m38 0h1" stroke="#64c7ce"/>
<path d="M0 0h1m2 0h1m7 0h1m4 0h1m3 0h1m9 0h2m7 0h1m1 0h1m6 0h1m1 0h1m16 0h1m13 0h1m7 0h1m8 0h1M1 1h1m1 0h1m1 0h1m1 0h2m17 0h1m3 0h1m5 0h1m7 0h1m2 0h2m10 0h1m2 0h1m2 0h2m12 0h1m1 0h1m3 0h1m1 0h1M11 2h1m1 0h1m8 0h1m3 0h2m1 0h1m8 0h2m1 0h1m11 0h1m15 0h1m1 0h3m1 0h4m8 0h1m2 0h1M5 3h3m1 0h1m6 0h1m9 0h1m4 0h1m1 0h1m1 0h1m18 0h1m8 0h1m2 0h3m4 0h1m17 0h1m1 0h1M6 4h1m2 0h1m1 0h1m9 0h1m24 0h1m13 0h1m15 0h1m8 0h3m3 0h1m5 0h2M4 5h1m1 0h1m1 0h1m1 0h2m1 0h1m1 0h2m6 0h1m7 0h2m12 0h1m1 0h1m4 0h1m7 0h1m1 0h1m5 0h2m2 0h1m15 0h2m3 0h1m3 0h1M7 6h1m11 0h2m63 0h1m2 0h2" stroke="#72c9bb"/>
<path d="M4 0h1m1 0h1m1 0h1m6 0h1m5 0h3m10 0h1m3 0h1m1 0h1m1 0h1m3 0h1m5 0h3m2 0h1m7 0h2m6 0h1m4 0h3m1 0h1m1 0h1m2 0h1m5 0h1M2 1h1m1 0h1m9 0h1m4 0h1m3 0h1m3 0h1m7 0h1m1 0h3m5 0h1m3 0h2m1 0h1m3 0h2m14 0h1m4 0h1m5 0h1m8 0h1m3 0h2M23 2h1m11 0h1m12 0h1m6 0h1m8 0h1m1 0h1m19 0h1m6 0h1m1 0h2M0 3h1m22 0h2m15 0h2m4 0h1m4 0h1m5 0h3m9 0h1m1 0h1m3 0h2m2 0h1m10 0h1m4 0h2M0 4h1m7 0h1m1 0h1m16 0h1m14 0h1m7 0h1m1 0h1m4 0h1m1 0h1m5 0h1m5 0h1m2 0h1m2 0h2m1 0h1m1 0h2m5 0h1M19 5h1m1 0h2m10 0h1m1 0h2m6 0h2m3 0h2m1 0h1m6 0h1m6 0h1m25 0h1m2 0h1M0 6h1m4 0h2m8 0h1m1 0h1m9 0h1m9 0h1m2 0h4m8 0h1m4 0h1m6 0h1m1 0h1m3 0h1m20 0h1m3 0h2" stroke="#7ac8a6"/>
<path d="M5 0h1m3 0h1m8 0h1m5 0h1m26 0h1m4 0h1m1 0h1m1 0h1m2 0h1m6 0h3m2 0h1m14 0h1m3 0h1M6 1h1m10 0h1m2 0h2m3 0h1m6 0h1m7 0h1m1 0h1m8 0h1m1 0h1m1 0h1m12 0h3m2 0h2m3 0h1m15 0h1m3 0h1M1 3h1m28 0h1m1 0h1m19 0h1m11 0h1m32 0h1M12 4h3m3 0h1m1 0h1m1 0h1m7 0h1m3 0h1m3 0h1m1 0h1m2 0h1m3 0h1m25 0h1m1 0h1m3 0h1m4 0h1m5 0h1m4 0h1M14 5h1m10 0h1m1 0h1m12 0h1m14 0h1m10 0h1m10 0h2m17 0h1M1 6h1m1 0h1m7 0h1m1 0h1m8 0h1m2 0h1m2 0h1m2 0h1m12 0h1m1 0h4m1 0h1m9 0h1m7 0h1m2 0h4m1 0h1m1 0h1m1 0h1m10 0h3" stroke="#94cc70"/>
<path d="M13 0h1m33 0h1m1 0h1m9 0h1m4 0h1m12 0h1m17 0h1M13 1h1m1 0h1m25 0h1m16 0h1m17 0h1M15 3h1m11 0h1m15 0h1m9 0h1m28 0h4m8 0h1M2 4h1m25 0h2m33 0h1M26 5h1m12 0h1m35 0h1m22 0h1M2 6h1m1 0h1m5 0h1m5 0h1m1 0h1m4 0h1m2 0h1m3 0h1m5 0h1m1 0h1m17 0h1m2 0h1m2 0h2m3 0h1m8 0h1m8 0h2m3 0h1m7 0h1" stroke="#a5cf4e"/>
<path d="M43 0h1M10 1h1m1 0h1M13 3h2m33 0h1m32 0h1M26 4h1m29 0h1M37 5h1m36 0h1M12 6h1m16 0h1m3 0h2m10 0h1m4 0h1m3 0h2" stroke="#bdd639"/>
<path d="M76 0h1M11 1h1M41 4h1" stroke="#d8e027"/>
</g>
<g transform="translate(1675 1185.20) scale(2.6700 6.3929)" shape-rendering="crispEdges" fill="none" stroke-width="1.03" stroke-linejoin="miter">
<path d="M0 3H100" stroke="#7ac8a6" stroke-width="7"/>
<path d="M81 4h1" stroke="#42a1e0"/>
<path d="M94 0h1M42 1h1m5 0h2m31 0h2m5 0h1m6 0h1M34 2h1M89 4h1M94 6h1" stroke="#3dbfef"/>
<path d="M3 0h1m27 0h1m10 0h1m33 0h1m18 0h1M0 1h2m12 0h1m21 0h1m3 0h1m5 0h2m9 0h1m9 0h1m17 0h1m11 0h1m1 0h1M8 2h1m1 0h1m4 0h1m15 0h1m47 0h1m12 0h2M41 3h1M5 4h1m12 0h1m8 0h1m1 0h1m5 0h1m13 0h1m6 0h1m2 0h1m9 0h1M2 5h1m11 0h1m36 0h1M7 6h1m33 0h1" stroke="#54c4e1"/>
<path d="M1 0h1m38 0h1m2 0h1m6 0h1m9 0h1m16 0h1M7 1h1m1 0h1m1 0h1m5 0h1m6 0h1m3 0h2m5 0h1m7 0h1m1 0h1m12 0h1m1 0h5m1 0h1m3 0h1m1 0h1m1 0h1m5 0h1m2 0h1m2 0h1m4 0h1m6 0h1M9 2h1m6 0h2m11 0h1m2 0h1m22 0h1m3 0h1m13 0h1m4 0h1m1 0h2M2 3h2m11 0h2m19 0h1m12 0h1m10 0h1m14 0h2m17 0h1M4 4h1m5 0h3m4 0h1m7 0h2m5 0h1m17 0h1m3 0h1m9 0h4m5 0h2m4 0h2m15 0h1m2 0h1M0 5h1m2 0h1m3 0h2m1 0h1m1 0h1m5 0h2m11 0h3m1 0h1m2 0h1m3 0h1m3 0h1m1 0h3m10 0h1m11 0h1m6 0h1M6 6h1m5 0h1m5 0h3m8 0h1m24 0h2m7 0h1m17 0h1m3 0h3m3 0h1" stroke="#64c7ce"/>
<path d="M4 0h1m1 0h1m10 0h1m12 0h1m18 0h1m1 0h1m7 0h1m10 0h1m3 0h2m3 0h1m6 0h4m2 0h1M2 1h1m1 0h1m3 0h1m1 0h1m5 0h1m4 0h1m1 0h1m1 0h2m3 0h1m1 0h3m2 0h3m4 0h1m5 0h1m5 0h1m2 0h1m5 0h1m2 0h1m6 0h1m11 0h1m1 0h2m2 0h2m1 0h1M5 2h2m6 0h1m4 0h2m1 0h2m7 0h1m2 0h1m1 0h1m1 0h3m8 0h2m1 0h3m6 0h1m6 0h1m2 0h1m4 0h1m8 0h1m1 0h1m7 0h2m2 0h1M0 3h1m3 0h3m1 0h1m14 0h2m2 0h1m2 0h1m20 0h1m7 0h1m4 0h1m23 0h2m3 0h1m1 0h2M6 4h1m1 0h1m10 0h1m4 0h1m3 0h1m1 0h1m3 0h1m3 0h1m8 0h1m3 0h1m3 0h1m1 0h1m3 0h1m6 0h1m2 0h2m2 0h1m1 0h1m4 0h1m4 0h1m3 0h1m3 0h1M5 5h2m2 0h1m1 0h1m3 0h2m4 0h1m7 0h1m4 0h1m1 0h1m3 0h2m13 0h2m6 0h1m6 0h1m1 0h1m1 0h1m1 0h1m2 0h1m1 0h2m2 0h2m1 0h1m5 0h3M0 6h1m4 0h1m2 0h1m4 0h3m1 0h1m3 0h1m6 0h1m1 0h2m3 0h1m6 0h1m5 0h1m4 0h1m13 0h1m1 0h2m1 0h1m4 0h1m4 0h3m10 0h2m1 0h1" stroke="#72c9bb"/>
<path d="M0 0h1m7 0h1m5 0h1m1 0h1m2 0h1m2 0h1m1 0h1m2 0h1m1 0h1m2 0h1m3 0h1m1 0h1m9 0h1m4 0h1m4 0h1m3 0h2m5 0h1m1 0h1m19 0h1M5 1h1m7 0h1m8 0h1m29 0h2m19 0h1m2 0h1m7 0h1M1 2h1m2 0h1m2 0h1m28 0h1m4 0h1m4 0h1m3 0h1m5 0h1m4 0h1m1 0h1m12 0h2m9 0h2M14 3h1m10 0h1m2 0h1m6 0h1m1 0h1m7 0h1m1 0h1m4 0h1m3 0h1m4 0h2m9 0h3m2 0h1m3 0h3m2 0h1m3 0h1m1 0h1M1 4h1m5 0h1m5 0h2m6 0h3m9 0h1m2 0h2m5 0h1m18 0h1m7 0h1m5 0h1m7 0h1m8 0h2m2 0h2M24 5h1m3 0h1m1 0h1m13 0h1m9 0h1m2 0h3m5 0h1m1 0h1m7 0h1m1 0h2m4 0h2m5 0h1m8 0h1M2 6h1m8 0h1m4 0h1m5 0h1m3 0h1m13 0h1m11 0h1m4 0h2m1 0h1m3 0h2m8 0h1m1 0h1m3 0h1m7 0h3m1 0h2" stroke="#82c892"/>
<path d="M5 0h1m3 0h3m13 0h1m9 0h1m3 0h1m4 0h1m9 0h1m9 0h3m1 0h1m3 0h1m9 0h1m1 0h1m13 0h1M54 1h1m22 0h2M12 2h1m13 0h2m15 0h1m20 0h1m31 0h2M9 3h1m7 0h1m2 0h1m1 0h1m3 0h1m2 0h1m3 0h1m6 0h1m13 0h1m2 0h2m7 0h1m18 0h1m5 0h1M16 4h1m23 0h2m4 0h1M22 5h1m37 0h1m3 0h1m1 0h1m25 0h1M3 6h2m18 0h3m12 0h1m20 0h1m18 0h1m18 0h1" stroke="#94cc70"/>
<path d="M21 0h1m12 0h1m21 0h2m20 0h1m2 0h1m3 0h1m11 0h1M3 1h1M72 2h1M10 3h2m6 0h1m2 0h1m12 0h1m3 0h1m5 0h1m22 0h1m3 0h1m7 0h1M39 4h1M23 5h1m69 0h1" stroke="#a5cf4e"/>
<path d="M19 3h1m23 0h1m2 0h1m23 0h1" stroke="#bdd639"/>
</g>
<g transform="translate(1126.2 1236.20) scale(2.6550 6.4000)" shape-rendering="crispEdges" fill="none" stroke-width="1.03" stroke-linejoin="miter">
<path d="M0 2H100" stroke="#72c9bb" stroke-width="5"/>
<path d="M53 0h1m3 0h1" stroke="#42a1e0"/>
<path d="M21 0h1m21 0h3m1 0h2m2 0h1m2 0h3m1 0h1m2 0h1M63 1h1M29 2h1m2 0h1m21 0h1M66 4h1" stroke="#3dbfef"/>
<path d="M20 0h1m1 0h1m2 0h1m2 0h1m17 0h1m2 0h2m1 0h1m6 0h2m1 0h3m19 0h1M34 1h1m2 0h2m14 0h1m10 0h1m5 0h1M23 2h2m2 0h2m1 0h2m1 0h1m3 0h2m2 0h1m1 0h1m7 0h3m1 0h1m2 0h1m4 0h2M53 4h1m2 0h2m13 0h1" stroke="#54c4e1"/>
<path d="M8 0h1m7 0h2m5 0h1m3 0h1m1 0h3m35 0h1m1 0h2m4 0h1m7 0h1M14 1h1m1 0h1m6 0h1m6 0h3m16 0h1m1 0h2m1 0h1m3 0h2m5 0h3m1 0h1m5 0h1m21 0h1M6 2h1m7 0h1m2 0h1m1 0h1m1 0h1m3 0h2m7 0h3m3 0h1m1 0h1m2 0h2m1 0h1m7 0h2m3 0h2M10 4h1m18 0h1m2 0h1m12 0h1m5 0h2m1 0h2m2 0h1m6 0h1m1 0h2m1 0h1m1 0h1m2 0h1m1 0h1m3 0h1m3 0h1m11 0h1" stroke="#64c7ce"/>
<path d="M4 0h2m6 0h3m18 0h1m3 0h1m3 0h1m31 0h1m3 0h1m8 0h4m8 0h1M2 1h1m1 0h1m1 0h1m4 0h1m7 0h2m4 0h5m9 0h1m2 0h1m2 0h1m1 0h1m8 0h1m11 0h1m5 0h1m4 0h1m3 0h2m1 0h1m2 0h1m8 0h1M10 2h1m1 0h1m36 0h1m15 0h3m1 0h2m3 0h1m3 0h3m9 0h1m3 0h1m3 0h2M0 3h4m6 0h1m3 0h1m8 0h1m4 0h1m3 0h1m1 0h1m5 0h1m5 0h1m5 0h6m2 0h2m2 0h4m11 0h6m2 0h2m3 0h1m3 0h2m1 0h1M3 4h1m2 0h3m5 0h1m1 0h1m1 0h1m16 0h3m3 0h1m1 0h1m16 0h3m13 0h1m5 0h1m5 0h1m2 0h1m7 0h1" stroke="#7ac8a6"/>
<path d="M0 0h4m67 0h2m24 0h1m1 0h1M0 1h2m10 0h1m5 0h1m2 0h1m2 0h1m16 0h1m30 0h1m3 0h1m1 0h1m1 0h3m2 0h1m4 0h1m2 0h1m1 0h1M0 2h1m1 0h1m1 0h1m2 0h2m63 0h2m2 0h1m4 0h1m1 0h1m2 0h4m5 0h3M8 3h1m2 0h2m5 0h1m5 0h1m4 0h1m8 0h1m5 0h2m2 0h2m1 0h1m7 0h1m3 0h1m6 0h1m7 0h1m6 0h2m2 0h3m2 0h1m3 0h1M1 4h2m1 0h2m18 0h1m6 0h1m6 0h3m1 0h1m20 0h1m22 0h2m1 0h2m3 0h1" stroke="#82c892"/>
<path d="M88 1h1m3 0h1M3 2h1m67 0h1m3 0h1m1 0h1M4 3h1m1 0h1m2 0h1m3 0h1m1 0h2m2 0h4m2 0h2m3 0h2m3 0h1m1 0h1m1 0h1m2 0h2m3 0h1m2 0h1m20 0h5m17 0h1m1 0h1M19 4h1m5 0h1m67 0h1" stroke="#94cc70"/>
<path d="M91 1h1M1 2h1m82 0h1M5 3h1m11 0h1m18 0h1m39 0h2M17 4h1m74 0h1" stroke="#a5cf4e"/>
<path d="M7 3h1" stroke="#bdd639"/>
</g>
<g transform="translate(1401.2 1236.20) scale(2.6575 6.4000)" shape-rendering="crispEdges" fill="none" stroke-width="1.03" stroke-linejoin="miter">
<path d="M0 2H100" stroke="#82c892" stroke-width="5"/>
<path d="M21 1h1m45 0h1m2 0h1m13 0h1M54 2h1M49 3h1m40 0h1m3 0h1" stroke="#3dbfef"/>
<path d="M13 1h2m14 0h1m6 0h1m6 0h1m33 0h1m13 0h1m2 0h1M7 2h1m1 0h1m36 0h1m22 0h1m23 0h1M48 3h1m1 0h1m2 0h1m25 0h1M24 4h1m1 0h1m1 0h1" stroke="#54c4e1"/>
<path d="M1 1h1m4 0h3m1 0h1m4 0h1m14 0h1m2 0h1m1 0h1m3 0h1m21 0h2m3 0h1m6 0h4m3 0h1m5 0h2m7 0h3m1 0h1M6 2h1m11 0h1m40 0h1m8 0h1m5 0h2m8 0h1M6 3h1m14 0h1m13 0h1m6 0h1m3 0h2m14 0h1M5 4h1m16 0h1m14 0h1m15 0h1m8 0h1m8 0h1m11 0h1" stroke="#64c7ce"/>
<path d="M10 0h1m22 0h1m62 0h1M0 1h1m11 0h1m4 0h1m10 0h1m5 0h1m6 0h1m5 0h1m2 0h1m9 0h1m2 0h1m5 0h1m9 0h1m1 0h1m3 0h1m4 0h1m7 0h1M8 2h1m10 0h2m5 0h1m8 0h1m9 0h1m1 0h1m25 0h1m2 0h1M5 3h1m12 0h2m6 0h1m18 0h1m5 0h1m2 0h1m9 0h1m5 0h1m1 0h1m3 0h1m4 0h1m9 0h1m1 0h1M0 4h1m5 0h1m10 0h1m9 0h1m16 0h1m18 0h1m15 0h1m4 0h1m8 0h1m3 0h1" stroke="#72c9bb"/>
<path d="M4 0h1m6 0h1m31 0h1m10 0h1m35 0h1m6 0h1M3 1h3m3 0h1m1 0h1m4 0h1m1 0h1m1 0h1m1 0h4m5 0h1m8 0h1m1 0h1m1 0h3m6 0h3m8 0h2m2 0h1m9 0h1m4 0h1m4 0h2m3 0h1M1 2h2m2 0h1m4 0h1m2 0h1m7 0h1m5 0h1m1 0h1m6 0h4m3 0h1m12 0h1m3 0h1m4 0h1m4 0h1m9 0h1m2 0h1m6 0h1m1 0h1m1 0h2M3 3h1m3 0h1m6 0h1m8 0h1m3 0h2m8 0h1m3 0h1m1 0h1m8 0h1m2 0h1m4 0h2m3 0h1m7 0h1m1 0h1m2 0h1m13 0h1m2 0h2m2 0h1M10 4h2m4 0h1m3 0h1m4 0h1m7 0h1m1 0h1m2 0h1m25 0h2m4 0h1m1 0h1m7 0h1m1 0h1m3 0h1m4 0h1m4 0h1" stroke="#7ac8a6"/>
<path d="M3 0h1m1 0h1m1 0h2m3 0h1m3 0h1m8 0h2m2 0h1m4 0h3m8 0h1m5 0h1m7 0h4m9 0h1m14 0h1M19 1h1m18 0h1m13 0h1M24 2h1m6 0h1m2 0h1m5 0h1m3 0h1m4 0h1m1 0h1m19 0h1m6 0h1m8 0h1m1 0h1m1 0h1m7 0h1M4 3h1m4 0h2m1 0h2m1 0h1m6 0h1m6 0h1m33 0h1m2 0h1m2 0h1m7 0h1m4 0h1m4 0h1m1 0h1M1 4h1m7 0h1m3 0h1m20 0h1m5 0h2m4 0h1m5 0h1m2 0h1m4 0h2m5 0h1m9 0h1m9 0h2m1 0h1m7 0h2" stroke="#94cc70"/>
<path d="M1 0h2m16 0h1m2 0h1m4 0h2m1 0h1m6 0h1m1 0h3m11 0h1m1 0h1m2 0h1m5 0h1m3 0h1m2 0h1m2 0h1m5 0h1m7 0h2m2 0h1m5 0h1M51 1h1m5 0h2M3 2h1m7 0h1m11 0h1m1 0h1m26 0h2m7 0h2m33 0h1M0 3h1m10 0h1m24 0h1m34 0h1m12 0h3M7 4h2m10 0h1m1 0h1m7 0h1m1 0h2m3 0h1m11 0h1m8 0h2m9 0h1m6 0h1m5 0h1" stroke="#a5cf4e"/>
<path d="M0 0h1m13 0h1m2 0h1m28 0h2m4 0h1m3 0h2m8 0h1m2 0h2m6 0h1m5 0h3m5 0h1m1 0h1M12 2h1m1 0h1m1 0h1m11 0h1m1 0h1m10 0h2m7 0h1m31 0h1m15 0h1M32 3h1m6 0h1m27 0h1M2 4h2m38 0h1m2 0h1m3 0h1m4 0h1m14 0h1m24 0h1" stroke="#bdd639"/>
<path d="M6 0h1m8 0h1m5 0h1m1 0h2m38 0h1m1 0h1m15 0h2M67 2h1m13 0h1M30 4h1m28 0h1" stroke="#d8e027"/>
<path d="M32 0h1m9 0h1m33 0h1m2 0h1" stroke="#f4eb1e"/>
</g>
<g transform="translate(1675 1236.20) scale(2.6700 6.4000)" shape-rendering="crispEdges" fill="none" stroke-width="1.03" stroke-linejoin="miter">
<path d="M0 2H100" stroke="#7ac8a6" stroke-width="5"/>
<path d="M15 0h1m14 0h1m9 0h1" stroke="#4174bd"/>
<path d="M16 0h1m9 0h2m1 0h1m6 0h2M38 1h1m5 0h1m3 0h1m17 0h1" stroke="#42a1e0"/>
<path d="M8 0h1m5 0h1m2 0h4m1 0h2m1 0h1m5 0h1m1 0h1m1 0h1m3 0h1m7 0h2m10 0h1m8 0h2m1 0h1m11 0h1M19 1h1m1 0h1m3 0h3m3 0h1m13 0h1m3 0h1m8 0h4m8 0h1m3 0h3m1 0h2m1 0h1M85 2h1M90 3h1" stroke="#3dbfef"/>
<path d="M5 0h1m15 0h1m2 0h1m3 0h1m3 0h1m11 0h1m5 0h1m2 0h1m1 0h1m1 0h2m1 0h1m4 0h1m7 0h1m1 0h1m15 0h1m4 0h1m1 0h1M7 1h1m10 0h1m1 0h1m1 0h1m9 0h2m8 0h2m3 0h1m2 0h1m11 0h1m2 0h1m5 0h1m5 0h1m2 0h1m6 0h1M8 2h1m10 0h1m3 0h1m6 0h1m5 0h1m57 0h2M9 3h1m16 0h1m6 0h1M31 4h1m64 0h1" stroke="#54c4e1"/>
<path d="M4 0h1m2 0h1m5 0h1m20 0h1m3 0h1m12 0h1m9 0h1m2 0h1m1 0h1m5 0h1m3 0h1m5 0h1m1 0h1m7 0h2M4 1h3m16 0h2m3 0h2m4 0h1m4 0h1m6 0h1m4 0h1m1 0h3m8 0h1m4 0h1m2 0h2m8 0h2m2 0h1m1 0h1m8 0h1M20 2h1m3 0h1m2 0h1m4 0h1m26 0h1m7 0h1m29 0h1M7 3h2m6 0h1m16 0h1m7 0h1m10 0h2m10 0h1m3 0h1m18 0h1m2 0h1m1 0h1M10 4h1m5 0h2m17 0h1m1 0h1m27 0h1m3 0h1m14 0h1" stroke="#64c7ce"/>
<path d="M11 0h1m33 0h2m7 0h1m8 0h1m6 0h1m3 0h1m2 0h1m9 0h2m8 0h1m1 0h1M3 1h1m26 0h1m5 0h2m2 0h2m10 0h1m3 0h2m10 0h1m16 0h1m10 0h1m2 0h1M1 2h1m5 0h1m3 0h1m9 0h2m5 0h1m2 0h1m1 0h1m6 0h1m7 0h1m3 0h1m5 0h1m2 0h1m1 0h1m4 0h1m1 0h1m1 0h1m2 0h1m3 0h3m8 0h1m1 0h1M1 3h1m2 0h1m9 0h1m2 0h1m1 0h3m1 0h1m1 0h1m8 0h1m1 0h2m3 0h1m3 0h1m2 0h1m1 0h1m2 0h2m3 0h1m1 0h1m3 0h1m9 0h3m5 0h1m2 0h1m11 0h1m1 0h1M1 4h1m5 0h1m5 0h3m2 0h1m4 0h1m6 0h1m9 0h1m10 0h1m1 0h1m22 0h1m5 0h1m14 0h1" stroke="#72c9bb"/>
<path d="M1 0h2m3 0h1m55 0h1m16 0h1M2 1h1m5 0h1m4 0h3m73 0h2m1 0h1m2 0h1M3 2h1m5 0h2m2 0h1m15 0h1m8 0h1m5 0h1m2 0h1m2 0h1m3 0h1m2 0h1m7 0h2m21 0h1m2 0h1m6 0h2M3 3h1m1 0h1m7 0h1m25 0h1m2 0h1m3 0h2m9 0h1m1 0h1m12 0h1m6 0h1m3 0h1m8 0h1m5 0h1M4 4h1m1 0h1m4 0h1m7 0h1m1 0h2m6 0h1m6 0h1m2 0h1m4 0h1m1 0h1m2 0h2m1 0h1m2 0h1m2 0h1m5 0h1m6 0h1m3 0h1m1 0h2m2 0h1m3 0h1m2 0h3m1 0h3m4 0h1" stroke="#82c892"/>
<path d="M41 0h1m1 0h1m37 0h1M12 1h1m78 0h1m6 0h1M2 2h1m1 0h2m33 0h1m11 0h1m3 0h1m8 0h1m11 0h1m6 0h1M2 3h1m8 0h2m9 0h1m4 0h1m1 0h2m4 0h1m2 0h1m16 0h1m9 0h1m3 0h2m6 0h1m2 0h1m6 0h1M12 4h1m11 0h1m1 0h3m16 0h1m2 0h1m8 0h1m3 0h1m1 0h1m2 0h1m7 0h1m5 0h1m5 0h1" stroke="#94cc70"/>
<path d="M94 1h1M14 2h1m30 0h1m10 0h1m20 0h1M0 3h1m5 0h1m21 0h1m44 0h1m4 0h1M5 4h1m41 0h1m6 0h1m17 0h1m6 0h1" stroke="#a5cf4e"/>
<path d="M93 1h1M0 2h1m41 0h2M43 3h1" stroke="#bdd639"/>
<path d="M42 4h2" stroke="#d8e027"/>
<path d="M41 2h1" stroke="#f4eb1e"/>
<path d="M41 4h1" stroke="#facc19"/>
</g>
<g transform="translate(1126.2 1275.06) scale(2.6550 6.6250)" shape-rendering="crispEdges" fill="none" stroke-width="1.03" stroke-linejoin="miter">
<path d="M0 0.5H100" stroke="#82c892" stroke-width="2"/>
<path d="M4 0h2m4 0h1M4 1h1" stroke="#54c4e1"/>
<path d="M1 0h1m49 0h2m2 0h1m15 0h1m4 0h1m17 0h1m3 0h1M1 1h3m3 0h1" stroke="#64c7ce"/>
<path d="M2 0h1m3 0h1m2 0h1m1 0h1m15 0h1m8 0h2m6 0h1m2 0h2m1 0h1m8 0h3m1 0h3m6 0h1m2 0h1m3 0h1m12 0h1m6 0h1M0 1h1m4 0h2m1 0h1m49 0h1m11 0h2m15 0h1m7 0h2" stroke="#72c9bb"/>
<path d="M0 0h1m2 0h1m3 0h2m3 0h1m12 0h1m2 0h1m3 0h1m9 0h1m3 0h1m6 0h2m1 0h2m4 0h1m5 0h1m1 0h1m2 0h2m2 0h2m10 0h3m3 0h1M11 1h1m21 0h1m2 0h1m4 0h1m3 0h1m5 0h1m3 0h2m9 0h2m4 0h1m2 0h2m1 0h3m2 0h3m3 0h1m4 0h1m3 0h2" stroke="#7ac8a6"/>
<path d="M14 0h2m6 0h1m1 0h1m5 0h2m1 0h1m5 0h1m1 0h1m25 0h1m14 0h2m4 0h1M10 1h1m1 0h1m3 0h1m1 0h3m3 0h1m1 0h2m3 0h1m2 0h1m2 0h1m4 0h1m4 0h2m1 0h1m22 0h1m19 0h1" stroke="#94cc70"/>
<path d="M16 0h1m3 0h1m60 0h1M15 1h1m1 0h1m3 0h3m6 0h1" stroke="#a5cf4e"/>
<path d="M13 0h1m5 0h1M14 1h1" stroke="#bdd639"/>
<path d="M13 1h1" stroke="#f4eb1e"/>
</g>
<g transform="translate(1401.2 1275.06) scale(2.6575 6.6250)" shape-rendering="crispEdges" fill="none" stroke-width="1.03" stroke-linejoin="miter">
<path d="M0 0.5H100" stroke="#7ac8a6" stroke-width="2"/>
<path d="M81 0h1" stroke="#3dbfef"/>
<path d="M16 0h1m77 0h2M35 1h1m50 0h1" stroke="#54c4e1"/>
<path d="M3 0h2m4 0h3m47 0h1m15 0h3m1 0h1m7 0h1M3 1h1m12 0h2m10 0h1m2 0h2m4 0h1m9 0h1m11 0h1m8 0h1m11 0h1m9 0h1m8 0h1" stroke="#64c7ce"/>
<path d="M2 0h1m2 0h3m20 0h2m24 0h1m1 0h1m15 0h3m5 0h1m1 0h2m1 0h1m6 0h1M9 1h1m2 0h1m1 0h1m7 0h1m1 0h2m4 0h1m3 0h1m3 0h2m6 0h1m3 0h1m6 0h1m7 0h2m12 0h1m5 0h1m1 0h1m5 0h1" stroke="#72c9bb"/>
<path d="M8 0h1m11 0h1m4 0h1m1 0h1m6 0h1m2 0h1m2 0h2m5 0h1m3 0h1m1 0h1m7 0h3m1 0h1m3 0h1m20 0h1m6 0h1M0 1h1m14 0h1m5 0h1m22 0h1m6 0h1m4 0h1m4 0h1m12 0h1m6 0h1m1 0h2m3 0h2" stroke="#82c892"/>
<path d="M21 0h1m11 0h1m2 0h1m2 0h1m2 0h2m1 0h1m2 0h2m8 0h1m1 0h1m6 0h2m1 0h1m20 0h1M2 1h1m2 0h1m1 0h1m10 0h2m16 0h1m5 0h2m4 0h1m11 0h1m1 0h1m4 0h1m2 0h1m5 0h1" stroke="#94cc70"/>
<path d="M13 0h1m9 0h1m14 0h1m5 0h1m1 0h1m10 0h1m6 0h1M1 1h1m6 0h1m2 0h1m8 0h1m28 0h1m4 0h2m7 0h2m6 0h3m1 0h1m18 0h2" stroke="#a5cf4e"/>
<path d="M88 0h1M45 1h1m50 0h1" stroke="#bdd639"/>
<path d="M4 1h1" stroke="#d8e027"/>
</g>
<g transform="translate(1675 1275.06) scale(2.6700 6.6250)" shape-rendering="crispEdges" fill="none" stroke-width="1.03" stroke-linejoin="miter">
<path d="M0 0.5H100" stroke="#82c892" stroke-width="2"/>
<path d="M72 0h1m10 0h1m7 0h1m3 0h1M91 1h1" stroke="#54c4e1"/>
<path d="M2 0h1m14 0h2m54 0h2m17 0h1M2 1h1m4 0h1m13 0h1" stroke="#64c7ce"/>
<path d="M9 0h1m2 0h1m22 0h2m1 0h1m18 0h1m4 0h1m8 0h1m17 0h1m4 0h1M11 1h2m20 0h1m15 0h2m4 0h2m8 0h1m2 0h1m2 0h2m2 0h1m6 0h1m11 0h1m2 0h2" stroke="#72c9bb"/>
<path d="M1 0h1m1 0h1m2 0h1m3 0h1m12 0h1m9 0h2m23 0h1m7 0h1m2 0h2m4 0h1m3 0h2m1 0h1m1 0h2m1 0h1m2 0h1m5 0h1m1 0h1M0 1h1m2 0h2m1 0h1m11 0h2m14 0h1m5 0h1m6 0h1m6 0h1m8 0h1m5 0h1m20 0h1" stroke="#7ac8a6"/>
<path d="M5 0h1m7 0h1m2 0h1m4 0h1m5 0h1m1 0h1m1 0h1m5 0h1m5 0h1m1 0h1m5 0h1m1 0h1m2 0h1m2 0h3m3 0h1m10 0h3m2 0h1M5 1h1m4 0h1m2 0h1m3 0h1m8 0h1m1 0h1m2 0h1m9 0h1m1 0h2m1 0h1m1 0h1m2 0h1m5 0h1m8 0h2m5 0h2m3 0h2m5 0h3m1 0h1m2 0h1" stroke="#94cc70"/>
<path d="M4 0h1m3 0h1m19 0h1m15 0h1m3 0h1m18 0h1M16 1h1m7 0h1m2 0h1m24 0h1m7 0h1m1 0h1m13 0h1m11 0h1" stroke="#a5cf4e"/>
<path d="M15 0h1m33 0h1M14 1h1m7 0h2m21 0h1m13 0h1m1 0h1m15 0h1m2 0h1m3 0h1m14 0h1" stroke="#bdd639"/>
<path d="M42 0h1" stroke="#d8e027"/>
<path d="M14 0h1" stroke="#facc19"/>
<path d="M41 0h1" stroke="#f37121"/>
</g>
<rect x="1108.2" y="730.8" width="10.8" height="351.8" fill="#6abd45" />
<rect x="1108.2" y="1090" width="10.8" height="86.8" fill="#5bc8ea" />
<rect x="1108.2" y="1182.8" width="10.8" height="44" fill="#3b55a5" />
<rect x="1108.2" y="1233.8" width="10.8" height="31.2" fill="#f7941e" />
<rect x="1108.2" y="1272.5" width="10.8" height="12.5" fill="#ec2024" />
<text transform="translate(1091 895.5) rotate(-90)" x="-75.1" textLength="150.1" lengthAdjust="spacingAndGlyphs" stroke="#231f20" stroke-width="0.45">Salience</text>
<text transform="translate(1091 1197) rotate(-90)" x="-69.3" textLength="138.5" lengthAdjust="spacingAndGlyphs" stroke="#231f20" stroke-width="0.45">Valence</text>
<defs><linearGradient id="jet" x1="0" y1="0" x2="0" y2="1"><stop offset="0.000" stop-color="#7a1214"/><stop offset="0.063" stop-color="#a81a1e"/><stop offset="0.151" stop-color="#ec2024"/><stop offset="0.195" stop-color="#f04e23"/><stop offset="0.239" stop-color="#f7941d"/><stop offset="0.294" stop-color="#fbb015"/><stop offset="0.371" stop-color="#f9ed1d"/><stop offset="0.437" stop-color="#cfdc2a"/><stop offset="0.492" stop-color="#a5cf4e"/><stop offset="0.547" stop-color="#82c892"/><stop offset="0.613" stop-color="#70c9c0"/><stop offset="0.679" stop-color="#4cc3ea"/><stop offset="0.712" stop-color="#35bdf2"/><stop offset="0.767" stop-color="#4a8fd4"/><stop offset="0.811" stop-color="#3f6fb8"/><stop offset="0.899" stop-color="#3a55a6"/><stop offset="1.000" stop-color="#27277d"/></linearGradient></defs>
<rect x="1957" y="1035.8" width="16" height="227.2" fill="url(#jet)" />
<line x1="1957" y1="1168.8" x2="1972" y2="1168.8" stroke="#231f20" stroke-width="2.4" />
<text x="1980.7" y="1052.6" textLength="21.8" lengthAdjust="spacingAndGlyphs" stroke="#231f20" stroke-width="0.45">8</text>
<text x="1980.7" y="1183.3" textLength="21.8" lengthAdjust="spacingAndGlyphs" stroke="#231f20" stroke-width="0.45">0</text>
<text x="1980.7" y="1278.3" textLength="34.8" lengthAdjust="spacingAndGlyphs" stroke="#231f20" stroke-width="0.45">-6</text>
<rect x="2035" y="707" width="45" height="22.5" fill="#6abd45" />
<rect x="2035" y="755" width="45" height="22.5" fill="#5bc8ea" />
<rect x="2035" y="802" width="45" height="22.5" fill="#3b55a5" />
<rect x="2035" y="850" width="45" height="22.5" fill="#f7941e" />
<rect x="2035" y="897" width="45" height="22.5" fill="#ec2024" />
<text x="2095.9" y="730.9" textLength="118.2" lengthAdjust="spacingAndGlyphs" stroke="#231f20" stroke-width="0.45">reward</text>
<text x="2216.2" y="714.1" textLength="22.9" lengthAdjust="spacingAndGlyphs" stroke="#231f20" stroke-width="0.45">+</text>
<text x="2235.2" y="730.9" textLength="141.2" lengthAdjust="spacingAndGlyphs" stroke="#231f20" stroke-width="0.45">: air puff</text>
<text x="2378.7" y="714.1" textLength="22.9" lengthAdjust="spacingAndGlyphs" stroke="#231f20" stroke-width="0.45">+</text>
<text x="2095.9" y="779.1" textLength="118.2" lengthAdjust="spacingAndGlyphs" stroke="#231f20" stroke-width="0.45">reward</text>
<text x="2216.2" y="762.1" textLength="22.9" lengthAdjust="spacingAndGlyphs" stroke="#231f20" stroke-width="0.45">+</text>
<text x="2235.2" y="779.1" textLength="141.2" lengthAdjust="spacingAndGlyphs" stroke="#231f20" stroke-width="0.45">: air puff</text>
<text x="2384.2" y="763.6" textLength="13" lengthAdjust="spacingAndGlyphs" stroke="#231f20" stroke-width="0.45">-</text>
<text x="2095.9" y="826.6" textLength="199.7" lengthAdjust="spacingAndGlyphs" stroke="#231f20" stroke-width="0.45">reward only</text>
<text x="2095.2" y="875.1" textLength="118.2" lengthAdjust="spacingAndGlyphs" stroke="#231f20" stroke-width="0.45">reward</text>
<text x="2220.2" y="857.6" textLength="13" lengthAdjust="spacingAndGlyphs" stroke="#231f20" stroke-width="0.45">-</text>
<text x="2234.7" y="875.1" textLength="141.2" lengthAdjust="spacingAndGlyphs" stroke="#231f20" stroke-width="0.45">: air puff</text>
<text x="2373.7" y="857.1" textLength="22.9" lengthAdjust="spacingAndGlyphs" stroke="#231f20" stroke-width="0.45">+</text>
<text x="2095.9" y="922.6" textLength="199.7" lengthAdjust="spacingAndGlyphs" stroke="#231f20" stroke-width="0.45">air puff only</text>
<circle cx="2236.6" cy="1131" r="146.3" fill="#6abd45" stroke="#231f20" stroke-width="2.7"/>
<path d="M2236.6 1131L2280.11 991.32A146.3 146.3 0 0 1 2300.04 999.17Z" fill="#ec2024" stroke="#231f20" stroke-width="2.7" stroke-linejoin="miter"/>
<path d="M2236.6 1131L2300.04 999.17A146.3 146.3 0 0 1 2343.42 1031.04Z" fill="#f7941e" stroke="#231f20" stroke-width="2.7" stroke-linejoin="miter"/>
<path d="M2236.6 1131L2343.42 1031.04A146.3 146.3 0 0 1 2379.18 1098.21Z" fill="#3b55a5" stroke="#231f20" stroke-width="2.7" stroke-linejoin="miter"/>
<path d="M2236.6 1131L2379.18 1098.21A146.3 146.3 0 0 1 2337.49 1236.95Z" fill="#5bc8ea" stroke="#231f20" stroke-width="2.7" stroke-linejoin="miter"/>
<text x="2300.2" y="984.6" textLength="57.7" lengthAdjust="spacingAndGlyphs" stroke="#231f20" stroke-width="0.45">2%</text>
<text x="2353.7" y="1034.6" textLength="56.2" lengthAdjust="spacingAndGlyphs" stroke="#231f20" stroke-width="0.45">6%</text>
<text x="2382.7" y="1087.1" textLength="56.2" lengthAdjust="spacingAndGlyphs" stroke="#231f20" stroke-width="0.45">8%</text>
<text x="2281.4" y="1169.6" textLength="75.9" lengthAdjust="spacingAndGlyphs" stroke="#231f20" stroke-width="0.45">16%</text>
<text x="2135.2" y="1183.3" textLength="77.7" lengthAdjust="spacingAndGlyphs" stroke="#231f20" stroke-width="0.45">68%</text>
<text x="50" y="1366.5" font-size="55.8" font-weight="bold" textLength="24" lengthAdjust="spacingAndGlyphs" stroke="#231f20" stroke-width="0.8">F</text>
<rect x="100" y="1319" width="45" height="517" fill="#e6e6e5" />
<path d="M229 1319V1834" fill="none" stroke="#231f20" stroke-width="5.6" stroke-dasharray="14.6 17.4" stroke-dashoffset="11.3"/>
<path d="M119 1770H476.5" fill="none" stroke="#231f20" stroke-width="5.6" stroke-dasharray="16 16"/>
<polygon points="57,1757.7 59.6,1758.2 62.1,1757.8 64.7,1757.7 67.3,1757.5 69.9,1759.5 72.4,1759.5 75,1760.7 77.5,1760.2 80,1761.7 82.5,1761.1 85,1762.9 87.5,1763.2 90,1763 92.5,1763.9 95,1764.7 97.5,1764.1 100,1765.5 102.5,1766.7 105,1765.9 107,1767 107.9,1765 108.2,1762.9 108.6,1759.2 109,1756.1 109.4,1755.3 109.7,1752.8 110.1,1749.5 110.5,1746.2 110.8,1743.9 111.2,1742.5 111.6,1739.2 111.9,1738.3 112.3,1735 112.7,1731.5 113.1,1730.2 113.4,1727 113.8,1725.9 114.2,1723.3 114.5,1719.9 114.9,1717.7 115.3,1715.4 115.6,1713.1 116,1711.1 116.4,1706.3 116.8,1704.6 117.1,1702.7 117.4,1699.5 117.6,1697.7 117.8,1694 117.9,1693.4 118,1690.1 118.2,1686.6 118.3,1685.4 118.5,1682 118.6,1679.3 118.7,1677.5 118.9,1674.1 119,1671.8 119.1,1670.9 119.3,1668 119.4,1663.8 119.5,1663.2 119.7,1658.8 119.8,1657.1 120,1656 120.1,1652.8 120.2,1649.5 120.4,1647.2 120.5,1644.7 120.6,1641.6 120.8,1641.2 120.9,1636.4 121,1634.8 121.2,1633.1 121.3,1629.8 121.5,1628.7 121.6,1624.4 121.7,1623.7 121.9,1620.9 122,1617.9 122.1,1615.9 122.3,1612.4 122.4,1610.8 122.5,1608.2 122.7,1605 122.8,1602.4 123,1600.5 123.1,1597.3 123.2,1594 123.4,1593.1 123.5,1589.4 123.6,1587.5 123.8,1585.7 123.9,1581.7 124,1578.9 124.2,1576.6 124.3,1575.2 124.5,1572.2 124.6,1569.4 124.7,1567.4 124.9,1566 125.1,1561.9 125.4,1559.8 125.8,1558.4 126.2,1555.3 126.7,1551.9 127.1,1549.9 127.5,1547.4 127.9,1544.1 128.3,1542.2 128.8,1539.5 129.2,1538.2 129.6,1534.6 130,1532.9 130.4,1531.1 130.8,1528.5 131.2,1524.7 131.7,1522.7 132.1,1519.6 132.7,1517.3 133.8,1515 135,1513.2 136.2,1511 137.5,1507 138.8,1503.8 140.3,1502.8 142.5,1500.5 145,1499.5 147.5,1500.3 150,1498.4 152.5,1500.5 155,1500.9 157.5,1503.6 160,1504.6 162.5,1503.6 165,1504 167.5,1505.6 170,1504.5 172.5,1503.8 174.9,1504.9 177.1,1506 179.2,1506.6 181.2,1508.1 183.3,1508.6 185.4,1510.7 187.6,1511.5 190,1513.7 192.5,1514.5 195,1514.3 197.5,1516.4 200,1516 202.5,1516.9 205,1519.1 207.5,1519.5 210,1521.4 212.5,1521.6 215,1522.6 217.5,1522 220.1,1524.4 222.8,1523 225.5,1524.5 228.2,1525.5 231,1525.7 233.2,1525.3 234.4,1522.4 235,1520.5 235.6,1518.2 236.2,1514.1 236.9,1513.6 237.4,1511 237.8,1507.4 238,1505.7 238.3,1502.4 238.6,1499.5 238.8,1498 239.1,1494 239.4,1493.2 239.6,1491.1 239.9,1487 240.2,1486.1 240.4,1481.5 240.7,1480.9 241,1477 241.2,1476.1 241.5,1472.3 241.7,1471 241.9,1466.4 242.1,1464 242.4,1463.3 242.6,1460.3 242.8,1457.6 243,1453.9 243.2,1451.7 243.5,1449.7 243.7,1446.4 243.9,1446.2 244.1,1443.1 244.3,1441.1 244.6,1438 244.8,1434.6 245.1,1431.5 245.5,1430.6 245.9,1426.6 246.4,1425.1 246.9,1422.4 247.3,1420 247.8,1416.5 248.3,1414 249.1,1412.2 251,1409.5 253.2,1412.2 254.5,1414.2 255.2,1417 256,1419.2 256.8,1422.7 257.4,1424.7 258,1426.8 258.5,1429.3 259,1432.7 259.5,1436 260,1437.3 260.5,1439.2 261,1442.1 261.5,1444.4 262,1447.7 262.5,1450.7 263,1452.7 263.5,1454.3 263.9,1457.1 264.4,1459.7 264.9,1462.4 265.4,1464.8 265.9,1468.7 266.3,1470.1 266.8,1472.9 267.3,1475.5 267.8,1477.8 268.3,1480.7 268.8,1482.2 269.3,1485.4 269.9,1488.6 270.5,1489.2 271,1492.8 271.6,1494.7 272.2,1496.4 272.7,1498.9 273.3,1503.1 273.9,1504.1 274.4,1508 275,1509 275.6,1512.2 276.2,1513.9 276.9,1517.6 277.5,1520.7 278.1,1521.8 278.8,1525.2 279.4,1528.5 280,1529.5 280.6,1532.4 281.2,1535.5 281.9,1538.4 282.6,1539.2 283.3,1542.9 284.2,1544.1 285,1546.6 285.8,1551.2 286.7,1551.4 287.5,1556 288.3,1558.1 289.2,1560.4 289.9,1563.1 290.6,1565.4 291.2,1567 291.9,1569.9 292.5,1571.8 293.1,1575.9 293.8,1578.2 294.4,1580.7 295,1581.8 295.6,1585.2 296.2,1586.9 296.9,1590.7 297.5,1593.1 298.1,1596.2 298.8,1598 299.4,1600.4 300.2,1603.1 301.2,1603.8 302.5,1607.2 303.8,1608.1 305,1611.2 306.2,1612.8 307.5,1617.1 308.8,1617.1 310,1621.5 311.2,1623.8 312.6,1624.8 314.3,1627.9 316.1,1628.2 317.9,1630.6 319.6,1632.4 321.4,1634.7 323.2,1636.7 325.1,1640.6 327,1640.5 329,1643.2 331,1644 333,1645.1 335,1647.3 337,1648.2 339,1651.6 341,1651.7 343,1653.7 345,1655.2 346.9,1657 348.9,1658.4 350.8,1659.6 352.8,1661 354.7,1664.5 356.7,1664.6 358.6,1666.9 360.6,1669.5 362.6,1670.6 364.7,1672.9 366.9,1673.9 369.1,1674.6 371.2,1675 373.4,1677.4 375.6,1678.5 377.8,1680.8 380,1681.3 382.2,1683.1 384.4,1684.8 386.7,1685.3 388.9,1687.6 391.1,1689.2 393.3,1688.8 395.6,1692 397.8,1693.2 400.1,1694.4 402.5,1693.9 405,1694.2 407.5,1694.4 410,1695.4 412.5,1697.3 415,1697.2 417.5,1697.6 420,1699.5 422.5,1700.2 424.9,1702.8 427.3,1704.4 429.5,1706 431.8,1705.3 434.1,1707.2 436.4,1707.9 438.6,1711 440.9,1712.1 443.2,1712.5 445.5,1714.8 447.7,1715 450.1,1716.8 452.5,1716.8 455,1717.2 457.5,1719.3 460,1719.6 462.5,1719.6 465,1720.9 467.5,1721 470,1722 472.5,1720.8 475,1721.6 477.5,1722.2 480,1724 480,1748 477.5,1749 475,1749 472.5,1747.4 470,1747.3 467.5,1749.1 465,1749.1 462.5,1746.9 460,1748.2 457.5,1748.2 455,1748.7 452.5,1747.7 450,1748.6 447.5,1746.7 445,1747.3 442.5,1747.3 440,1747.8 437.5,1746.1 435,1746.2 432.5,1747 430,1747.1 427.5,1746.1 425,1745.9 422.5,1745.7 420,1745.6 417.5,1746.6 415,1744.6 412.5,1743.9 410,1743.8 407.5,1745.7 405,1743.5 402.5,1743.9 400,1744.5 397.5,1742.3 395,1741 392.5,1739.7 390,1736.8 387.5,1735.4 385.1,1733.8 382.9,1734.3 380.7,1731 378.6,1730.4 376.4,1730.1 374.3,1727.1 372.1,1726.2 370,1725.3 367.9,1724.6 365.7,1721.8 363.6,1721.4 361.4,1718.7 359.3,1718.6 357.1,1717.6 355,1715.2 353.1,1714.1 351.1,1711.8 349.2,1710.3 347.2,1708.7 345.3,1706.3 343.3,1704.1 341.4,1703.5 339.4,1700.6 337.4,1700.1 335.3,1699.7 333.1,1697.2 330.9,1695.9 328.8,1695 326.6,1694.9 324.4,1693.3 322.2,1691.6 320.1,1690.1 318.4,1687.9 316.8,1686.2 315.2,1684.8 313.6,1680.6 312,1681 310.5,1677.6 308.9,1675.3 307.3,1673.6 305.7,1672 304.1,1669.7 302.6,1666.6 301.3,1666.1 300.2,1661.9 299,1660.5 297.9,1658.5 296.7,1655.5 295.6,1653.9 294.4,1651.1 293.3,1650 292.1,1646.4 291,1644.9 289.8,1641.8 288.7,1639.5 287.5,1638.4 286.5,1634.4 285.6,1632.5 284.6,1629.7 283.7,1628.5 282.7,1625.3 281.7,1621.6 280.8,1620.2 279.8,1617.3 278.8,1614.8 277.9,1613.1 276.9,1611 276,1606.8 275.1,1605.2 274.2,1602.7 273.5,1600.4 272.8,1597.7 272,1594.6 271.2,1591.8 270.5,1589.1 269.8,1587.9 269,1584.1 268.2,1581.7 267.5,1579.3 266.7,1577.8 265.8,1574.6 265,1572.5 264.2,1570.3 263.3,1568 262.5,1564.8 261.7,1562.1 260.8,1559.3 259.7,1556.4 257.9,1554 255.8,1551.6 254,1550.5 252.5,1552 251.2,1554 250,1557.5 248.8,1559.8 247.7,1561.6 247.1,1564.1 246.7,1568.2 246.2,1569.1 245.8,1573.5 245.4,1575.9 245,1577.8 244.6,1580.7 244.2,1581.7 243.8,1585.9 243.3,1587.5 242.9,1588.9 242.5,1591.3 242.1,1594.4 241.7,1598.4 241.3,1600.5 240.9,1602.5 240.5,1604.5 240.2,1608.1 239.8,1610.5 239.5,1613.3 239.1,1615.2 238.8,1617.2 238.4,1619.5 238,1621.9 237.7,1623.8 237.3,1626.9 237,1629.2 236.6,1632.6 235.6,1634.5 233.1,1635.3 230.3,1635.8 228,1636 226,1634.9 224,1632.6 222,1631.9 219.9,1629.5 217.5,1627.9 215,1628.5 212.5,1626.4 210,1626.2 207.5,1623.4 205,1622.4 202.5,1621 200,1621.5 197.5,1618.8 195,1617.7 192.5,1618.1 190,1616.7 187.5,1615.6 185,1616.1 182.5,1614.7 180,1613.2 177.5,1613.4 175,1612.7 172.5,1611.9 170,1610.7 167.5,1609 165,1609.5 162.5,1608 160,1607.5 157.5,1606 155,1604.3 152.5,1604.8 150,1601.9 147.5,1601 145,1600.7 142.5,1601.2 140,1598.5 137.8,1599.7 136,1601.5 134.5,1602.6 133,1606.4 131.5,1608.2 130.3,1610.6 129.5,1611.4 129.1,1614.2 128.6,1617 128.2,1619.3 127.7,1621.3 127.3,1623.9 126.8,1626.7 126.4,1630.1 125.9,1632.5 125.5,1635.9 125.1,1636.3 124.8,1640.3 124.6,1642.9 124.4,1645.6 124.2,1646.4 124.1,1650.5 123.9,1653.7 123.7,1654.9 123.5,1658.4 123.3,1660.1 123.1,1662.1 122.9,1665.1 122.8,1666.9 122.6,1669.9 122.4,1673.4 122.2,1676.2 122,1678.2 121.8,1680.5 121.6,1681.6 121.4,1684 121.2,1687.5 121.1,1690.4 120.9,1693.6 120.7,1696.2 120.5,1696.3 120.3,1699.9 120.1,1701.5 119.9,1705.8 119.8,1707.6 119.6,1708.8 119.4,1712.3 119.2,1714.9 119,1717.9 118.8,1719.2 118.6,1723.3 118.4,1724.7 118.2,1728.3 118.1,1729 117.9,1732.8 117.7,1734.7 117.4,1738 116.9,1739.4 116.3,1741.4 115.7,1744.8 115.1,1748.6 114.6,1748.7 114,1753.2 113.4,1753.6 112.8,1756.7 112.2,1760.7 111.6,1762.5 111,1765.8 110.4,1767.7 109.9,1769.8 109.3,1772.8 108.7,1774.5 108.1,1777.3 107,1777.9 105,1779.1 102.5,1779.6 100,1779.6 97.5,1778.8 95,1777.5 92.5,1777.2 90,1778.8 87.5,1778 85,1776.4 82.5,1776.6 80,1775.8 77.5,1776.9 75,1777.4 72.4,1774.9 69.9,1776.2 67.3,1775.6 64.7,1773.9 62.1,1774.5 59.6,1773.3 57,1774.3" fill="#55c0e8" fill-opacity="0.45"/>
<polyline points="57,1761.5 59.6,1762.7 62.1,1762.9 64.7,1763.4 67.3,1764.3 69.9,1764.2 72.4,1764.5 75,1765.5 77.5,1765.8 80,1767 82.5,1766.9 85,1768 87.5,1768.1 90,1769.1 92.5,1769.6 95,1770.1 97.5,1770.6 100,1771.3 102.5,1771.8 105,1772.1 107,1772.1 108.1,1769.7 108.6,1767.1 109.2,1765.3 109.7,1762.5 110.3,1760.1 110.8,1757 111.4,1754.7 111.9,1752.8 112.4,1749.7 112.8,1747.9 113,1745.4 113.2,1742.8 113.5,1739.6 113.8,1737.7 114,1735.4 114.2,1732 114.5,1729.9 114.8,1727.1 115,1725.4 115.2,1722.2 115.5,1720.3 115.8,1717.8 116,1715.3 116.2,1713 116.5,1710.3 116.8,1707.1 117,1705.3 117.2,1702.3 117.5,1700.5 117.7,1697.3 117.9,1694.8 118.1,1692.5 118.4,1689.9 118.6,1687.6 118.8,1684.9 119,1682.4 119.2,1680.1 119.4,1678 119.6,1674.9 119.9,1672.8 120.1,1670.2 120.3,1667.3 120.5,1664.7 120.7,1662.6 120.9,1660 121.1,1657.3 121.4,1655 121.6,1652.4 121.8,1649.9 122,1647.5 122.2,1645.4 122.4,1642.7 122.6,1640.4 122.9,1637.7 123.1,1635 123.3,1632.3 123.5,1630.2 123.7,1627.7 123.9,1624.5 124.1,1622.1 124.4,1620.5 124.6,1617.3 124.8,1614.5 125,1612.9 125.3,1610.5 125.6,1607.7 125.9,1605.3 126.2,1602.3 126.5,1599.9 126.8,1597.6 127.1,1594.6 127.4,1592.3 127.6,1590.1 127.9,1587.4 128.2,1585.1 128.5,1583 128.8,1580.5 129.1,1578 129.4,1574.8 129.7,1572.6 130.1,1569.9 130.9,1567.2 131.8,1564.5 132.7,1562.4 133.6,1560.3 134.5,1557.3 135.4,1554.9 136.7,1552.6 139,1551.8 141.8,1551.9 144.5,1551.3 147.2,1551 149.9,1550.5 152.5,1551.3 155,1553.2 157.5,1554.4 160,1555.8 162.5,1556.7 165,1557.7 167.5,1558.4 170,1558.2 172.5,1558.3 175,1557.4 177.5,1556.4 180,1557.1 182.5,1558.8 185,1559.7 187.5,1561.7 190,1562.2 192.5,1563.9 195,1564.6 197.5,1566.4 200,1567.3 202.5,1568.5 205,1570 207.5,1571 210,1572.7 212.5,1574.1 215,1574.8 217.5,1576.1 220,1577.4 222.5,1578.8 225,1578.9 227.5,1579.9 230,1580.8 232.1,1581.6 233.5,1579.4 234.5,1577.5 235.5,1575.2 236.5,1572.8 237.3,1569.9 237.9,1567.4 238.3,1564.8 238.7,1562.5 239,1560.4 239.4,1557.3 239.8,1555.4 240.2,1552.8 240.6,1549.7 241,1547.2 241.3,1545.2 241.7,1542.2 242.1,1539.5 242.5,1537.4 242.8,1534.9 243.2,1532.3 243.5,1530.1 243.8,1527.7 244.2,1525.4 244.5,1522.7 244.8,1520.3 245.2,1517.1 245.5,1515.2 245.8,1512.5 246.2,1509.7 246.5,1507 246.8,1505.5 247.2,1502.1 247.6,1499.6 248.2,1497.3 249,1494.7 249.8,1492.6 250.5,1490 251.2,1487.2 252,1486.2 252.9,1487.8 253.8,1490 254.8,1493 255.7,1495.3 256.6,1497.3 257.4,1500 258.1,1502.2 258.8,1504.6 259.4,1507.1 260,1510.3 260.6,1512.2 261.2,1515.4 261.9,1517.1 262.5,1520.2 263.1,1522.3 263.8,1524.6 264.4,1527.6 265,1530.2 265.7,1532.3 266.4,1534.8 267,1537.2 267.7,1540.1 268.4,1542.4 269.1,1545.4 269.8,1547.8 270.5,1550.1 271.1,1552.8 271.8,1555.5 272.5,1557.5 273.2,1560 273.9,1562.1 274.6,1565 275.4,1567.3 276.1,1569.5 276.8,1573 277.5,1574.5 278.2,1577.2 278.9,1579.8 279.6,1582.9 280.4,1584.8 281.1,1588 281.8,1590.1 282.6,1592.4 283.5,1594.9 284.5,1597.5 285.5,1600.2 286.5,1602.7 287.5,1604.6 288.5,1607.5 289.5,1609.6 290.5,1612.1 291.5,1615.2 292.6,1617.2 293.8,1619.8 295,1622.9 296.2,1624.6 297.5,1627.3 298.8,1629.8 300,1632.6 301.2,1635.2 302.6,1637.2 304.2,1639.4 305.8,1642 307.5,1643.8 309.2,1645.9 310.8,1648.4 312.5,1649.7 314.2,1652 315.8,1654.2 317.5,1656.1 319.2,1657.9 320.8,1660.2 322.6,1662.2 324.6,1664.1 326.7,1665.8 328.8,1666.8 330.8,1668.2 332.9,1669.8 335,1671.7 337.1,1673.1 339.3,1674.1 341.4,1676.3 343.6,1677.7 345.7,1678.9 347.9,1680.6 349.9,1682.1 351.9,1684.2 353.8,1686.1 355.6,1688.3 357.5,1689.7 359.4,1692 361.2,1693.8 363.1,1696.1 365.1,1697.4 367.2,1698.6 369.4,1700 371.6,1701.4 373.8,1702 375.9,1703.7 378.1,1705.2 380.3,1705.8 382.5,1707.2 384.7,1708.5 386.9,1710.6 389.1,1711.3 391.2,1712.9 393.4,1715 395.6,1716.3 397.8,1717.4 400.1,1718.4 402.5,1718.7 405,1719.3 407.5,1718.9 410,1720 412.5,1719.9 415,1720.2 417.5,1721.1 420,1721.3 422.5,1722.1 425,1722.4 427.5,1723.9 430,1725.2 432.5,1726.6 435,1728 437.5,1728.2 440,1728.6 442.5,1729.4 445,1729.8 447.5,1729.3 450,1729.9 452.5,1730.9 455,1731.9 457.5,1732 460,1732.8 462.5,1733.4 465.2,1733.9 467.9,1734.6 470.5,1735.2 473.2,1735.1 475.9,1735.4 478.6,1735.8 481.2,1736.2" fill="none" stroke="#55c5ea" stroke-width="5" stroke-linejoin="round" stroke-linecap="round" />
<polygon points="57,1757.4 59.6,1755.6 62.1,1757.1 64.7,1757.3 67.3,1757.3 69.9,1758.4 72.4,1758.3 75,1759.4 77.5,1760 80,1758.7 82.5,1760.1 85,1761.2 87.5,1761.1 90,1762.5 92.5,1761.7 95,1762.4 97.5,1764 100,1763.8 102.5,1764.4 105,1765.5 107,1765.7 108.1,1764 108.8,1761.3 109.4,1758.5 110,1755.8 110.6,1754.2 111.2,1751.7 111.9,1749.2 112.5,1746.7 113.1,1743.5 113.8,1739.7 114.4,1738.4 115,1734.8 115.6,1732.3 116.2,1729.9 116.9,1726.5 117.4,1724.9 117.6,1721.8 117.7,1719.4 117.7,1717.3 117.8,1715.6 117.9,1712.9 118,1709.6 118.1,1708 118.1,1704.8 118.2,1702.2 118.3,1699.8 118.4,1697 118.5,1694.2 118.5,1693.6 118.6,1690.2 118.7,1687.9 118.8,1685.3 118.9,1682.5 119,1680.3 119,1676.3 119.1,1674 119.2,1672.6 119.3,1669.9 119.4,1666.3 119.4,1664.3 119.5,1662 119.6,1661.1 119.7,1658.3 119.8,1653.9 119.8,1652.2 119.9,1649.6 120,1646.6 120.1,1644.5 120.2,1643.7 120.2,1641 120.3,1636.9 120.4,1635.7 120.5,1631.6 120.6,1630.3 120.6,1626.5 120.7,1625.3 120.8,1622.7 120.9,1621.2 121,1617.7 121,1616 121.1,1611.9 121.2,1610.3 121.3,1606.8 121.4,1604 121.5,1603.7 121.5,1598.9 121.6,1597.1 121.7,1594.6 121.8,1591.8 121.9,1590.9 121.9,1588.1 122,1584.7 122.1,1582.7 122.2,1580.8 122.3,1576.4 122.3,1575.4 122.4,1573.3 122.5,1570.3 122.6,1567.6 122.8,1564.4 122.9,1561.7 123,1559.2 123.2,1557.2 123.3,1554.5 123.4,1553.2 123.6,1549.2 123.7,1546.6 123.8,1545.7 123.9,1542.4 124.1,1539.1 124.2,1538.3 124.3,1533.9 124.5,1532.2 124.6,1529.8 124.7,1527.5 124.9,1524.4 125,1523.5 125.1,1520.2 125.3,1517.1 125.4,1515.3 125.5,1512.2 125.7,1510.1 125.8,1507.7 125.9,1504.4 126.1,1503.4 126.2,1499 126.3,1498.5 126.4,1494.8 126.6,1492.5 126.7,1489.1 126.8,1487.5 127,1484.6 127.1,1482.8 127.2,1480.4 127.4,1476.5 127.5,1474 127.7,1473.5 127.8,1469.3 128,1467.9 128.2,1465.6 128.3,1463.2 128.5,1458.8 128.7,1457.8 128.8,1455.8 129,1451.4 129.2,1448.8 129.3,1448.4 129.5,1445.5 129.7,1443 129.8,1440.6 130,1437.8 130.2,1434.3 130.3,1431.7 130.5,1428.8 130.7,1427.9 130.8,1425.4 131,1423.7 131.2,1419.4 131.3,1416.6 131.5,1414.7 131.7,1413.6 131.8,1409.4 132,1408.4 132.2,1405.3 132.3,1403.1 132.6,1399.1 132.9,1398.2 133.3,1394.8 133.7,1393.1 134,1388.9 134.4,1387 134.8,1385.2 135.2,1382 135.6,1380.1 136,1376.6 136.3,1374.4 136.7,1372.8 137.1,1369.6 137.7,1368.6 138.7,1364.7 139.8,1362 141,1359.8 142.2,1357.8 143.3,1354.6 144.7,1354.9 146.3,1354.3 148.2,1357.7 149.9,1360.8 151.5,1361.4 153,1363.4 154.5,1366 156,1368.8 157.8,1370.9 160,1372.9 162.5,1374.7 164.7,1375.3 166.2,1379.4 167.5,1379.8 168.8,1381.6 170,1385 171.2,1386 172.5,1388.3 173.8,1390.8 175.1,1394.9 176.6,1395.2 178.1,1398.7 179.7,1400.9 181.2,1401.2 182.8,1403 184.4,1405.3 185.9,1408.3 187.7,1410.3 190,1411.1 192.5,1413.8 195,1413.7 197.2,1415.3 199,1418.2 200.5,1421.1 202,1423.8 203.5,1426.3 205,1428.5 206.5,1430.9 208,1432.3 209.5,1434.1 211,1435.4 212.6,1438.9 214.5,1441.7 216.5,1443.4 218.5,1444.7 220.5,1447.1 222.7,1449 225.4,1450.4 228.3,1450.1 230.8,1449.5 232.2,1448.6 233.2,1446.1 234.2,1441.3 235.2,1441.1 236.1,1437 236.5,1433.8 236.8,1432 237,1429.1 237.2,1426.3 237.5,1425.7 237.8,1422.2 238,1419.1 238.2,1418 238.5,1414.3 238.8,1412.1 239,1409.8 239.2,1407.1 239.5,1405.6 239.8,1401.8 240,1400.7 240.2,1397.4 240.5,1394.8 240.8,1392.1 241,1391 241.2,1386.9 241.5,1384.8 241.8,1381.9 242,1379.1 242.2,1376.4 242.5,1375.4 242.8,1373.3 243,1369.6 243.2,1367.4 243.5,1365.8 243.8,1361.4 244.2,1359.5 244.6,1358.1 245,1354.4 245.4,1351.9 245.8,1350.1 246.2,1347 246.7,1344.2 247.1,1341.4 247.6,1341.1 248.3,1337.9 249.1,1333.8 249.9,1330.6 250.9,1330.2 252.2,1331.8 253.6,1335.6 254.8,1337.1 255.6,1339.1 256.2,1343.3 256.9,1344.2 257.5,1346.9 258.1,1349.3 258.8,1353.4 259.4,1356.1 260,1357.2 260.6,1360.3 261.2,1363 261.8,1364.9 262.3,1368.2 262.9,1369.6 263.4,1373.1 263.9,1374.2 264.5,1376.6 265,1379.2 265.5,1381.7 266.1,1386.1 266.6,1386.9 267.1,1390.4 267.7,1391.3 268.2,1395.9 268.8,1398.1 269.3,1400.4 269.8,1403.7 270.4,1403.9 270.9,1408.1 271.4,1409.1 272,1413.6 272.5,1413.8 273,1417.1 273.6,1420.1 274.1,1422.4 274.6,1425.7 275.2,1426.5 275.7,1430.9 276.3,1431.3 276.8,1436.1 277.4,1438.2 278,1438.8 278.6,1441.4 279.2,1444.1 279.8,1446.5 280.3,1449.2 280.9,1451.8 281.5,1455.1 282.1,1457.5 282.7,1459.4 283.2,1463.7 283.8,1465.2 284.4,1467.5 285,1470.8 285.6,1472.8 286.2,1475.9 286.9,1478.3 287.5,1479.7 288.1,1483.4 288.8,1485.3 289.4,1486.4 290,1489.6 290.6,1492.9 291.2,1495.5 291.9,1498 292.6,1500.7 293.4,1503 294.4,1506 295.3,1506.9 296.2,1511 297.2,1513.4 298.1,1515.7 299.1,1516.8 300.1,1520.2 301.5,1523.4 303,1525.8 304.5,1526.8 306,1528.9 307.5,1532.5 309.2,1533.6 310.8,1536.7 312.5,1537.8 314.2,1539.9 315.8,1543.8 317.5,1545.2 319.3,1545.7 321.1,1548.7 322.9,1549.9 324.6,1552 326.4,1554.5 328.2,1556.7 330.2,1556.3 332.5,1557.8 335,1561.4 337.5,1561 340,1564.1 342.5,1565.1 344.8,1566.5 346.9,1568.3 348.8,1569.5 350.6,1572.2 352.5,1574.2 354.4,1574.3 356.2,1575.9 358.1,1578.1 360,1579.8 362,1582.1 364,1585.1 366,1585.6 368,1589 369.8,1589.5 371.4,1591.9 372.8,1595 374.2,1597.1 375.6,1599.9 376.9,1601.4 378.3,1602.8 379.7,1606.3 381.1,1607.2 382.6,1608.8 384.4,1611.5 386.2,1614.9 388.1,1614.5 390,1618.4 391.9,1619.9 393.8,1621.6 395.6,1623.4 397.6,1624.3 399.6,1626.7 401.8,1629.8 403.9,1631.2 406.1,1632 408.2,1633.8 410.4,1635.5 412.5,1637.1 414.4,1638.9 416.4,1640.1 418.3,1643.5 420.3,1643 422.2,1645 424.2,1647.8 426.1,1650 428.1,1651.3 430,1651.7 431.9,1654.4 433.9,1657.6 435.8,1659.2 437.8,1659.6 439.7,1663.4 441.7,1665.4 443.6,1665.3 445.6,1668.9 447.5,1669.2 449.4,1670.7 451.4,1673.4 453.3,1676.6 455.3,1677.8 457.2,1678.3 459.2,1681.7 461.1,1682.2 463.1,1685.1 465,1686.3 466.9,1688.3 468.8,1689.7 470.6,1691.7 472.5,1693.4 474.4,1695.9 476.2,1696.6 478.1,1699.1 480,1700 480,1719.2 477.5,1718.4 475,1717.3 472.5,1717.8 470,1717.1 467.5,1715.6 465,1716.2 462.5,1715.6 460,1714.6 457.5,1714.4 455,1714.7 452.5,1712.5 450.1,1712.4 447.7,1710.9 445.5,1710.1 443.2,1709.1 440.9,1709 438.6,1707.6 436.4,1706.2 434.1,1704.6 431.8,1703.2 429.5,1702.4 427.3,1701.6 425,1699.3 422.7,1698.4 420.5,1696.4 418.2,1695.1 415.9,1694.4 413.6,1693.1 411.4,1691.9 409.1,1689.6 406.8,1688.7 404.5,1688.1 402.3,1686.5 399.9,1684.2 397.5,1684.9 395,1681.5 392.5,1680.4 390,1680 387.5,1679.9 385,1677 382.5,1677.2 380,1674.3 377.5,1673.1 375,1671.1 372.5,1669.9 370,1668.8 367.5,1667.7 365,1666.8 362.5,1666 360,1665.5 357.5,1662.6 355,1662.5 352.5,1661.7 350,1659.2 347.5,1659.4 345,1656.4 342.5,1656.7 340,1656.6 337.5,1655.1 335,1654.6 332.5,1652.5 330,1651.9 327.5,1650.2 325.1,1649.7 322.9,1647.4 320.8,1647.5 318.8,1643.9 316.7,1643 314.6,1641 312.7,1639.8 311.1,1637.6 309.7,1634.4 308.3,1633.7 306.9,1630.5 305.6,1630.1 304.2,1627.2 302.8,1625.5 301.4,1621.8 300.1,1619.2 299,1618.5 298,1615.8 297,1612 296,1609.9 295,1607.6 294,1606.4 293,1602.5 292,1600.8 291,1600.1 290,1597 289,1595 288,1592.3 287,1590.4 286,1586.2 285,1584 284.1,1581.5 283.2,1580.5 282.3,1577.1 281.4,1574.9 280.5,1571.4 279.6,1570.3 278.8,1567.3 277.9,1563.9 277,1561.8 276.1,1560.2 275.2,1557.2 274.3,1554.2 273.4,1552.8 272.5,1549.3 271.6,1548.2 270.7,1544.4 269.8,1541.8 268.9,1539.9 268,1538.2 267,1534 266.1,1532.7 265.2,1530.8 264.3,1527 263.4,1524.6 262.6,1522.9 262,1519.6 261.5,1517.2 261,1515 260.5,1513.4 260,1509.2 259.5,1507.8 259,1504.1 258.5,1502.1 258,1500.8 257.5,1497.3 256.8,1496.1 256.1,1491.5 255.4,1489.3 254.8,1486.6 254.1,1485.2 253.4,1483.5 252.7,1481.2 251.8,1479.7 250.5,1481.3 249,1482.4 247.7,1484.1 246.9,1486.7 246.4,1489.3 245.8,1492.9 245.3,1495.4 244.7,1496.5 244.2,1499 243.6,1502.3 243.1,1505.2 242.5,1506.8 242.1,1509.3 241.8,1513.4 241.4,1515 241,1517.2 240.6,1519.2 240.2,1521.4 239.9,1524.9 239.5,1526.5 239.1,1529 238.7,1533.5 238,1534.7 237.2,1537.5 236.5,1540.9 235.8,1543.4 234.6,1544.4 232.5,1546.7 230.2,1546.2 228.3,1543.7 226.7,1542.3 225,1541.2 223.3,1538.1 221.7,1536 219.9,1536.2 217.9,1534.3 215.7,1531 213.6,1528.6 211.4,1528.6 209.3,1527.2 207.1,1523.8 205,1522.9 202.8,1521 200.6,1518.8 198.4,1519.4 196.2,1518.3 194.1,1515.7 191.9,1514.5 189.7,1512.6 187.5,1511.6 185.4,1511.7 183.2,1508.8 181.1,1507.2 178.9,1505.9 176.8,1505.7 174.6,1504.8 172.4,1503.1 170,1502 167.5,1501.1 165,1500.4 162.5,1500 160,1497.6 157.5,1498.2 155.2,1495.4 153.1,1493.6 151.2,1493.6 149.4,1491.5 147.5,1488.9 145.6,1487.7 143.8,1487 142.2,1486.7 140.8,1489.5 139.2,1490.9 137.8,1492 136.5,1494.2 135.7,1498.4 135.2,1499.2 134.7,1502.1 134.2,1504.9 133.6,1507.4 133.1,1510.4 132.6,1511.6 132.1,1514.7 131.6,1518.3 131,1518.8 130.5,1522.3 130.1,1525.8 129.8,1526.3 129.5,1531.1 129.2,1531.9 129,1534.8 128.8,1536.7 128.5,1539.7 128.2,1543.2 128,1544.6 127.8,1548 127.5,1551 127.2,1553.2 127,1554.3 126.8,1557.5 126.5,1559.5 126.2,1563.5 126,1565.9 125.8,1567.6 125.5,1571.1 125.2,1573.5 125,1575.5 124.9,1576.9 124.8,1580 124.6,1582.7 124.5,1584 124.4,1587.8 124.2,1591.2 124.1,1592 124,1593.9 123.9,1596.6 123.8,1600 123.6,1602.6 123.5,1605.2 123.4,1607.2 123.2,1610.7 123.1,1611.4 123,1615.4 122.9,1617.3 122.8,1619.1 122.6,1621.9 122.5,1625.2 122.4,1626.4 122.2,1630 122.1,1631.3 122,1635.3 121.9,1637.9 121.8,1639.2 121.6,1642.9 121.5,1644.9 121.4,1646.8 121.2,1649.9 121.1,1653.6 121,1655.2 120.9,1657 120.8,1660.3 120.6,1662.9 120.5,1663.8 120.4,1667.2 120.2,1669.5 120.1,1671.4 120,1675.7 119.9,1678.1 119.8,1680.1 119.6,1682.4 119.5,1685.7 119.4,1688.6 119.2,1690.2 119.1,1691.4 119,1695.4 118.9,1698.6 118.8,1700.4 118.6,1702.9 118.5,1705.4 118.4,1707.8 118.2,1709.2 118.1,1713.5 118,1714 117.9,1717.5 117.8,1720.9 117.6,1722.2 117.4,1726.1 117,1727.9 116.5,1730.8 116.1,1731.7 115.6,1735.9 115.1,1737.1 114.6,1741 114.2,1743.8 113.7,1746.2 113.2,1748.2 112.7,1749.8 112.3,1753.3 111.8,1754.7 111.3,1759 110.8,1760.5 110.4,1762.1 109.9,1765.5 109.4,1768.3 108.9,1770 108.5,1772.4 108,1775.4 107,1776.6 105,1777.3 102.5,1778 100,1777.1 97.5,1778 95,1777.5 92.5,1776.8 90,1776.3 87.5,1776.1 85,1775.8 82.5,1775.6 80,1774.5 77.5,1775.2 75,1774.3 72.4,1774.1 69.9,1774.6 67.3,1773.7 64.7,1773.4 62.1,1774.1 59.6,1773.1 57,1771.5" fill="#3d4fa8" fill-opacity="0.52"/>
<polygon points="57,1761.3 59.6,1763.7 62.2,1765.5 64.9,1767.6 67.5,1768.8 70,1768.1 72.5,1765.9 75,1765.5 77.5,1764.7 80,1765.9 82.5,1763.7 85,1763.3 87.5,1764.2 90,1765 92.5,1766.8 95,1767.7 97.5,1768.2 100,1769.1 102.5,1770.6 105,1770.4 107.1,1769.7 108.4,1768.2 109.3,1765.3 110.2,1762.9 111.1,1760.8 112,1756.1 112.9,1753.8 113.6,1752.1 114.2,1747.7 114.6,1745.6 115,1744.2 115.4,1740.8 115.8,1738.6 116.2,1737.3 116.7,1734.9 117.1,1731.6 117.5,1730.2 117.9,1726.8 118.3,1723.6 118.8,1722 119.2,1719.8 119.6,1716.4 120,1714.3 120.4,1711.2 120.8,1707.9 121.2,1705.8 121.7,1704.2 122.1,1701.8 122.5,1698.3 122.9,1696.9 123.3,1693.3 123.8,1691.3 124.2,1689.7 124.6,1687.2 125.1,1683.8 126,1680.7 127,1679.6 128,1677.3 129,1674.6 130.4,1673 132.5,1672.2 134.6,1673.8 136.1,1676.1 137.1,1678.2 138.2,1681.4 139.3,1682.7 140.4,1686.6 141.4,1688.9 142.5,1691.5 143.6,1694.4 144.6,1696.7 145.7,1699.2 146.8,1701.6 147.9,1705.4 148.9,1706.8 150,1708.3 151.2,1711.8 152.5,1713.3 153.8,1716.2 155,1717.8 156.2,1721 157.6,1722.9 159,1723.9 160.5,1727 162,1727 163.5,1730.6 164.9,1732 166.2,1735.7 167.5,1737.2 168.8,1739.5 170,1741.7 171.2,1744.4 172.5,1745.1 173.8,1749.4 175,1750.8 176.2,1753.1 177.5,1756 178.8,1757.4 180,1759.5 181.2,1761.7 182.5,1764.2 183.8,1766.2 185.2,1769.1 187,1771.6 189,1773.4 191,1773.7 193,1775.9 195.1,1778 197.5,1778.8 200,1781.2 202.5,1782 204.8,1784.1 206.9,1784.5 208.8,1786.5 210.6,1788.7 212.7,1791.4 215,1792.6 217.5,1794.4 220,1795.8 222.5,1796 225,1795 227.5,1794.4 230,1795.5 232.5,1793.6 235,1793.1 237.5,1794.4 240,1794.1 242.5,1795.6 245,1796.1 247.5,1794.9 250,1796.6 252.5,1793.8 255,1794.1 257.5,1792 260,1794.2 262.5,1796 265,1795.6 267.5,1797.2 270,1797.7 272.5,1799.7 275,1800.8 277.5,1799.8 280,1800.4 282.5,1801.8 285,1801.9 287.5,1801.6 290,1802.5 292.5,1800.5 295,1800.8 297.5,1801.4 300,1802.9 302.5,1804 305,1804.2 307.5,1802.2 310,1801.1 312.5,1800.2 315,1801.9 317.5,1800.7 320,1800.3 322.5,1798.5 325,1799 327.5,1798.3 330,1797.7 332.5,1797.5 335,1799.4 337.5,1799.3 340,1799.2 342.5,1798.7 345,1799.4 347.5,1800.5 350,1800.8 352.5,1801.1 355,1804.6 357.5,1802.9 360,1804.7 362.5,1803.7 365,1803.9 367.5,1804 370,1803.8 372.5,1803.7 375,1804.2 377.3,1802.5 379.4,1801.6 381.2,1798.8 383.1,1795.3 385.2,1793.7 387.5,1792.6 390,1792.4 392.5,1791.6 395,1791.6 397.5,1790.9 400,1789.2 402.5,1788.6 405,1788.5 407.5,1789.6 410,1789.7 412.5,1791.1 415,1792.1 417.5,1795.4 420,1796.3 422.5,1796.3 425,1796.5 427.5,1794.7 430,1794.4 432.5,1795 435,1794.9 437.5,1793.5 440,1792.7 442.5,1793.5 445,1792.3 447.5,1792.2 450,1790.8 452.5,1791 455,1788 457.5,1788.4 460,1786.3 462.5,1786.8 465,1785 467.5,1785.7 470,1785.7 472.5,1785.3 475,1783.7 477.5,1783.3 480,1782.5 480,1811.4 477.5,1811.7 475,1813 472.5,1814.4 470,1814.9 467.5,1815.1 465,1815.9 462.5,1815.7 460,1817.3 457.5,1817.8 455,1818.4 452.5,1820.7 450,1819.5 447.5,1820 445,1822 442.5,1823.1 440,1821.9 437.5,1823.6 435,1822.8 432.5,1824.3 430,1824.3 427.5,1823.9 425,1825 422.5,1824.4 420,1825.7 417.5,1823.8 415,1821.7 412.5,1820.2 410,1821 407.5,1818.6 405,1819 402.5,1818.6 400,1819.3 397.5,1820.3 395,1821.2 392.5,1820.8 390,1822.2 387.5,1822.5 385.2,1823.3 383.1,1825.1 381.2,1827.1 379.4,1830.6 377.3,1832.7 375,1833.2 372.5,1832.4 370,1832.3 367.5,1833.6 365,1831.8 362.5,1832.2 360,1832.8 357.5,1832.3 355,1833 352.5,1832.1 350,1830.9 347.5,1829.7 345,1829 342.5,1828 340,1828.2 337.5,1828.8 335,1828.1 332.5,1827.4 330,1826.2 327.5,1826.8 325,1829 322.5,1828.6 320,1829.4 317.5,1829.7 315,1830 312.5,1831.2 310,1831.3 307.5,1832.7 305,1833.4 302.5,1832.4 300,1831.7 297.5,1830.7 295,1830.6 292.5,1830.3 290,1832.4 287.5,1831.8 285,1831.5 282.5,1829.7 280,1829.8 277.5,1829.9 275,1829.2 272.5,1829.4 270,1827.6 267.5,1827.3 265,1826 262.5,1824.8 260,1822.1 257.5,1821.5 255,1823 252.5,1823.8 250,1825.6 247.5,1825.5 245,1824.3 242.5,1823.8 240,1823.2 237.5,1824.1 235,1822.2 232.5,1823.4 230,1823.3 227.5,1824.3 225,1825.1 222.5,1824.9 220,1825.8 217.5,1823.5 215,1823 212.7,1819.9 210.6,1818.2 208.8,1815.5 206.9,1813.1 204.8,1812.1 202.5,1810.2 200,1807.7 197.5,1806.2 195.1,1803.6 193,1800.6 191,1798.1 189,1796.3 187,1794.6 185.2,1793.2 183.8,1789.2 182.5,1786.7 181.2,1783.9 180,1780.7 178.8,1777.6 177.5,1777 176.2,1772.9 175,1770.5 173.8,1769.2 172.5,1764.9 171.2,1762.2 170,1759.5 168.8,1757.4 167.5,1754.1 166.2,1753.6 164.9,1749.7 163.5,1747.8 162,1744.3 160.5,1743.8 159,1741 157.6,1737.6 156.2,1735.2 155,1734.4 153.8,1730.6 152.5,1728.7 151.2,1726.3 150,1721 148.9,1719.1 147.9,1718.2 146.8,1716.2 145.7,1712.4 144.6,1709.8 143.6,1706.3 142.5,1705.5 141.4,1701.3 140.4,1699.4 139.3,1696 138.2,1695.1 137.1,1692.2 136.1,1690.6 134.6,1687.2 132.5,1685.5 130.4,1685.6 129,1686.2 128,1689.9 127,1692.4 126,1694.9 125.1,1697.7 124.6,1700.4 124.2,1703.4 123.8,1704.2 123.3,1707.6 122.9,1710 122.5,1711.5 122.1,1715 121.7,1717.5 121.2,1719.8 120.8,1723 120.4,1725.7 120,1727.5 119.6,1729.5 119.2,1732.6 118.8,1734.6 118.3,1737.8 117.9,1739.8 117.5,1743.3 117.1,1744.6 116.7,1749 116.2,1750.8 115.8,1753.6 115.4,1753.6 115,1756.7 114.6,1759.7 114.2,1761.4 113.6,1764.8 112.9,1767.3 112,1770.4 111.1,1774.5 110.2,1775.9 109.3,1779.2 108.4,1780.8 107.1,1782.5 105,1783.3 102.5,1783.7 100,1782.6 97.5,1782.4 95,1779.4 92.5,1779 90,1779 87.5,1777.7 85,1777.5 82.5,1778.9 80,1778.7 77.5,1779.7 75,1779.4 72.5,1780.5 70,1782.3 67.5,1781.6 64.9,1782.3 62.2,1779 59.6,1777.8 57,1774.9" fill="#bdbdbd" fill-opacity="0.9"/>
<polygon points="57,1764.8 59.6,1766.4 62.2,1768.1 64.9,1770.3 67.5,1770.6 70,1771.3 72.5,1769.3 75,1768.5 77.5,1768.1 80,1768.3 82.5,1767 85,1766.7 87.5,1767.3 90,1767.2 92.5,1768.7 95,1769.3 97.5,1771 100,1771.2 102.5,1772.3 105,1772.4 107.1,1771.5 108.4,1769.9 109.3,1767.3 110.2,1764.8 111.1,1762.6 112,1758.8 112.9,1756.2 113.6,1754.1 114.2,1751.2 114.6,1748.7 115,1746.4 115.4,1743.6 115.8,1741.9 116.2,1739.4 116.7,1737.1 117.1,1734.4 117.5,1731.8 117.9,1728.5 118.3,1726.7 118.8,1723.8 119.2,1721.4 119.6,1719.3 120,1716.4 120.4,1714.2 120.8,1711.2 121.2,1708.4 121.7,1706 122.1,1703.6 122.5,1701.3 122.9,1698.6 123.3,1696.6 123.8,1694 124.2,1691.7 124.6,1688.7 125.1,1686.3 126,1683.9 127,1682 128,1678.9 129,1676.1 130.4,1675.2 132.5,1675.4 134.6,1676.4 136.1,1679.4 137.1,1681.2 138.2,1684.2 139.3,1686 140.4,1689 141.4,1691.1 142.5,1693.8 143.6,1696.2 144.6,1698.4 145.7,1701.6 146.8,1704.4 147.9,1707.1 148.9,1708.9 150,1710.9 151.2,1714 152.5,1716.5 153.8,1719 155,1721.2 156.2,1723.3 157.6,1725 159,1727 160.5,1729.3 162,1730.4 163.5,1732.3 164.9,1734.2 166.2,1737.4 167.5,1739.2 168.8,1741.3 170,1744 171.2,1746.1 172.5,1748.4 173.8,1751.1 175,1753.3 176.2,1755.6 177.5,1758.4 178.8,1759.8 180,1762.2 181.2,1764.7 182.5,1766.9 183.8,1769.3 185.2,1771.9 187,1773.4 189,1775.8 191,1776.7 193,1778.3 195.1,1781 197.5,1781.8 200,1783.4 202.5,1784.3 204.8,1786.2 206.9,1786.9 208.8,1788.8 210.6,1791.4 212.7,1793.3 215,1795.2 217.5,1797.3 220,1798.2 222.5,1797.7 225,1797.4 227.5,1797.7 230,1797.1 232.5,1796.9 235,1796.1 237.5,1796.8 240,1796.5 242.5,1797.1 245,1797.8 247.5,1797.5 250,1798.1 252.5,1796.5 255,1796 257.5,1795.4 260,1796 262.5,1797.8 265,1798.2 267.5,1799.4 270,1799.9 272.5,1801.4 275,1802.5 277.5,1803.1 280,1803.4 282.5,1803.6 285,1804.1 287.5,1804.9 290,1804.9 292.5,1803.7 295,1803.5 297.5,1803.7 300,1804.7 302.5,1805.5 305,1805.8 307.5,1805.1 310,1804 312.5,1803.7 315,1803.5 317.5,1802.8 320,1802.1 322.5,1801.6 325,1801.3 327.5,1800.5 330,1800 332.5,1800.5 335,1801.9 337.5,1802.4 340,1801.3 342.5,1801.3 345,1801.3 347.5,1802.7 350,1803 352.5,1804.4 355,1806.1 357.5,1805.8 360,1806.2 362.5,1806.1 365,1805.7 367.5,1806 370,1805.5 372.5,1805.4 375,1806.1 377.3,1805.4 379.4,1803.4 381.2,1801.1 383.1,1798.8 385.2,1796.5 387.5,1795.8 390,1794.7 392.5,1794.1 395,1793.5 397.5,1792.7 400,1791.6 402.5,1791.3 405,1791.3 407.5,1792.1 410,1793.1 412.5,1793.8 415,1795.4 417.5,1797.6 420,1798.3 422.5,1797.9 425,1798.4 427.5,1797.3 430,1797.8 432.5,1797.3 435,1796.6 437.5,1796.1 440,1795.7 442.5,1795.8 445,1795.2 447.5,1794 450,1793.5 452.5,1792.9 455,1791.1 457.5,1790.5 460,1789.7 462.5,1788.5 465,1788.1 467.5,1788.4 470,1787.4 472.5,1787.2 475,1786.7 477.5,1785.5 480,1784.3 480,1808.8 477.5,1810 475,1811.2 472.5,1811.7 470,1811.9 467.5,1812.9 465,1812.6 462.5,1813 460,1814.2 457.5,1815 455,1815.6 452.5,1817.4 450,1818 447.5,1818.5 445,1819.7 442.5,1820.3 440,1820.2 437.5,1820.6 435,1821.1 432.5,1821.8 430,1822.3 427.5,1821.8 425,1822.9 422.5,1822.4 420,1822.8 417.5,1822.1 415,1819.9 412.5,1818.3 410,1817.6 407.5,1816.6 405,1815.8 402.5,1815.8 400,1816.1 397.5,1817.2 395,1818 392.5,1818.6 390,1819.2 387.5,1820.3 385.2,1821 383.1,1823.3 381.2,1825.6 379.4,1827.9 377.3,1829.9 375,1830.6 372.5,1829.9 370,1830 367.5,1830.5 365,1830.2 362.5,1830.6 360,1830.7 357.5,1830.3 355,1830.6 352.5,1828.9 350,1827.5 347.5,1827.2 345,1825.8 342.5,1825.8 340,1825.8 337.5,1826.9 335,1826.4 332.5,1825 330,1824.5 327.5,1825 325,1825.8 322.5,1826.1 320,1826.6 317.5,1827.3 315,1828 312.5,1828.2 310,1828.5 307.5,1829.6 305,1830.3 302.5,1830 300,1829.2 297.5,1828.2 295,1828 292.5,1828.2 290,1829.4 287.5,1829.4 285,1828.6 282.5,1828.1 280,1827.9 277.5,1827.6 275,1827 272.5,1825.9 270,1824.4 267.5,1823.9 265,1822.7 262.5,1822.3 260,1820.5 257.5,1819.9 255,1820.5 252.5,1821 250,1822.6 247.5,1822 245,1822.3 242.5,1821.6 240,1821 237.5,1821.3 235,1820.6 232.5,1821.4 230,1821.6 227.5,1822.2 225,1821.9 222.5,1822.2 220,1822.7 217.5,1821.8 215,1819.7 212.7,1817.8 210.6,1815.9 208.8,1812.9 206.9,1810.6 204.8,1809.3 202.5,1806.8 200,1805.2 197.5,1802.9 195.1,1801.5 193,1798.3 191,1796.2 189,1794.7 187,1791.8 185.2,1789.8 183.8,1786.8 182.5,1784.1 181.2,1781.5 180,1778.7 178.8,1776 177.5,1774.2 176.2,1771.1 175,1768.4 173.8,1766 172.5,1762.9 171.2,1760.3 170,1757.9 168.8,1754.8 167.5,1752.4 166.2,1750.2 164.9,1746.7 163.5,1744.4 162,1742.1 160.5,1740.6 159,1737.9 157.6,1735.5 156.2,1733.4 155,1731.1 153.8,1728.5 152.5,1725.6 151.2,1722.9 150,1719.5 148.9,1717.4 147.9,1715.6 146.8,1712.9 145.7,1710.1 144.6,1706.9 143.6,1704.7 142.5,1702.3 141.4,1699.6 140.4,1697.5 139.3,1694.5 138.2,1692.7 137.1,1689.7 136.1,1687.9 134.6,1684.9 132.5,1683.9 130.4,1683.7 129,1684.6 128,1687.4 127,1690.5 126,1692.4 125.1,1694.8 124.6,1697.2 124.2,1700.2 123.8,1702.5 123.3,1705.1 122.9,1707.1 122.5,1709.8 122.1,1712.1 121.7,1714.5 121.2,1716.9 120.8,1719.7 120.4,1722.7 120,1724.9 119.6,1727.8 119.2,1729.9 118.8,1732.3 118.3,1735.2 117.9,1737 117.5,1740.3 117.1,1742.9 116.7,1745.6 116.2,1747.9 115.8,1750.4 115.4,1752.1 115,1754.9 114.6,1757.2 114.2,1759.7 113.6,1762.6 112.9,1764.7 112,1767.3 111.1,1771.1 110.2,1773.3 109.3,1775.8 108.4,1778.4 107.1,1780 105,1780.9 102.5,1780.8 100,1779.7 97.5,1779.5 95,1777.8 92.5,1777.2 90,1775.7 87.5,1775.8 85,1775.2 82.5,1775.5 80,1776.8 77.5,1776.6 75,1777 72.5,1777.8 70,1779.8 67.5,1779.1 64.9,1778.8 62.2,1776.6 59.6,1774.9 57,1773.3" fill="#8a8a8a" fill-opacity="0.85"/>
<polyline points="57,1763.8 59.6,1764.4 62.1,1764.9 64.7,1765.5 67.3,1765.3 69.9,1765.9 72.4,1766.7 75,1766.8 77.5,1767.1 80,1768 82.5,1768.1 85,1768.9 87.5,1769.3 90,1769.4 92.5,1770 95,1770.2 97.5,1770.8 100,1770.7 102.5,1771.2 105,1772.5 107,1771.4 107.9,1770.5 108.3,1767.9 108.8,1764.9 109.2,1762.3 109.6,1759.7 110,1757.8 110.4,1755.5 110.8,1752.4 111.2,1750.2 111.4,1747.3 111.6,1744.9 111.8,1742.7 112,1739.8 112.2,1737.3 112.4,1735 112.6,1732.2 112.8,1730.1 112.9,1727.8 113.1,1725.3 113.3,1722.7 113.5,1720.4 113.7,1718 113.9,1714.6 114.1,1712.6 114.2,1709.6 114.4,1707.4 114.6,1705 114.8,1702.3 115,1700 115.1,1697.5 115.3,1695.5 115.4,1692.5 115.5,1689.7 115.7,1687.5 115.8,1685.4 115.9,1682.4 116.1,1680.4 116.2,1677.3 116.3,1675.3 116.5,1672.7 116.6,1670.3 116.7,1667.3 116.9,1664.9 117,1662.2 117.1,1660.4 117.3,1657.9 117.4,1654.7 117.5,1652.8 117.7,1650.4 117.8,1647.8 117.9,1645.4 118.1,1642.8 118.2,1639.6 118.3,1637.7 118.5,1634.9 118.6,1632.9 118.8,1629.8 118.9,1627.4 119.1,1625.1 119.3,1622.6 119.5,1620 119.7,1617.8 119.9,1614.5 120.1,1612.7 120.2,1609.6 120.4,1607.3 120.6,1604.9 120.8,1602 121,1599.6 121.2,1597.9 121.4,1595.3 121.6,1592.9 121.8,1589.9 121.9,1587.4 122.1,1585.3 122.3,1582.2 122.5,1580.4 122.7,1577.5 122.9,1574.6 123.1,1572.7 123.3,1569.7 123.5,1567.5 123.8,1565.2 124,1562.5 124.2,1560.1 124.4,1557.7 124.6,1554.7 124.8,1552.8 125,1549.7 125.2,1547.5 125.4,1545.2 125.6,1542.4 125.8,1540.2 126,1537 126.2,1535.3 126.3,1532.4 126.5,1530.3 126.7,1527.1 126.9,1525.1 127.1,1523 127.3,1520.4 127.5,1517.4 127.7,1515.4 127.9,1512 128.1,1510.5 128.3,1507.3 128.5,1505.1 128.8,1502.3 129,1500.1 129.2,1497.8 129.4,1494.7 129.6,1492.3 129.8,1490.5 130,1487.3 130.3,1484.5 130.6,1483 130.9,1480.2 131.2,1477.6 131.5,1475.4 131.8,1472.3 132.1,1469.9 132.4,1467.2 132.6,1464.6 132.9,1462.8 133.2,1459.6 133.5,1457.9 133.8,1454.8 134.1,1452.7 134.4,1449.5 134.7,1447.2 135.1,1445.1 135.6,1442.4 136.2,1439.7 136.9,1437.2 137.5,1434.7 138.1,1432.4 138.8,1430.5 139.4,1427.3 140.2,1425.4 141.5,1422.8 143,1419.8 144.6,1418.5 146.3,1419.7 148.2,1422.1 149.9,1424.2 151.6,1426.3 153.1,1428.5 154.7,1430.3 156.5,1432.3 158.8,1433.7 161.2,1435.3 163.6,1436.5 165.5,1438.4 167.2,1440.7 169,1442.5 170.8,1445.2 172.5,1447 174.3,1449.4 176.1,1451.4 177.9,1453.9 179.6,1455.9 181.4,1458.7 183.2,1460.8 185.2,1462.1 187.5,1463.4 190,1464.8 192.5,1466.4 195,1467.6 197.3,1468.9 199.2,1470.9 200.8,1472.6 202.5,1474.7 204.2,1476.5 205.8,1478.8 207.5,1480.8 209.2,1482.1 210.8,1484.8 212.6,1486 214.6,1487.9 216.7,1489.4 218.8,1491.5 220.8,1492.9 222.9,1494.9 225.3,1496.3 228.1,1496.7 231.1,1496.8 233.8,1495.1 235.7,1492.6 236.7,1490.2 237.2,1487.6 237.7,1484.8 238.1,1482.8 238.6,1480.2 239.1,1477.8 239.5,1475 239.9,1472 240.3,1470.4 240.5,1467.1 240.8,1464.8 241.1,1462.5 241.3,1459.5 241.6,1457 241.9,1454.5 242.1,1452.9 242.4,1450.3 242.7,1447.8 242.9,1444.9 243.2,1442.2 243.5,1439.6 243.8,1437.9 244.1,1435.4 244.5,1432.8 244.9,1430.1 245.2,1427 245.6,1425.2 246,1422.4 246.4,1420.3 246.8,1417 247.1,1415.1 247.8,1412.4 249.1,1409 250.9,1407.3 252.9,1407.6 254.7,1409.8 256,1413 257.1,1414.6 258.1,1417.9 259.2,1419.8 260.2,1422.9 261.2,1425.2 261.9,1427.2 262.6,1430 263.3,1432.1 264,1435.2 264.7,1437.3 265.3,1439.7 266,1442.8 266.7,1444.6 267.4,1447.2 268.1,1449.8 268.7,1452.1 269.4,1455.1 270,1457.5 270.6,1459.6 271.2,1462.4 271.9,1465.3 272.5,1467.7 273.1,1469.8 273.8,1472.5 274.4,1474.9 275,1477.9 275.6,1479.5 276.2,1482.7 276.9,1484.7 277.5,1487.6 278.1,1490.1 278.8,1492.2 279.4,1494.6 280,1497.7 280.6,1499.8 281.2,1502.1 281.9,1505.4 282.5,1507.6 283.1,1510 283.8,1512.1 284.4,1515.4 285,1517.8 285.8,1520 286.5,1522.2 287.2,1525.3 288,1527.4 288.8,1530.1 289.5,1532.2 290.2,1535.5 291,1537.9 291.8,1539.6 292.6,1542.2 293.6,1544.7 294.6,1547.4 295.7,1550.2 296.8,1552.2 297.9,1554.9 298.9,1557.8 300,1560.4 301.1,1562.6 302.1,1565 303.2,1567.6 304.3,1570.2 305.4,1572.5 306.4,1574.9 307.6,1577.9 309,1579.3 310.5,1581.9 312,1584.1 313.5,1586.9 315.1,1588.9 316.9,1590.9 318.8,1592.5 320.6,1594.3 322.5,1596 324.5,1598.3 326.5,1600 328.5,1601.8 330.5,1603.2 332.6,1604.3 335,1605.9 337.5,1606.6 340,1608.2 342.5,1609 344.9,1610.7 347.1,1611.6 349.3,1613.3 351.4,1615.3 353.6,1617.6 355.7,1619.2 357.9,1620.8 360,1622.8 362.1,1623.7 364.3,1626 366.4,1627.5 368.6,1629.2 370.7,1630.9 372.9,1631.8 374.9,1633.6 376.9,1635.9 378.8,1637.5 380.6,1638.6 382.5,1640.5 384.4,1642.7 386.2,1643.9 388.1,1645.8 390.1,1647.5 392.1,1648.6 394.3,1650.1 396.4,1652.2 398.6,1652.8 400.7,1654.7 402.9,1656.5 405,1657.9 407.2,1659.3 409.4,1660.3 411.7,1661.4 413.9,1663.2 416.1,1664.9 418.3,1666.3 420.6,1666.8 422.8,1668.8 424.9,1670.5 426.9,1671.4 428.9,1673.3 430.8,1675.5 432.8,1676.6 434.7,1678.8 436.7,1680.3 438.6,1681.5 440.6,1683.6 442.6,1685.3 444.7,1686 446.9,1687.7 449.2,1689.3 451.4,1690.3 453.6,1691.5 455.8,1693.7 458.1,1694.5 460.3,1696.3 462.5,1697.3 464.6,1699.3 466.7,1700.3 468.8,1701.4 470.8,1703.4 472.9,1704.2 475,1706.1 477.1,1706.7 479.2,1708.3 481.2,1709.8" fill="none" stroke="#3d5aae" stroke-width="5" stroke-linejoin="round" stroke-linecap="round" />
<polyline points="57,1768.3 59.6,1769.9 62.2,1771.6 64.9,1773.8 67.5,1774.1 70,1774.8 72.5,1772.8 75,1772 77.5,1771.6 80,1771.8 82.5,1770.5 85,1770.2 87.5,1770.8 90,1770.7 92.5,1772.2 95,1772.8 97.5,1774.5 100,1774.7 102.5,1775.8 105,1775.9 107.1,1775 108.4,1773.4 109.3,1770.8 110.2,1768.3 111.1,1766.1 112,1762.3 112.9,1759.7 113.6,1757.6 114.2,1754.7 114.6,1752.2 115,1749.9 115.4,1747.1 115.8,1745.4 116.2,1742.9 116.7,1740.6 117.1,1737.9 117.5,1735.3 117.9,1732 118.3,1730.2 118.8,1727.3 119.2,1724.9 119.6,1722.8 120,1719.9 120.4,1717.7 120.8,1714.7 121.2,1711.9 121.7,1709.5 122.1,1707.1 122.5,1704.8 122.9,1702.1 123.3,1700.1 123.8,1697.5 124.2,1695.2 124.6,1692.2 125.1,1689.8 126,1687.4 127,1685.5 128,1682.4 129,1679.6 130.4,1678.7 132.5,1678.9 134.6,1679.9 136.1,1682.9 137.1,1684.7 138.2,1687.7 139.3,1689.5 140.4,1692.5 141.4,1694.6 142.5,1697.3 143.6,1699.7 144.6,1701.9 145.7,1705.1 146.8,1707.9 147.9,1710.6 148.9,1712.4 150,1714.5 151.2,1717.7 152.5,1720.3 153.8,1723 155,1725.4 156.2,1727.6 157.6,1729.5 159,1731.7 160.5,1734.2 162,1735.5 163.5,1737.6 164.9,1739.7 166.2,1743 167.5,1745 168.8,1747.3 170,1750.2 171.2,1752.4 172.5,1754.9 173.8,1757.8 175,1760.1 176.2,1762.6 177.5,1765.5 178.8,1767.2 180,1769.7 181.2,1772.4 182.5,1774.7 183.8,1777.3 185.2,1780.1 187,1781.8 189,1784.5 191,1785.7 193,1787.6 195.1,1790.5 197.5,1791.6 200,1793.6 202.5,1794.8 204.8,1797 206.9,1798 208.8,1800.1 210.6,1802.9 212.7,1804.8 215,1806.7 217.5,1808.8 220,1809.7 222.5,1809.2 225,1808.9 227.5,1809.2 230,1808.6 232.5,1808.4 235,1807.6 237.5,1808.3 240,1808 242.5,1808.6 245,1809.3 247.5,1809 250,1809.6 252.5,1808 255,1807.5 257.5,1806.9 260,1807.5 262.5,1809.3 265,1809.7 267.5,1810.9 270,1811.4 272.5,1812.9 275,1814 277.5,1814.6 280,1814.9 282.5,1815.1 285,1815.6 287.5,1816.4 290,1816.4 292.5,1815.2 295,1815 297.5,1815.2 300,1816.2 302.5,1817 305,1817.3 307.5,1816.6 310,1815.5 312.5,1815.2 315,1815 317.5,1814.3 320,1813.6 322.5,1813.1 325,1812.8 327.5,1812 330,1811.5 332.5,1812 335,1813.4 337.5,1813.9 340,1812.8 342.5,1812.8 345,1812.8 347.5,1814.2 350,1814.5 352.5,1815.9 355,1817.6 357.5,1817.3 360,1817.7 362.5,1817.6 365,1817.2 367.5,1817.5 370,1817 372.5,1816.9 375,1817.6 377.3,1816.9 379.4,1814.9 381.2,1812.6 383.1,1810.3 385.2,1808 387.5,1807.3 390,1806.2 392.5,1805.6 395,1805 397.5,1804.2 400,1803.1 402.5,1802.8 405,1802.8 407.5,1803.6 410,1804.6 412.5,1805.3 415,1806.9 417.5,1809.1 420,1809.8 422.5,1809.4 425,1809.9 427.5,1808.8 430,1809.3 432.5,1808.8 435,1808.1 437.5,1807.6 440,1807.2 442.5,1807.3 445,1806.7 447.5,1805.5 450,1805 452.5,1804.4 455,1802.6 457.5,1802 460,1801.2 462.5,1800 465,1799.6 467.5,1799.9 470,1798.9 472.5,1798.7 475,1798.2 477.5,1797 480,1795.8" fill="none" stroke="#1a1a1a" stroke-width="5.4" stroke-linejoin="round" stroke-linecap="round" />
<path d="M60.3 1654V1734H104.5" fill="none" stroke="#231f20" stroke-width="2.2" stroke-linejoin="miter"/>
<line x1="309" y1="1351.2" x2="346.3" y2="1351.2" stroke="#3d5aae" stroke-width="5.6" />
<line x1="309" y1="1402" x2="346.3" y2="1402" stroke="#55c5ea" stroke-width="5.6" />
<line x1="309" y1="1453" x2="346.3" y2="1453" stroke="#231f20" stroke-width="5.6" />
<path d="M379 1326.9C381.5 1338 390.3 1345.4 390.3 1356.8C390.3 1364.6 385.6 1369 379 1369C372.4 1369 367.7 1364.6 367.7 1356.8C367.7 1345.4 376.5 1338 379 1326.9Z" fill="#54b6e9" stroke="#48a2dc" stroke-width="1.7"/>
<path d="M403.4 1326.9C405.9 1338 414.7 1345.4 414.7 1356.8C414.7 1364.6 410 1369 403.4 1369C396.8 1369 392.1 1364.6 392.1 1356.8C392.1 1345.4 400.9 1338 403.4 1326.9Z" fill="#54b6e9" stroke="#48a2dc" stroke-width="1.7"/>
<path d="M379 1385.9C381.5 1396.9 390.3 1404.2 390.3 1415.4C390.3 1423.1 385.6 1427.5 379 1427.5C372.4 1427.5 367.7 1423.1 367.7 1415.4C367.7 1404.2 376.5 1396.9 379 1385.9Z" fill="#54b6e9" stroke="#48a2dc" stroke-width="1.7"/>
<g transform="translate(382.7 1457.5)" fill="none" stroke="#231f20" stroke-width="5.2" stroke-linecap="butt"><ellipse cx="-0.6" cy="0.3" rx="15.3" ry="11.1" transform="rotate(-6)"/><path d="M-15 21.2L15.2 -21"/></g>
<rect x="547" y="1319" width="45" height="517" fill="#e6e6e5" />
<path d="M676.75 1319V1834" fill="none" stroke="#231f20" stroke-width="5.6" stroke-dasharray="14.6 17.4" stroke-dashoffset="11.3"/>
<path d="M564 1790H927.5" fill="none" stroke="#231f20" stroke-width="5.6" stroke-dasharray="16 16"/>
<polygon points="497.5,1787.4 500,1786.5 502.5,1785.1 505,1783.7 507.5,1782.5 510,1782.1 512.5,1782.7 515,1783 517.5,1782.2 520,1782.1 522.5,1780.1 525,1781.2 527.5,1780.5 530,1781.2 532.5,1779.6 535,1780 537.5,1783.1 540,1782.4 542.5,1782.8 545,1782.5 547.5,1783.5 550,1784.7 552.5,1783.7 555,1781 557.1,1779.5 558.4,1776.2 559.3,1774.2 560.2,1773.6 561.1,1771.3 562,1768.7 562.9,1765.2 563.6,1763.2 564,1758.8 564.2,1757.4 564.5,1756.2 564.8,1753.6 565,1750 565.2,1747.1 565.5,1746 565.8,1743.4 566,1739.4 566.2,1738 566.5,1734.1 566.8,1731.8 567,1729.9 567.2,1726.5 567.5,1724.2 567.8,1722.7 568,1720.1 568.2,1718.7 568.5,1715.9 568.8,1711.6 569,1711.2 569.2,1706.4 569.5,1705.5 569.8,1703.6 570,1700.7 570.3,1698.8 570.7,1694.9 571,1692.6 571.3,1691.2 571.7,1688.5 572,1685.5 572.3,1681.8 572.7,1680.1 573,1677.9 573.3,1673.9 573.7,1673 574,1669.3 574.3,1667.4 574.7,1665.1 575.1,1662.7 575.6,1661 576.1,1658 576.7,1655.2 577.2,1653.6 577.8,1649 578.3,1646.9 578.9,1644.3 579.4,1642.2 580.1,1640 581,1638.9 582.1,1634.5 583.1,1632.3 584.2,1631.9 585.2,1627.4 586.6,1626.1 588.8,1625 591.1,1625.1 593,1627 594.8,1629.1 596.5,1631.8 598.2,1632.9 599.9,1634.3 601.2,1638.5 602.5,1640.5 603.8,1642.2 605,1643.6 606.2,1645 607.5,1647.8 608.8,1651.5 610,1652.2 611.2,1656.4 612.5,1656.4 613.6,1659.4 614.8,1662.9 615.9,1663.7 617,1666 618.2,1669.9 619.3,1670.3 620.5,1674.4 621.6,1676.6 622.7,1677.6 623.9,1680.7 624.9,1683.7 625.9,1683.7 626.8,1688 627.7,1690.8 628.6,1692.8 629.5,1695.8 630.5,1696.4 631.4,1699.6 632.3,1703.2 633.2,1705.4 634.1,1708.7 635.1,1710.8 636.2,1711.5 637.5,1714.8 638.8,1716.8 640,1720.2 641.2,1722.7 642.5,1724 643.8,1727.3 645.1,1730 646.8,1730.9 648.6,1735.2 650.4,1735.8 652.1,1738.6 653.9,1741 655.7,1742.1 657.6,1745.7 659.6,1746.7 661.7,1747.4 663.8,1749.3 665.8,1750.7 667.9,1752.4 670.3,1755.7 673.4,1756.2 675.9,1756.4 676.9,1755.3 677,1752.8 677.1,1749.8 677.2,1748.8 677.4,1745.1 677.5,1743.3 677.6,1740.4 677.7,1737.9 677.9,1734.8 678,1732 678.1,1729.2 678.2,1727.6 678.3,1725.2 678.5,1723.3 678.6,1719 678.7,1717.9 678.8,1716.2 679,1712.1 679.1,1710.5 679.2,1706.9 679.3,1705.1 679.4,1702.3 679.6,1700.9 679.7,1697.7 679.8,1695.2 679.9,1692.7 680.1,1690.3 680.2,1687.5 680.3,1685.6 680.4,1682.9 680.5,1678.9 680.7,1677.4 680.8,1674 680.9,1673.6 681,1669.3 681.2,1666.3 681.3,1664.1 681.4,1663.6 681.5,1660.6 681.6,1658.7 681.8,1653.7 681.9,1652.9 682,1650.1 682.1,1647 682.3,1646.2 682.4,1642.2 682.5,1639.1 682.6,1638.4 682.7,1635.4 682.8,1633.4 682.9,1630 683,1628.5 683.1,1626.3 683.2,1622.9 683.2,1619.2 683.3,1618.4 683.4,1613.9 683.5,1613.2 683.6,1608.7 683.7,1607.6 683.8,1605.1 683.9,1603.3 684,1599 684.1,1598 684.2,1593.7 684.3,1591.5 684.4,1590.4 684.5,1587.2 684.6,1585 684.7,1582 684.8,1580.5 684.8,1578.2 684.9,1575.2 685,1573.2 685.1,1571.3 685.2,1568.2 685.3,1565 685.4,1561.3 685.5,1560.4 685.6,1558.6 685.7,1554.4 685.8,1553.3 685.9,1550.4 686,1547.1 686.1,1544 686.2,1542.4 686.3,1540.4 686.4,1536.8 686.5,1533.8 686.6,1532.5 686.7,1530.1 686.8,1527.7 686.9,1524.5 687,1521.2 687.1,1519.1 687.2,1517.1 687.3,1514.8 687.4,1511.6 687.5,1510.4 687.6,1506.2 687.8,1504.1 687.9,1501.4 688,1500.9 688.1,1497.2 688.2,1495.9 688.3,1492 688.4,1489.9 688.5,1486.9 688.6,1484.4 688.7,1481.3 688.8,1480.8 688.9,1478.8 689,1475.9 689.1,1473.2 689.2,1469.8 689.4,1467.8 689.5,1465.6 689.6,1463.7 689.7,1460.2 689.8,1458.1 689.9,1454.1 690,1453.8 690.2,1450.4 690.4,1448.1 690.6,1443.7 690.8,1442.6 690.9,1439.7 691.1,1436.4 691.3,1434.3 691.5,1432.6 691.7,1429.6 691.9,1426.6 692.1,1423.9 692.2,1423.1 692.4,1421 692.6,1417.6 692.8,1414.6 693,1413.4 693.2,1410.3 693.4,1407.2 693.6,1403.8 693.8,1401.4 694.1,1398.9 694.4,1396.7 694.7,1394.3 695,1393.4 695.3,1388.9 695.6,1387.9 695.9,1385.1 696.2,1383.5 696.6,1380.1 696.9,1378 697.2,1375.4 697.7,1371.4 698.4,1369 699.4,1366.6 700.3,1364.2 701.5,1362.3 703,1360.7 704.8,1357.7 706.5,1356.3 708.2,1354.2 710.2,1353.6 712.5,1353.6 715,1355.2 717.5,1357.1 720,1357 722.5,1357.2 725,1357.8 727.5,1358 730,1357.7 732.5,1359.1 734.8,1358.6 736.7,1359.2 738.3,1361.8 740.2,1363.1 742.5,1365.6 745,1364.2 747.5,1365 750.1,1363.8 752.8,1364.1 755.6,1363.6 758.4,1365.7 760.9,1364.1 762.8,1367.8 764.4,1369.4 765.9,1371.1 767.3,1371.4 768.3,1376.1 769.2,1378 770,1380.9 770.8,1383.2 771.7,1385.6 772.5,1386.8 773.3,1390.2 774.2,1391.8 775,1394.7 775.8,1396.5 776.7,1400.1 777.5,1403.6 778.3,1405.3 779.2,1407.6 780.4,1410.3 782.5,1412.5 785,1413.1 787.2,1414.9 789,1417 790.5,1419 792,1419.1 793.5,1422.2 795,1422.6 796.7,1426 798.3,1428 800,1430.1 801.7,1431.5 803.3,1435.1 804.9,1435.8 806.1,1438.1 807.1,1441 808.2,1442.7 809.3,1445.9 810.4,1446.6 811.4,1450.7 812.7,1452.4 814.3,1454.2 816.1,1457.6 817.9,1459.6 819.6,1461.4 821.4,1464.2 823.2,1465 824.9,1467.3 826.4,1469.3 827.9,1471.4 829.3,1473.2 830.7,1475 832.1,1478.4 833.6,1481.2 835,1483.7 836.4,1485.2 837.9,1487.8 839.3,1489.4 840.7,1491.7 842.1,1492.3 843.6,1495 845,1498.1 846.4,1499.4 847.9,1501.9 849.3,1505 850.7,1506.2 852.1,1507.3 853.6,1509.9 854.9,1513.6 856.1,1514 857.2,1517.3 858.4,1519.3 859.5,1521.3 860.6,1525.5 861.8,1526.3 862.9,1531.2 864,1533.2 865.1,1534.4 866.4,1538.4 868,1539.2 869.8,1542.5 871.5,1543.6 873.2,1546 875,1548.2 876.6,1549.6 878.1,1553.1 879.7,1555.3 881.2,1557.2 882.8,1558.3 884.4,1561.8 885.9,1563.9 887.4,1563.8 888.8,1568 890,1568.9 891.2,1572.4 892.5,1573.6 893.8,1575.9 895,1578.7 896.2,1579.5 897.5,1583.3 898.8,1585.2 900,1588.2 901.4,1588.8 902.8,1592.6 904.2,1594.8 905.6,1597.6 906.9,1597.7 908.3,1600.3 909.7,1604.3 911.1,1605 912.7,1606.7 914.6,1609.1 916.6,1609.5 918.7,1613 920.8,1613.2 922.9,1613.9 924.9,1616.4 927,1618.5 927,1697.5 924.6,1697.1 922.2,1695.5 919.8,1694.9 917.4,1695.7 915.1,1692.8 913,1691.7 911,1690 909,1689.5 907,1686.2 905,1685.2 903.1,1683.6 901.1,1681.6 899.2,1678.4 897.2,1678.1 895.3,1675.7 893.3,1674.4 891.4,1671.4 889.4,1669 887.4,1668.4 885,1666.8 882.5,1665.6 880,1664.1 877.5,1663.1 875,1662.4 872.5,1661.6 870,1658.5 867.5,1658.6 865.1,1657.6 862.9,1654.9 860.7,1653.4 858.6,1652.9 856.4,1650.6 854.3,1650.7 852.1,1648.2 850,1646.8 847.8,1644.9 845.6,1644.4 843.3,1641.9 841.1,1642.5 838.9,1640.1 836.7,1637.8 834.4,1637.9 832.2,1637.5 829.9,1634.5 827.5,1634.9 825,1634.8 822.5,1634.9 820,1634.2 817.5,1632.6 815,1634 812.5,1632.1 810,1630.1 807.5,1629.6 805,1627.8 802.5,1627.4 800,1627.5 797.5,1625.2 795,1622.9 792.5,1622.6 790,1622.2 787.5,1621.5 785,1621.7 782.7,1620.6 780.8,1617.1 779.2,1615.4 777.5,1614.4 775.8,1611.6 774.2,1609.2 772.4,1608.7 770.5,1605.6 768.5,1604.8 766.5,1603.4 764.5,1602 762.4,1599.3 760,1598.9 757.5,1597.2 755,1597 752.5,1595.2 750,1593.9 747.5,1591.9 745,1590.8 742.5,1588.1 740.3,1587.9 738.6,1585.7 737.1,1584.1 735.7,1582 734.3,1579 732.9,1576.2 731.4,1574.7 729.9,1571.5 728.2,1569 726.5,1568.7 724.8,1566.7 723,1564.4 721.4,1560.1 720.2,1558.3 719.2,1557.1 718.1,1553.9 717.1,1551.9 716,1549.6 715,1548.5 714.1,1545.2 713.1,1541.6 712.2,1539.3 710.9,1536.9 708.8,1533.7 706.3,1533 704.1,1532.7 701.9,1533.5 699.7,1537.3 698,1536.6 697.2,1538.7 696.8,1542 696.5,1545.2 696.1,1548.2 695.8,1550.4 695.5,1551.3 695.1,1556 694.8,1557.9 694.4,1560.7 694.1,1561.9 693.8,1566 693.5,1568 693.2,1570 693,1571.2 692.8,1574.2 692.5,1578.7 692.2,1579.2 692,1583.6 691.8,1584.5 691.5,1587.4 691.2,1588.8 691,1591.9 690.8,1593.7 690.5,1597.4 690.2,1599.9 690,1603.7 689.8,1605.7 689.5,1606.7 689.2,1609.9 689,1612.9 688.8,1615.2 688.6,1617.2 688.4,1621.2 688.2,1623.5 688,1623.7 687.8,1626.6 687.6,1630.7 687.4,1632.4 687.2,1633.8 687.1,1637.2 686.9,1640.2 686.7,1643.4 686.5,1644.1 686.3,1647.3 686.1,1649.7 685.9,1651.3 685.8,1654 685.6,1658.2 685.4,1661.3 685.2,1663.8 685,1665.4 684.9,1668.5 684.8,1670.9 684.7,1673.4 684.6,1674.7 684.5,1678.1 684.4,1681.1 684.3,1681.4 684.2,1684 684.2,1686.7 684.1,1689.9 684,1692.5 683.9,1695.2 683.8,1698.2 683.7,1700.5 683.6,1702.1 683.5,1704.5 683.4,1707.5 683.3,1711.2 683.2,1713.4 683.1,1714 683,1718.1 682.9,1720.3 682.8,1723.8 682.8,1724.3 682.7,1728.1 682.6,1729.2 682.5,1733.1 682.4,1736.3 682.3,1737.7 682.2,1738.9 682.1,1741.7 682,1745.1 681.9,1746.8 681.8,1751.2 681.7,1752.9 681.6,1755.9 681.5,1758.5 681.4,1759 681.3,1763.5 681.1,1766.3 680.7,1768.6 680.1,1771.3 679.6,1773.9 679,1776.8 678.4,1777.5 677.9,1782.7 677.3,1784.6 676.2,1785.1 673.9,1785.5 671,1785 668.2,1784.4 665.4,1783 662.6,1783.3 660,1782.1 657.5,1782.2 655,1779 652.5,1778 650,1777.3 647.5,1776.8 645,1775.8 642.5,1773.5 640,1772.1 637.7,1771.4 635.7,1769.6 633.9,1766.5 632.1,1766.4 630.4,1764.9 628.6,1761.3 626.8,1759.6 625,1758.7 623.2,1756.8 621.4,1755 619.6,1752.2 617.9,1751.2 616.1,1747.7 614.3,1745.8 612.5,1744.3 610.7,1742.1 608.9,1739.8 607.1,1737.6 605.4,1736.3 603.6,1733.8 601.8,1734 599.9,1732.4 598,1728.5 596,1726.7 594,1726.3 592,1723.2 590,1722.2 588,1719.8 586,1718 584,1716.5 582,1714 580.2,1713.5 578.8,1713.2 577.5,1717.7 576.2,1719.5 575.2,1723.2 574.6,1725.4 574.3,1727 573.9,1730.6 573.6,1733.8 573.2,1735.5 572.9,1738.1 572.5,1740.9 572.1,1743.7 571.8,1746 571.4,1748.4 571.1,1749.5 570.7,1752 570.4,1755.6 570,1757.8 569.6,1761.1 569.3,1763.1 568.9,1763.9 568.6,1768.2 568.2,1768.7 567.9,1771.9 567.4,1774.6 566.7,1776.5 565.8,1780.8 565,1782.3 564.2,1784.6 563.3,1788.8 562.5,1789.4 561.7,1793.6 560.8,1794.9 559.7,1797.8 558,1799.5 556,1802.1 554,1802.6 552,1805.4 549.9,1805.5 547.5,1806.2 545,1807.1 542.5,1805.5 540,1807.5 537.5,1805 535,1806.3 532.5,1804.9 530,1806 527.5,1803.4 525,1803.6 522.5,1801.8 520,1801.3 517.5,1798.6 515,1798.2 512.5,1797.3 510,1796.2 507.5,1794.5 505,1795.3 502.5,1793.1 500,1793.8 497.5,1793.3" fill="#f37a58" fill-opacity="0.78"/>
<polygon points="497.5,1783.8 500,1783.6 502.5,1783.8 505,1783.5 507.5,1780.8 510,1781.7 512.5,1779.9 515,1781.7 517.5,1780.1 520,1779.1 522.5,1779.4 525,1779.3 527.5,1778.1 530,1779.3 532.5,1780 535,1780.4 537.5,1780.8 540,1780.7 542.5,1781.9 545,1783.2 547.5,1782.4 549.8,1782.3 551.9,1781.9 553.8,1780.4 555.6,1777.3 557.2,1774.9 558.3,1773 559.2,1771.5 560,1761.1 560.8,1760.2 561.7,1756.9 562.5,1754.2 563.3,1751 564.2,1750.4 564.9,1747.3 565.6,1744.2 566.2,1740.5 566.7,1739.6 567.3,1736.6 567.9,1735.2 568.5,1730.5 569,1729.1 569.6,1725.7 570.2,1723.7 570.8,1721.4 571.3,1718.5 571.9,1716.9 572.6,1714 573.5,1711.6 574.6,1707.7 575.6,1705.8 576.7,1703.2 577.7,1700.6 579.1,1699.9 581.2,1700.4 583.8,1701.2 586.1,1705 588,1704.8 589.8,1708.4 591.5,1709.4 593.2,1711.1 595.1,1714.3 597,1716.2 599,1718 601,1719.2 603,1719.6 605,1722.1 607.1,1722 609.3,1725.7 611.4,1727.2 613.6,1728.7 615.7,1730.3 617.9,1731.6 620,1733.7 622.1,1735.3 624.3,1736.8 626.4,1740 628.6,1739.4 630.7,1743.1 632.9,1744.2 635,1744.5 637.1,1746.3 639.3,1748.1 641.4,1750 643.6,1750.3 645.7,1752.9 647.9,1754.3 650.1,1757.4 652.5,1758.7 655,1758.1 657.5,1760.5 660,1760.2 662.5,1763.1 665.1,1764 667.9,1763.8 670.9,1766.3 673.8,1766.4 676.1,1767.3 677.2,1754 677.6,1751.3 678,1749 678.4,1745.9 678.8,1743.6 679.2,1741.8 679.6,1738.1 680,1735.4 680.4,1732.4 680.8,1730.8 681.3,1727.4 681.7,1725.1 682.1,1722.8 682.5,1719.9 682.9,1718.1 683.3,1715.3 683.8,1711.9 684.2,1710.7 684.6,1708.1 685,1704.9 685.4,1703.1 685.8,1700.1 686.4,1699 687.1,1694.8 687.9,1692 688.8,1691 689.6,1688.2 690.4,1685.4 691.8,1683.8 694.4,1682 697.3,1679.7 700,1680.8 702.5,1682.4 705,1683.7 707.5,1683.8 710,1684.8 712.5,1687.8 714.9,1688.7 717,1690.6 719,1692.9 721,1693.9 723,1697.1 724.9,1698.4 726.8,1699.7 728.6,1702.1 730.4,1702.7 732.1,1706.2 733.9,1706.1 735.7,1707.8 737.5,1709.8 739.3,1711.9 741.1,1714.6 742.9,1715.6 744.6,1716.3 746.4,1718.8 748.2,1722.3 750.1,1723.6 752.1,1724 754.2,1725.9 756.2,1727.4 758.3,1730 760.4,1731.8 762.5,1733.3 764.6,1735.5 766.7,1737.6 768.8,1739.7 770.8,1741.6 772.9,1742.5 775.1,1745.4 777.5,1746.5 780,1748.7 782.5,1748.8 785,1751.7 787.5,1751.1 790,1753.2 792.5,1754.2 795,1755.2 797.5,1756.2 800,1757.3 802.5,1758.5 805,1759.6 807.5,1761.3 810,1764 812.5,1764.9 815,1765.7 817.5,1766.6 820,1768.6 822.5,1768.5 825,1769.6 827.5,1769.5 830,1770.6 832.5,1769.8 835,1769.1 837.5,1770.3 840,1770.4 842.5,1770.3 845,1770.3 847.5,1770 850,1768.2 852.5,1769.8 855,1768.3 857.5,1768.5 860,1770.2 862.5,1770.6 865,1772.4 867.5,1772.7 870,1774.7 872.5,1774.2 875,1774.3 877.5,1776.5 880,1777.1 882.5,1776.5 885,1776.8 887.5,1778 890,1778.9 892.5,1779 895,1779.6 897.5,1780.6 900,1779.8 902.5,1780.9 905,1781.7 907.5,1782.6 910,1782.6 912.5,1783.6 915,1785.3 917.5,1785.7 920,1785.9 922.5,1786.5 925,1786.7 927.5,1784.7 927.5,1810.2 925,1810.7 922.5,1810.6 920,1811.1 917.5,1810.7 915,1809.7 912.5,1808.2 910,1807.5 907.5,1806.9 905,1807 902.5,1807 900,1805.2 897.5,1805.9 895,1804.1 892.5,1805.4 890,1804.3 887.5,1802.7 885,1802.5 882.5,1802.2 880,1800.8 877.5,1801.7 875,1801.2 872.5,1800.4 870,1801.6 867.5,1799 865,1799.8 862.5,1799.6 860,1799.4 857.5,1798.8 855,1798.2 852.5,1799.8 850,1798.8 847.5,1799.4 845,1800.2 842.5,1800.1 840,1801.8 837.5,1801.1 835,1803.4 832.5,1802.7 830,1803.1 827.5,1801.8 825,1802.4 822.5,1804.2 820,1803.7 817.5,1803.1 815,1801.2 812.5,1801.9 810,1800.2 807.5,1799.6 805,1798.2 802.5,1797.3 800,1795.4 797.5,1794.7 795,1792.6 792.5,1793.7 790,1791.8 787.5,1792.3 785,1791.7 782.5,1791.2 780,1790.2 777.5,1789 775.1,1788.1 772.9,1786.5 770.8,1785.3 768.8,1781.4 766.7,1780.7 764.6,1778.6 762.5,1778.4 760.4,1775.9 758.3,1775.1 756.2,1773 754.2,1771.9 752.1,1768.6 750.1,1767.4 748.2,1766.1 746.4,1764 744.6,1761.7 742.9,1760.5 741.1,1759.3 739.3,1756 737.5,1756.2 735.7,1753.8 733.9,1751.9 732.1,1751 730.4,1747.4 728.6,1745.7 726.8,1743.7 724.9,1743.4 723,1742.4 721,1739.4 719,1737.4 717,1735.2 714.9,1734.5 712.5,1732.8 710,1731.6 707.5,1730.2 705,1728.1 702.5,1727.2 700,1712.2 697.3,1712.7 694.4,1712.3 691.8,1715.4 690.4,1716.5 689.6,1719.7 688.8,1722.2 687.9,1724.9 687.1,1727.7 686.4,1730.7 685.8,1733.9 685.4,1735.3 685,1738.1 684.6,1740.4 684.2,1742.4 683.8,1744.8 683.3,1748.4 682.9,1750 682.5,1752 682.1,1755.4 681.7,1757.6 681.3,1760.8 680.8,1762.9 680.4,1764 680,1768.2 679.6,1769.9 679.2,1772.7 678.8,1776.2 678.4,1779 678,1779.6 677.6,1783 677.2,1786.2 676.1,1788.3 673.8,1788.3 670.9,1787.5 667.9,1785.7 665.1,1784.7 662.5,1782.8 660,1781.5 657.5,1780.8 655,1779.4 652.5,1778.4 650.1,1777.3 647.9,1775.5 645.7,1774 643.6,1772.9 641.4,1771.2 639.3,1783.8 637.1,1782.4 635,1780.9 632.9,1779.4 630.7,1777.5 628.6,1775.4 626.4,1775 624.3,1772.1 622.1,1771.8 620,1769.1 617.9,1766.6 615.7,1765 613.6,1762.6 611.4,1761.2 609.3,1760 607.1,1757.8 605,1756 603,1755 601,1754.7 599,1751.7 597,1750.2 595.1,1748.9 593.2,1745.6 591.5,1744.3 589.8,1743.8 588,1741.4 586.1,1738.9 583.8,1736.3 581.2,1734.9 579.1,1733.4 577.7,1735.5 576.7,1738.5 575.6,1741.8 574.6,1743.5 573.5,1746.3 572.6,1749.5 571.9,1752.7 571.3,1755.1 570.8,1755.6 570.2,1758.9 569.6,1760.7 569,1764.5 568.5,1765.6 567.9,1770.1 567.3,1770.5 566.7,1774.4 566.2,1776.9 565.6,1779.3 564.9,1782 564.2,1784.8 563.3,1786.5 562.5,1789.9 561.7,1791.9 560.8,1795.1 560,1796.5 559.2,1779.1 558.3,1780.9 557.2,1783.1 555.6,1785.9 553.8,1787.2 551.9,1789.2 549.8,1790.3 547.5,1790.3 545,1790.4 542.5,1789.4 540,1789.7 537.5,1788.5 535,1787.1 532.5,1787.5 530,1785.7 527.5,1786.4 525,1786.4 522.5,1788.3 520,1787 517.5,1789.1 515,1789.2 512.5,1789 510,1790.5 507.5,1789.7 505,1791.7 502.5,1792.1 500,1791.7 497.5,1791.8" fill="#fbb463" fill-opacity="0.72"/>
<polygon points="497.5,1787.2 500,1786.6 502.5,1787.1 505,1786.8 507.5,1787.6 510,1787.4 512.5,1787.5 515,1787.2 517.5,1786.8 520,1786.9 522.5,1786.7 525,1787.6 527.5,1788.4 530,1788.4 532.5,1786.9 535,1787.8 537.5,1786.8 540,1786.3 542.5,1785.9 545,1785.4 547.5,1786 550,1786.5 552.5,1785.5 555,1784.8 557.2,1784.7 558.8,1783.4 560,1780 561.2,1778.3 562.5,1776 563.8,1774.1 565,1771.3 566.2,1767.9 567.5,1766.3 568.8,1764 570.3,1761.7 572.5,1760.2 575,1758.9 577.5,1758.2 579.9,1756.1 582.1,1754.9 584.2,1754.3 586.2,1752.7 588.3,1750.5 590.4,1748.5 592.6,1748 595,1745.7 597.5,1744.1 600,1744.6 602.4,1743.5 604.5,1743.7 606.5,1747.4 608.5,1747.7 610.5,1751.5 612.4,1752.4 614.3,1755 616.1,1757.2 617.9,1759.8 619.6,1760.1 621.4,1762.9 623.2,1765.2 625.1,1767.6 627.1,1769 629.2,1770 631.2,1772.7 633.3,1773.9 635.4,1775.6 637.6,1777.5 640,1779.3 642.5,1779.3 645,1780.6 647.5,1781 650,1782.8 652.5,1782.3 655,1783.5 657.5,1783.9 660,1784.3 662.6,1785.4 665.4,1784.1 668.2,1784.2 671,1785 673.9,1784.1 676.5,1783.9 678.4,1783.4 680,1780 681.7,1778.4 683.4,1775.5 685.2,1774.2 687.5,1775.5 690,1776.7 692.5,1776.7 695,1776.8 697.5,1776.4 700,1774.2 702.5,1775.1 705,1776.2 707.5,1776.4 710,1778.9 712.5,1779.8 715,1780 717.5,1782.2 720,1783.7 722.5,1783.1 725,1781.6 727.5,1778.6 730,1777.7 732.5,1778.4 735,1779.3 737.5,1780 740,1782 742.5,1781.9 745,1784.5 747.5,1785.6 750,1786.5 752.5,1787.1 755,1787.2 757.5,1785.9 760,1786.7 762.5,1787.4 765,1786.1 767.5,1786.2 770,1786.4 772.5,1787.7 775,1786.4 777.5,1787.6 780,1786.6 782.5,1786.9 785,1787 787.5,1786.5 790,1786.1 792.5,1786.7 795,1786.3 797.5,1786.2 800,1785.2 802.5,1785.1 805,1782.5 807.5,1782.1 810,1780.8 812.5,1781.5 815,1780.7 817.5,1779.4 820,1777.8 822.5,1777.6 825,1776.4 827.5,1775.6 830,1775.5 832.5,1775 835,1774.7 837.5,1774.3 840,1774.3 842.5,1772.9 845,1772.7 847.5,1772.2 850,1772.4 852.5,1772.9 855,1771.9 857.5,1771.7 860,1771.2 862.5,1771.1 865,1771.9 867.5,1771.6 870,1770.3 872.5,1770 875,1770.5 877.5,1770.1 880,1771.1 882.5,1770.5 885,1770.5 887.5,1770.7 890,1768.3 892.5,1767.8 895,1768.5 897.5,1767.6 900,1766.1 902.5,1765.6 905,1764.4 907.5,1764.7 910,1763.2 912.5,1762.6 915,1762.3 917.7,1762.2 920.7,1760.4 923.8,1759.7 927,1758.2 927,1792.9 924.6,1794.7 922.2,1795 919.9,1795.7 917.5,1797.4 915,1798.2 912.5,1798.1 910,1798.3 907.5,1799.7 905,1800.2 902.5,1800.2 900,1800.4 897.5,1800.8 895,1801.5 892.5,1800.4 890,1801.3 887.5,1801.5 885,1802 882.5,1802.3 880,1803.7 877.5,1804.7 875,1805.1 872.5,1806.3 870,1806.7 867.5,1808.4 865,1809.3 862.5,1811.2 860,1811.5 857.5,1811.7 855,1812 852.5,1814.1 850,1813.9 847.5,1813.5 845,1814.3 842.5,1814.4 840,1814.9 837.5,1815 835,1813.2 832.5,1813.9 830,1812.5 827.5,1812.6 825,1813.1 822.5,1811.8 820,1813 817.5,1813.4 815,1812.8 812.5,1813.1 810,1813.3 807.5,1814.3 805,1813.9 802.5,1814.1 800,1814.2 797.5,1814.2 795,1814.1 792.5,1814.2 790,1813.4 787.5,1814.2 785,1812.8 782.5,1814.3 780,1813.8 777.5,1814 775,1812.8 772.5,1814.5 770,1813.5 767.5,1813.9 765,1813 762.5,1813.6 760,1812.1 757.5,1813.6 755,1811.9 752.5,1812.7 750,1811.9 747.5,1810.5 745,1811.1 742.5,1810.3 740,1807.9 737.5,1807.6 735,1806.9 732.5,1807.1 730,1808.5 727.5,1807.7 725,1807.3 722.5,1807.6 720,1806.6 717.5,1804.9 715,1804.2 712.5,1803.8 710,1803.4 707.5,1802.4 705,1800.8 702.5,1799.2 700,1798.6 697.5,1799.3 695,1798.4 692.5,1798.7 690,1797.4 687.5,1798 684.8,1798.2 682.1,1797.8 679.4,1799.6 676.7,1800 674,1799.9 671.2,1799 668.5,1799.1 665.8,1798.4 663,1799.4 660.2,1799.3 657.6,1798.5 655,1799.3 652.5,1798.3 650,1797.1 647.5,1795.9 645,1796.1 642.5,1795.4 640,1796.1 637.5,1794 635,1793.9 632.5,1791.9 630,1791.4 627.5,1790.2 625,1789.3 622.5,1787.8 620,1787.5 617.5,1786.4 615,1784.6 612.5,1784.3 610,1782.8 607.5,1781.5 605,1781 602.5,1778.8 600,1779 597.5,1778.2 595,1777.1 592.5,1775.9 590,1774.7 587.5,1772.9 585,1772.4 582.5,1771.2 580,1770.4 577.5,1770.7 575,1769.1 572.5,1769 570.3,1769.9 568.6,1771.6 567.2,1775.3 565.8,1776.9 564.4,1779.8 563.1,1781.6 561.7,1784.7 560.3,1787.4 558.9,1788.4 557.2,1791 555,1790.8 552.5,1791.2 550,1792.3 547.5,1791.4 545,1792.1 542.5,1792.1 540,1793.4 537.5,1792.3 535,1793.5 532.5,1793 530,1793.4 527.5,1792.2 525,1792.6 522.5,1793 520,1791.8 517.5,1792.3 515,1792 512.5,1790.8 510,1790.7 507.5,1791.2 505,1790.2 502.5,1790.7 500,1791 497.5,1789.8" fill="#2e2a28" fill-opacity="0.7"/>
<polyline points="497.5,1788.7 500,1788 502.5,1787.3 505,1787.1 507.5,1785.8 510,1786 512.5,1784.7 515,1785.1 517.5,1784.3 520,1783.6 522.5,1783.4 525,1783.2 527.5,1782.4 530,1782.4 532.5,1783.4 535,1784 537.5,1784.4 540,1784.8 542.5,1785.2 545,1786.6 547.5,1787.3 549.8,1787.1 551.9,1785.8 553.8,1783.8 555.6,1782.1 557.2,1779.4 558.3,1777.1 559.2,1775.4 560,1772.9 560.8,1770.2 561.7,1767.6 562.5,1765.5 563.3,1762.3 564.2,1760.4 564.9,1757.9 565.6,1754.6 566.2,1752.3 566.7,1749.8 567.3,1747.3 567.9,1745.4 568.5,1742.2 569,1740.3 569.6,1737.4 570.2,1735 570.8,1732.5 571.3,1730.2 571.9,1727.8 572.6,1725.4 573.5,1722.6 574.6,1719.6 575.6,1717.3 576.7,1714.4 577.7,1711.7 579.1,1710.2 581.2,1711 583.8,1713.1 586.1,1715.1 588,1716.7 589.8,1719.2 591.5,1721 593.2,1722.5 595.1,1724.8 597,1726.5 599,1728.3 601,1729.9 603,1731 605,1732.3 607.1,1734 609.3,1735.9 611.4,1738.2 613.6,1739.5 615.7,1741.6 617.9,1742.8 620,1744.5 622.1,1747 624.3,1748.7 626.4,1750.2 628.6,1751.2 630.7,1753.3 632.9,1754.9 635,1755.9 637.1,1757.5 639.3,1759.2 641.4,1761.3 643.6,1762.3 645.7,1764.6 647.9,1766.2 650.1,1767.6 652.5,1769 655,1770.1 657.5,1770.8 660,1772.1 662.5,1773.5 665.1,1774.7 667.9,1775.7 670.9,1776.5 673.8,1778.1 676.1,1777.9 677.2,1776.1 677.6,1773.6 678,1770.6 678.4,1768.1 678.8,1765.5 679.2,1763.1 679.6,1760.4 680,1757.4 680.4,1755 680.8,1752.9 681.3,1750.1 681.7,1748 682.1,1745 682.5,1742.1 682.9,1740.2 683.3,1737.8 683.8,1734.5 684.2,1732.1 684.6,1730.4 685,1727.9 685.4,1725.3 685.8,1722.9 686.4,1720.4 687.1,1717.2 687.9,1714.9 688.8,1712.6 689.6,1710.1 690.4,1707.1 691.8,1705.4 694.4,1703.2 697.3,1702.3 700,1702.6 702.5,1704 705,1705.3 707.5,1706.4 710,1707.8 712.5,1709.6 714.9,1711.1 717,1712.6 719,1715.1 721,1716.2 723,1718.7 724.9,1719.7 726.8,1721.5 728.6,1723.6 730.4,1725.3 732.1,1727.5 733.9,1728.7 735.7,1730.5 737.5,1732.5 739.3,1733.9 741.1,1735.7 742.9,1737.7 744.6,1739.2 746.4,1741.7 748.2,1743.7 750.1,1745 752.1,1746.3 754.2,1748.6 756.2,1749.6 758.3,1752 760.4,1753.1 762.5,1755.4 764.6,1756.5 766.7,1759.1 768.8,1760.2 770.8,1762.6 772.9,1764.2 775.1,1765.7 777.5,1767.5 780,1769.2 782.5,1769.5 785,1771.4 787.5,1772 790,1772.4 792.5,1773.4 795,1773.8 797.5,1775.6 800,1776.1 802.5,1777.5 805,1779.1 807.5,1780.7 810,1782.3 812.5,1783 815,1783.4 817.5,1784.8 820,1785.3 822.5,1785.9 825,1785.8 827.5,1786 830,1786.4 832.5,1786.2 835,1786.3 837.5,1786 840,1786.3 842.5,1785.7 845,1785.8 847.5,1785.2 850,1784.2 852.5,1784.6 855,1783.9 857.5,1783.9 860,1785.2 862.5,1785.1 865,1786.3 867.5,1786.5 870,1788 872.5,1788.4 875,1788.3 877.5,1789.1 880,1789.2 882.5,1789.9 885,1790.6 887.5,1790.8 890,1791.6 892.5,1792.8 895,1793 897.5,1793.5 900,1793.5 902.5,1794 905,1795.2 907.5,1795.2 910,1796.4 912.5,1796.8 915,1797.8 917.5,1798.4 920,1798.1 922.5,1798.5 925,1798.9 927.5,1798.7" fill="none" stroke="#f7941d" stroke-width="5" stroke-linejoin="round" stroke-linecap="round" />
<polyline points="497.5,1788.7 500,1789.4 502.5,1789.8 505,1791.2 507.5,1791.2 510,1792.3 512.5,1793.4 515,1794.8 517.5,1795 520,1796.5 522.5,1796.9 525,1798 527.5,1799.4 530,1800.9 532.5,1802 535,1802.7 537.5,1802.5 540,1802 542.5,1801.6 545,1801.6 547.5,1802.1 549.8,1800.8 551.9,1798.8 553.8,1797.1 555.6,1794.5 557.2,1792.3 558.2,1790.4 558.9,1787.5 559.6,1785.1 560.3,1782.8 561,1780.4 561.7,1777.4 562.4,1775.5 563.1,1772.9 563.7,1770.6 564.1,1767.9 564.4,1765.5 564.8,1762.5 565.1,1759.7 565.5,1758 565.8,1754.6 566.2,1752.9 566.5,1750 566.9,1747.7 567.2,1744.7 567.6,1742.2 567.9,1739.7 568.3,1737.7 568.6,1734.6 569,1732.8 569.3,1729.5 569.7,1727.6 570,1725.5 570.4,1722.3 570.7,1719.8 571.1,1718.1 571.4,1714.5 571.8,1712.1 572.1,1710.3 572.5,1706.9 572.9,1705 573.2,1702.9 573.6,1700.3 573.9,1697.6 574.3,1695.6 574.6,1692 575.1,1690.3 575.6,1687.4 576.2,1685 576.9,1682.8 577.5,1680.4 578.1,1677.3 578.8,1674.6 579.4,1672.3 580.4,1669.8 582.1,1668 584.2,1664.7 586.4,1662.7 588.8,1661.7 591.2,1662.4 593.4,1663.7 595.6,1664.3 597.8,1666.5 599.8,1667.8 601.2,1670.3 602.5,1672.4 603.8,1674.8 605,1677.9 606.2,1680.2 607.5,1682.7 608.8,1684.4 610,1687.6 611.2,1690 612.5,1692.7 613.8,1694.8 615,1697.4 616.2,1700.1 617.5,1702.2 618.8,1704.6 620,1707.5 621.1,1709.5 622.2,1712.1 623.3,1715.5 624.4,1717.5 625.6,1720.4 626.7,1722.7 627.8,1725.5 628.9,1727.7 630,1730.1 631.2,1732.7 632.5,1734.6 633.8,1736.7 635,1738.9 636.2,1740.7 637.5,1743.2 638.8,1745.3 640.1,1747.8 641.7,1749.3 643.3,1751.2 645,1753.8 646.7,1756.4 648.3,1757.6 650.1,1760.1 652.1,1762.2 654.2,1763.3 656.2,1765.6 658.3,1767.1 660.4,1768.3 662.6,1769.4 664.9,1771.5 667.2,1772.5 669.6,1773.4 672,1775 674.4,1776.3 676.2,1776.8 676.9,1774.8 677.1,1771.9 677.2,1770.5 677.4,1767.4 677.5,1765.5 677.7,1763.1 677.8,1760.5 678,1757.8 678.1,1754.7 678.3,1752 678.5,1749.6 678.6,1747 678.8,1745.2 678.9,1742.7 679.1,1740.4 679.2,1737.6 679.4,1734.8 679.5,1732.8 679.7,1729.9 679.8,1727.9 680,1725.5 680.1,1722.2 680.2,1719.8 680.4,1717.8 680.5,1715.6 680.6,1712.7 680.8,1709.6 680.9,1707.9 681,1704.7 681.1,1702.6 681.2,1700.2 681.4,1697.4 681.5,1695.1 681.6,1692 681.8,1689.7 681.9,1687.8 682,1685.3 682.1,1682.8 682.2,1679.6 682.4,1677 682.5,1674.9 682.6,1672.5 682.8,1669.7 682.9,1668.1 683,1665 683.1,1662.3 683.2,1659.9 683.4,1657 683.5,1655.5 683.6,1652.8 683.8,1650.5 683.9,1647.4 684,1644.9 684.1,1642.4 684.2,1640.1 684.4,1637.1 684.5,1635.6 684.6,1632.1 684.8,1630.4 684.9,1627.4 685,1624.8 685.1,1622.5 685.2,1620.1 685.4,1617.7 685.5,1614.8 685.6,1612.1 685.8,1609.9 685.9,1607 686,1604.4 686.1,1602.9 686.2,1600.3 686.4,1597.3 686.5,1595.5 686.6,1591.9 686.8,1590.2 686.9,1587.7 687,1585.2 687.1,1583 687.2,1579.5 687.4,1577.5 687.5,1574.7 687.7,1572.8 687.8,1569.5 687.9,1567.5 688.1,1564.6 688.2,1563.1 688.4,1560.4 688.5,1558 688.7,1554.6 688.9,1553 689,1550.4 689.2,1547 689.3,1544.9 689.4,1542.4 689.6,1540.2 689.8,1537.8 689.9,1534.8 690,1532.8 690.2,1530.4 690.4,1526.9 690.5,1525.2 690.7,1522.8 690.8,1520.4 690.9,1518 691.1,1515.1 691.3,1512.4 691.5,1509.9 691.7,1507.9 692,1505.1 692.2,1502.9 692.4,1500.2 692.7,1496.9 692.9,1495.5 693.1,1492.1 693.4,1490.4 693.6,1487.8 693.8,1485.2 694.1,1482.6 694.3,1479.9 694.5,1477.3 694.8,1475.2 695,1471.9 695.4,1469.9 695.7,1467.8 696.1,1464.9 696.4,1462.5 696.8,1460 697.1,1457.5 697.7,1454.6 698.8,1453.2 700,1451.2 701.2,1448.1 702.8,1446.9 705,1445.3 707.5,1443.9 709.7,1442.5 711.2,1445.2 712.5,1447.9 713.8,1449.5 715,1451.7 716.2,1455.1 717.5,1457.2 718.8,1458.6 720.3,1460.8 722.5,1462.9 725,1463.5 727.5,1464.9 729.8,1466.5 731.7,1467.7 733.3,1470.3 735,1471.7 736.7,1474.2 738.3,1475.9 740.2,1477 742.5,1477.6 745,1478.1 747.5,1478.9 750,1480 752.6,1479.8 755.4,1480.2 758.3,1481.5 761,1482.2 763.3,1483.9 765.4,1485.5 767.3,1487.8 768.8,1490.6 770,1491.9 771.2,1495.2 772.5,1498 773.8,1500 775,1503 776.2,1504.5 777.5,1508 778.8,1510.2 780,1512.4 781.7,1515.2 784.4,1516.2 787.3,1517.3 790,1519 792.5,1521.4 795,1524.2 797.5,1525.6 800,1526.5 802.5,1527.9 804.8,1530.6 806.5,1532.8 808,1535.1 809.5,1538 811,1539.8 812.8,1542.8 815,1544.5 817.5,1545.9 820,1547.1 822.5,1549.2 825,1550.6 827.5,1551.9 829.8,1554.3 831.7,1555.7 833.3,1557.8 835,1559.4 836.7,1560.7 838.3,1563.5 840.2,1564.6 842.5,1566.7 845,1568.6 847.3,1571 849.2,1573.8 850.8,1574.9 852.5,1577.2 854.2,1579.9 855.8,1581.7 857.4,1583.3 858.8,1585.8 860,1588.8 861.2,1591 862.5,1592.4 863.8,1595.7 865,1598.2 866.5,1599.8 868.4,1601.4 870.6,1603.7 872.8,1604.6 875,1606.1 877.1,1608.4 879.2,1610.1 881.2,1611.4 883.3,1613.4 885.4,1615.1 887.4,1615.9 889.2,1619 890.8,1620.4 892.5,1623.2 894.2,1625.4 895.8,1627.3 897.5,1630 899,1631.6 900.5,1634.5 902,1635.6 903.5,1638.3 905,1639.5 906.5,1642.1 908,1644.6 909.5,1646 911,1648.5 912.8,1649.5 915,1651.1 917.5,1653.6 920,1654.7 922.5,1655.4 925,1656.4 927.5,1657.7" fill="none" stroke="#ec2024" stroke-width="5.2" stroke-linejoin="round" stroke-linecap="round" />
<polyline points="497.5,1788.6 500,1788.5 502.5,1789.6 505,1788.8 507.5,1789.1 510,1789.9 512.5,1789.8 515,1789 517.5,1789.3 520,1789.2 522.5,1789.8 525,1789.2 527.5,1789.9 530,1790 532.5,1789.7 535,1790.1 537.5,1790.7 540,1791.4 542.5,1791 545,1792.1 547.5,1792 550,1791.7 552.5,1791.2 555,1789.7 557.2,1787 559,1785.6 560.5,1782.6 562,1780.3 563.5,1777.9 565,1775.5 566.6,1772.7 568.1,1770.5 569.7,1768 571.6,1765.3 574.2,1764.5 577.1,1763.6 579.9,1762.3 582.5,1762.7 585,1762.2 587.5,1762.2 590,1761.9 592.5,1762 595,1760.9 597.5,1760.2 600,1760.7 602.5,1761.7 605,1762.6 607.5,1763.5 609.9,1765.5 612,1766.1 614,1767.6 616,1769.2 618,1770.5 620,1772.9 622,1774.3 624,1775.7 626,1777.1 628,1778.8 630.1,1780 632.5,1781.3 635,1783.2 637.5,1784.2 640,1786 642.5,1787.5 645,1788 647.5,1787.9 650,1788.4 652.5,1789.5 655,1789.6 657.5,1789.7 660,1790.8 662.5,1791.7 665,1792.4 667.5,1792.6 669.9,1793.6 672.2,1794.6 674.5,1795.8 676.5,1796.3 677.9,1795.1 679,1793.1 680.2,1791.2 681.4,1788.7 683,1786.4 685.6,1784.8 688.6,1784.8 691.2,1784.4 693.8,1786.1 696.4,1787.2 699.4,1786.2 702.3,1785.2 705,1786.5 707.5,1788.3 710,1789.9 712.5,1791.4 715,1792.6 717.5,1793.6 720,1794.7 722.5,1795 725,1794.4 727.5,1792.7 730,1791.8 732.5,1791.3 735,1790.8 737.5,1792.2 740,1792.3 742.5,1794.5 745,1796.2 747.5,1797 750,1798.3 752.5,1799 755,1799.7 757.5,1800.1 760,1799.4 762.5,1799.7 765,1800.4 767.5,1800 770,1799.4 772.5,1800.3 775,1799.7 777.5,1800.3 780,1799.9 782.5,1800.6 785,1801.3 787.5,1800.9 790,1800.7 792.5,1799.6 795,1799.1 797.5,1798.9 800,1798.7 802.5,1798 805,1797.7 807.5,1796.6 810,1796.2 812.5,1795 815,1794.3 817.5,1793.7 820,1792.1 822.5,1792.3 825,1792.6 827.5,1791.3 830,1792 832.5,1791.7 835,1791.3 837.5,1790.7 840,1791.4 842.5,1790.2 845,1791 847.5,1790.3 850,1789.7 852.5,1789.9 855,1789.6 857.5,1788.9 860,1788.4 862.5,1787.8 865,1787.6 867.5,1786.8 870,1787.6 872.5,1786.7 875,1786.8 877.5,1786.7 880,1785.6 882.5,1785.5 885,1785.8 887.5,1784.7 890,1784.5 892.5,1784.1 895,1784.3 897.5,1783.4 900,1782.7 902.5,1782.8 905,1782.7 907.5,1783 910,1782.8 912.5,1782.2 915,1782 917.5,1780.6 920,1778.6 922.5,1776.5 925,1775.4 927.5,1775.5" fill="none" stroke="#151313" stroke-width="5.2" stroke-linejoin="round" stroke-linecap="round" />
<path d="M514 1631V1734H559" fill="none" stroke="#231f20" stroke-width="2.2" stroke-linejoin="miter"/>
<line x1="827" y1="1351.2" x2="864.3" y2="1351.2" stroke="#ec2024" stroke-width="5.6" />
<line x1="827" y1="1402" x2="864.3" y2="1402" stroke="#f7941d" stroke-width="5.6" />
<line x1="827" y1="1453" x2="864.3" y2="1453" stroke="#231f20" stroke-width="5.6" />
<polygon points="903.9,1324.5 880.7,1347.6 892.2,1351.5 881.8,1369.5 911.6,1344.3 897,1341.6" fill="#ec2024"/>
<defs><linearGradient id="cyl" x1="0" y1="0" x2="1" y2="0"><stop offset="0" stop-color="#fff"/><stop offset="0.3" stop-color="#f2f2f2"/><stop offset="0.75" stop-color="#c9c9c9"/><stop offset="1" stop-color="#9b9b9b"/></linearGradient><linearGradient id="cyv" x1="0" y1="0" x2="0" y2="1"><stop offset="0" stop-color="#555" stop-opacity="0.85"/><stop offset="0.1" stop-color="#999" stop-opacity="0"/><stop offset="0.88" stop-color="#999" stop-opacity="0"/><stop offset="1" stop-color="#3a3a3a" stop-opacity="0.9"/></linearGradient><linearGradient id="cyf" x1="0" y1="0" x2="1" y2="0"><stop offset="0" stop-color="#fff" stop-opacity="1"/><stop offset="0.35" stop-color="#fff" stop-opacity="0"/></linearGradient><g id="puffi"><rect x="0" y="0" width="190" height="300" fill="url(#cyl)"/><rect x="0" y="0" width="190" height="300" fill="url(#cyv)"/><rect x="0" y="0" width="190" height="300" fill="url(#cyf)"/><ellipse cx="182" cy="150" rx="13" ry="149" fill="#b5b5b5" stroke="#4d4d4d" stroke-width="7"/><path d="M178 118C215 120 240 140 262 108C250 55 292 18 332 40C352 -2 432 -2 442 58C474 78 484 130 472 160C512 172 512 232 470 242C450 284 402 262 380 272C340 292 300 272 280 242C250 222 222 192 178 178Z" fill="#c7dbe2" stroke="#9db4bd" stroke-width="5"/><path d="M300 135C268 100 290 48 332 54C364 60 362 104 336 107C318 109 312 90 326 84M372 112C350 60 382 18 422 34C452 50 446 102 416 102C398 102 394 80 408 74M262 150C300 204 360 212 400 192C430 176 452 190 456 218M432 172C452 160 468 176 456 192" fill="none" stroke="#1f2d3d" stroke-width="12" stroke-linecap="round"/></g></defs>
<use href="#puffi" transform="translate(877.4 1388) scale(0.1193)"/>
<g transform="translate(896.3 1458.2)" fill="none" stroke="#231f20" stroke-width="5.2" stroke-linecap="butt"><ellipse cx="-0.6" cy="0.3" rx="15.3" ry="11.1" transform="rotate(-6)"/><path d="M-15 21.2L15.2 -21"/></g>
<text x="1026.5" y="1366" font-size="58" font-weight="bold" textLength="32.5" lengthAdjust="spacingAndGlyphs" stroke="#231f20" stroke-width="0.8">G</text>
<text x="1314.2" y="1360.8" textLength="223.2" lengthAdjust="spacingAndGlyphs" stroke="#231f20" stroke-width="0.45">CS response</text>
<text x="1960.2" y="1360.8" textLength="223.9" lengthAdjust="spacingAndGlyphs" stroke="#231f20" stroke-width="0.45">US response</text>
<text x="1222.7" y="1404.6" textLength="170.7" lengthAdjust="spacingAndGlyphs" fill="#3b55a5" stroke="#3b55a5" stroke-width="0.45">Appetitive</text>
<text x="1487.4" y="1404.6" textLength="149.2" lengthAdjust="spacingAndGlyphs" fill="#ec2024" stroke="#ec2024" stroke-width="0.45">Aversive</text>
<text x="1858.7" y="1404.6" textLength="170.7" lengthAdjust="spacingAndGlyphs" fill="#3b55a5" stroke="#3b55a5" stroke-width="0.45">Appetitive</text>
<text x="2122.7" y="1404.6" textLength="149.2" lengthAdjust="spacingAndGlyphs" fill="#ec2024" stroke="#ec2024" stroke-width="0.45">Aversive</text>
<path d="M1230 1473.8V1537.5M1219.2 1473.8h21.6M1219.2 1537.5h21.6" stroke="#3b55a5" stroke-width="3.7" fill="none"/>
<path d="M1317.5 1568.2V1634.2M1306.7 1568.2h21.6M1306.7 1634.2h21.6" stroke="#3b55a5" stroke-width="3.7" fill="none"/>
<path d="M1405 1693.8V1727.5M1394.2 1693.8h21.6M1394.2 1727.5h21.6" stroke="#3b55a5" stroke-width="3.7" fill="none"/>
<polyline points="1230,1505.8 1317.5,1601.2 1405,1711.2" fill="none" stroke="#3b55a5" stroke-width="3.9" stroke-linejoin="round" stroke-linecap="round" />
<circle cx="1230" cy="1505.8" r="11.1" fill="#3b55a5" />
<circle cx="1317.5" cy="1601.2" r="11.1" fill="#3b55a5" />
<circle cx="1405" cy="1711.2" r="11.1" fill="#3b55a5" />
<path d="M1492 1728.8V1754.5M1481.2 1728.8h21.6M1481.2 1754.5h21.6" stroke="#ec2024" stroke-width="3.7" fill="none"/>
<path d="M1579.5 1620.8V1681.8M1568.7 1620.8h21.6M1568.7 1681.8h21.6" stroke="#ec2024" stroke-width="3.7" fill="none"/>
<path d="M1667 1538.8V1635M1656.2 1538.8h21.6M1656.2 1635h21.6" stroke="#ec2024" stroke-width="3.7" fill="none"/>
<polyline points="1492,1742 1579.5,1651.2 1667,1587" fill="none" stroke="#ec2024" stroke-width="3.9" stroke-linejoin="round" stroke-linecap="round" />
<circle cx="1492" cy="1742" r="11.1" fill="#ec2024" />
<circle cx="1579.5" cy="1651.2" r="11.1" fill="#ec2024" />
<circle cx="1667" cy="1587" r="11.1" fill="#ec2024" />
<text x="1283.8" y="1543.8" text-anchor="middle" font-size="31" fill="#3b55a5" stroke="#3b55a5" stroke-width="0.5">*</text>
<text x="1372.5" y="1653.8" text-anchor="middle" font-size="31" fill="#3b55a5" stroke="#3b55a5" stroke-width="0.5">*</text>
<text x="1513.5" y="1696.8" text-anchor="middle" font-size="31" fill="#ec2024" stroke="#ec2024" stroke-width="0.5">*</text>
<text x="1617" y="1610.8" text-anchor="middle" font-size="31" fill="#ec2024" stroke="#ec2024" stroke-width="0.5">*</text>
<path d="M1186.2 1389.7V1776M1172.5 1774.2H1700" fill="none" stroke="#231f20" stroke-width="3.9"/>
<path d="M1186.2 1391.5h-14M1186.2 1518h-14M1186.2 1646.2h-14M1230 1774.2v14M1317.5 1774.2v14M1405 1774.2v14M1491.5 1774.2v14M1579.5 1774.2v14M1667.5 1774.2v14" fill="none" stroke="#231f20" stroke-width="3.9"/>
<text x="1119.8" y="1405.6" textLength="43.5" lengthAdjust="spacingAndGlyphs" stroke="#231f20" stroke-width="0.45">12</text>
<text x="1144.6" y="1534.6" textLength="21.8" lengthAdjust="spacingAndGlyphs" stroke="#231f20" stroke-width="0.45">8</text>
<text x="1144.6" y="1662.6" textLength="21.8" lengthAdjust="spacingAndGlyphs" stroke="#231f20" stroke-width="0.45">4</text>
<text x="1144.6" y="1791" textLength="21.8" lengthAdjust="spacingAndGlyphs" stroke="#231f20" stroke-width="0.45">0</text>
<text transform="translate(1120.8 1589.5) rotate(-90)" x="-41.3" textLength="82.6" lengthAdjust="spacingAndGlyphs" stroke="#231f20" stroke-width="0.45">AUC</text>
<path d="M1219 1791.4C1221.5 1802.4 1230.3 1809.7 1230.3 1820.9C1230.3 1828.6 1225.6 1833 1219 1833C1212.4 1833 1207.7 1828.6 1207.7 1820.9C1207.7 1809.7 1216.5 1802.4 1219 1791.4Z" fill="#54b6e9" stroke="#48a2dc" stroke-width="1.7"/>
<path d="M1243.6 1791.4C1246.1 1802.4 1254.9 1809.7 1254.9 1820.9C1254.9 1828.6 1250.2 1833 1243.6 1833C1237 1833 1232.3 1828.6 1232.3 1820.9C1232.3 1809.7 1241.1 1802.4 1243.6 1791.4Z" fill="#54b6e9" stroke="#48a2dc" stroke-width="1.7"/>
<path d="M1318.4 1791.4C1320.9 1802.4 1329.7 1809.7 1329.7 1820.9C1329.7 1828.6 1325 1833 1318.4 1833C1311.8 1833 1307.1 1828.6 1307.1 1820.9C1307.1 1809.7 1315.9 1802.4 1318.4 1791.4Z" fill="#54b6e9" stroke="#48a2dc" stroke-width="1.7"/>
<g transform="translate(1405 1811.3)" fill="none" stroke="#231f20" stroke-width="5.2" stroke-linecap="butt"><ellipse cx="-0.6" cy="0.3" rx="15.3" ry="11.1" transform="rotate(-6)"/><path d="M-15 21.2L15.2 -21"/></g>
<g transform="translate(1491.5 1811.3)" fill="none" stroke="#231f20" stroke-width="5.2" stroke-linecap="butt"><ellipse cx="-0.6" cy="0.3" rx="15.3" ry="11.1" transform="rotate(-6)"/><path d="M-15 21.2L15.2 -21"/></g>
<use href="#puffi" transform="translate(1555 1794.5) scale(0.1142)"/>
<polygon points="1674.3,1790 1652.1,1812.1 1663.1,1815.8 1653.2,1833 1681.6,1808.9 1667.7,1806.3" fill="#ec2024"/>
<path d="M1867.5 1532V1590M1856.7 1532h21.6M1856.7 1590h21.6" stroke="#3b55a5" stroke-width="3.7" fill="none"/>
<path d="M1954.8 1580.5V1633.8M1944 1580.5h21.6M1944 1633.8h21.6" stroke="#3b55a5" stroke-width="3.7" fill="none"/>
<path d="M2042 1720V1738.2M2031.2 1720h21.6M2031.2 1738.2h21.6" stroke="#3b55a5" stroke-width="3.7" fill="none"/>
<polyline points="1867.5,1560.8 1954.8,1606.8 2042,1728.8" fill="none" stroke="#3b55a5" stroke-width="3.9" stroke-linejoin="round" stroke-linecap="round" />
<circle cx="1867.5" cy="1560.8" r="11.1" fill="#3b55a5" />
<circle cx="1954.8" cy="1606.8" r="11.1" fill="#3b55a5" />
<circle cx="2042" cy="1728.8" r="11.1" fill="#3b55a5" />
<path d="M2129.2 1697.5V1717.5M2118.4 1697.5h21.6M2118.4 1717.5h21.6" stroke="#ec2024" stroke-width="3.7" fill="none"/>
<path d="M2216.5 1623.2V1650.8M2205.7 1623.2h21.6M2205.7 1650.8h21.6" stroke="#ec2024" stroke-width="3.7" fill="none"/>
<path d="M2304 1409.2V1551.2M2293.2 1409.2h21.6M2293.2 1551.2h21.6" stroke="#ec2024" stroke-width="3.7" fill="none"/>
<polyline points="2129.2,1707.5 2216.5,1637 2304,1480.5" fill="none" stroke="#ec2024" stroke-width="3.9" stroke-linejoin="round" stroke-linecap="round" />
<circle cx="2129.2" cy="1707.5" r="11.1" fill="#ec2024" />
<circle cx="2216.5" cy="1637" r="11.1" fill="#ec2024" />
<circle cx="2304" cy="1480.5" r="11.1" fill="#ec2024" />
<text x="1916" y="1582.3" text-anchor="middle" font-size="31" fill="#3b55a5" stroke="#3b55a5" stroke-width="0.5">*</text>
<text x="2011.5" y="1667.8" text-anchor="middle" font-size="31" fill="#3b55a5" stroke="#3b55a5" stroke-width="0.5">*</text>
<text x="2021.5" y="1679.8" text-anchor="middle" font-size="31" fill="#3b55a5" stroke="#3b55a5" stroke-width="0.5">*</text>
<text x="2157" y="1669.3" text-anchor="middle" font-size="31" fill="#ec2024" stroke="#ec2024" stroke-width="0.5">*</text>
<text x="2237.2" y="1553.8" text-anchor="middle" font-size="31" fill="#ec2024" stroke="#ec2024" stroke-width="0.5">*</text>
<path d="M1826.2 1388.2V1774.3M1811 1772.5H2339" fill="none" stroke="#231f20" stroke-width="3.9"/>
<path d="M1826.2 1390h-15M1826.2 1453.2h-15M1826.2 1517h-15M1826.2 1580.5h-15M1826.2 1643.8h-15M1826.2 1707.5h-15M1868.5 1772.5v14.5M1957 1772.5v14.5M2044.8 1772.5v14.5M2130.2 1772.5v14.5M2217.8 1772.5v14.5M2306 1772.5v14.5" fill="none" stroke="#231f20" stroke-width="3.9"/>
<text x="1759.3" y="1402.8" textLength="43.5" lengthAdjust="spacingAndGlyphs" stroke="#231f20" stroke-width="0.45">15</text>
<text x="1759.3" y="1466.3" textLength="43.5" lengthAdjust="spacingAndGlyphs" stroke="#231f20" stroke-width="0.45">12</text>
<text x="1783.1" y="1530.3" textLength="21.8" lengthAdjust="spacingAndGlyphs" stroke="#231f20" stroke-width="0.45">9</text>
<text x="1783.1" y="1593.3" textLength="21.8" lengthAdjust="spacingAndGlyphs" stroke="#231f20" stroke-width="0.45">6</text>
<text x="1783.1" y="1657.8" textLength="21.8" lengthAdjust="spacingAndGlyphs" stroke="#231f20" stroke-width="0.45">3</text>
<text x="1783.1" y="1722.6" textLength="21.8" lengthAdjust="spacingAndGlyphs" stroke="#231f20" stroke-width="0.45">0</text>
<text x="1770" y="1787.6" textLength="34.8" lengthAdjust="spacingAndGlyphs" stroke="#231f20" stroke-width="0.45">-3</text>
<text transform="translate(1759.2 1590.5) rotate(-90)" x="-41.3" textLength="82.6" lengthAdjust="spacingAndGlyphs" stroke="#231f20" stroke-width="0.45">AUC</text>
<path d="M1858.2 1790.6C1860.7 1801.6 1869.5 1808.9 1869.5 1820.1C1869.5 1827.8 1864.8 1832.2 1858.2 1832.2C1851.6 1832.2 1846.9 1827.8 1846.9 1820.1C1846.9 1808.9 1855.7 1801.6 1858.2 1790.6Z" fill="#54b6e9" stroke="#48a2dc" stroke-width="1.7"/>
<path d="M1882.6 1790.6C1885.1 1801.6 1893.9 1808.9 1893.9 1820.1C1893.9 1827.8 1889.2 1832.2 1882.6 1832.2C1876 1832.2 1871.3 1827.8 1871.3 1820.1C1871.3 1808.9 1880.1 1801.6 1882.6 1790.6Z" fill="#54b6e9" stroke="#48a2dc" stroke-width="1.7"/>
<path d="M1957 1790.6C1959.5 1801.6 1968.3 1808.9 1968.3 1820.1C1968.3 1827.8 1963.6 1832.2 1957 1832.2C1950.4 1832.2 1945.7 1827.8 1945.7 1820.1C1945.7 1808.9 1954.5 1801.6 1957 1790.6Z" fill="#54b6e9" stroke="#48a2dc" stroke-width="1.7"/>
<g transform="translate(2044 1810.8)" fill="none" stroke="#231f20" stroke-width="5.2" stroke-linecap="butt"><ellipse cx="-0.6" cy="0.3" rx="15.3" ry="11.1" transform="rotate(-6)"/><path d="M-15 21.2L15.2 -21"/></g>
<g transform="translate(2131.5 1810.8)" fill="none" stroke="#231f20" stroke-width="5.2" stroke-linecap="butt"><ellipse cx="-0.6" cy="0.3" rx="15.3" ry="11.1" transform="rotate(-6)"/><path d="M-15 21.2L15.2 -21"/></g>
<use href="#puffi" transform="translate(2190 1793) scale(0.1167)"/>
<polygon points="2313.3,1788.8 2291,1811 2302.1,1814.7 2292.1,1832 2320.7,1807.7 2306.7,1805.2" fill="#ec2024"/>
</svg>
</body></html>
